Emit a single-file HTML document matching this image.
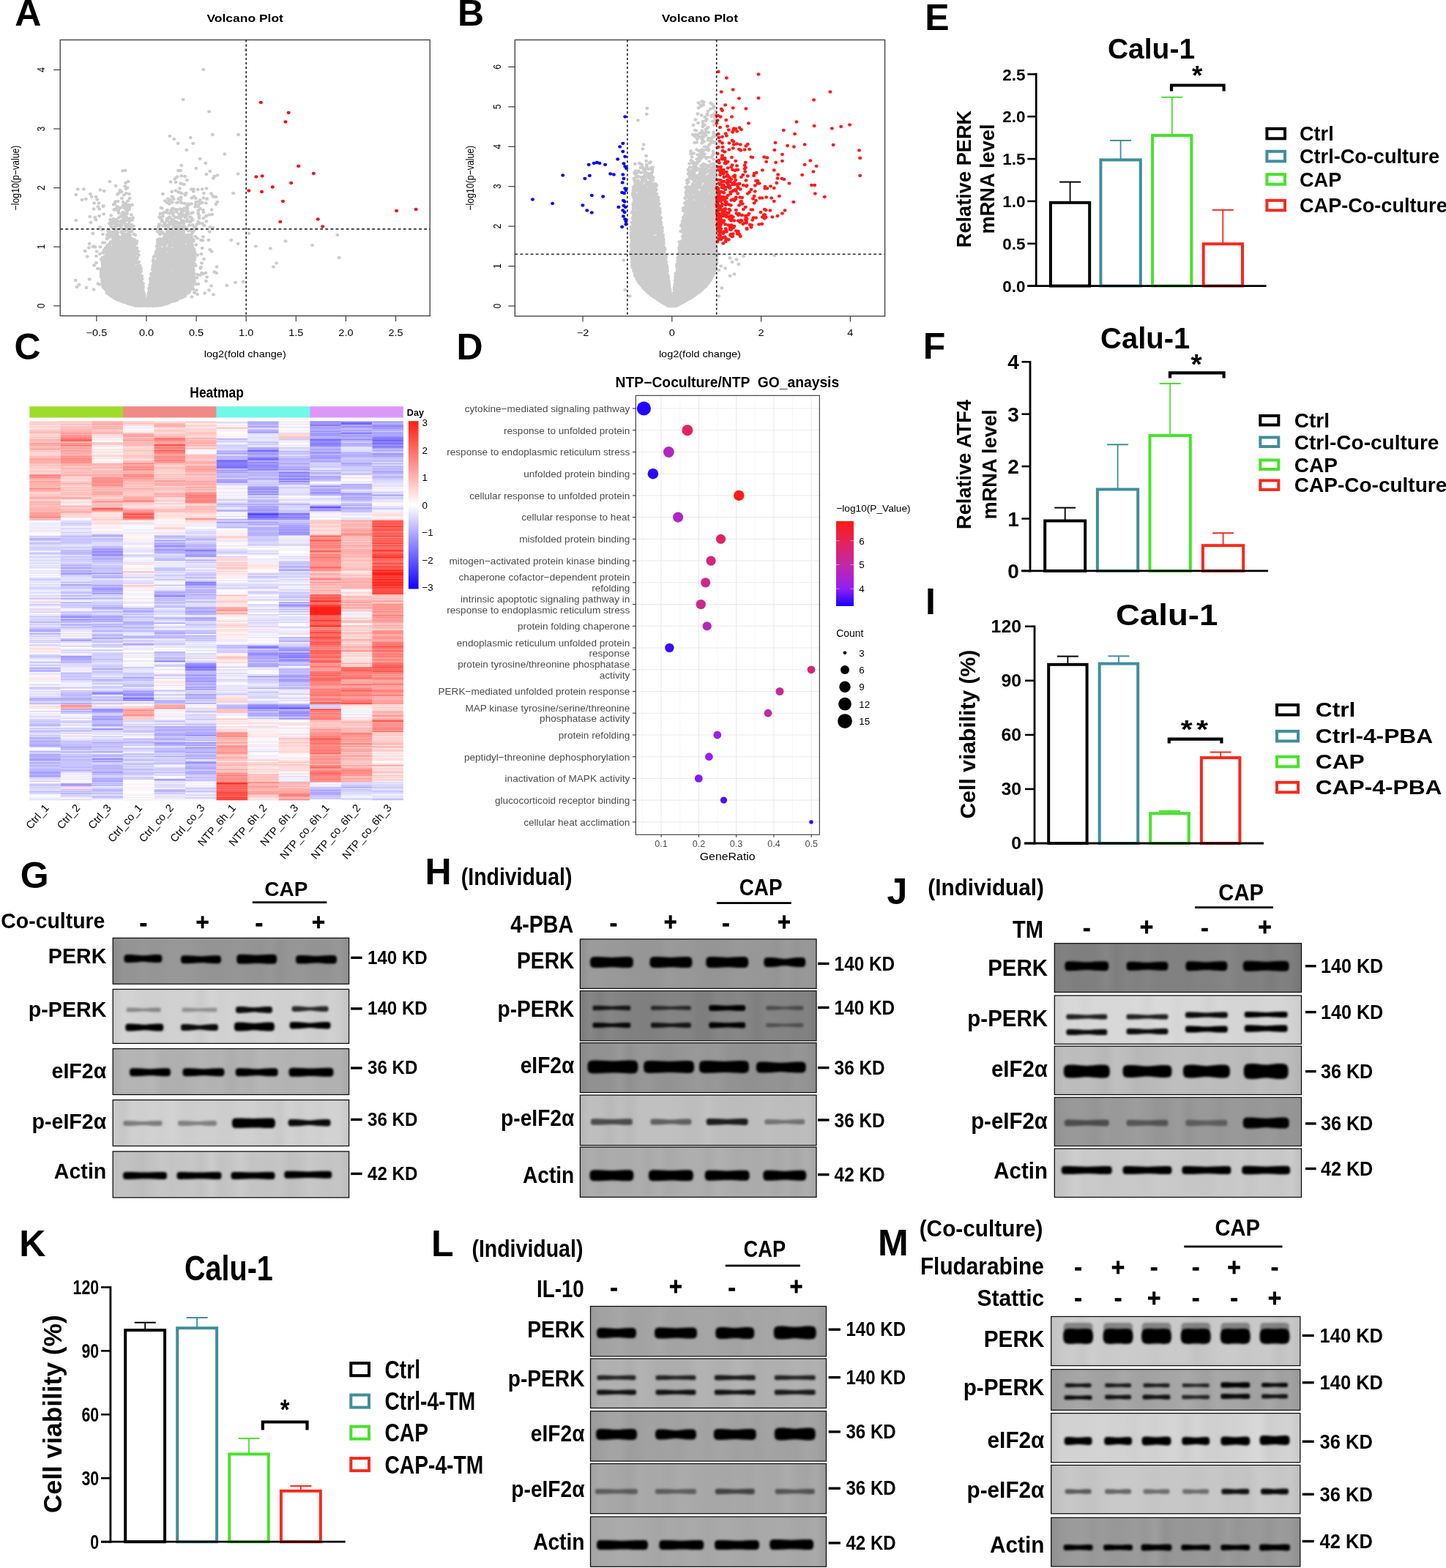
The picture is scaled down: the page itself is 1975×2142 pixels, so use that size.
<!DOCTYPE html>
<html><head><meta charset="utf-8"><title>Figure</title><style>html,body{margin:0;padding:0;background:#fff}svg{display:block}text{font-family:"Liberation Sans", sans-serif}</style></head><body>
<svg width="1975" height="2142" viewBox="0 0 1975 2142">

<rect width="1975" height="2142" fill="#fff"/>
<text transform="translate(334.7 30) scale(1.180 1.000)" font-size="14.8" font-weight="bold" text-anchor="middle">Volcano Plot</text>
<text transform="translate(334.7 488) scale(1.180 1.000)" font-size="12.3" text-anchor="middle">log2(fold change)</text>
<text transform="translate(25.7 243) rotate(-90) scale(1.000 1.180)" font-size="12.3" text-anchor="middle">−log10(p−value)</text>
<path d="M131.9 431.5L131.9 439" stroke="#3a3a3a" stroke-width="1.2"/>
<text transform="translate(131.9 458.6) scale(1.180 1.000)" font-size="12.3" text-anchor="middle">−0.5</text>
<path d="M200 431.5L200 439" stroke="#3a3a3a" stroke-width="1.2"/>
<text transform="translate(200 458.6) scale(1.180 1.000)" font-size="12.3" text-anchor="middle">0.0</text>
<path d="M268.1 431.5L268.1 439" stroke="#3a3a3a" stroke-width="1.2"/>
<text transform="translate(268.1 458.6) scale(1.180 1.000)" font-size="12.3" text-anchor="middle">0.5</text>
<path d="M336.2 431.5L336.2 439" stroke="#3a3a3a" stroke-width="1.2"/>
<text transform="translate(336.2 458.6) scale(1.180 1.000)" font-size="12.3" text-anchor="middle">1.0</text>
<path d="M404.3 431.5L404.3 439" stroke="#3a3a3a" stroke-width="1.2"/>
<text transform="translate(404.3 458.6) scale(1.180 1.000)" font-size="12.3" text-anchor="middle">1.5</text>
<path d="M472.4 431.5L472.4 439" stroke="#3a3a3a" stroke-width="1.2"/>
<text transform="translate(472.4 458.6) scale(1.180 1.000)" font-size="12.3" text-anchor="middle">2.0</text>
<path d="M540.5 431.5L540.5 439" stroke="#3a3a3a" stroke-width="1.2"/>
<text transform="translate(540.5 458.6) scale(1.180 1.000)" font-size="12.3" text-anchor="middle">2.5</text>
<path d="M82.2 417.8L73.2 417.8" stroke="#3a3a3a" stroke-width="1.2"/>
<text transform="translate(61.2 417.8) rotate(-90) scale(1.000 1.180)" font-size="12.3" text-anchor="middle">0</text>
<path d="M82.2 337.2L73.2 337.2" stroke="#3a3a3a" stroke-width="1.2"/>
<text transform="translate(61.2 337.2) rotate(-90) scale(1.000 1.180)" font-size="12.3" text-anchor="middle">1</text>
<path d="M82.2 256.6L73.2 256.6" stroke="#3a3a3a" stroke-width="1.2"/>
<text transform="translate(61.2 256.6) rotate(-90) scale(1.000 1.180)" font-size="12.3" text-anchor="middle">2</text>
<path d="M82.2 176L73.2 176" stroke="#3a3a3a" stroke-width="1.2"/>
<text transform="translate(61.2 176) rotate(-90) scale(1.000 1.180)" font-size="12.3" text-anchor="middle">3</text>
<path d="M82.2 95.4L73.2 95.4" stroke="#3a3a3a" stroke-width="1.2"/>
<text transform="translate(61.2 95.4) rotate(-90) scale(1.000 1.180)" font-size="12.3" text-anchor="middle">4</text>
<path transform="scale(1.180 1)" d="M87.5 383h0M88 266h0M88 301h0M89 392h0M90 258.5h0M91.5 389h0M95 273h0M97 258.5h0M98.5 343h0M99.5 272h0M100 393h0M101 350.5h0M103 338.5h0M103.5 333h0M103.5 381.5h0M104 296h0M104.5 265h0M105 304h0M106 268.5h0M107.5 319h0M107.5 337h0M108.5 285.5h0M108.5 395.5h0M109 277.5h0M109 336.5h0M109 362.5h0M110 297h0M110 337.5h0M111 269h0M111 300.5h0M111.5 350h0M111.5 359h0M112 343.5h0M112.5 272.5h0M113 367h0M113.5 282.5h0M113.5 387.5h0M114.5 277.5h0M114.5 388.5h0M115 285.5h0M115 295h0M115.5 310.5h0M115.5 347h0M116 259.5h0M116 337.5h0M116.5 367.5h0M117 354.5h0M117 369h0M117 372h0M117 374h0M117 377.5h0M117 388.5h0M118 314h0M118 354.5h0M118 378.5h0M118 380h0M118.5 352h0M118.5 358.5h0M118.5 371h0M118.5 371.5h0M118.5 374h0M118.5 377h0M118.5 377.5h0M118.5 382h0M118.5 383h0M118.5 384h0M119 320h0M119 331.5h0M119 345h0M119 361.5h0M119 362.5h0M119 365h0M119 373.5h0M119 378h0M119 379h0M119 385h0M119 386h0M119.5 281h0M119.5 282h0M119.5 345.5h0M119.5 359h0M119.5 359.5h0M119.5 367h0M119.5 370h0M119.5 374h0M119.5 387.5h0M119.5 392h0M119.5 392.5h0M120 292.5h0M120 344.5h0M120 355.5h0M120 366.5h0M120 368h0M120 369.5h0M120 374.5h0M120 380.5h0M120 387.5h0M120 388h0M120 391.5h0M120 392h0M120 393h0M120.5 261h0M120.5 341.5h0M120.5 354h0M120.5 367h0M120.5 373h0M120.5 375h0M120.5 377h0M120.5 379.5h0M120.5 380h0M120.5 381h0M120.5 383.5h0M120.5 393h0M121 331.5h0M121 343.5h0M121 350.5h0M121 353h0M121 356h0M121 367.5h0M121 382h0M121 386h0M121 387h0M121 388h0M121 388.5h0M121 389h0M121.5 362h0M121.5 362.5h0M121.5 370h0M121.5 378.5h0M121.5 380h0M121.5 383.5h0M121.5 388.5h0M121.5 392h0M121.5 394.5h0M122 339h0M122 357h0M122 365.5h0M122 368h0M122 374h0M122 379.5h0M122 381h0M122 382h0M122 393h0M122.5 343h0M122.5 344h0M122.5 349.5h0M122.5 350.5h0M122.5 360h0M122.5 377h0M122.5 378h0M122.5 378.5h0M122.5 386h0M122.5 386.5h0M122.5 387.5h0M122.5 393.5h0M122.5 396h0M123 355h0M123 356.5h0M123 360h0M123 366h0M123 375h0M123 376h0M123 378.5h0M123 389h0M123 391.5h0M123 395.5h0M123.5 346h0M123.5 347.5h0M123.5 349h0M123.5 354.5h0M123.5 357.5h0M123.5 360.5h0M123.5 363.5h0M123.5 374h0M123.5 375h0M123.5 383h0M123.5 384.5h0M123.5 387h0M123.5 391.5h0M123.5 397.5h0M123.5 400h0M124 321h0M124 325.5h0M124 326.5h0M124 336h0M124 340.5h0M124 343h0M124 355h0M124 356h0M124 366.5h0M124 376.5h0M124 380h0M124 387h0M124 389.5h0M124 392h0M124 395.5h0M124.5 324.5h0M124.5 343.5h0M124.5 344h0M124.5 345h0M124.5 353h0M124.5 354h0M124.5 358h0M124.5 365.5h0M124.5 370h0M124.5 373h0M124.5 376h0M124.5 379h0M124.5 391.5h0M124.5 394.5h0M124.5 400h0M125 314.5h0M125 342h0M125 349.5h0M125 353.5h0M125 358h0M125 360h0M125 360.5h0M125 363h0M125 376h0M125 378h0M125 387.5h0M125 395h0M125 396h0M125 401h0M125.5 316.5h0M125.5 334h0M125.5 341.5h0M125.5 355h0M125.5 360h0M125.5 361h0M125.5 362h0M125.5 377.5h0M125.5 380.5h0M125.5 385h0M125.5 386h0M125.5 387.5h0M125.5 389.5h0M125.5 391h0M125.5 392.5h0M125.5 397h0M125.5 399h0M125.5 401.5h0M126 318h0M126 321h0M126 339h0M126 348.5h0M126 355h0M126 356.5h0M126 362h0M126 364.5h0M126 369.5h0M126 372.5h0M126 384.5h0M126 386.5h0M126 387.5h0M126 389.5h0M126 390h0M126 396h0M126 398.5h0M126 399.5h0M126.5 305.5h0M126.5 315h0M126.5 315.5h0M126.5 318h0M126.5 322h0M126.5 340.5h0M126.5 341.5h0M126.5 344h0M126.5 349h0M126.5 353h0M126.5 356.5h0M126.5 357.5h0M126.5 360h0M126.5 365.5h0M126.5 370h0M126.5 370.5h0M126.5 371h0M126.5 373h0M126.5 376h0M126.5 377.5h0M126.5 378.5h0M126.5 384h0M126.5 393h0M126.5 397.5h0M126.5 398.5h0M127 248h0M127 322h0M127 324h0M127 333.5h0M127 337h0M127 339.5h0M127 359h0M127 365h0M127 365.5h0M127 366.5h0M127 367.5h0M127 369h0M127 373h0M127 382h0M127 382.5h0M127 385.5h0M127 387.5h0M127 389h0M127 391h0M127 396.5h0M127 402h0M127.5 300h0M127.5 321.5h0M127.5 345.5h0M127.5 350.5h0M127.5 358.5h0M127.5 364h0M127.5 369h0M127.5 373.5h0M127.5 380h0M127.5 381h0M127.5 388.5h0M127.5 397.5h0M127.5 399.5h0M127.5 403.5h0M128 319h0M128 323.5h0M128 330.5h0M128 338.5h0M128 342.5h0M128 346.5h0M128 350h0M128 355h0M128 358.5h0M128 366.5h0M128 368h0M128 373.5h0M128 375.5h0M128 377h0M128 379h0M128 380h0M128 380.5h0M128 383.5h0M128 386.5h0M128 388h0M128 388.5h0M128 390.5h0M128 391.5h0M128 398h0M128 401.5h0M128.5 294.5h0M128.5 303h0M128.5 308h0M128.5 309.5h0M128.5 340h0M128.5 344h0M128.5 347.5h0M128.5 350h0M128.5 350.5h0M128.5 354h0M128.5 359h0M128.5 361.5h0M128.5 367h0M128.5 371h0M128.5 371.5h0M128.5 372.5h0M128.5 380h0M128.5 381h0M128.5 382h0M128.5 387h0M128.5 389h0M128.5 389.5h0M128.5 391.5h0M128.5 393.5h0M128.5 394h0M128.5 396h0M128.5 400h0M128.5 400.5h0M129 303.5h0M129 323h0M129 339h0M129 344.5h0M129 350.5h0M129 354h0M129 359.5h0M129 366.5h0M129 367.5h0M129 373h0M129 374h0M129 389.5h0M129 392h0M129 393h0M129 397h0M129 401h0M129 402h0M129 403h0M129 405h0M129.5 311h0M129.5 345.5h0M129.5 355h0M129.5 356h0M129.5 358h0M129.5 366.5h0M129.5 370h0M129.5 371h0M129.5 372h0M129.5 373h0M129.5 378.5h0M129.5 381h0M129.5 383h0M129.5 390.5h0M129.5 392.5h0M129.5 395h0M129.5 397.5h0M130 302.5h0M130 331.5h0M130 338h0M130 349.5h0M130 350h0M130 356.5h0M130 378.5h0M130 380.5h0M130 383h0M130 385.5h0M130 390.5h0M130 391.5h0M130 396.5h0M130 397h0M130 400.5h0M130.5 303h0M130.5 305.5h0M130.5 317h0M130.5 322h0M130.5 340.5h0M130.5 350h0M130.5 351.5h0M130.5 356h0M130.5 356.5h0M130.5 362.5h0M130.5 364h0M130.5 368.5h0M130.5 369h0M130.5 374h0M130.5 376h0M130.5 377h0M130.5 382.5h0M130.5 385.5h0M130.5 386h0M130.5 387h0M130.5 389h0M130.5 390h0M130.5 392h0M130.5 397h0M130.5 399h0M130.5 401.5h0M130.5 405.5h0M131 326.5h0M131 329h0M131 333.5h0M131 342.5h0M131 351.5h0M131 357.5h0M131 359h0M131 364.5h0M131 368.5h0M131 383h0M131 384.5h0M131 385h0M131 386.5h0M131 389.5h0M131 393.5h0M131 395h0M131 400h0M131 402h0M131.5 279.5h0M131.5 299h0M131.5 317.5h0M131.5 326.5h0M131.5 336.5h0M131.5 339h0M131.5 340h0M131.5 347.5h0M131.5 350.5h0M131.5 352h0M131.5 361.5h0M131.5 364.5h0M131.5 368h0M131.5 380h0M131.5 383h0M131.5 385h0M131.5 386h0M131.5 394.5h0M131.5 398h0M131.5 399h0M131.5 401h0M131.5 403h0M131.5 403.5h0M131.5 404.5h0M132 279h0M132 286.5h0M132 319h0M132 329.5h0M132 347.5h0M132 361.5h0M132 366h0M132 368h0M132 378h0M132 378.5h0M132 380.5h0M132 381.5h0M132 387h0M132 389h0M132 393.5h0M132 395h0M132 396h0M132 398h0M132 402.5h0M132 403h0M132 404h0M132 406h0M132 407h0M132.5 302h0M132.5 322h0M132.5 331h0M132.5 345h0M132.5 350h0M132.5 351h0M132.5 353h0M132.5 361h0M132.5 365.5h0M132.5 368h0M132.5 376.5h0M132.5 381.5h0M132.5 386h0M132.5 388h0M132.5 391h0M132.5 392h0M132.5 397h0M132.5 397.5h0M132.5 398h0M132.5 407.5h0M133 278.5h0M133 304.5h0M133 309.5h0M133 315.5h0M133 328h0M133 336h0M133 354h0M133 358.5h0M133 368h0M133 371h0M133 375.5h0M133 379h0M133 380.5h0M133 382.5h0M133 383.5h0M133 388.5h0M133 390.5h0M133 393.5h0M133 396.5h0M133 400h0M133 402h0M133 406.5h0M133.5 275.5h0M133.5 306h0M133.5 310h0M133.5 316.5h0M133.5 318.5h0M133.5 329.5h0M133.5 337.5h0M133.5 353h0M133.5 357.5h0M133.5 367.5h0M133.5 368h0M133.5 370h0M133.5 373.5h0M133.5 376h0M133.5 377h0M133.5 381.5h0M133.5 383.5h0M133.5 384h0M133.5 385h0M133.5 387h0M133.5 389h0M133.5 391.5h0M133.5 397h0M133.5 397.5h0M133.5 399h0M133.5 400.5h0M133.5 404.5h0M133.5 408h0M134 254h0M134 285.5h0M134 286.5h0M134 318h0M134 324h0M134 332.5h0M134 335.5h0M134 338h0M134 339.5h0M134 344h0M134 344.5h0M134 355.5h0M134 360h0M134 369h0M134 374h0M134 382h0M134 383h0M134 383.5h0M134 384.5h0M134 385h0M134 390.5h0M134 391h0M134 399.5h0M134 403h0M134 406.5h0M134 407.5h0M134.5 285.5h0M134.5 300h0M134.5 304h0M134.5 309.5h0M134.5 315h0M134.5 322h0M134.5 348h0M134.5 352h0M134.5 358h0M134.5 360h0M134.5 368h0M134.5 373h0M134.5 374.5h0M134.5 377h0M134.5 380.5h0M134.5 386.5h0M134.5 389h0M134.5 390.5h0M134.5 391h0M134.5 393h0M134.5 393.5h0M134.5 395.5h0M134.5 398h0M134.5 400.5h0M134.5 402.5h0M134.5 403.5h0M134.5 406.5h0M134.5 408.5h0M135 314h0M135 318.5h0M135 329h0M135 329.5h0M135 341h0M135 356.5h0M135 357h0M135 368.5h0M135 372h0M135 373.5h0M135 375.5h0M135 376.5h0M135 377.5h0M135 386h0M135 388.5h0M135 391h0M135 392.5h0M135 394.5h0M135 398.5h0M135 399.5h0M135 401.5h0M135 405.5h0M135 406.5h0M135 407.5h0M135 408h0M135 409h0M135.5 282.5h0M135.5 303h0M135.5 325h0M135.5 327h0M135.5 330.5h0M135.5 331.5h0M135.5 334.5h0M135.5 336.5h0M135.5 339h0M135.5 349h0M135.5 350.5h0M135.5 352h0M135.5 360h0M135.5 363.5h0M135.5 364.5h0M135.5 365h0M135.5 365.5h0M135.5 367.5h0M135.5 376.5h0M135.5 378.5h0M135.5 380h0M135.5 381.5h0M135.5 383h0M135.5 384h0M135.5 390.5h0M135.5 391.5h0M135.5 395h0M135.5 398h0M135.5 400.5h0M135.5 401h0M135.5 402h0M135.5 403.5h0M135.5 404.5h0M135.5 405h0M135.5 408.5h0M136 265.5h0M136 282.5h0M136 302h0M136 314h0M136 317.5h0M136 318.5h0M136 322h0M136 332.5h0M136 333h0M136 335h0M136 347h0M136 356h0M136 357h0M136 359h0M136 360.5h0M136 364.5h0M136 365h0M136 368.5h0M136 372.5h0M136 379h0M136 380.5h0M136 386h0M136 388h0M136 390.5h0M136 396h0M136 397.5h0M136 398.5h0M136 400.5h0M136 401h0M136 402h0M136 405h0M136 407h0M136 408.5h0M136 409.5h0M136.5 275h0M136.5 307h0M136.5 308h0M136.5 323h0M136.5 334.5h0M136.5 362h0M136.5 367h0M136.5 369h0M136.5 374h0M136.5 375h0M136.5 377.5h0M136.5 378.5h0M136.5 380.5h0M136.5 382h0M136.5 385.5h0M136.5 392.5h0M136.5 393.5h0M136.5 397h0M136.5 399.5h0M136.5 402.5h0M136.5 405.5h0M136.5 407.5h0M137 264.5h0M137 287h0M137 288h0M137 325.5h0M137 336.5h0M137 340.5h0M137 342h0M137 342.5h0M137 343.5h0M137 346.5h0M137 351.5h0M137 352h0M137 355h0M137 359.5h0M137 371h0M137 373h0M137 376h0M137 377.5h0M137 380.5h0M137 383h0M137 385.5h0M137 386.5h0M137 387.5h0M137 388.5h0M137 390.5h0M137 397h0M137 399h0M137 403h0M137 405h0M137 406h0M137.5 291h0M137.5 297.5h0M137.5 313h0M137.5 323.5h0M137.5 329h0M137.5 330h0M137.5 338h0M137.5 340h0M137.5 356h0M137.5 366h0M137.5 366.5h0M137.5 370h0M137.5 375h0M137.5 376.5h0M137.5 381.5h0M137.5 389h0M137.5 389.5h0M137.5 391h0M137.5 392h0M137.5 393h0M137.5 399.5h0M137.5 401h0M137.5 402h0M137.5 408h0M138 325h0M138 334.5h0M138 347h0M138 348h0M138 376.5h0M138 379.5h0M138 380h0M138 381.5h0M138 383h0M138 385.5h0M138 392h0M138 393.5h0M138 398h0M138 399.5h0M138 400h0M138 402h0M138 403.5h0M138 406.5h0M138.5 331.5h0M138.5 334.5h0M138.5 346h0M138.5 357h0M138.5 358h0M138.5 361.5h0M138.5 364h0M138.5 379.5h0M138.5 380h0M138.5 388h0M138.5 391h0M138.5 393h0M138.5 393.5h0M138.5 397h0M138.5 397.5h0M138.5 398h0M138.5 400.5h0M138.5 406h0M138.5 406.5h0M138.5 410.5h0M139 260h0M139 262.5h0M139 303h0M139 332h0M139 339.5h0M139 342h0M139 353h0M139 360h0M139 361.5h0M139 363.5h0M139 365.5h0M139 369.5h0M139 373h0M139 374.5h0M139 387h0M139 388.5h0M139 393h0M139 394h0M139 395.5h0M139 401h0M139 405.5h0M139 408h0M139 409h0M139.5 284h0M139.5 296h0M139.5 340.5h0M139.5 345h0M139.5 345.5h0M139.5 354.5h0M139.5 359.5h0M139.5 361h0M139.5 362h0M139.5 364h0M139.5 367h0M139.5 368h0M139.5 377.5h0M139.5 378.5h0M139.5 383h0M139.5 388.5h0M139.5 389.5h0M139.5 390.5h0M139.5 393.5h0M139.5 398.5h0M139.5 400h0M139.5 402h0M139.5 403.5h0M139.5 406.5h0M139.5 407.5h0M139.5 408h0M139.5 409.5h0M139.5 410h0M139.5 410.5h0M140 307.5h0M140 310h0M140 339h0M140 344.5h0M140 353.5h0M140 354h0M140 361h0M140 366.5h0M140 379.5h0M140 382h0M140 383.5h0M140 386.5h0M140 387.5h0M140 389h0M140 396h0M140 397.5h0M140 398.5h0M140 399h0M140 399.5h0M140 400.5h0M140 405.5h0M140 407.5h0M140 408.5h0M140 409.5h0M140 411h0M140.5 262h0M140.5 303.5h0M140.5 306h0M140.5 307h0M140.5 307.5h0M140.5 317h0M140.5 342h0M140.5 348h0M140.5 349h0M140.5 352.5h0M140.5 360h0M140.5 364.5h0M140.5 367h0M140.5 375h0M140.5 375.5h0M140.5 377h0M140.5 383h0M140.5 383.5h0M140.5 385h0M140.5 389.5h0M140.5 390h0M140.5 398h0M140.5 399.5h0M140.5 402.5h0M140.5 403.5h0M140.5 408.5h0M140.5 409.5h0M141 271h0M141 294.5h0M141 301.5h0M141 317.5h0M141 323.5h0M141 324.5h0M141 325.5h0M141 336h0M141 338h0M141 341.5h0M141 344.5h0M141 346.5h0M141 356h0M141 357.5h0M141 358.5h0M141 360.5h0M141 366.5h0M141 367.5h0M141 377h0M141 379h0M141 381h0M141 382.5h0M141 386h0M141 386.5h0M141 389h0M141 391h0M141 393.5h0M141 394h0M141 395.5h0M141 396h0M141 396.5h0M141 398h0M141 402h0M141 404h0M141 405.5h0M141 408.5h0M141 410h0M141.5 292.5h0M141.5 312.5h0M141.5 319h0M141.5 323.5h0M141.5 329h0M141.5 331.5h0M141.5 332h0M141.5 333.5h0M141.5 337.5h0M141.5 354.5h0M141.5 361.5h0M141.5 372h0M141.5 372.5h0M141.5 373.5h0M141.5 378h0M141.5 384.5h0M141.5 385.5h0M141.5 387h0M141.5 389.5h0M141.5 394h0M141.5 396.5h0M141.5 398h0M141.5 398.5h0M141.5 400h0M141.5 401.5h0M141.5 403h0M141.5 406h0M141.5 407.5h0M141.5 409h0M141.5 410h0M141.5 411h0M141.5 412h0M142 233.5h0M142 294.5h0M142 316h0M142 326h0M142 339.5h0M142 352h0M142 352.5h0M142 353.5h0M142 361.5h0M142 365.5h0M142 367h0M142 374h0M142 379.5h0M142 380h0M142 386h0M142 387h0M142 387.5h0M142 389.5h0M142 390h0M142 393.5h0M142 397h0M142 397.5h0M142 399h0M142 399.5h0M142 401h0M142 404h0M142 405.5h0M142 410h0M142 410.5h0M142 412h0M142.5 276h0M142.5 281.5h0M142.5 290h0M142.5 304h0M142.5 327.5h0M142.5 330h0M142.5 331.5h0M142.5 332.5h0M142.5 338h0M142.5 342.5h0M142.5 343.5h0M142.5 352.5h0M142.5 358.5h0M142.5 369.5h0M142.5 376.5h0M142.5 377h0M142.5 377.5h0M142.5 380h0M142.5 381.5h0M142.5 382.5h0M142.5 384h0M142.5 386h0M142.5 386.5h0M142.5 390h0M142.5 391h0M142.5 393h0M142.5 394.5h0M142.5 398h0M142.5 400.5h0M142.5 402h0M142.5 403h0M142.5 406h0M142.5 409h0M142.5 412.5h0M143 280h0M143 298.5h0M143 301.5h0M143 320h0M143 326h0M143 334.5h0M143 337h0M143 343h0M143 343.5h0M143 348.5h0M143 355.5h0M143 369.5h0M143 371.5h0M143 376h0M143 376.5h0M143 377h0M143 377.5h0M143 378.5h0M143 379.5h0M143 383h0M143 384h0M143 386.5h0M143 391.5h0M143 395h0M143 397.5h0M143 402.5h0M143 403.5h0M143 407.5h0M143 408h0M143 410h0M143 412.5h0M143.5 266.5h0M143.5 299.5h0M143.5 303.5h0M143.5 313h0M143.5 319.5h0M143.5 326.5h0M143.5 330h0M143.5 344.5h0M143.5 354h0M143.5 354.5h0M143.5 370.5h0M143.5 374.5h0M143.5 386.5h0M143.5 390.5h0M143.5 391h0M143.5 392h0M143.5 393h0M143.5 394.5h0M143.5 395.5h0M143.5 399.5h0M143.5 400.5h0M143.5 403h0M143.5 404.5h0M143.5 408h0M143.5 408.5h0M143.5 410.5h0M143.5 411.5h0M143.5 412.5h0M144 281.5h0M144 284.5h0M144 321h0M144 331.5h0M144 332.5h0M144 333h0M144 336h0M144 350.5h0M144 361h0M144 365h0M144 369h0M144 374.5h0M144 376h0M144 380h0M144 385h0M144 386h0M144 388h0M144 391h0M144 401.5h0M144 403.5h0M144 404h0M144 406.5h0M144 407.5h0M144 410h0M144 412h0M144 412.5h0M144.5 254.5h0M144.5 314.5h0M144.5 321.5h0M144.5 336h0M144.5 338h0M144.5 342.5h0M144.5 346.5h0M144.5 351.5h0M144.5 353.5h0M144.5 357h0M144.5 358.5h0M144.5 362h0M144.5 362.5h0M144.5 364.5h0M144.5 370.5h0M144.5 376h0M144.5 377.5h0M144.5 378h0M144.5 380.5h0M144.5 381h0M144.5 383.5h0M144.5 389.5h0M144.5 390h0M144.5 392.5h0M144.5 393h0M144.5 393.5h0M144.5 394h0M144.5 394.5h0M144.5 395h0M144.5 397h0M144.5 398h0M144.5 399.5h0M144.5 400h0M144.5 402h0M144.5 402.5h0M144.5 408h0M144.5 409h0M144.5 411.5h0M144.5 412.5h0M145 233h0M145 297h0M145 299.5h0M145 308h0M145 312.5h0M145 314.5h0M145 325h0M145 325.5h0M145 334.5h0M145 337.5h0M145 338h0M145 350.5h0M145 353h0M145 353.5h0M145 369.5h0M145 371.5h0M145 372.5h0M145 376h0M145 382.5h0M145 383.5h0M145 385h0M145 390h0M145 392h0M145 394h0M145 395.5h0M145 398.5h0M145 399h0M145 401h0M145 405.5h0M145 406h0M145 410.5h0M145 413h0M145.5 250h0M145.5 278h0M145.5 292h0M145.5 293.5h0M145.5 294h0M145.5 298.5h0M145.5 306.5h0M145.5 315h0M145.5 332.5h0M145.5 336h0M145.5 347h0M145.5 355h0M145.5 364.5h0M145.5 365h0M145.5 370.5h0M145.5 373h0M145.5 375h0M145.5 379h0M145.5 385.5h0M145.5 386h0M145.5 387h0M145.5 393h0M145.5 394.5h0M145.5 398.5h0M145.5 400h0M145.5 402.5h0M145.5 403h0M145.5 403.5h0M145.5 406.5h0M145.5 409h0M145.5 411.5h0M145.5 412.5h0M146 258h0M146 264h0M146 301h0M146 312h0M146 313h0M146 328.5h0M146 335h0M146 340.5h0M146 352h0M146 361.5h0M146 364.5h0M146 375h0M146 379.5h0M146 384.5h0M146 389h0M146 393.5h0M146 395h0M146 397h0M146 399.5h0M146 400.5h0M146 403.5h0M146 405h0M146 406h0M146 407h0M146 409h0M146 411.5h0M146 412.5h0M146 413h0M146.5 281.5h0M146.5 286h0M146.5 287.5h0M146.5 297h0M146.5 301h0M146.5 320h0M146.5 332h0M146.5 337h0M146.5 344h0M146.5 350.5h0M146.5 363.5h0M146.5 365h0M146.5 372h0M146.5 373.5h0M146.5 375.5h0M146.5 383.5h0M146.5 385.5h0M146.5 388h0M146.5 396h0M146.5 400h0M146.5 402.5h0M146.5 408h0M146.5 408.5h0M146.5 409.5h0M146.5 411h0M147 288.5h0M147 292h0M147 308.5h0M147 319.5h0M147 337h0M147 340.5h0M147 345h0M147 353.5h0M147 357h0M147 363.5h0M147 364h0M147 365h0M147 379.5h0M147 381.5h0M147 382h0M147 383h0M147 387.5h0M147 388h0M147 391.5h0M147 392.5h0M147 397.5h0M147 398h0M147 399h0M147 399.5h0M147 400.5h0M147 401.5h0M147 402.5h0M147 403h0M147 404h0M147 408h0M147 412.5h0M147 413.5h0M147 414h0M147.5 256.5h0M147.5 282h0M147.5 312h0M147.5 326h0M147.5 332h0M147.5 345.5h0M147.5 352.5h0M147.5 359h0M147.5 367h0M147.5 371h0M147.5 378h0M147.5 378.5h0M147.5 382.5h0M147.5 385.5h0M147.5 398h0M147.5 398.5h0M147.5 399h0M147.5 407.5h0M147.5 409h0M147.5 411.5h0M147.5 412h0M147.5 414.5h0M148 274.5h0M148 311h0M148 323.5h0M148 325h0M148 326h0M148 326.5h0M148 329h0M148 340.5h0M148 343.5h0M148 344.5h0M148 348h0M148 352.5h0M148 357.5h0M148 362.5h0M148 364.5h0M148 370.5h0M148 372h0M148 383.5h0M148 384h0M148 387.5h0M148 390h0M148 391.5h0M148 392h0M148 393h0M148 394h0M148 395.5h0M148 396.5h0M148 397h0M148 397.5h0M148 399h0M148 402h0M148 403.5h0M148 407.5h0M148 408h0M148 409.5h0M148 410h0M148 412h0M148 413h0M148.5 248h0M148.5 299.5h0M148.5 314.5h0M148.5 328.5h0M148.5 335.5h0M148.5 337.5h0M148.5 338h0M148.5 340.5h0M148.5 344h0M148.5 345.5h0M148.5 348h0M148.5 350.5h0M148.5 352.5h0M148.5 359h0M148.5 362h0M148.5 367h0M148.5 367.5h0M148.5 368.5h0M148.5 375h0M148.5 375.5h0M148.5 379.5h0M148.5 380h0M148.5 380.5h0M148.5 382h0M148.5 386h0M148.5 391h0M148.5 392.5h0M148.5 397h0M148.5 403.5h0M148.5 404h0M148.5 404.5h0M148.5 405h0M148.5 412.5h0M149 280h0M149 306h0M149 321.5h0M149 325.5h0M149 329.5h0M149 333.5h0M149 335h0M149 346.5h0M149 351h0M149 357h0M149 360h0M149 371h0M149 372h0M149 372.5h0M149 377.5h0M149 393h0M149 394h0M149 395.5h0M149 397h0M149 398.5h0M149 402h0M149 407.5h0M149 408h0M149 409h0M149 411h0M149 413h0M149 415h0M149.5 265h0M149.5 284h0M149.5 286h0M149.5 300h0M149.5 318.5h0M149.5 321.5h0M149.5 323.5h0M149.5 339.5h0M149.5 360.5h0M149.5 361.5h0M149.5 369.5h0M149.5 371.5h0M149.5 376.5h0M149.5 378h0M149.5 382.5h0M149.5 388h0M149.5 389h0M149.5 389.5h0M149.5 390h0M149.5 390.5h0M149.5 392.5h0M149.5 396.5h0M149.5 397h0M149.5 401.5h0M149.5 402h0M149.5 403h0M149.5 404.5h0M149.5 405h0M149.5 407h0M149.5 408.5h0M149.5 410h0M149.5 411h0M149.5 412.5h0M149.5 414.5h0M150 271h0M150 282h0M150 298.5h0M150 302.5h0M150 309.5h0M150 325.5h0M150 328.5h0M150 329h0M150 335.5h0M150 336.5h0M150 347h0M150 354.5h0M150 357h0M150 357.5h0M150 363.5h0M150 364.5h0M150 372h0M150 372.5h0M150 373h0M150 373.5h0M150 376h0M150 376.5h0M150 377h0M150 378.5h0M150 385h0M150 392h0M150 395h0M150 399h0M150 400h0M150 400.5h0M150 405h0M150 409h0M150 409.5h0M150 410.5h0M150 412h0M150 412.5h0M150 414h0M150.5 314.5h0M150.5 321.5h0M150.5 325h0M150.5 337.5h0M150.5 356h0M150.5 363h0M150.5 370h0M150.5 374h0M150.5 380.5h0M150.5 386.5h0M150.5 387.5h0M150.5 397.5h0M150.5 398.5h0M150.5 406h0M150.5 407h0M150.5 408h0M150.5 409h0M150.5 410h0M150.5 410.5h0M150.5 411h0M150.5 411.5h0M150.5 412.5h0M151 317h0M151 334h0M151 348.5h0M151 359.5h0M151 363h0M151 365h0M151 378h0M151 380h0M151 381.5h0M151 383h0M151 386.5h0M151 389h0M151 389.5h0M151 390.5h0M151 396h0M151 398h0M151 405h0M151 406h0M151 407h0M151 407.5h0M151 408h0M151 409h0M151 410h0M151 410.5h0M151 411h0M151 411.5h0M151 414.5h0M151 415h0M151.5 332h0M151.5 335.5h0M151.5 352.5h0M151.5 359h0M151.5 360h0M151.5 361.5h0M151.5 369.5h0M151.5 372.5h0M151.5 382.5h0M151.5 386h0M151.5 386.5h0M151.5 388h0M151.5 394h0M151.5 395h0M151.5 395.5h0M151.5 397h0M151.5 398.5h0M151.5 402h0M151.5 405.5h0M151.5 406h0M151.5 407h0M151.5 409.5h0M151.5 410h0M151.5 410.5h0M151.5 413h0M151.5 413.5h0M151.5 414h0M151.5 414.5h0M151.5 416h0M152 293.5h0M152 307h0M152 310h0M152 310.5h0M152 337.5h0M152 339.5h0M152 341.5h0M152 346h0M152 348h0M152 361h0M152 367h0M152 369.5h0M152 370.5h0M152 384.5h0M152 388.5h0M152 392.5h0M152 394.5h0M152 395h0M152 396h0M152 398h0M152 399h0M152 401h0M152 401.5h0M152 402h0M152 402.5h0M152 408h0M152 408.5h0M152 410h0M152 410.5h0M152 412h0M152 413h0M152 414h0M152.5 309h0M152.5 316h0M152.5 326h0M152.5 341.5h0M152.5 344h0M152.5 344.5h0M152.5 352h0M152.5 357h0M152.5 368h0M152.5 369.5h0M152.5 370h0M152.5 370.5h0M152.5 374.5h0M152.5 380h0M152.5 380.5h0M152.5 384.5h0M152.5 385h0M152.5 386h0M152.5 389.5h0M152.5 392h0M152.5 393h0M152.5 397.5h0M152.5 398.5h0M152.5 400.5h0M152.5 402.5h0M152.5 404h0M152.5 408h0M152.5 412h0M152.5 413h0M152.5 414h0M152.5 414.5h0M152.5 415h0M153 280h0M153 300.5h0M153 313.5h0M153 329.5h0M153 331.5h0M153 338h0M153 338.5h0M153 339h0M153 366h0M153 368h0M153 377h0M153 377.5h0M153 384h0M153 387h0M153 394.5h0M153 398.5h0M153 400h0M153 401.5h0M153 402h0M153 406h0M153 406.5h0M153 407h0M153 408.5h0M153 411h0M153 412h0M153 413h0M153 413.5h0M153 415h0M153.5 342h0M153.5 342.5h0M153.5 360h0M153.5 364.5h0M153.5 370h0M153.5 382.5h0M153.5 384.5h0M153.5 388.5h0M153.5 395h0M153.5 398h0M153.5 399.5h0M153.5 401.5h0M153.5 404h0M153.5 405h0M153.5 406h0M153.5 407h0M153.5 408h0M153.5 408.5h0M153.5 410.5h0M153.5 411h0M153.5 415.5h0M154 297.5h0M154 329.5h0M154 331.5h0M154 335h0M154 354h0M154 356.5h0M154 362.5h0M154 363.5h0M154 364h0M154 369.5h0M154 371h0M154 373.5h0M154 378h0M154 379.5h0M154 384.5h0M154 389h0M154 392.5h0M154 399.5h0M154 403.5h0M154 405.5h0M154 409h0M154 409.5h0M154 410.5h0M154 411h0M154 411.5h0M154 413h0M154 413.5h0M154 415.5h0M154.5 309h0M154.5 361.5h0M154.5 363h0M154.5 365h0M154.5 367h0M154.5 373h0M154.5 377.5h0M154.5 378h0M154.5 384h0M154.5 388h0M154.5 398.5h0M154.5 400h0M154.5 402.5h0M154.5 404.5h0M154.5 405h0M154.5 407.5h0M154.5 408h0M154.5 408.5h0M154.5 411h0M154.5 413h0M154.5 414h0M154.5 414.5h0M154.5 415.5h0M155 320h0M155 329.5h0M155 344.5h0M155 362h0M155 367h0M155 374.5h0M155 379h0M155 384.5h0M155 391.5h0M155 392.5h0M155 393h0M155 395h0M155 397h0M155 398h0M155 400.5h0M155 405.5h0M155 409h0M155 409.5h0M155 410.5h0M155 411h0M155 411.5h0M155 413.5h0M155 416h0M155 417h0M155.5 327.5h0M155.5 329h0M155.5 336.5h0M155.5 347h0M155.5 348.5h0M155.5 354h0M155.5 369.5h0M155.5 372h0M155.5 377h0M155.5 381h0M155.5 387h0M155.5 390.5h0M155.5 391h0M155.5 396h0M155.5 400h0M155.5 402h0M155.5 405.5h0M155.5 406h0M155.5 406.5h0M155.5 407.5h0M155.5 409.5h0M155.5 411.5h0M155.5 415h0M155.5 415.5h0M155.5 416.5h0M155.5 417h0M156 333h0M156 338.5h0M156 343h0M156 352h0M156 355h0M156 356h0M156 357h0M156 359h0M156 369.5h0M156 372.5h0M156 375.5h0M156 383h0M156 387.5h0M156 389.5h0M156 396h0M156 396.5h0M156 403.5h0M156 405.5h0M156 408.5h0M156 409.5h0M156 410h0M156 410.5h0M156 411h0M156 413h0M156 414.5h0M156 416h0M156 416.5h0M156 417h0M156.5 321h0M156.5 339h0M156.5 344.5h0M156.5 351h0M156.5 351.5h0M156.5 357.5h0M156.5 368h0M156.5 369h0M156.5 373.5h0M156.5 380.5h0M156.5 385h0M156.5 386.5h0M156.5 387h0M156.5 389h0M156.5 390h0M156.5 397h0M156.5 398h0M156.5 401h0M156.5 401.5h0M156.5 403.5h0M156.5 404h0M156.5 404.5h0M156.5 405.5h0M156.5 406.5h0M156.5 407.5h0M156.5 408h0M156.5 410h0M156.5 410.5h0M156.5 411h0M156.5 413h0M156.5 413.5h0M156.5 414h0M156.5 414.5h0M156.5 416h0M156.5 416.5h0M156.5 417h0M156.5 417.5h0M157 357.5h0M157 372h0M157 378h0M157 380.5h0M157 383.5h0M157 394h0M157 395h0M157 398h0M157 400h0M157 402h0M157 406h0M157 409h0M157 409.5h0M157 410h0M157 410.5h0M157 411h0M157 411.5h0M157 412.5h0M157 413h0M157 413.5h0M157 417h0M157 417.5h0M157.5 332.5h0M157.5 333h0M157.5 342h0M157.5 355h0M157.5 365.5h0M157.5 366h0M157.5 368.5h0M157.5 371h0M157.5 372.5h0M157.5 377h0M157.5 378.5h0M157.5 380.5h0M157.5 386h0M157.5 387.5h0M157.5 393.5h0M157.5 394.5h0M157.5 395h0M157.5 397h0M157.5 399h0M157.5 399.5h0M157.5 401.5h0M157.5 405h0M157.5 406h0M157.5 410.5h0M157.5 413h0M157.5 413.5h0M157.5 414h0M157.5 415h0M157.5 415.5h0M157.5 416h0M157.5 416.5h0M157.5 417h0M157.5 417.5h0M158 332.5h0M158 333h0M158 341h0M158 358.5h0M158 366.5h0M158 368.5h0M158 385h0M158 389h0M158 391h0M158 394h0M158 395h0M158 396h0M158 400h0M158 401.5h0M158 402h0M158 402.5h0M158 405h0M158 407h0M158 407.5h0M158 408h0M158 408.5h0M158 409.5h0M158 410h0M158 410.5h0M158 411h0M158 412.5h0M158 413h0M158 413.5h0M158 414.5h0M158 415h0M158 416.5h0M158 417h0M158 417.5h0M158.5 329.5h0M158.5 338.5h0M158.5 364h0M158.5 368h0M158.5 371h0M158.5 377h0M158.5 379h0M158.5 383h0M158.5 391h0M158.5 402.5h0M158.5 404.5h0M158.5 405.5h0M158.5 410h0M158.5 411h0M158.5 413.5h0M158.5 414h0M158.5 414.5h0M158.5 415.5h0M158.5 416.5h0M159 347h0M159 352h0M159 352.5h0M159 371h0M159 373h0M159 378h0M159 379h0M159 380h0M159 381h0M159 382.5h0M159 390.5h0M159 391.5h0M159 394h0M159 396.5h0M159 397h0M159 399.5h0M159 405h0M159 406h0M159 410h0M159 413h0M159 414h0M159 415.5h0M159 416h0M159 417.5h0M159.5 359.5h0M159.5 360.5h0M159.5 375h0M159.5 383.5h0M159.5 385h0M159.5 386.5h0M159.5 394.5h0M159.5 397.5h0M159.5 398.5h0M159.5 399.5h0M159.5 403.5h0M159.5 404h0M159.5 404.5h0M159.5 405h0M159.5 405.5h0M159.5 406h0M159.5 407h0M159.5 410.5h0M159.5 411.5h0M159.5 413h0M159.5 415h0M159.5 416h0M160 343.5h0M160 363h0M160 366h0M160 374h0M160 376h0M160 379h0M160 386h0M160 386.5h0M160 389.5h0M160 390.5h0M160 391h0M160 393h0M160 394h0M160 400h0M160 404h0M160 405.5h0M160 407.5h0M160 408h0M160 408.5h0M160 409h0M160 409.5h0M160 411.5h0M160 412.5h0M160 413h0M160 414.5h0M160 415.5h0M160 416h0M160 416.5h0M160 417h0M160 417.5h0M160.5 348.5h0M160.5 357.5h0M160.5 358.5h0M160.5 363h0M160.5 368.5h0M160.5 372.5h0M160.5 379.5h0M160.5 380h0M160.5 388h0M160.5 391.5h0M160.5 394.5h0M160.5 399.5h0M160.5 400h0M160.5 401.5h0M160.5 404h0M160.5 406.5h0M160.5 410.5h0M160.5 411.5h0M160.5 412h0M160.5 412.5h0M160.5 413.5h0M160.5 414h0M160.5 414.5h0M160.5 415h0M160.5 415.5h0M160.5 416h0M160.5 416.5h0M160.5 417h0M160.5 417.5h0M161 374h0M161 378h0M161 382.5h0M161 384.5h0M161 385h0M161 392h0M161 393h0M161 395h0M161 402.5h0M161 404.5h0M161 406.5h0M161 408.5h0M161 410h0M161 414h0M161 414.5h0M161 415h0M161 415.5h0M161 417.5h0M161.5 369h0M161.5 377.5h0M161.5 379.5h0M161.5 386h0M161.5 394.5h0M161.5 396h0M161.5 400h0M161.5 402h0M161.5 404.5h0M161.5 405.5h0M161.5 412h0M161.5 413.5h0M161.5 414h0M161.5 416h0M161.5 417.5h0M161.5 418h0M162 363h0M162 366h0M162 366.5h0M162 369.5h0M162 373h0M162 379.5h0M162 394h0M162 395h0M162 401h0M162 402.5h0M162 405h0M162 405.5h0M162 407h0M162 408.5h0M162 409h0M162 410h0M162 411.5h0M162 413.5h0M162 414h0M162 415h0M162 415.5h0M162 416.5h0M162 417h0M162 417.5h0M162.5 384h0M162.5 387h0M162.5 388h0M162.5 392.5h0M162.5 393h0M162.5 394.5h0M162.5 397.5h0M162.5 398h0M162.5 399.5h0M162.5 406h0M162.5 407.5h0M162.5 409h0M162.5 410h0M162.5 412.5h0M162.5 413h0M162.5 414h0M162.5 414.5h0M162.5 416h0M162.5 416.5h0M162.5 417h0M162.5 417.5h0M163 366.5h0M163 368.5h0M163 371h0M163 378h0M163 378.5h0M163 382.5h0M163 394h0M163 396.5h0M163 397h0M163 399h0M163 404.5h0M163 408.5h0M163 409h0M163 409.5h0M163 410.5h0M163 411h0M163 413h0M163 416h0M163.5 380.5h0M163.5 385h0M163.5 386h0M163.5 392h0M163.5 398.5h0M163.5 401.5h0M163.5 403h0M163.5 406.5h0M163.5 407h0M163.5 408.5h0M163.5 409.5h0M163.5 416h0M163.5 416.5h0M163.5 417h0M163.5 417.5h0M164 377h0M164 378.5h0M164 385.5h0M164 390.5h0M164 394.5h0M164 395h0M164 398.5h0M164 404h0M164 406.5h0M164 409h0M164 411h0M164 411.5h0M164 412h0M164 413h0M164 414h0M164 415.5h0M164 416h0M164 416.5h0M164 417.5h0M164.5 381.5h0M164.5 391h0M164.5 392h0M164.5 398h0M164.5 406h0M164.5 409h0M164.5 410.5h0M164.5 413h0M164.5 415h0M164.5 415.5h0M164.5 416.5h0M164.5 417h0M164.5 417.5h0M165 392h0M165 401h0M165 402h0M165 402.5h0M165 407h0M165 408h0M165 408.5h0M165 409.5h0M165 410.5h0M165 411h0M165 412h0M165 416h0M165 417.5h0M165.5 387.5h0M165.5 391.5h0M165.5 392h0M165.5 393.5h0M165.5 397h0M165.5 398h0M165.5 408h0M165.5 411.5h0M165.5 412h0M165.5 414h0M165.5 415h0M165.5 416h0M165.5 416.5h0M165.5 417.5h0M166 399.5h0M166 403h0M166 404h0M166 404.5h0M166 406.5h0M166 409h0M166 413.5h0M166 414h0M166 417h0M166 417.5h0M166.5 401h0M166.5 402h0M166.5 403.5h0M166.5 407h0M166.5 407.5h0M166.5 409.5h0M166.5 410.5h0M166.5 411h0M166.5 411.5h0M166.5 412h0M166.5 412.5h0M166.5 414h0M166.5 414.5h0M166.5 415h0M166.5 415.5h0M166.5 416.5h0M166.5 417h0M167 402.5h0M167 403h0M167 404.5h0M167 406.5h0M167 409h0M167 410h0M167 413.5h0M167 414.5h0M167 416h0M167 417.5h0M167.5 410h0M167.5 410.5h0M167.5 411.5h0M167.5 412.5h0M167.5 413h0M167.5 414h0M167.5 415h0M167.5 416h0M167.5 416.5h0M167.5 417h0M167.5 417.5h0M168 408.5h0M168 409.5h0M168 410h0M168 411h0M168 413h0M168 415h0M168 417h0M168 417.5h0M168.5 410h0M168.5 411.5h0M168.5 417.5h0M169 416h0M169 417.5h0M169.5 416.5h0M170 416.5h0M170 417h0M170 417.5h0M170.5 412h0M170.5 415h0M170.5 415.5h0M170.5 416h0M170.5 416.5h0M171 408h0M171 414h0M171 415h0M171 415.5h0M171 416.5h0M171 417h0M171 417.5h0M171 418h0M171.5 405h0M171.5 411.5h0M171.5 412h0M171.5 413.5h0M171.5 415.5h0M171.5 416h0M171.5 417h0M171.5 417.5h0M172 400h0M172 402h0M172 403.5h0M172 404h0M172 410.5h0M172 411.5h0M172 412h0M172 412.5h0M172 414.5h0M172 415.5h0M172 416h0M172 417h0M172 417.5h0M172.5 394h0M172.5 394.5h0M172.5 399h0M172.5 400h0M172.5 404.5h0M172.5 411.5h0M172.5 412h0M172.5 414.5h0M172.5 415h0M172.5 415.5h0M172.5 416h0M172.5 417h0M172.5 417.5h0M173 393.5h0M173 394h0M173 397.5h0M173 404h0M173 405.5h0M173 407h0M173 410h0M173 410.5h0M173 411.5h0M173 412h0M173 413.5h0M173 416.5h0M173 417.5h0M173.5 389h0M173.5 392.5h0M173.5 398.5h0M173.5 399h0M173.5 409.5h0M173.5 412h0M173.5 413.5h0M173.5 415.5h0M173.5 416h0M173.5 417h0M173.5 417.5h0M174 381h0M174 391.5h0M174 395.5h0M174 396.5h0M174 398.5h0M174 399.5h0M174 402h0M174 405h0M174 406h0M174 408.5h0M174 410.5h0M174 412.5h0M174 414.5h0M174 416h0M174 416.5h0M174 417.5h0M174.5 380.5h0M174.5 384h0M174.5 386.5h0M174.5 390.5h0M174.5 394h0M174.5 395h0M174.5 395.5h0M174.5 400h0M174.5 402.5h0M174.5 403h0M174.5 404h0M174.5 404.5h0M174.5 405.5h0M174.5 409h0M174.5 409.5h0M174.5 410h0M174.5 412h0M174.5 412.5h0M174.5 413h0M174.5 414.5h0M174.5 415.5h0M174.5 416.5h0M174.5 417h0M175 374h0M175 379h0M175 390.5h0M175 397h0M175 397.5h0M175 400.5h0M175 401h0M175 402h0M175 406.5h0M175 407h0M175 409h0M175 411h0M175 412.5h0M175 414h0M175 414.5h0M175 415h0M175 416h0M175 417h0M175.5 375.5h0M175.5 382.5h0M175.5 383h0M175.5 385.5h0M175.5 388.5h0M175.5 389h0M175.5 390.5h0M175.5 393h0M175.5 394h0M175.5 394.5h0M175.5 395h0M175.5 397.5h0M175.5 408.5h0M175.5 409.5h0M175.5 410h0M175.5 411h0M175.5 412h0M175.5 413.5h0M175.5 414h0M175.5 415h0M175.5 415.5h0M175.5 416h0M175.5 417.5h0M176 374.5h0M176 382h0M176 391.5h0M176 393h0M176 393.5h0M176 394.5h0M176 395.5h0M176 398.5h0M176 404.5h0M176 405.5h0M176 408h0M176 410h0M176 410.5h0M176 412.5h0M176 414h0M176 415h0M176 416h0M176 416.5h0M176 417h0M176 417.5h0M176.5 368.5h0M176.5 378.5h0M176.5 379h0M176.5 380h0M176.5 383h0M176.5 385h0M176.5 391h0M176.5 398h0M176.5 402.5h0M176.5 404.5h0M176.5 405.5h0M176.5 407.5h0M176.5 409h0M176.5 410h0M176.5 411h0M176.5 412.5h0M176.5 414h0M176.5 416h0M176.5 416.5h0M176.5 417h0M176.5 417.5h0M177 363h0M177 365.5h0M177 373h0M177 376h0M177 378h0M177 379.5h0M177 382.5h0M177 389.5h0M177 391h0M177 393.5h0M177 395h0M177 398h0M177 400h0M177 404h0M177 407.5h0M177 410h0M177 410.5h0M177 415.5h0M177 416h0M177 416.5h0M177 417.5h0M177.5 355h0M177.5 357.5h0M177.5 380.5h0M177.5 384h0M177.5 385.5h0M177.5 387.5h0M177.5 389.5h0M177.5 392h0M177.5 396.5h0M177.5 400.5h0M177.5 401h0M177.5 403h0M177.5 404.5h0M177.5 407h0M177.5 411h0M177.5 412.5h0M177.5 413h0M177.5 413.5h0M177.5 414h0M177.5 414.5h0M177.5 415.5h0M177.5 416h0M177.5 416.5h0M177.5 417h0M177.5 418h0M178 351h0M178 358h0M178 359.5h0M178 362h0M178 369h0M178 373h0M178 375h0M178 379.5h0M178 383.5h0M178 387h0M178 387.5h0M178 390.5h0M178 393.5h0M178 403.5h0M178 404h0M178 411h0M178 411.5h0M178 412h0M178 412.5h0M178 414.5h0M178 417h0M178 417.5h0M178.5 366h0M178.5 369.5h0M178.5 370.5h0M178.5 377.5h0M178.5 385.5h0M178.5 390.5h0M178.5 393.5h0M178.5 395h0M178.5 395.5h0M178.5 398.5h0M178.5 399.5h0M178.5 400h0M178.5 404.5h0M178.5 405h0M178.5 405.5h0M178.5 406h0M178.5 408.5h0M178.5 409h0M178.5 409.5h0M178.5 410.5h0M178.5 411h0M178.5 412h0M178.5 412.5h0M178.5 413h0M178.5 414.5h0M178.5 415h0M178.5 415.5h0M178.5 417h0M178.5 417.5h0M179 361h0M179 361.5h0M179 368.5h0M179 374h0M179 379h0M179 383h0M179 384h0M179 384.5h0M179 386.5h0M179 387.5h0M179 390h0M179 391h0M179 394h0M179 394.5h0M179 402h0M179 402.5h0M179 404h0M179 411h0M179 413.5h0M179 414h0M179 416h0M179 417h0M179 417.5h0M179.5 360.5h0M179.5 361.5h0M179.5 362.5h0M179.5 364.5h0M179.5 372h0M179.5 378h0M179.5 380h0M179.5 380.5h0M179.5 384h0M179.5 386h0M179.5 387.5h0M179.5 391h0M179.5 391.5h0M179.5 395.5h0M179.5 396.5h0M179.5 397h0M179.5 398.5h0M179.5 400h0M179.5 403h0M179.5 407h0M179.5 409h0M179.5 411h0M179.5 411.5h0M179.5 413h0M179.5 414h0M179.5 414.5h0M179.5 415h0M179.5 415.5h0M179.5 416h0M179.5 416.5h0M179.5 417h0M179.5 417.5h0M180 348h0M180 360.5h0M180 362.5h0M180 369h0M180 374.5h0M180 380h0M180 380.5h0M180 381h0M180 383h0M180 385h0M180 386.5h0M180 387h0M180 387.5h0M180 389h0M180 394h0M180 397.5h0M180 399.5h0M180 402.5h0M180 405.5h0M180 406.5h0M180 407.5h0M180 408h0M180 408.5h0M180 409.5h0M180 410h0M180 411h0M180 412.5h0M180 414h0M180 414.5h0M180 416.5h0M180 417h0M180 417.5h0M180.5 344h0M180.5 378.5h0M180.5 380.5h0M180.5 382h0M180.5 383h0M180.5 386h0M180.5 386.5h0M180.5 394h0M180.5 398.5h0M180.5 399.5h0M180.5 400h0M180.5 403.5h0M180.5 404.5h0M180.5 405.5h0M180.5 407h0M180.5 410.5h0M180.5 413.5h0M180.5 414h0M180.5 414.5h0M180.5 415h0M180.5 417.5h0M181 345h0M181 357h0M181 366.5h0M181 375.5h0M181 377h0M181 377.5h0M181 378.5h0M181 385.5h0M181 388h0M181 389.5h0M181 391h0M181 392h0M181 393.5h0M181 394.5h0M181 399h0M181 400h0M181 401h0M181 401.5h0M181 402.5h0M181 406h0M181 407.5h0M181 408.5h0M181 410h0M181 410.5h0M181 412h0M181 413h0M181 414.5h0M181 415.5h0M181 416.5h0M181 417h0M181.5 336.5h0M181.5 347.5h0M181.5 348.5h0M181.5 361.5h0M181.5 364h0M181.5 370h0M181.5 379.5h0M181.5 387h0M181.5 387.5h0M181.5 391.5h0M181.5 397h0M181.5 397.5h0M181.5 399h0M181.5 400.5h0M181.5 404h0M181.5 408h0M181.5 408.5h0M181.5 409h0M181.5 413.5h0M181.5 414.5h0M181.5 415h0M181.5 416.5h0M181.5 417h0M181.5 417.5h0M182 340.5h0M182 346.5h0M182 347h0M182 351.5h0M182 355.5h0M182 362.5h0M182 363.5h0M182 365.5h0M182 370h0M182 371h0M182 380.5h0M182 386.5h0M182 389h0M182 390.5h0M182 392h0M182 395h0M182 398h0M182 399.5h0M182 400.5h0M182 404h0M182 406h0M182 410.5h0M182 412h0M182 414.5h0M182 415.5h0M182 416h0M182.5 316h0M182.5 328h0M182.5 332h0M182.5 334.5h0M182.5 337h0M182.5 339.5h0M182.5 344h0M182.5 352.5h0M182.5 357.5h0M182.5 361.5h0M182.5 365.5h0M182.5 367.5h0M182.5 370h0M182.5 371h0M182.5 382h0M182.5 382.5h0M182.5 384h0M182.5 386h0M182.5 387.5h0M182.5 390h0M182.5 392h0M182.5 394.5h0M182.5 395h0M182.5 398.5h0M182.5 400h0M182.5 401h0M182.5 401.5h0M182.5 405.5h0M182.5 408h0M182.5 409h0M182.5 411h0M182.5 412.5h0M182.5 415h0M182.5 415.5h0M182.5 416h0M182.5 417h0M182.5 417.5h0M183 329.5h0M183 334h0M183 337.5h0M183 339.5h0M183 344h0M183 344.5h0M183 348h0M183 350.5h0M183 356.5h0M183 368.5h0M183 370.5h0M183 375h0M183 376.5h0M183 377.5h0M183 386.5h0M183 387.5h0M183 392h0M183 393.5h0M183 397h0M183 398h0M183 399.5h0M183 403.5h0M183 406h0M183 407h0M183 409h0M183 409.5h0M183 411h0M183 412h0M183 412.5h0M183 413.5h0M183 414.5h0M183 417h0M183 417.5h0M183.5 311.5h0M183.5 332h0M183.5 347.5h0M183.5 355.5h0M183.5 361h0M183.5 365h0M183.5 370h0M183.5 375h0M183.5 378h0M183.5 383.5h0M183.5 388.5h0M183.5 396.5h0M183.5 397.5h0M183.5 398.5h0M183.5 400.5h0M183.5 401.5h0M183.5 404h0M183.5 405h0M183.5 406h0M183.5 408h0M183.5 410h0M183.5 411h0M183.5 411.5h0M183.5 412.5h0M183.5 417h0M184 307.5h0M184 309h0M184 313.5h0M184 326.5h0M184 333.5h0M184 334.5h0M184 341h0M184 346h0M184 348.5h0M184 351h0M184 353h0M184 359h0M184 365h0M184 365.5h0M184 366h0M184 367.5h0M184 372.5h0M184 375h0M184 380.5h0M184 388.5h0M184 391h0M184 391.5h0M184 394h0M184 398.5h0M184 399.5h0M184 400.5h0M184 401h0M184 402h0M184 405h0M184 409h0M184 409.5h0M184 410.5h0M184 413h0M184 414.5h0M184 415h0M184 415.5h0M184 416h0M184 416.5h0M184 417h0M184.5 296.5h0M184.5 306.5h0M184.5 318h0M184.5 334h0M184.5 337h0M184.5 357h0M184.5 364h0M184.5 365.5h0M184.5 367.5h0M184.5 369h0M184.5 375.5h0M184.5 378.5h0M184.5 380.5h0M184.5 382h0M184.5 389.5h0M184.5 390h0M184.5 393h0M184.5 403.5h0M184.5 409h0M184.5 412h0M184.5 412.5h0M184.5 415.5h0M184.5 417h0M185 316.5h0M185 320h0M185 333.5h0M185 340.5h0M185 342h0M185 343h0M185 366h0M185 369h0M185 370.5h0M185 371h0M185 374.5h0M185 375.5h0M185 376h0M185 379.5h0M185 381h0M185 382h0M185 385.5h0M185 386h0M185 387.5h0M185 390h0M185 393h0M185 394h0M185 396.5h0M185 399.5h0M185 400.5h0M185 401h0M185 402h0M185 403.5h0M185 404.5h0M185 406.5h0M185 408.5h0M185 410h0M185 411h0M185 412.5h0M185 413.5h0M185 414h0M185 414.5h0M185.5 292h0M185.5 298h0M185.5 320h0M185.5 332h0M185.5 334.5h0M185.5 339.5h0M185.5 341h0M185.5 346.5h0M185.5 347h0M185.5 349h0M185.5 354h0M185.5 357h0M185.5 359h0M185.5 368.5h0M185.5 371.5h0M185.5 377.5h0M185.5 379h0M185.5 386.5h0M185.5 399.5h0M185.5 403h0M185.5 404.5h0M185.5 405h0M185.5 408.5h0M185.5 409h0M185.5 412.5h0M185.5 414.5h0M185.5 415h0M185.5 416.5h0M185.5 417h0M186 313h0M186 313.5h0M186 326.5h0M186 344.5h0M186 352.5h0M186 355h0M186 356h0M186 357.5h0M186 358h0M186 358.5h0M186 359h0M186 360.5h0M186 366.5h0M186 369h0M186 369.5h0M186 372h0M186 375.5h0M186 385h0M186 386.5h0M186 394h0M186 395h0M186 396.5h0M186 399h0M186 400.5h0M186 402h0M186 402.5h0M186 403h0M186 404.5h0M186 406.5h0M186 407h0M186 407.5h0M186 408h0M186 408.5h0M186 409h0M186 410h0M186 413h0M186 413.5h0M186 414h0M186 415h0M186 415.5h0M186 416h0M186 417h0M186.5 284h0M186.5 316h0M186.5 328h0M186.5 340h0M186.5 342.5h0M186.5 344.5h0M186.5 347h0M186.5 352h0M186.5 360.5h0M186.5 368h0M186.5 371h0M186.5 374h0M186.5 375.5h0M186.5 376.5h0M186.5 377h0M186.5 380.5h0M186.5 382h0M186.5 384h0M186.5 385h0M186.5 387h0M186.5 388h0M186.5 389h0M186.5 389.5h0M186.5 399h0M186.5 400h0M186.5 401h0M186.5 403h0M186.5 403.5h0M186.5 404.5h0M186.5 405h0M186.5 405.5h0M186.5 406h0M186.5 408h0M186.5 411h0M186.5 411.5h0M186.5 412h0M186.5 413h0M186.5 416h0M187 319h0M187 350h0M187 352.5h0M187 358h0M187 362.5h0M187 363.5h0M187 367h0M187 368h0M187 374.5h0M187 380h0M187 381h0M187 382h0M187 382.5h0M187 383.5h0M187 384h0M187 386h0M187 388.5h0M187 391h0M187 394h0M187 395.5h0M187 400.5h0M187 401.5h0M187 402.5h0M187 409h0M187 409.5h0M187 410h0M187 411h0M187 411.5h0M187 412h0M187 412.5h0M187 413h0M187 414.5h0M187 416h0M187 416.5h0M187.5 284.5h0M187.5 300h0M187.5 302.5h0M187.5 343h0M187.5 361h0M187.5 371.5h0M187.5 379h0M187.5 380.5h0M187.5 383h0M187.5 385.5h0M187.5 386.5h0M187.5 392h0M187.5 393.5h0M187.5 394h0M187.5 398h0M187.5 400.5h0M187.5 402h0M187.5 402.5h0M187.5 403.5h0M187.5 406h0M187.5 410.5h0M187.5 412.5h0M187.5 413.5h0M187.5 414h0M187.5 415.5h0M187.5 416h0M188 334.5h0M188 343.5h0M188 344.5h0M188 347.5h0M188 349h0M188 358.5h0M188 359h0M188 365.5h0M188 374h0M188 379.5h0M188 381.5h0M188 384.5h0M188 385.5h0M188 386.5h0M188 390.5h0M188 391.5h0M188 392h0M188 393h0M188 399h0M188 400h0M188 401h0M188 401.5h0M188 403h0M188 405h0M188 405.5h0M188 406h0M188 411h0M188 411.5h0M188 412h0M188 412.5h0M188 414h0M188 414.5h0M188 415.5h0M188 416.5h0M188.5 265h0M188.5 291.5h0M188.5 295.5h0M188.5 308.5h0M188.5 318h0M188.5 334.5h0M188.5 339.5h0M188.5 345.5h0M188.5 355.5h0M188.5 360h0M188.5 365h0M188.5 371.5h0M188.5 378h0M188.5 381h0M188.5 382.5h0M188.5 391.5h0M188.5 392.5h0M188.5 395.5h0M188.5 396h0M188.5 402.5h0M188.5 403h0M188.5 403.5h0M188.5 405.5h0M188.5 408h0M188.5 409.5h0M188.5 410h0M188.5 411.5h0M188.5 412h0M188.5 413h0M188.5 415.5h0M188.5 416h0M189 291h0M189 331.5h0M189 340h0M189 345h0M189 351h0M189 355h0M189 357h0M189 360h0M189 363h0M189 364h0M189 371.5h0M189 373.5h0M189 375.5h0M189 378h0M189 380.5h0M189 381h0M189 384h0M189 385h0M189 386h0M189 393.5h0M189 395h0M189 395.5h0M189 397.5h0M189 398h0M189 401h0M189 402.5h0M189 403.5h0M189 404h0M189 404.5h0M189 405h0M189 405.5h0M189 407.5h0M189 408h0M189 409.5h0M189 410h0M189 410.5h0M189 412h0M189 412.5h0M189 413h0M189.5 326h0M189.5 328h0M189.5 340.5h0M189.5 343h0M189.5 352.5h0M189.5 360h0M189.5 363.5h0M189.5 364.5h0M189.5 366.5h0M189.5 374h0M189.5 378h0M189.5 379h0M189.5 380h0M189.5 380.5h0M189.5 381h0M189.5 383.5h0M189.5 384h0M189.5 386.5h0M189.5 396.5h0M189.5 397h0M189.5 398h0M189.5 401h0M189.5 403h0M189.5 403.5h0M189.5 406h0M189.5 407.5h0M189.5 408h0M189.5 408.5h0M189.5 413h0M189.5 414h0M189.5 414.5h0M189.5 415h0M190 324.5h0M190 328h0M190 335h0M190 355.5h0M190 357.5h0M190 361h0M190 365h0M190 371.5h0M190 378.5h0M190 379h0M190 387h0M190 391h0M190 395h0M190 397.5h0M190 400.5h0M190 401h0M190 405h0M190 406.5h0M190 407.5h0M190 408.5h0M190 409.5h0M190 410h0M190 411h0M190 415h0M190 415.5h0M190.5 290h0M190.5 306h0M190.5 307h0M190.5 323.5h0M190.5 327h0M190.5 335.5h0M190.5 344h0M190.5 352.5h0M190.5 357h0M190.5 358h0M190.5 360h0M190.5 365.5h0M190.5 367h0M190.5 367.5h0M190.5 370h0M190.5 371h0M190.5 373.5h0M190.5 374h0M190.5 380h0M190.5 381.5h0M190.5 384.5h0M190.5 386h0M190.5 387.5h0M190.5 389h0M190.5 391.5h0M190.5 393h0M190.5 394h0M190.5 395h0M190.5 395.5h0M190.5 400h0M190.5 400.5h0M190.5 401h0M190.5 402h0M190.5 403h0M190.5 403.5h0M190.5 405h0M190.5 406h0M190.5 407.5h0M190.5 408h0M190.5 410.5h0M190.5 412h0M190.5 415h0M191 274.5h0M191 304.5h0M191 320.5h0M191 326.5h0M191 330.5h0M191 338.5h0M191 340.5h0M191 342.5h0M191 346.5h0M191 347.5h0M191 359h0M191 359.5h0M191 363.5h0M191 365.5h0M191 366.5h0M191 373h0M191 376.5h0M191 384.5h0M191 387h0M191 392h0M191 395.5h0M191 396h0M191 400h0M191 402h0M191 404.5h0M191 405.5h0M191 406h0M191 411.5h0M191 413h0M191 413.5h0M191 414.5h0M191.5 309.5h0M191.5 332h0M191.5 333.5h0M191.5 334h0M191.5 348h0M191.5 351.5h0M191.5 353.5h0M191.5 361h0M191.5 364.5h0M191.5 365.5h0M191.5 369.5h0M191.5 371.5h0M191.5 373h0M191.5 375h0M191.5 378h0M191.5 381h0M191.5 382h0M191.5 385.5h0M191.5 389h0M191.5 391.5h0M191.5 394h0M191.5 397h0M191.5 401.5h0M191.5 403h0M191.5 404.5h0M191.5 405.5h0M191.5 407h0M191.5 408h0M191.5 410h0M191.5 413.5h0M191.5 414.5h0M192 332.5h0M192 341h0M192 352h0M192 356.5h0M192 359h0M192 360.5h0M192 370.5h0M192 380.5h0M192 389.5h0M192 393.5h0M192 394h0M192 399h0M192 400h0M192 402h0M192 402.5h0M192 410h0M192 411.5h0M192 412h0M192 414h0M192 415h0M192.5 308h0M192.5 309h0M192.5 324h0M192.5 325.5h0M192.5 328h0M192.5 330h0M192.5 331.5h0M192.5 348.5h0M192.5 354h0M192.5 356h0M192.5 359h0M192.5 367h0M192.5 367.5h0M192.5 369h0M192.5 369.5h0M192.5 372h0M192.5 384.5h0M192.5 385.5h0M192.5 391.5h0M192.5 392h0M192.5 393h0M192.5 397.5h0M192.5 398h0M192.5 398.5h0M192.5 400h0M192.5 400.5h0M192.5 401h0M192.5 403h0M192.5 404.5h0M192.5 405h0M192.5 410h0M192.5 412h0M192.5 412.5h0M192.5 413h0M192.5 415h0M193 301h0M193 328h0M193 329.5h0M193 331h0M193 331.5h0M193 346.5h0M193 348h0M193 359.5h0M193 360h0M193 363h0M193 368.5h0M193 370.5h0M193 372h0M193 383h0M193 384h0M193 389h0M193 392h0M193 396.5h0M193 397h0M193 401.5h0M193 402.5h0M193 403.5h0M193 406.5h0M193 409h0M193 410h0M193 411h0M193 411.5h0M193 412h0M193 414h0M193.5 277h0M193.5 287h0M193.5 290.5h0M193.5 298.5h0M193.5 314.5h0M193.5 317h0M193.5 323.5h0M193.5 326h0M193.5 328h0M193.5 329h0M193.5 330.5h0M193.5 340h0M193.5 341.5h0M193.5 347.5h0M193.5 351h0M193.5 353h0M193.5 354.5h0M193.5 359.5h0M193.5 362h0M193.5 364h0M193.5 367h0M193.5 371.5h0M193.5 377.5h0M193.5 379.5h0M193.5 387h0M193.5 387.5h0M193.5 390h0M193.5 391h0M193.5 395.5h0M193.5 397.5h0M193.5 398.5h0M193.5 402h0M193.5 404.5h0M193.5 405.5h0M193.5 408.5h0M193.5 409.5h0M193.5 410.5h0M193.5 411h0M193.5 411.5h0M193.5 412h0M194 301.5h0M194 348.5h0M194 358.5h0M194 361.5h0M194 364h0M194 367h0M194 371.5h0M194 378h0M194 381h0M194 383.5h0M194 389.5h0M194 390.5h0M194 391h0M194 394.5h0M194 396.5h0M194 397.5h0M194 401h0M194 402h0M194 404h0M194 405h0M194 406h0M194 408.5h0M194 411h0M194 413.5h0M194.5 271.5h0M194.5 307.5h0M194.5 319.5h0M194.5 324.5h0M194.5 340h0M194.5 341h0M194.5 351.5h0M194.5 352h0M194.5 361.5h0M194.5 369h0M194.5 377.5h0M194.5 380.5h0M194.5 381.5h0M194.5 384.5h0M194.5 391h0M194.5 395.5h0M194.5 398.5h0M194.5 399h0M194.5 401.5h0M194.5 402h0M194.5 404.5h0M194.5 409.5h0M194.5 410h0M194.5 412.5h0M194.5 413.5h0M194.5 414h0M195 310h0M195 313.5h0M195 320.5h0M195 324.5h0M195 330h0M195 332h0M195 339h0M195 346h0M195 348h0M195 351.5h0M195 356.5h0M195 358h0M195 359h0M195 359.5h0M195 360h0M195 368h0M195 370.5h0M195 371h0M195 372.5h0M195 373.5h0M195 379.5h0M195 380.5h0M195 381h0M195 382.5h0M195 383h0M195 385h0M195 387.5h0M195 388h0M195 390h0M195 393h0M195 399h0M195 400h0M195 401h0M195 406h0M195 407.5h0M195 408h0M195 408.5h0M195 409.5h0M195 410.5h0M195 411h0M195 411.5h0M195 412h0M195.5 274.5h0M195.5 323.5h0M195.5 336.5h0M195.5 338h0M195.5 342h0M195.5 353h0M195.5 363h0M195.5 364.5h0M195.5 369h0M195.5 369.5h0M195.5 370h0M195.5 376.5h0M195.5 380h0M195.5 380.5h0M195.5 387h0M195.5 394h0M195.5 397h0M195.5 399h0M195.5 401.5h0M195.5 403h0M195.5 404h0M195.5 406h0M195.5 409.5h0M195.5 410h0M195.5 410.5h0M196 278.5h0M196 291.5h0M196 296.5h0M196 306.5h0M196 307.5h0M196 314.5h0M196 323.5h0M196 324h0M196 339.5h0M196 342h0M196 355h0M196 365h0M196 366h0M196 368h0M196 372h0M196 374.5h0M196 377h0M196 379.5h0M196 384h0M196 384.5h0M196 385.5h0M196 388.5h0M196 390h0M196 390.5h0M196 396h0M196 397h0M196 401h0M196 402.5h0M196 403h0M196 406h0M196 407h0M196 409.5h0M196 411.5h0M196 413h0M196 413.5h0M196.5 186h0M196.5 305h0M196.5 305.5h0M196.5 325.5h0M196.5 335.5h0M196.5 338.5h0M196.5 344h0M196.5 350h0M196.5 352h0M196.5 352.5h0M196.5 355h0M196.5 356.5h0M196.5 359.5h0M196.5 360.5h0M196.5 361.5h0M196.5 385.5h0M196.5 393.5h0M196.5 398h0M196.5 401.5h0M196.5 402.5h0M196.5 403h0M196.5 407.5h0M196.5 408h0M196.5 409h0M196.5 410h0M196.5 411h0M197 273.5h0M197 291.5h0M197 298h0M197 304h0M197 319h0M197 330h0M197 344.5h0M197 349h0M197 350h0M197 351h0M197 356.5h0M197 369h0M197 372.5h0M197 374h0M197 378.5h0M197 379h0M197 379.5h0M197 381h0M197 382h0M197 383.5h0M197 385.5h0M197 386.5h0M197 388h0M197 395h0M197 395.5h0M197 400.5h0M197 401h0M197 403h0M197 403.5h0M197 404.5h0M197 407h0M197 410h0M197.5 248.5h0M197.5 318.5h0M197.5 321.5h0M197.5 336.5h0M197.5 341h0M197.5 344.5h0M197.5 353h0M197.5 358h0M197.5 360h0M197.5 361.5h0M197.5 367h0M197.5 369h0M197.5 373.5h0M197.5 377h0M197.5 381h0M197.5 385.5h0M197.5 393h0M197.5 395h0M197.5 395.5h0M197.5 397.5h0M197.5 398h0M197.5 402.5h0M197.5 403h0M197.5 405.5h0M197.5 406h0M197.5 406.5h0M197.5 407.5h0M197.5 409.5h0M197.5 410h0M198 287.5h0M198 316.5h0M198 326h0M198 333h0M198 349.5h0M198 356h0M198 376h0M198 377h0M198 380.5h0M198 383h0M198 387h0M198 387.5h0M198 388.5h0M198 392.5h0M198 396.5h0M198 398h0M198 399.5h0M198 402h0M198 404h0M198 404.5h0M198 406h0M198 409h0M198 409.5h0M198 410h0M198 411.5h0M198 412h0M198.5 289h0M198.5 313.5h0M198.5 320h0M198.5 335h0M198.5 344h0M198.5 346h0M198.5 351.5h0M198.5 352h0M198.5 357.5h0M198.5 360h0M198.5 363.5h0M198.5 364h0M198.5 365h0M198.5 373.5h0M198.5 375.5h0M198.5 377h0M198.5 383.5h0M198.5 387h0M198.5 388.5h0M198.5 389.5h0M198.5 390.5h0M198.5 392h0M198.5 392.5h0M198.5 393h0M198.5 394.5h0M198.5 398.5h0M198.5 399h0M198.5 400.5h0M198.5 401h0M198.5 401.5h0M198.5 402.5h0M198.5 406h0M198.5 410.5h0M199 262h0M199 268.5h0M199 301h0M199 305.5h0M199 319.5h0M199 342h0M199 360.5h0M199 363h0M199 367h0M199 373.5h0M199 376h0M199 378.5h0M199 379h0M199 383h0M199 392.5h0M199 395h0M199 399.5h0M199 403h0M199 403.5h0M199 404h0M199 404.5h0M199 405.5h0M199 408h0M199.5 276.5h0M199.5 285h0M199.5 305h0M199.5 315.5h0M199.5 319h0M199.5 323.5h0M199.5 326h0M199.5 333.5h0M199.5 345h0M199.5 357.5h0M199.5 358.5h0M199.5 361h0M199.5 376h0M199.5 380h0M199.5 380.5h0M199.5 383h0M199.5 383.5h0M199.5 384h0M199.5 385.5h0M199.5 388h0M199.5 389h0M199.5 391h0M199.5 393h0M199.5 395h0M199.5 397.5h0M199.5 399.5h0M199.5 400.5h0M199.5 401h0M199.5 402.5h0M199.5 403h0M199.5 403.5h0M199.5 408.5h0M200 269.5h0M200 285h0M200 300h0M200 301h0M200 303h0M200 305.5h0M200 320.5h0M200 333.5h0M200 335.5h0M200 341.5h0M200 344h0M200 345h0M200 347h0M200 351h0M200 357h0M200 366h0M200 372h0M200 372.5h0M200 373h0M200 376h0M200 385h0M200 387h0M200 388h0M200 392.5h0M200 393.5h0M200 396h0M200 396.5h0M200 400h0M200 401.5h0M200 404h0M200 406.5h0M200 408h0M200 411h0M200 411.5h0M200.5 290.5h0M200.5 294.5h0M200.5 302h0M200.5 308h0M200.5 311h0M200.5 319.5h0M200.5 320.5h0M200.5 327h0M200.5 329h0M200.5 345h0M200.5 354h0M200.5 359h0M200.5 360.5h0M200.5 372h0M200.5 372.5h0M200.5 375h0M200.5 377.5h0M200.5 378h0M200.5 378.5h0M200.5 383h0M200.5 384.5h0M200.5 386.5h0M200.5 387h0M200.5 388.5h0M200.5 390h0M200.5 390.5h0M200.5 391.5h0M200.5 392.5h0M200.5 395h0M200.5 396h0M200.5 396.5h0M200.5 400h0M200.5 401h0M200.5 401.5h0M200.5 402.5h0M200.5 404.5h0M200.5 405.5h0M200.5 409h0M200.5 410h0M201 272h0M201 304.5h0M201 321h0M201 322.5h0M201 326.5h0M201 340h0M201 361h0M201 376h0M201 376.5h0M201 379h0M201 382.5h0M201 385h0M201 388h0M201 390.5h0M201 391h0M201 392h0M201 392.5h0M201 394.5h0M201 399h0M201 402h0M201 403h0M201 403.5h0M201 404h0M201 407.5h0M201 409h0M201.5 190h0M201.5 309h0M201.5 316h0M201.5 341h0M201.5 342h0M201.5 345h0M201.5 346h0M201.5 355.5h0M201.5 359h0M201.5 361.5h0M201.5 363h0M201.5 375h0M201.5 377h0M201.5 380.5h0M201.5 388.5h0M201.5 390h0M201.5 396.5h0M201.5 397.5h0M201.5 398h0M201.5 400.5h0M201.5 401h0M201.5 403.5h0M201.5 404h0M201.5 405.5h0M201.5 406.5h0M201.5 407h0M201.5 407.5h0M201.5 408h0M201.5 408.5h0M201.5 411h0M202 286h0M202 302h0M202 317h0M202 317.5h0M202 340.5h0M202 351.5h0M202 355.5h0M202 356.5h0M202 358h0M202 360h0M202 360.5h0M202 364.5h0M202 366h0M202 370h0M202 379.5h0M202 385h0M202 388.5h0M202 389.5h0M202 391h0M202 402h0M202 402.5h0M202 403.5h0M202 405.5h0M202 406h0M202 406.5h0M202 407h0M202 408h0M202 408.5h0M202 409h0M202.5 244.5h0M202.5 317.5h0M202.5 318.5h0M202.5 332.5h0M202.5 333h0M202.5 336.5h0M202.5 342h0M202.5 346h0M202.5 356.5h0M202.5 361h0M202.5 362h0M202.5 367h0M202.5 369.5h0M202.5 371.5h0M202.5 377.5h0M202.5 380.5h0M202.5 381h0M202.5 384.5h0M202.5 387.5h0M202.5 393.5h0M202.5 394.5h0M202.5 395.5h0M202.5 397h0M202.5 397.5h0M202.5 399h0M202.5 399.5h0M202.5 401h0M202.5 402h0M202.5 407h0M202.5 409h0M202.5 409.5h0M202.5 410.5h0M202.5 411h0M203 286h0M203 297h0M203 318.5h0M203 329h0M203 335h0M203 338h0M203 339h0M203 343h0M203 345h0M203 346h0M203 348.5h0M203 349.5h0M203 351.5h0M203 353h0M203 358h0M203 362.5h0M203 368h0M203 371.5h0M203 373.5h0M203 376h0M203 376.5h0M203 379h0M203 379.5h0M203 382h0M203 389.5h0M203 390.5h0M203 391h0M203 392.5h0M203 396h0M203 400.5h0M203 401.5h0M203 402h0M203 406h0M203.5 249h0M203.5 260.5h0M203.5 303h0M203.5 305.5h0M203.5 315h0M203.5 330.5h0M203.5 340.5h0M203.5 355h0M203.5 356h0M203.5 363h0M203.5 365.5h0M203.5 368h0M203.5 370h0M203.5 384h0M203.5 388h0M203.5 389.5h0M203.5 390.5h0M203.5 392h0M203.5 394h0M203.5 395.5h0M203.5 402.5h0M203.5 404h0M203.5 405h0M203.5 406.5h0M203.5 407h0M203.5 409.5h0M203.5 410h0M204 310.5h0M204 311h0M204 320.5h0M204 326.5h0M204 339.5h0M204 342h0M204 360.5h0M204 362.5h0M204 365h0M204 367h0M204 369h0M204 373h0M204 376.5h0M204 380.5h0M204 384h0M204 386.5h0M204 391h0M204 391.5h0M204 392.5h0M204 395.5h0M204 397h0M204 398.5h0M204 399h0M204 399.5h0M204 401h0M204 404h0M204 408.5h0M204 409h0M204.5 277h0M204.5 289.5h0M204.5 312.5h0M204.5 319h0M204.5 324.5h0M204.5 327h0M204.5 331h0M204.5 337.5h0M204.5 348.5h0M204.5 363.5h0M204.5 370h0M204.5 370.5h0M204.5 371h0M204.5 373.5h0M204.5 383.5h0M204.5 389.5h0M204.5 390h0M204.5 394h0M204.5 397.5h0M204.5 399h0M204.5 403.5h0M204.5 406h0M204.5 406.5h0M204.5 408.5h0M205 241.5h0M205 286.5h0M205 303.5h0M205 331h0M205 332h0M205 343.5h0M205 349.5h0M205 357h0M205 358h0M205 358.5h0M205 362.5h0M205 364h0M205 366h0M205 374.5h0M205 376.5h0M205 381.5h0M205 383.5h0M205 386h0M205 387h0M205 391.5h0M205 393.5h0M205 394.5h0M205 398h0M205 398.5h0M205 403h0M205 410h0M205.5 297.5h0M205.5 322h0M205.5 323h0M205.5 344.5h0M205.5 345.5h0M205.5 356.5h0M205.5 357h0M205.5 359.5h0M205.5 362h0M205.5 364.5h0M205.5 366h0M205.5 367.5h0M205.5 370h0M205.5 373h0M205.5 383.5h0M205.5 388.5h0M205.5 390h0M205.5 390.5h0M205.5 391.5h0M205.5 392h0M205.5 393h0M205.5 393.5h0M205.5 397.5h0M205.5 398h0M205.5 400h0M205.5 404h0M205.5 405.5h0M206 196h0M206 276.5h0M206 310h0M206 341h0M206 347.5h0M206 353.5h0M206 357.5h0M206 358h0M206 359.5h0M206 361.5h0M206 363h0M206 369.5h0M206 371h0M206 380.5h0M206 383.5h0M206 384h0M206 386.5h0M206 388h0M206 391.5h0M206 397.5h0M206 399.5h0M206 400h0M206 402h0M206 406h0M206.5 233h0M206.5 262.5h0M206.5 271.5h0M206.5 296.5h0M206.5 307h0M206.5 313h0M206.5 314.5h0M206.5 338h0M206.5 347.5h0M206.5 355.5h0M206.5 365.5h0M206.5 367h0M206.5 371h0M206.5 374h0M206.5 377.5h0M206.5 381.5h0M206.5 382.5h0M206.5 386.5h0M206.5 389h0M206.5 391.5h0M206.5 395h0M206.5 395.5h0M206.5 397h0M206.5 397.5h0M206.5 398h0M206.5 400.5h0M206.5 404h0M206.5 406h0M207 315.5h0M207 318h0M207 334h0M207 348.5h0M207 359h0M207 359.5h0M207 365.5h0M207 372.5h0M207 378h0M207 380.5h0M207 382.5h0M207 384.5h0M207 389.5h0M207 393.5h0M207 396.5h0M207 398h0M207 401.5h0M207 402.5h0M207 403h0M207 407h0M207.5 292.5h0M207.5 317.5h0M207.5 325h0M207.5 328h0M207.5 330.5h0M207.5 341.5h0M207.5 350h0M207.5 354h0M207.5 355.5h0M207.5 359h0M207.5 370h0M207.5 371.5h0M207.5 373.5h0M207.5 375.5h0M207.5 378h0M207.5 381.5h0M207.5 385h0M207.5 387h0M207.5 390h0M207.5 390.5h0M207.5 397h0M207.5 399h0M207.5 400h0M207.5 401h0M207.5 404.5h0M207.5 405.5h0M207.5 406h0M208 257.5h0M208 263h0M208 297h0M208 305h0M208 321.5h0M208 325.5h0M208 327h0M208 334.5h0M208 346h0M208 351.5h0M208 354h0M208 354.5h0M208 364h0M208 374.5h0M208 376h0M208 380.5h0M208 382h0M208 386h0M208 386.5h0M208 389h0M208 395.5h0M208 399.5h0M208 401h0M208 402.5h0M208 403h0M208 407h0M208 407.5h0M208.5 285.5h0M208.5 298h0M208.5 329h0M208.5 333h0M208.5 340h0M208.5 346.5h0M208.5 348h0M208.5 348.5h0M208.5 350.5h0M208.5 358.5h0M208.5 360h0M208.5 362.5h0M208.5 367h0M208.5 369.5h0M208.5 370h0M208.5 374h0M208.5 379h0M208.5 382.5h0M208.5 386.5h0M208.5 387h0M208.5 388h0M208.5 389h0M208.5 389.5h0M208.5 392h0M208.5 394.5h0M208.5 398h0M208.5 398.5h0M208.5 401.5h0M208.5 403h0M208.5 404h0M208.5 406h0M208.5 407.5h0M209 233h0M209 250.5h0M209 273h0M209 309.5h0M209 313h0M209 323h0M209 331.5h0M209 336h0M209 339.5h0M209 341.5h0M209 351.5h0M209 361.5h0M209 362h0M209 371h0M209 375.5h0M209 380.5h0M209 381.5h0M209 387h0M209 389.5h0M209 395.5h0M209 396h0M209 398.5h0M209 399h0M209 400.5h0M209 401h0M209 403.5h0M209.5 269.5h0M209.5 295.5h0M209.5 297h0M209.5 314h0M209.5 326h0M209.5 335.5h0M209.5 345h0M209.5 351h0M209.5 351.5h0M209.5 358h0M209.5 365h0M209.5 367h0M209.5 369.5h0M209.5 371.5h0M209.5 374.5h0M209.5 378.5h0M209.5 380h0M209.5 383h0M209.5 383.5h0M209.5 385h0M209.5 386h0M209.5 387h0M209.5 390.5h0M209.5 391h0M209.5 394.5h0M209.5 396h0M209.5 396.5h0M209.5 397h0M209.5 399h0M209.5 401h0M209.5 402h0M209.5 404h0M209.5 405h0M209.5 407h0M210 226h0M210 240.5h0M210 264h0M210 277h0M210 289h0M210 301.5h0M210 320.5h0M210 326.5h0M210 327h0M210 327.5h0M210 329h0M210 333h0M210 340.5h0M210 352h0M210 355h0M210 359.5h0M210 362h0M210 367.5h0M210 369.5h0M210 372h0M210 374.5h0M210 376h0M210 379.5h0M210 381.5h0M210 388h0M210 393.5h0M210 395h0M210 396h0M210 398.5h0M210 403.5h0M210 404.5h0M210 405h0M210.5 251h0M210.5 292.5h0M210.5 315.5h0M210.5 316.5h0M210.5 324.5h0M210.5 330h0M210.5 333h0M210.5 341.5h0M210.5 345h0M210.5 345.5h0M210.5 346.5h0M210.5 349h0M210.5 349.5h0M210.5 362h0M210.5 368.5h0M210.5 372.5h0M210.5 373h0M210.5 380.5h0M210.5 385.5h0M210.5 386h0M210.5 387h0M210.5 387.5h0M210.5 393.5h0M210.5 394h0M210.5 398.5h0M210.5 400h0M210.5 401h0M210.5 406.5h0M211 294.5h0M211 305h0M211 328h0M211 343.5h0M211 346.5h0M211 355h0M211 355.5h0M211 358.5h0M211 362h0M211 372.5h0M211 373.5h0M211 382.5h0M211 383h0M211 386.5h0M211 387h0M211 387.5h0M211 394.5h0M211 395.5h0M211 397h0M211 397.5h0M211 400h0M211 403.5h0M211 404.5h0M211.5 286h0M211.5 309.5h0M211.5 310.5h0M211.5 317.5h0M211.5 319h0M211.5 329h0M211.5 335h0M211.5 338h0M211.5 338.5h0M211.5 354.5h0M211.5 365.5h0M211.5 371h0M211.5 372h0M211.5 372.5h0M211.5 374h0M211.5 377h0M211.5 380h0M211.5 382h0M211.5 384.5h0M211.5 389h0M211.5 391h0M211.5 393.5h0M211.5 397h0M211.5 397.5h0M211.5 399.5h0M211.5 402h0M211.5 404.5h0M212 136h0M212 301.5h0M212 314h0M212 317.5h0M212 322h0M212 327h0M212 329h0M212 335h0M212 341.5h0M212 346h0M212 348h0M212 349.5h0M212 350h0M212 364.5h0M212 376.5h0M212 378h0M212 379h0M212 380.5h0M212 381h0M212 382h0M212 386h0M212 395h0M212 401h0M212 404h0M212.5 288.5h0M212.5 305.5h0M212.5 311h0M212.5 316.5h0M212.5 319.5h0M212.5 322h0M212.5 323.5h0M212.5 334h0M212.5 348.5h0M212.5 356h0M212.5 358.5h0M212.5 362h0M212.5 367.5h0M212.5 368h0M212.5 373h0M212.5 375h0M212.5 376.5h0M212.5 378h0M212.5 379h0M212.5 385.5h0M212.5 388h0M212.5 395h0M212.5 397h0M212.5 398h0M212.5 400.5h0M212.5 404.5h0M212.5 405.5h0M213 252h0M213 302h0M213 309.5h0M213 311h0M213 327.5h0M213 348.5h0M213 352.5h0M213 353h0M213 355h0M213 355.5h0M213 359h0M213 362h0M213 363.5h0M213 366.5h0M213 368h0M213 368.5h0M213 369h0M213 369.5h0M213 374h0M213 375.5h0M213 377h0M213 378.5h0M213 384h0M213 384.5h0M213 385.5h0M213 388h0M213 395h0M213 398.5h0M213 404h0M213 405h0M213.5 278h0M213.5 284.5h0M213.5 324.5h0M213.5 339.5h0M213.5 342.5h0M213.5 350h0M213.5 356.5h0M213.5 357h0M213.5 361.5h0M213.5 364h0M213.5 364.5h0M213.5 367.5h0M213.5 370h0M213.5 373.5h0M213.5 377h0M213.5 379h0M213.5 379.5h0M213.5 384.5h0M213.5 385h0M213.5 390h0M213.5 392h0M213.5 394.5h0M213.5 397.5h0M213.5 399h0M213.5 402h0M213.5 404h0M214 241h0M214 265.5h0M214 310h0M214 328.5h0M214 336.5h0M214 337h0M214 344h0M214 366.5h0M214 370.5h0M214 373h0M214 373.5h0M214 376h0M214 377.5h0M214 380h0M214 380.5h0M214 382.5h0M214 383.5h0M214 385h0M214 396h0M214 396.5h0M214 397.5h0M214 400.5h0M214 402h0M214 403.5h0M214 404.5h0M214.5 266.5h0M214.5 293.5h0M214.5 297h0M214.5 330.5h0M214.5 336h0M214.5 344h0M214.5 347h0M214.5 350h0M214.5 364.5h0M214.5 371.5h0M214.5 378.5h0M214.5 387.5h0M214.5 389h0M214.5 394.5h0M214.5 399h0M214.5 403h0M215 324.5h0M215 343.5h0M215 347.5h0M215 366.5h0M215 367.5h0M215 372.5h0M215 375.5h0M215 376.5h0M215 377h0M215 379.5h0M215 380h0M215 388.5h0M215 390.5h0M215 391h0M215 392.5h0M215 395h0M215 396.5h0M215.5 264h0M215.5 294h0M215.5 296h0M215.5 325h0M215.5 326.5h0M215.5 345h0M215.5 356h0M215.5 360.5h0M215.5 366h0M215.5 370.5h0M215.5 373h0M215.5 379h0M215.5 381h0M215.5 392h0M215.5 394h0M215.5 395.5h0M216 205h0M216 312h0M216 340h0M216 349.5h0M216 362.5h0M216 363.5h0M216 366h0M216 372h0M216 378h0M216 379.5h0M216 380.5h0M216 381h0M216 387h0M216 388h0M216 391h0M216 393.5h0M216 395.5h0M216 396.5h0M216 398h0M216 400h0M216.5 246h0M216.5 281.5h0M216.5 283h0M216.5 287.5h0M216.5 291h0M216.5 302.5h0M216.5 313.5h0M216.5 321h0M216.5 331h0M216.5 337h0M216.5 341h0M216.5 347h0M216.5 354h0M216.5 355.5h0M216.5 357h0M216.5 366.5h0M216.5 367h0M216.5 371h0M216.5 372h0M216.5 375h0M216.5 377.5h0M216.5 379.5h0M216.5 380h0M216.5 383.5h0M216.5 389.5h0M216.5 391h0M216.5 393.5h0M216.5 396h0M216.5 397.5h0M216.5 398h0M217 284.5h0M217 300h0M217 323h0M217 347h0M217 349h0M217 353.5h0M217 354.5h0M217 359h0M217 360h0M217 368.5h0M217 375h0M217 379h0M217 381.5h0M217 385h0M217 387.5h0M217 389.5h0M217 395h0M217 397h0M217 398h0M217.5 278.5h0M217.5 289.5h0M217.5 292.5h0M217.5 314.5h0M217.5 326h0M217.5 331.5h0M217.5 333h0M217.5 334.5h0M217.5 354.5h0M217.5 357.5h0M217.5 358.5h0M217.5 363.5h0M217.5 373h0M217.5 381.5h0M217.5 382.5h0M217.5 385.5h0M217.5 386h0M217.5 386.5h0M217.5 387h0M217.5 389h0M217.5 393h0M217.5 397.5h0M218 322h0M218 340h0M218 342.5h0M218 347.5h0M218 348h0M218 360.5h0M218 366h0M218 377h0M218 377.5h0M218 379h0M218 379.5h0M218 386h0M218 395.5h0M218 400.5h0M218.5 280h0M218.5 315.5h0M218.5 329h0M218.5 336.5h0M218.5 340.5h0M218.5 341h0M218.5 342.5h0M218.5 347h0M218.5 355.5h0M218.5 356.5h0M218.5 361.5h0M218.5 375h0M218.5 383.5h0M218.5 384h0M218.5 388.5h0M218.5 390.5h0M218.5 397h0M218.5 398h0M219 308h0M219 324.5h0M219 329h0M219 341h0M219 348h0M219 356.5h0M219 359h0M219 365.5h0M219 373.5h0M219 377.5h0M219 386.5h0M219 388h0M219 389.5h0M219 392h0M219 393h0M219 395.5h0M219.5 337.5h0M219.5 339h0M219.5 350h0M219.5 354h0M219.5 367h0M219.5 373.5h0M219.5 378.5h0M219.5 389h0M219.5 394.5h0M219.5 397h0M219.5 398h0M220 296.5h0M220 303.5h0M220 321h0M220 335.5h0M220 345.5h0M220 349.5h0M220 352.5h0M220 353h0M220 356h0M220 364h0M220 367h0M220 371.5h0M220 374.5h0M220 375h0M220 377.5h0M220 382.5h0M220 390.5h0M220 392.5h0M220.5 188h0M220.5 302.5h0M220.5 339.5h0M220.5 345.5h0M220.5 347h0M220.5 351.5h0M220.5 355.5h0M220.5 358h0M220.5 371h0M220.5 385.5h0M220.5 395h0M221 302h0M221 327.5h0M221 331.5h0M221 337.5h0M221 340.5h0M221 349h0M221 354h0M221 372h0M221 376h0M221 383h0M221 390.5h0M221 391h0M221 394h0M221.5 258.5h0M221.5 278.5h0M221.5 291.5h0M221.5 297.5h0M221.5 315h0M221.5 322.5h0M221.5 332h0M221.5 344.5h0M221.5 350.5h0M221.5 355h0M221.5 358.5h0M221.5 359h0M221.5 361.5h0M221.5 366h0M221.5 375h0M221.5 383.5h0M221.5 388h0M221.5 390h0M221.5 392h0M222 270.5h0M222 326h0M222 338h0M222 348h0M222 358.5h0M222 363.5h0M222 365h0M222 367.5h0M222 368.5h0M222 372h0M222 374.5h0M222 379.5h0M222 382h0M222 386.5h0M222 389h0M222 391h0M222 393.5h0M222 395h0M222 405.5h0M222.5 318.5h0M222.5 328h0M222.5 335h0M222.5 341.5h0M222.5 346h0M222.5 357h0M222.5 369h0M222.5 372.5h0M222.5 377h0M222.5 377.5h0M222.5 380.5h0M222.5 383h0M222.5 386.5h0M222.5 389.5h0M222.5 391h0M222.5 392h0M223 290.5h0M223 300.5h0M223 307.5h0M223 313.5h0M223 317h0M223 338h0M223 340.5h0M223 342h0M223 351h0M223 361.5h0M223 364h0M223 366.5h0M223 372.5h0M223 378.5h0M223 379.5h0M223 387h0M223.5 196h0M223.5 260h0M223.5 344h0M223.5 345.5h0M223.5 366.5h0M223.5 367.5h0M223.5 375.5h0M223.5 378h0M223.5 383.5h0M223.5 395h0M224 258.5h0M224 261.5h0M224 327.5h0M224 329.5h0M224 350.5h0M224 359.5h0M224 369.5h0M224 376h0M224 380.5h0M224 386.5h0M224 388.5h0M224.5 268.5h0M224.5 340.5h0M224.5 342.5h0M224.5 344h0M224.5 347h0M224.5 349h0M224.5 373.5h0M224.5 378h0M224.5 384h0M225 314.5h0M225 346h0M225 354.5h0M225 355.5h0M225 380h0M225 380.5h0M225 384h0M225 399.5h0M225 400h0M225.5 310h0M225.5 345h0M225.5 352h0M225.5 361h0M226 282.5h0M226 323h0M226.5 271h0M226.5 279h0M226.5 363h0M227 230h0M227 276h0M227 311.5h0M227 334.5h0M227 388h0M227.5 396.5h0M228 306.5h0M228 379.5h0M228 388h0M228.5 325.5h0M228.5 348.5h0M228.5 375h0M228.5 402h0M229 259h0M229 282h0M229.5 275.5h0M229.5 281h0M229.5 287.5h0M229.5 291.5h0M229.5 303h0M229.5 388h0M230.5 294.5h0M230.5 298h0M231 305h0M231.5 217h0M231.5 273.5h0M231.5 277h0M231.5 278h0M231.5 285h0M231.5 376h0M232 366.5h0M232.5 328h0M232.5 365h0M233 347h0M233.5 359.5h0M233.5 373h0M234 258.5h0M234 277h0M234 339h0M234.5 305.5h0M234.5 328.5h0M235 287h0M235 323.5h0M235 374h0M235.5 95h0M235.5 270.5h0M235.5 290h0M235.5 298h0M236 264h0M236 354h0M236.5 308h0M237 400.5h0M238 223h0M238 373h0M238.5 277.5h0M238.5 295.5h0M238.5 384h0M239 238h0M239 257.5h0M239 294.5h0M239 302.5h0M239.5 271.5h0M239.5 272h0M239.5 378.5h0M241.5 328h0M242 152.5h0M242 396.5h0M242.5 293.5h0M242.5 316.5h0M243 234h0M243 310.5h0M243 341h0M244.5 264.5h0M244.5 390.5h0M245 286.5h0M245 343.5h0M245.5 293h0M246 184h0M246.5 268h0M246.5 311.5h0M247 243.5h0M247 402.5h0M248 241h0M248 269h0M248 371.5h0M250 269h0M250 279h0M250.5 373h0M251 364.5h0M251.5 239.5h0M251.5 276h0M260 210.5h0M262.5 390h0M267.5 328h0M270 264h0M272.5 386h0M275.5 237.5h0M275.5 333h0M276 184h0M281.5 385h0M284.5 68.5h0M288 319h0M296 336.5h0M313 339.5h0M316.5 364.5h0M320 359.5h0M330.5 329.5h0M361.5 335h0M390.5 321h0M392.5 352h0" stroke="#cccccc" stroke-width="4.3" stroke-linecap="round" fill="none"/>
<path transform="scale(1.180 1)" d="M288 260.5h0M296.5 241.5h0M302 140h0M303 262h0M303.5 240.5h0M315.5 255.5h0M324.5 303h0M327.5 275h0M330.5 166.5h0M334 154h0M337 250h0M345.5 227h0M363 237h0M368 299.5h0M373.5 309.5h0M459 288h0M481.5 286h0" stroke="#ff0000" stroke-width="4.3" stroke-linecap="round" fill="none"/>
<rect x="82.2" y="54.5" width="505" height="377" fill="none" stroke="#3a3a3a" stroke-width="1.3"/>
<path d="M336.2 54.5L336.2 431.5" stroke="#222" stroke-width="1.6" stroke-dasharray="3.1 3.0"/>
<path d="M82.2 312.9L587.2 312.9" stroke="#333" stroke-width="1.6" stroke-dasharray="3.9 3.2"/>
<text transform="translate(955.9 30) scale(1.180 1.000)" font-size="14.8" font-weight="bold" text-anchor="middle">Volcano Plot</text>
<text transform="translate(955.9 487.5) scale(1.180 1.000)" font-size="12.3" text-anchor="middle">log2(fold change)</text>
<text transform="translate(647 243.2) rotate(-90) scale(1.000 1.180)" font-size="12.3" text-anchor="middle">−log10(p−value)</text>
<path d="M796 431.9L796 439.4" stroke="#3a3a3a" stroke-width="1.2"/>
<text transform="translate(796 458.6) scale(1.180 1.000)" font-size="12.3" text-anchor="middle">−2</text>
<path d="M917.8 431.9L917.8 439.4" stroke="#3a3a3a" stroke-width="1.2"/>
<text transform="translate(917.8 458.6) scale(1.180 1.000)" font-size="12.3" text-anchor="middle">0</text>
<path d="M1039.6 431.9L1039.6 439.4" stroke="#3a3a3a" stroke-width="1.2"/>
<text transform="translate(1039.6 458.6) scale(1.180 1.000)" font-size="12.3" text-anchor="middle">2</text>
<path d="M1161.4 431.9L1161.4 439.4" stroke="#3a3a3a" stroke-width="1.2"/>
<text transform="translate(1161.4 458.6) scale(1.180 1.000)" font-size="12.3" text-anchor="middle">4</text>
<path d="M703.3 418L694.3 418" stroke="#3a3a3a" stroke-width="1.2"/>
<text transform="translate(683.5 418) rotate(-90) scale(1.000 1.180)" font-size="12.3" text-anchor="middle">0</text>
<path d="M703.3 363.6L694.3 363.6" stroke="#3a3a3a" stroke-width="1.2"/>
<text transform="translate(683.5 363.6) rotate(-90) scale(1.000 1.180)" font-size="12.3" text-anchor="middle">1</text>
<path d="M703.3 309.1L694.3 309.1" stroke="#3a3a3a" stroke-width="1.2"/>
<text transform="translate(683.5 309.1) rotate(-90) scale(1.000 1.180)" font-size="12.3" text-anchor="middle">2</text>
<path d="M703.3 254.7L694.3 254.7" stroke="#3a3a3a" stroke-width="1.2"/>
<text transform="translate(683.5 254.7) rotate(-90) scale(1.000 1.180)" font-size="12.3" text-anchor="middle">3</text>
<path d="M703.3 200.3L694.3 200.3" stroke="#3a3a3a" stroke-width="1.2"/>
<text transform="translate(683.5 200.3) rotate(-90) scale(1.000 1.180)" font-size="12.3" text-anchor="middle">4</text>
<path d="M703.3 145.9L694.3 145.9" stroke="#3a3a3a" stroke-width="1.2"/>
<text transform="translate(683.5 145.9) rotate(-90) scale(1.000 1.180)" font-size="12.3" text-anchor="middle">5</text>
<path d="M703.3 91.4L694.3 91.4" stroke="#3a3a3a" stroke-width="1.2"/>
<text transform="translate(683.5 91.4) rotate(-90) scale(1.000 1.180)" font-size="12.3" text-anchor="middle">6</text>
<path transform="scale(1.180 1)" d="M722 355.5h0M723.5 396h0M729 404.5h0M730 345h0M730.5 310h0M730.5 313.5h0M730.5 318.5h0M730.5 321h0M730.5 325h0M730.5 336h0M730.5 336.5h0M730.5 344.5h0M730.5 348h0M731 314h0M731 319.5h0M731 322.5h0M731 323h0M731 332.5h0M731 337h0M731 338.5h0M731 339h0M731 339.5h0M731 349.5h0M731 350h0M731.5 291h0M731.5 304h0M731.5 304.5h0M731.5 317.5h0M731.5 318h0M731.5 320.5h0M731.5 328.5h0M731.5 330h0M731.5 342h0M731.5 343h0M731.5 344.5h0M731.5 345h0M731.5 348h0M731.5 350.5h0M731.5 353.5h0M731.5 358h0M731.5 362.5h0M732 304h0M732 308.5h0M732 310h0M732 312h0M732 315h0M732 318h0M732 325.5h0M732 337h0M732 341.5h0M732 347h0M732 354.5h0M732 358h0M732 359.5h0M732 365.5h0M732.5 264h0M732.5 266.5h0M732.5 288h0M732.5 291h0M732.5 297h0M732.5 299h0M732.5 304.5h0M732.5 313.5h0M732.5 330.5h0M732.5 337.5h0M732.5 347.5h0M732.5 351h0M732.5 357.5h0M732.5 360.5h0M732.5 365h0M733 259.5h0M733 263h0M733 278.5h0M733 281h0M733 282.5h0M733 286h0M733 292h0M733 296.5h0M733 297h0M733 304h0M733 312.5h0M733 315.5h0M733 319.5h0M733 320h0M733 322h0M733 325.5h0M733 327h0M733 331h0M733 332.5h0M733 340h0M733 348h0M733 351.5h0M733 352h0M733 355h0M733 359.5h0M733 364h0M733 366h0M733.5 255.5h0M733.5 256h0M733.5 260h0M733.5 265h0M733.5 268.5h0M733.5 270.5h0M733.5 278.5h0M733.5 283h0M733.5 292.5h0M733.5 295h0M733.5 301h0M733.5 311h0M733.5 320.5h0M733.5 321.5h0M733.5 322h0M733.5 329h0M733.5 334h0M733.5 336h0M733.5 340h0M733.5 344h0M733.5 346.5h0M733.5 348h0M733.5 352.5h0M733.5 353.5h0M733.5 360h0M733.5 360.5h0M733.5 367h0M733.5 370.5h0M734 244h0M734 258.5h0M734 263.5h0M734 268h0M734 268.5h0M734 275h0M734 289h0M734 292h0M734 295.5h0M734 304h0M734 316.5h0M734 319h0M734 322h0M734 328h0M734 332.5h0M734 334h0M734 337h0M734 340h0M734 340.5h0M734 344h0M734 351.5h0M734 352.5h0M734 355.5h0M734 358h0M734 363.5h0M734 366h0M734 370h0M734.5 235.5h0M734.5 237h0M734.5 246.5h0M734.5 253.5h0M734.5 263h0M734.5 272h0M734.5 303.5h0M734.5 309.5h0M734.5 313h0M734.5 318.5h0M734.5 319h0M734.5 339.5h0M734.5 343h0M734.5 347h0M734.5 349.5h0M734.5 356h0M734.5 359.5h0M734.5 360h0M734.5 360.5h0M734.5 361h0M734.5 366.5h0M735 224h0M735 254.5h0M735 265h0M735 269h0M735 279h0M735 293h0M735 296.5h0M735 300h0M735 303h0M735 304.5h0M735 305.5h0M735 310h0M735 312.5h0M735 314h0M735 316h0M735 334h0M735 342.5h0M735 348.5h0M735 349h0M735 350h0M735 351h0M735 353h0M735 356h0M735 358.5h0M735 361.5h0M735 362.5h0M735 365h0M735 371h0M735 373h0M735 374h0M735 375.5h0M735.5 236h0M735.5 249.5h0M735.5 250h0M735.5 258.5h0M735.5 259h0M735.5 266h0M735.5 266.5h0M735.5 267.5h0M735.5 275.5h0M735.5 276.5h0M735.5 292.5h0M735.5 293h0M735.5 296h0M735.5 297h0M735.5 302h0M735.5 305.5h0M735.5 322.5h0M735.5 323.5h0M735.5 326h0M735.5 331h0M735.5 331.5h0M735.5 337h0M735.5 339h0M735.5 339.5h0M735.5 340.5h0M735.5 346h0M735.5 347h0M735.5 348h0M735.5 350.5h0M735.5 351h0M735.5 354h0M735.5 357h0M735.5 362.5h0M735.5 373h0M735.5 374.5h0M735.5 375.5h0M735.5 377h0M736 233.5h0M736 250h0M736 272h0M736 291.5h0M736 293.5h0M736 298h0M736 298.5h0M736 314.5h0M736 318.5h0M736 320.5h0M736 326h0M736 331h0M736 332h0M736 333h0M736 335.5h0M736 340h0M736 341h0M736 343.5h0M736 344.5h0M736 347h0M736 351.5h0M736 353.5h0M736 355h0M736 360.5h0M736 363h0M736 363.5h0M736 365.5h0M736 369h0M736 371.5h0M736 373.5h0M736 375.5h0M736 376h0M736.5 238.5h0M736.5 240.5h0M736.5 242h0M736.5 257h0M736.5 258.5h0M736.5 260.5h0M736.5 284.5h0M736.5 292.5h0M736.5 300.5h0M736.5 307.5h0M736.5 310h0M736.5 311h0M736.5 312h0M736.5 315.5h0M736.5 324h0M736.5 324.5h0M736.5 325.5h0M736.5 335h0M736.5 340.5h0M736.5 343.5h0M736.5 344h0M736.5 347.5h0M736.5 361.5h0M736.5 364.5h0M736.5 376.5h0M736.5 378h0M737 236.5h0M737 258h0M737 267.5h0M737 269h0M737 273h0M737 275.5h0M737 276.5h0M737 280.5h0M737 290h0M737 290.5h0M737 298h0M737 303.5h0M737 304h0M737 307.5h0M737 311.5h0M737 313h0M737 316.5h0M737 318h0M737 329.5h0M737 335.5h0M737 338.5h0M737 339.5h0M737 344h0M737 345.5h0M737 346.5h0M737 348h0M737 352.5h0M737 354h0M737 356h0M737 357h0M737 358.5h0M737 363.5h0M737 366.5h0M737 367h0M737 368h0M737 370h0M737 374h0M737 376h0M737 377.5h0M737 380h0M737.5 253.5h0M737.5 254h0M737.5 266.5h0M737.5 271h0M737.5 275h0M737.5 277h0M737.5 278h0M737.5 283.5h0M737.5 288.5h0M737.5 291h0M737.5 293h0M737.5 297h0M737.5 302.5h0M737.5 304.5h0M737.5 307h0M737.5 317h0M737.5 321h0M737.5 325h0M737.5 331h0M737.5 337.5h0M737.5 338h0M737.5 341h0M737.5 343h0M737.5 347.5h0M737.5 351.5h0M737.5 352.5h0M737.5 358h0M737.5 359.5h0M737.5 361h0M737.5 364h0M737.5 366h0M737.5 368.5h0M737.5 371.5h0M737.5 372.5h0M737.5 378h0M737.5 379.5h0M737.5 381h0M737.5 381.5h0M738 251h0M738 271.5h0M738 273h0M738 288.5h0M738 290.5h0M738 297.5h0M738 306h0M738 317h0M738 318.5h0M738 320.5h0M738 321h0M738 322h0M738 324h0M738 324.5h0M738 328h0M738 333h0M738 334.5h0M738 341.5h0M738 342.5h0M738 350h0M738 353h0M738 359.5h0M738 362.5h0M738 364h0M738 364.5h0M738 365.5h0M738 366h0M738 367h0M738 370.5h0M738 374h0M738 377.5h0M738.5 164.5h0M738.5 246.5h0M738.5 248.5h0M738.5 252h0M738.5 257.5h0M738.5 275h0M738.5 286h0M738.5 291.5h0M738.5 302.5h0M738.5 303.5h0M738.5 310.5h0M738.5 314.5h0M738.5 315h0M738.5 320.5h0M738.5 325h0M738.5 328.5h0M738.5 342.5h0M738.5 346.5h0M738.5 347.5h0M738.5 352.5h0M738.5 353.5h0M738.5 356h0M738.5 359.5h0M738.5 361h0M738.5 362h0M738.5 362.5h0M738.5 366h0M738.5 373.5h0M738.5 374h0M738.5 377h0M738.5 378h0M738.5 378.5h0M738.5 382h0M738.5 383h0M738.5 384h0M739 233.5h0M739 254h0M739 267.5h0M739 270h0M739 273h0M739 275.5h0M739 281h0M739 285.5h0M739 290h0M739 292h0M739 297.5h0M739 303.5h0M739 304h0M739 311.5h0M739 327.5h0M739 335h0M739 335.5h0M739 340h0M739 343.5h0M739 347h0M739 350.5h0M739 351h0M739 354.5h0M739 358h0M739 361.5h0M739 363h0M739 363.5h0M739 364h0M739 369h0M739 370h0M739 372.5h0M739 374.5h0M739 376.5h0M739 378h0M739 379h0M739 385h0M739.5 241.5h0M739.5 251.5h0M739.5 256.5h0M739.5 257h0M739.5 259.5h0M739.5 260h0M739.5 263.5h0M739.5 267.5h0M739.5 270.5h0M739.5 283h0M739.5 290h0M739.5 296.5h0M739.5 301h0M739.5 315.5h0M739.5 316h0M739.5 319.5h0M739.5 331.5h0M739.5 336h0M739.5 339h0M739.5 340.5h0M739.5 345h0M739.5 346.5h0M739.5 348.5h0M739.5 349.5h0M739.5 352h0M739.5 353h0M739.5 354h0M739.5 358.5h0M739.5 360h0M739.5 362h0M739.5 362.5h0M739.5 363.5h0M739.5 365h0M739.5 368.5h0M739.5 370h0M739.5 380h0M739.5 380.5h0M739.5 381h0M739.5 382h0M739.5 382.5h0M739.5 385.5h0M740 223h0M740 235h0M740 249h0M740 250h0M740 252.5h0M740 266.5h0M740 272h0M740 273h0M740 274h0M740 279.5h0M740 281h0M740 283h0M740 294h0M740 306h0M740 314h0M740 315.5h0M740 322.5h0M740 324.5h0M740 330h0M740 330.5h0M740 337.5h0M740 340h0M740 345h0M740 346.5h0M740 348.5h0M740 349.5h0M740 355.5h0M740 356.5h0M740 357.5h0M740 360.5h0M740 365.5h0M740 367.5h0M740 372h0M740 372.5h0M740 374h0M740 374.5h0M740 378.5h0M740 379h0M740 379.5h0M740 380.5h0M740 382h0M740 384h0M740 384.5h0M740 385h0M740.5 259.5h0M740.5 263.5h0M740.5 271h0M740.5 278.5h0M740.5 280.5h0M740.5 293h0M740.5 295.5h0M740.5 298h0M740.5 300h0M740.5 303.5h0M740.5 304.5h0M740.5 305h0M740.5 307h0M740.5 310h0M740.5 313.5h0M740.5 319h0M740.5 328.5h0M740.5 331h0M740.5 331.5h0M740.5 335h0M740.5 336h0M740.5 337.5h0M740.5 345h0M740.5 345.5h0M740.5 346.5h0M740.5 349h0M740.5 349.5h0M740.5 351.5h0M740.5 353.5h0M740.5 359h0M740.5 361.5h0M740.5 364.5h0M740.5 365h0M740.5 367h0M740.5 374h0M740.5 376.5h0M740.5 377.5h0M740.5 378.5h0M740.5 380h0M740.5 382.5h0M740.5 383h0M740.5 386h0M740.5 387h0M741 254h0M741 257.5h0M741 259.5h0M741 262h0M741 273h0M741 274h0M741 279.5h0M741 280h0M741 287h0M741 289h0M741 290h0M741 295h0M741 295.5h0M741 297h0M741 299h0M741 300.5h0M741 306h0M741 307h0M741 315h0M741 318h0M741 324h0M741 331h0M741 335h0M741 335.5h0M741 338h0M741 338.5h0M741 339.5h0M741 340.5h0M741 345.5h0M741 359h0M741 360.5h0M741 362.5h0M741 363.5h0M741 365h0M741 365.5h0M741 369h0M741 369.5h0M741 372h0M741 374h0M741 377.5h0M741 378h0M741 379.5h0M741 381h0M741 382h0M741 383h0M741 383.5h0M741 385.5h0M741 387h0M741 387.5h0M741 388h0M741.5 224h0M741.5 229h0M741.5 255h0M741.5 262.5h0M741.5 268h0M741.5 274h0M741.5 283h0M741.5 284h0M741.5 289h0M741.5 295h0M741.5 303h0M741.5 308h0M741.5 310h0M741.5 312h0M741.5 312.5h0M741.5 324h0M741.5 326h0M741.5 333h0M741.5 334.5h0M741.5 335h0M741.5 336h0M741.5 353.5h0M741.5 360.5h0M741.5 361h0M741.5 363h0M741.5 365h0M741.5 367h0M741.5 368.5h0M741.5 371.5h0M741.5 373.5h0M741.5 375h0M741.5 377h0M741.5 377.5h0M741.5 379h0M741.5 379.5h0M741.5 380h0M741.5 380.5h0M741.5 382.5h0M741.5 383h0M741.5 384.5h0M742 261h0M742 261.5h0M742 272.5h0M742 282.5h0M742 283h0M742 285.5h0M742 292.5h0M742 296h0M742 296.5h0M742 303.5h0M742 304.5h0M742 313h0M742 314.5h0M742 316h0M742 319.5h0M742 321h0M742 324h0M742 324.5h0M742 325.5h0M742 326.5h0M742 328h0M742 343.5h0M742 344h0M742 350h0M742 350.5h0M742 351.5h0M742 354.5h0M742 358h0M742 358.5h0M742 360h0M742 367h0M742 368h0M742 374h0M742 378h0M742 379h0M742 380.5h0M742 382.5h0M742 388h0M742 388.5h0M742.5 236h0M742.5 242h0M742.5 261h0M742.5 271h0M742.5 276h0M742.5 282h0M742.5 288h0M742.5 290h0M742.5 292h0M742.5 292.5h0M742.5 293h0M742.5 300h0M742.5 301h0M742.5 302.5h0M742.5 319.5h0M742.5 332.5h0M742.5 333.5h0M742.5 335.5h0M742.5 338h0M742.5 343h0M742.5 348h0M742.5 349h0M742.5 353h0M742.5 355h0M742.5 355.5h0M742.5 356.5h0M742.5 359.5h0M742.5 365h0M742.5 365.5h0M742.5 366.5h0M742.5 375h0M742.5 376.5h0M742.5 379h0M742.5 379.5h0M742.5 380h0M742.5 380.5h0M742.5 382h0M742.5 385h0M742.5 388h0M742.5 388.5h0M743 225h0M743 244h0M743 250h0M743 250.5h0M743 258.5h0M743 262.5h0M743 267.5h0M743 282.5h0M743 286h0M743 295h0M743 307.5h0M743 315h0M743 315.5h0M743 326.5h0M743 328h0M743 336h0M743 336.5h0M743 338.5h0M743 339.5h0M743 345.5h0M743 346h0M743 354.5h0M743 355.5h0M743 357.5h0M743 361h0M743 363h0M743 370.5h0M743 373h0M743 373.5h0M743 374h0M743 378h0M743 378.5h0M743 381h0M743 381.5h0M743 382h0M743 383.5h0M743 384.5h0M743 390.5h0M743.5 246h0M743.5 247.5h0M743.5 255h0M743.5 265h0M743.5 266.5h0M743.5 268.5h0M743.5 280h0M743.5 286h0M743.5 287.5h0M743.5 299h0M743.5 306.5h0M743.5 314.5h0M743.5 318h0M743.5 319h0M743.5 324h0M743.5 330h0M743.5 332.5h0M743.5 334.5h0M743.5 336h0M743.5 339.5h0M743.5 348h0M743.5 348.5h0M743.5 351h0M743.5 354.5h0M743.5 360h0M743.5 362.5h0M743.5 365h0M743.5 366h0M743.5 368.5h0M743.5 369.5h0M743.5 372.5h0M743.5 373h0M743.5 375.5h0M743.5 376.5h0M743.5 381h0M743.5 382h0M743.5 382.5h0M743.5 383h0M743.5 383.5h0M743.5 384h0M743.5 384.5h0M743.5 386.5h0M743.5 387.5h0M743.5 388h0M743.5 388.5h0M743.5 391h0M744 203.5h0M744 229h0M744 254.5h0M744 257h0M744 268h0M744 270h0M744 271h0M744 273h0M744 276.5h0M744 279h0M744 288h0M744 290h0M744 306h0M744 307h0M744 309h0M744 310.5h0M744 311.5h0M744 313.5h0M744 314h0M744 315h0M744 322.5h0M744 324h0M744 325h0M744 325.5h0M744 327h0M744 331h0M744 332h0M744 336h0M744 337h0M744 339.5h0M744 341.5h0M744 343h0M744 343.5h0M744 353.5h0M744 354h0M744 355h0M744 356h0M744 356.5h0M744 360h0M744 373h0M744 374h0M744 377h0M744 377.5h0M744 379.5h0M744 381h0M744 382h0M744 382.5h0M744 383.5h0M744 386h0M744 386.5h0M744 387.5h0M744 389h0M744 392h0M744.5 245.5h0M744.5 254h0M744.5 263h0M744.5 268.5h0M744.5 273.5h0M744.5 281h0M744.5 287.5h0M744.5 294.5h0M744.5 298h0M744.5 305h0M744.5 310.5h0M744.5 317h0M744.5 321h0M744.5 332h0M744.5 337h0M744.5 344h0M744.5 344.5h0M744.5 346h0M744.5 348h0M744.5 349.5h0M744.5 350h0M744.5 354.5h0M744.5 358h0M744.5 359h0M744.5 360h0M744.5 363.5h0M744.5 368.5h0M744.5 376.5h0M744.5 377.5h0M744.5 378h0M744.5 380h0M744.5 380.5h0M744.5 384h0M744.5 386h0M744.5 387h0M744.5 388.5h0M744.5 389h0M744.5 390.5h0M744.5 393h0M745 197.5h0M745 232h0M745 246.5h0M745 260h0M745 268h0M745 278.5h0M745 286h0M745 286.5h0M745 292.5h0M745 295.5h0M745 303h0M745 306h0M745 312.5h0M745 315.5h0M745 328.5h0M745 329h0M745 338h0M745 341.5h0M745 343.5h0M745 352h0M745 353h0M745 353.5h0M745 355.5h0M745 357h0M745 359.5h0M745 361h0M745 361.5h0M745 363h0M745 364h0M745 364.5h0M745 366h0M745 367h0M745 368.5h0M745 369.5h0M745 370.5h0M745 371h0M745 379.5h0M745 380.5h0M745 382h0M745 383.5h0M745 386.5h0M745 387.5h0M745 388h0M745 388.5h0M745 390h0M745.5 243h0M745.5 262h0M745.5 271h0M745.5 272.5h0M745.5 274.5h0M745.5 278h0M745.5 293.5h0M745.5 305h0M745.5 307h0M745.5 310.5h0M745.5 315.5h0M745.5 316h0M745.5 316.5h0M745.5 317.5h0M745.5 320.5h0M745.5 323h0M745.5 327.5h0M745.5 329h0M745.5 332h0M745.5 332.5h0M745.5 334h0M745.5 334.5h0M745.5 336.5h0M745.5 337.5h0M745.5 340h0M745.5 345h0M745.5 347.5h0M745.5 348h0M745.5 355h0M745.5 355.5h0M745.5 357.5h0M745.5 360h0M745.5 360.5h0M745.5 361h0M745.5 366h0M745.5 366.5h0M745.5 368h0M745.5 369.5h0M745.5 372h0M745.5 372.5h0M745.5 376.5h0M745.5 377h0M745.5 377.5h0M745.5 378h0M745.5 379.5h0M745.5 383h0M745.5 387h0M745.5 387.5h0M745.5 388.5h0M745.5 389.5h0M745.5 390.5h0M745.5 391.5h0M745.5 392.5h0M745.5 394.5h0M746 240h0M746 247.5h0M746 261h0M746 274h0M746 276h0M746 291h0M746 293.5h0M746 295.5h0M746 303h0M746 317h0M746 320h0M746 323.5h0M746 324h0M746 327.5h0M746 328.5h0M746 330h0M746 331.5h0M746 337h0M746 340h0M746 344h0M746 346.5h0M746 350h0M746 352h0M746 353.5h0M746 355h0M746 356.5h0M746 358h0M746 361.5h0M746 362.5h0M746 370h0M746 370.5h0M746 372.5h0M746 375.5h0M746 377h0M746 379.5h0M746 380h0M746 381h0M746 382.5h0M746 385h0M746 385.5h0M746 386h0M746 388h0M746 389h0M746 389.5h0M746 392h0M746 393h0M746 394h0M746 395h0M746.5 233.5h0M746.5 236h0M746.5 257.5h0M746.5 264h0M746.5 270h0M746.5 280.5h0M746.5 287h0M746.5 292.5h0M746.5 305.5h0M746.5 311.5h0M746.5 313.5h0M746.5 323.5h0M746.5 325.5h0M746.5 328.5h0M746.5 331.5h0M746.5 335.5h0M746.5 337.5h0M746.5 349h0M746.5 355h0M746.5 355.5h0M746.5 356h0M746.5 359h0M746.5 365h0M746.5 369h0M746.5 369.5h0M746.5 371.5h0M746.5 374.5h0M746.5 382.5h0M746.5 385h0M746.5 386.5h0M746.5 388.5h0M746.5 389h0M746.5 390h0M746.5 390.5h0M746.5 391.5h0M746.5 392h0M746.5 394.5h0M747 253h0M747 254.5h0M747 261h0M747 268.5h0M747 272.5h0M747 274h0M747 278h0M747 280h0M747 282h0M747 285h0M747 295.5h0M747 299h0M747 299.5h0M747 300h0M747 304.5h0M747 305h0M747 308.5h0M747 309.5h0M747 314.5h0M747 315.5h0M747 318h0M747 319.5h0M747 321h0M747 323.5h0M747 324.5h0M747 326h0M747 327h0M747 334h0M747 339h0M747 339.5h0M747 343h0M747 345.5h0M747 348h0M747 350h0M747 351h0M747 353h0M747 353.5h0M747 354h0M747 356.5h0M747 358.5h0M747 361h0M747 363.5h0M747 364.5h0M747 365h0M747 369h0M747 372h0M747 374h0M747 374.5h0M747 377h0M747 377.5h0M747 378.5h0M747 380.5h0M747 381h0M747 381.5h0M747 383h0M747 383.5h0M747 384h0M747 384.5h0M747 385h0M747 387h0M747 388.5h0M747 390h0M747 390.5h0M747 391h0M747 392h0M747 395h0M747.5 230.5h0M747.5 246h0M747.5 252h0M747.5 260h0M747.5 265h0M747.5 266h0M747.5 267.5h0M747.5 281h0M747.5 287h0M747.5 287.5h0M747.5 289h0M747.5 290.5h0M747.5 292h0M747.5 292.5h0M747.5 294h0M747.5 296.5h0M747.5 297.5h0M747.5 305.5h0M747.5 320.5h0M747.5 321.5h0M747.5 322.5h0M747.5 323.5h0M747.5 324h0M747.5 325h0M747.5 327h0M747.5 328h0M747.5 329h0M747.5 329.5h0M747.5 334.5h0M747.5 337h0M747.5 343h0M747.5 345h0M747.5 348.5h0M747.5 354.5h0M747.5 359.5h0M747.5 362.5h0M747.5 365h0M747.5 366.5h0M747.5 367h0M747.5 373h0M747.5 373.5h0M747.5 376.5h0M747.5 380h0M747.5 383.5h0M747.5 384.5h0M747.5 385h0M747.5 388.5h0M747.5 389h0M747.5 389.5h0M747.5 390h0M747.5 390.5h0M747.5 391h0M747.5 392h0M747.5 392.5h0M747.5 396h0M747.5 396.5h0M748 213h0M748 220h0M748 257h0M748 265.5h0M748 266h0M748 268h0M748 274h0M748 279h0M748 288.5h0M748 297h0M748 298h0M748 300.5h0M748 301h0M748 306h0M748 307h0M748 307.5h0M748 315.5h0M748 316h0M748 317.5h0M748 319.5h0M748 323.5h0M748 324h0M748 337h0M748 341h0M748 341.5h0M748 343.5h0M748 344.5h0M748 346.5h0M748 351.5h0M748 352.5h0M748 353h0M748 355.5h0M748 356.5h0M748 357.5h0M748 358h0M748 358.5h0M748 360h0M748 366.5h0M748 369h0M748 369.5h0M748 376h0M748 380.5h0M748 387h0M748 388h0M748 388.5h0M748 390h0M748 390.5h0M748 392.5h0M748 393.5h0M748 396.5h0M748.5 156h0M748.5 225h0M748.5 227h0M748.5 230h0M748.5 248.5h0M748.5 260h0M748.5 260.5h0M748.5 268.5h0M748.5 275.5h0M748.5 292.5h0M748.5 305h0M748.5 307.5h0M748.5 328.5h0M748.5 329.5h0M748.5 330.5h0M748.5 332.5h0M748.5 336.5h0M748.5 338.5h0M748.5 345.5h0M748.5 346h0M748.5 348.5h0M748.5 353h0M748.5 354h0M748.5 359.5h0M748.5 361h0M748.5 363.5h0M748.5 366.5h0M748.5 369h0M748.5 371.5h0M748.5 372.5h0M748.5 373h0M748.5 374h0M748.5 378h0M748.5 380h0M748.5 382.5h0M748.5 383.5h0M748.5 384h0M748.5 387h0M748.5 388h0M748.5 388.5h0M748.5 389h0M748.5 390h0M748.5 390.5h0M748.5 392.5h0M748.5 393h0M748.5 394.5h0M748.5 397.5h0M749 148h0M749 236.5h0M749 257.5h0M749 258h0M749 270.5h0M749 271h0M749 273h0M749 273.5h0M749 284.5h0M749 290.5h0M749 294.5h0M749 295h0M749 300.5h0M749 303.5h0M749 304h0M749 308h0M749 320h0M749 320.5h0M749 322h0M749 325h0M749 326h0M749 330.5h0M749 335h0M749 335.5h0M749 342.5h0M749 343h0M749 344h0M749 344.5h0M749 345.5h0M749 353.5h0M749 354.5h0M749 355h0M749 356.5h0M749 360h0M749 361h0M749 364h0M749 365.5h0M749 366.5h0M749 367.5h0M749 369.5h0M749 372.5h0M749 374.5h0M749 378h0M749 382h0M749 385.5h0M749 386.5h0M749 387h0M749 388.5h0M749 390h0M749 391.5h0M749 393h0M749 393.5h0M749 396h0M749 396.5h0M749 397h0M749 398h0M749.5 240h0M749.5 242h0M749.5 257.5h0M749.5 263h0M749.5 264h0M749.5 266.5h0M749.5 285h0M749.5 291h0M749.5 306h0M749.5 307.5h0M749.5 309h0M749.5 329h0M749.5 329.5h0M749.5 331h0M749.5 334.5h0M749.5 345.5h0M749.5 351h0M749.5 351.5h0M749.5 352.5h0M749.5 358h0M749.5 359.5h0M749.5 365.5h0M749.5 366h0M749.5 366.5h0M749.5 368h0M749.5 370h0M749.5 371.5h0M749.5 375h0M749.5 375.5h0M749.5 376.5h0M749.5 377.5h0M749.5 378.5h0M749.5 379h0M749.5 381h0M749.5 382h0M749.5 384.5h0M749.5 385h0M749.5 385.5h0M749.5 386h0M749.5 388h0M749.5 389h0M749.5 389.5h0M749.5 391h0M749.5 391.5h0M749.5 392.5h0M749.5 393.5h0M749.5 394h0M749.5 395.5h0M749.5 396h0M749.5 397h0M749.5 397.5h0M749.5 398.5h0M750 238h0M750 239.5h0M750 240.5h0M750 241h0M750 250.5h0M750 252.5h0M750 263h0M750 267.5h0M750 269.5h0M750 272.5h0M750 278h0M750 281h0M750 287h0M750 289h0M750 298h0M750 304.5h0M750 310h0M750 312.5h0M750 314.5h0M750 316.5h0M750 318h0M750 321h0M750 324.5h0M750 325.5h0M750 328h0M750 340h0M750 340.5h0M750 349h0M750 352.5h0M750 353h0M750 357h0M750 361.5h0M750 363h0M750 365h0M750 367.5h0M750 370.5h0M750 371.5h0M750 372h0M750 375.5h0M750 376.5h0M750 378.5h0M750 380h0M750 381.5h0M750 382h0M750 384.5h0M750 386h0M750 387.5h0M750 389h0M750 390h0M750 390.5h0M750 391h0M750 391.5h0M750 394h0M750 396h0M750 398h0M750 399.5h0M750.5 231h0M750.5 240h0M750.5 249.5h0M750.5 251.5h0M750.5 259h0M750.5 273.5h0M750.5 282h0M750.5 284.5h0M750.5 289h0M750.5 302h0M750.5 306.5h0M750.5 308h0M750.5 318h0M750.5 321h0M750.5 322h0M750.5 333.5h0M750.5 336h0M750.5 337.5h0M750.5 344h0M750.5 352.5h0M750.5 354.5h0M750.5 355.5h0M750.5 358h0M750.5 359h0M750.5 362h0M750.5 362.5h0M750.5 367.5h0M750.5 368.5h0M750.5 369h0M750.5 371h0M750.5 372h0M750.5 372.5h0M750.5 376.5h0M750.5 378.5h0M750.5 380.5h0M750.5 381h0M750.5 381.5h0M750.5 383h0M750.5 384h0M750.5 385.5h0M750.5 386.5h0M750.5 388h0M750.5 388.5h0M750.5 389h0M750.5 393h0M750.5 393.5h0M750.5 395h0M750.5 396h0M750.5 397h0M750.5 397.5h0M750.5 398.5h0M750.5 400h0M751 239h0M751 240h0M751 242.5h0M751 265h0M751 265.5h0M751 272.5h0M751 273h0M751 277h0M751 285.5h0M751 286h0M751 290.5h0M751 292h0M751 295h0M751 299.5h0M751 300.5h0M751 302h0M751 303.5h0M751 309.5h0M751 310.5h0M751 314h0M751 315h0M751 320h0M751 320.5h0M751 321h0M751 322h0M751 330h0M751 335h0M751 336h0M751 338.5h0M751 340h0M751 344.5h0M751 346h0M751 347h0M751 348h0M751 348.5h0M751 351h0M751 353h0M751 354.5h0M751 358.5h0M751 362.5h0M751 364h0M751 364.5h0M751 367.5h0M751 371h0M751 372.5h0M751 375.5h0M751 377h0M751 377.5h0M751 378h0M751 380h0M751 384.5h0M751 386.5h0M751 388h0M751 388.5h0M751 391h0M751 391.5h0M751 392h0M751 392.5h0M751 393h0M751 394.5h0M751 395h0M751 395.5h0M751 396h0M751 397h0M751 399.5h0M751.5 250h0M751.5 252.5h0M751.5 253.5h0M751.5 260h0M751.5 266h0M751.5 279.5h0M751.5 285h0M751.5 287h0M751.5 292.5h0M751.5 294h0M751.5 302h0M751.5 304.5h0M751.5 305h0M751.5 308.5h0M751.5 311h0M751.5 315h0M751.5 315.5h0M751.5 321h0M751.5 321.5h0M751.5 330h0M751.5 330.5h0M751.5 331h0M751.5 331.5h0M751.5 332h0M751.5 333.5h0M751.5 343h0M751.5 346.5h0M751.5 347h0M751.5 349.5h0M751.5 356h0M751.5 357h0M751.5 361h0M751.5 361.5h0M751.5 363.5h0M751.5 367h0M751.5 368h0M751.5 369.5h0M751.5 370h0M751.5 372h0M751.5 374h0M751.5 375.5h0M751.5 376h0M751.5 377h0M751.5 378h0M751.5 378.5h0M751.5 379h0M751.5 379.5h0M751.5 380h0M751.5 381.5h0M751.5 383.5h0M751.5 388h0M751.5 389h0M751.5 389.5h0M751.5 390h0M751.5 390.5h0M751.5 391.5h0M751.5 393h0M751.5 395h0M751.5 396h0M751.5 397h0M751.5 397.5h0M751.5 399.5h0M751.5 400h0M752 222.5h0M752 230.5h0M752 243h0M752 244h0M752 249.5h0M752 256.5h0M752 285h0M752 287.5h0M752 288h0M752 303.5h0M752 304.5h0M752 306.5h0M752 307h0M752 308h0M752 308.5h0M752 310h0M752 314h0M752 319h0M752 324.5h0M752 327.5h0M752 330h0M752 333h0M752 334h0M752 339.5h0M752 342.5h0M752 344.5h0M752 346h0M752 348h0M752 350.5h0M752 356h0M752 357.5h0M752 358h0M752 359h0M752 362.5h0M752 363.5h0M752 364h0M752 365h0M752 367h0M752 368h0M752 370h0M752 371.5h0M752 373.5h0M752 374h0M752 376h0M752 377h0M752 378.5h0M752 381.5h0M752 384.5h0M752 385h0M752 386.5h0M752 388h0M752 389h0M752 391h0M752 391.5h0M752 392h0M752 392.5h0M752 395h0M752 395.5h0M752 396.5h0M752 397h0M752 397.5h0M752 398.5h0M752 401h0M752.5 237h0M752.5 244.5h0M752.5 258h0M752.5 261.5h0M752.5 267h0M752.5 267.5h0M752.5 279h0M752.5 284.5h0M752.5 285.5h0M752.5 291.5h0M752.5 295.5h0M752.5 296h0M752.5 298.5h0M752.5 307.5h0M752.5 316h0M752.5 319.5h0M752.5 321.5h0M752.5 322h0M752.5 324h0M752.5 326h0M752.5 331.5h0M752.5 334h0M752.5 338.5h0M752.5 339h0M752.5 340h0M752.5 340.5h0M752.5 342h0M752.5 344.5h0M752.5 347.5h0M752.5 351.5h0M752.5 355.5h0M752.5 356h0M752.5 357.5h0M752.5 358.5h0M752.5 361.5h0M752.5 365h0M752.5 367.5h0M752.5 373h0M752.5 373.5h0M752.5 374.5h0M752.5 377.5h0M752.5 379h0M752.5 379.5h0M752.5 381h0M752.5 381.5h0M752.5 382h0M752.5 382.5h0M752.5 383h0M752.5 383.5h0M752.5 387h0M752.5 387.5h0M752.5 389h0M752.5 390h0M752.5 390.5h0M752.5 391h0M752.5 391.5h0M752.5 394.5h0M752.5 396h0M752.5 396.5h0M752.5 397.5h0M752.5 398h0M752.5 399.5h0M752.5 400h0M752.5 400.5h0M752.5 401h0M752.5 401.5h0M753 221.5h0M753 239.5h0M753 247.5h0M753 258h0M753 280h0M753 280.5h0M753 290h0M753 291.5h0M753 297.5h0M753 299.5h0M753 302h0M753 308h0M753 316h0M753 321h0M753 324.5h0M753 326.5h0M753 333h0M753 337h0M753 338.5h0M753 339.5h0M753 346h0M753 346.5h0M753 348.5h0M753 350.5h0M753 354.5h0M753 364.5h0M753 366h0M753 367h0M753 368h0M753 369h0M753 371.5h0M753 373h0M753 377h0M753 378h0M753 381.5h0M753 383h0M753 383.5h0M753 386h0M753 387.5h0M753 388.5h0M753 389.5h0M753 391h0M753 391.5h0M753 392h0M753 393h0M753 393.5h0M753 394h0M753 395.5h0M753 396.5h0M753 397h0M753 397.5h0M753 399h0M753 400.5h0M753 401h0M753 401.5h0M753 402h0M753 402.5h0M753.5 263h0M753.5 264.5h0M753.5 277h0M753.5 278.5h0M753.5 286h0M753.5 293.5h0M753.5 296h0M753.5 297.5h0M753.5 302.5h0M753.5 303.5h0M753.5 311h0M753.5 317h0M753.5 317.5h0M753.5 319h0M753.5 321h0M753.5 325h0M753.5 326h0M753.5 329h0M753.5 330.5h0M753.5 334.5h0M753.5 335.5h0M753.5 336.5h0M753.5 338.5h0M753.5 339h0M753.5 340h0M753.5 341h0M753.5 346h0M753.5 346.5h0M753.5 356h0M753.5 356.5h0M753.5 357h0M753.5 358h0M753.5 361h0M753.5 362.5h0M753.5 364h0M753.5 365h0M753.5 367.5h0M753.5 371h0M753.5 373h0M753.5 376.5h0M753.5 379.5h0M753.5 381h0M753.5 384h0M753.5 384.5h0M753.5 385h0M753.5 386h0M753.5 387h0M753.5 387.5h0M753.5 388.5h0M753.5 390.5h0M753.5 391h0M753.5 391.5h0M753.5 392h0M753.5 394h0M753.5 394.5h0M753.5 396.5h0M753.5 397h0M753.5 397.5h0M753.5 398.5h0M753.5 399h0M753.5 400h0M753.5 401h0M753.5 401.5h0M754 237h0M754 240h0M754 246h0M754 264h0M754 269h0M754 275h0M754 278h0M754 283h0M754 289.5h0M754 295h0M754 298h0M754 304.5h0M754 310h0M754 314h0M754 322h0M754 324.5h0M754 332h0M754 332.5h0M754 334.5h0M754 336.5h0M754 342h0M754 344.5h0M754 345.5h0M754 346.5h0M754 349h0M754 350h0M754 350.5h0M754 352.5h0M754 355.5h0M754 356h0M754 358h0M754 360.5h0M754 361h0M754 365h0M754 365.5h0M754 371.5h0M754 372h0M754 372.5h0M754 376h0M754 377h0M754 379.5h0M754 381h0M754 381.5h0M754 382.5h0M754 384.5h0M754 386h0M754 386.5h0M754 388h0M754 388.5h0M754 391.5h0M754 392h0M754 392.5h0M754 394h0M754 395.5h0M754 396h0M754 396.5h0M754 397h0M754 398h0M754 398.5h0M754 399h0M754 399.5h0M754 400.5h0M754 401.5h0M754 403h0M754.5 229h0M754.5 241.5h0M754.5 243.5h0M754.5 252h0M754.5 261h0M754.5 265.5h0M754.5 268.5h0M754.5 273h0M754.5 280.5h0M754.5 284.5h0M754.5 288.5h0M754.5 293.5h0M754.5 299h0M754.5 304h0M754.5 305h0M754.5 311h0M754.5 316.5h0M754.5 317h0M754.5 318.5h0M754.5 319h0M754.5 321.5h0M754.5 322h0M754.5 327h0M754.5 330.5h0M754.5 332h0M754.5 332.5h0M754.5 337h0M754.5 339h0M754.5 341.5h0M754.5 342h0M754.5 349.5h0M754.5 355.5h0M754.5 356h0M754.5 356.5h0M754.5 357h0M754.5 358h0M754.5 360h0M754.5 363.5h0M754.5 364.5h0M754.5 367h0M754.5 367.5h0M754.5 371.5h0M754.5 372.5h0M754.5 374.5h0M754.5 375h0M754.5 376.5h0M754.5 383h0M754.5 385h0M754.5 386.5h0M754.5 387h0M754.5 387.5h0M754.5 388h0M754.5 388.5h0M754.5 390.5h0M754.5 391.5h0M754.5 392h0M754.5 394h0M754.5 395h0M754.5 396h0M754.5 396.5h0M754.5 397h0M754.5 397.5h0M754.5 399.5h0M754.5 401h0M754.5 401.5h0M755 232h0M755 235h0M755 246.5h0M755 260.5h0M755 268h0M755 275.5h0M755 276.5h0M755 284.5h0M755 285.5h0M755 289.5h0M755 296h0M755 311.5h0M755 313.5h0M755 315h0M755 316.5h0M755 317.5h0M755 318h0M755 320.5h0M755 325h0M755 329h0M755 330h0M755 331h0M755 331.5h0M755 332h0M755 335h0M755 340h0M755 340.5h0M755 346.5h0M755 347h0M755 348h0M755 349.5h0M755 350h0M755 352h0M755 354h0M755 355h0M755 363.5h0M755 366.5h0M755 374h0M755 377.5h0M755 378.5h0M755 379.5h0M755 380h0M755 382h0M755 383.5h0M755 385.5h0M755 386.5h0M755 388h0M755 388.5h0M755 389.5h0M755 390h0M755 390.5h0M755 391.5h0M755 392.5h0M755 393h0M755 394.5h0M755 396h0M755 396.5h0M755 397h0M755 398.5h0M755 399.5h0M755 400h0M755 400.5h0M755 401.5h0M755 402h0M755 402.5h0M755 403.5h0M755 404h0M755.5 228.5h0M755.5 242h0M755.5 246.5h0M755.5 251h0M755.5 253.5h0M755.5 254h0M755.5 254.5h0M755.5 281.5h0M755.5 284h0M755.5 287.5h0M755.5 290h0M755.5 291.5h0M755.5 295.5h0M755.5 300h0M755.5 304.5h0M755.5 305.5h0M755.5 306h0M755.5 310h0M755.5 310.5h0M755.5 313.5h0M755.5 314h0M755.5 323h0M755.5 329h0M755.5 329.5h0M755.5 333h0M755.5 335.5h0M755.5 337h0M755.5 337.5h0M755.5 346h0M755.5 348h0M755.5 349.5h0M755.5 353h0M755.5 359.5h0M755.5 360h0M755.5 363.5h0M755.5 364.5h0M755.5 367.5h0M755.5 369h0M755.5 371h0M755.5 376h0M755.5 377h0M755.5 378h0M755.5 379h0M755.5 382h0M755.5 384.5h0M755.5 385h0M755.5 386h0M755.5 388h0M755.5 388.5h0M755.5 389.5h0M755.5 390h0M755.5 391.5h0M755.5 392.5h0M755.5 393h0M755.5 394h0M755.5 396h0M755.5 398.5h0M755.5 399h0M755.5 400h0M755.5 401h0M755.5 401.5h0M755.5 402.5h0M755.5 403h0M755.5 404h0M755.5 404.5h0M756 242.5h0M756 270.5h0M756 271h0M756 274.5h0M756 276.5h0M756 279h0M756 301h0M756 303.5h0M756 308h0M756 318.5h0M756 328.5h0M756 336.5h0M756 339.5h0M756 341h0M756 343.5h0M756 349h0M756 349.5h0M756 352.5h0M756 358h0M756 360h0M756 362.5h0M756 364h0M756 366h0M756 366.5h0M756 371h0M756 371.5h0M756 373h0M756 374h0M756 376h0M756 377h0M756 378.5h0M756 379h0M756 379.5h0M756 380.5h0M756 381h0M756 382.5h0M756 383h0M756 384h0M756 384.5h0M756 385.5h0M756 386h0M756 386.5h0M756 387h0M756 387.5h0M756 389h0M756 389.5h0M756 390h0M756 392h0M756 393h0M756 394.5h0M756 395h0M756 395.5h0M756 396.5h0M756 397h0M756 397.5h0M756 398h0M756 398.5h0M756 400.5h0M756 401.5h0M756 402.5h0M756 403.5h0M756 404.5h0M756.5 254.5h0M756.5 264.5h0M756.5 282h0M756.5 288.5h0M756.5 289h0M756.5 291.5h0M756.5 292h0M756.5 299h0M756.5 306.5h0M756.5 307h0M756.5 310.5h0M756.5 317h0M756.5 318h0M756.5 327.5h0M756.5 328.5h0M756.5 331h0M756.5 331.5h0M756.5 333h0M756.5 336h0M756.5 338h0M756.5 342.5h0M756.5 343.5h0M756.5 346.5h0M756.5 356.5h0M756.5 357h0M756.5 358h0M756.5 359h0M756.5 359.5h0M756.5 360.5h0M756.5 361h0M756.5 368.5h0M756.5 371h0M756.5 373h0M756.5 375.5h0M756.5 376h0M756.5 377h0M756.5 377.5h0M756.5 382h0M756.5 382.5h0M756.5 383.5h0M756.5 386.5h0M756.5 389h0M756.5 389.5h0M756.5 390h0M756.5 391h0M756.5 392.5h0M756.5 394h0M756.5 394.5h0M756.5 395h0M756.5 397h0M756.5 398.5h0M756.5 399h0M756.5 399.5h0M756.5 402h0M756.5 403h0M756.5 403.5h0M756.5 404h0M756.5 404.5h0M756.5 405.5h0M757 252h0M757 258.5h0M757 260h0M757 269.5h0M757 278.5h0M757 283.5h0M757 290.5h0M757 293.5h0M757 298h0M757 311.5h0M757 312h0M757 329.5h0M757 330h0M757 333h0M757 333.5h0M757 334h0M757 335.5h0M757 339.5h0M757 340.5h0M757 341h0M757 344.5h0M757 347h0M757 347.5h0M757 348.5h0M757 349.5h0M757 350h0M757 350.5h0M757 352.5h0M757 353.5h0M757 354.5h0M757 355h0M757 357.5h0M757 361h0M757 362.5h0M757 364h0M757 365.5h0M757 366h0M757 369h0M757 370.5h0M757 373h0M757 374.5h0M757 375h0M757 375.5h0M757 381.5h0M757 382h0M757 383.5h0M757 385h0M757 386h0M757 387h0M757 388h0M757 388.5h0M757 389h0M757 389.5h0M757 390.5h0M757 392.5h0M757 393h0M757 394h0M757 394.5h0M757 395.5h0M757 396.5h0M757 397h0M757 397.5h0M757 399h0M757 399.5h0M757 400h0M757 400.5h0M757 401.5h0M757 402h0M757 402.5h0M757 403h0M757 403.5h0M757 404.5h0M757 405h0M757 405.5h0M757.5 252h0M757.5 261h0M757.5 262.5h0M757.5 271.5h0M757.5 283.5h0M757.5 290h0M757.5 302h0M757.5 326.5h0M757.5 327.5h0M757.5 330h0M757.5 332.5h0M757.5 333h0M757.5 340h0M757.5 342h0M757.5 343.5h0M757.5 345h0M757.5 346.5h0M757.5 350.5h0M757.5 351.5h0M757.5 352h0M757.5 355h0M757.5 355.5h0M757.5 357h0M757.5 358.5h0M757.5 359.5h0M757.5 360h0M757.5 362h0M757.5 363.5h0M757.5 366.5h0M757.5 367h0M757.5 370h0M757.5 375h0M757.5 376.5h0M757.5 378h0M757.5 381h0M757.5 381.5h0M757.5 383h0M757.5 384h0M757.5 385h0M757.5 385.5h0M757.5 387h0M757.5 388h0M757.5 388.5h0M757.5 389h0M757.5 389.5h0M757.5 390h0M757.5 390.5h0M757.5 392.5h0M757.5 394h0M757.5 395h0M757.5 396h0M757.5 396.5h0M757.5 398.5h0M757.5 399.5h0M757.5 400h0M757.5 400.5h0M757.5 401h0M757.5 401.5h0M757.5 402.5h0M757.5 403.5h0M757.5 404h0M757.5 404.5h0M757.5 406h0M758 256.5h0M758 258.5h0M758 259.5h0M758 260h0M758 270.5h0M758 272.5h0M758 274h0M758 278h0M758 290.5h0M758 296.5h0M758 299h0M758 309h0M758 309.5h0M758 310h0M758 314.5h0M758 327h0M758 329.5h0M758 331h0M758 331.5h0M758 334h0M758 334.5h0M758 336h0M758 339h0M758 341.5h0M758 343h0M758 344.5h0M758 348.5h0M758 351.5h0M758 355h0M758 359h0M758 362.5h0M758 363.5h0M758 364h0M758 368h0M758 370h0M758 372.5h0M758 373h0M758 374h0M758 375.5h0M758 377h0M758 378h0M758 379.5h0M758 383h0M758 385.5h0M758 386h0M758 386.5h0M758 387.5h0M758 389h0M758 391h0M758 391.5h0M758 392h0M758 392.5h0M758 393h0M758 393.5h0M758 394h0M758 394.5h0M758 395h0M758 396h0M758 396.5h0M758 398h0M758 398.5h0M758 399h0M758 399.5h0M758 400h0M758 401.5h0M758 402h0M758 402.5h0M758 403.5h0M758 404h0M758 404.5h0M758 405h0M758 405.5h0M758 406.5h0M758.5 251h0M758.5 261.5h0M758.5 265.5h0M758.5 266h0M758.5 274h0M758.5 278.5h0M758.5 287.5h0M758.5 291.5h0M758.5 292h0M758.5 300h0M758.5 301.5h0M758.5 304h0M758.5 305h0M758.5 306.5h0M758.5 307h0M758.5 310h0M758.5 315.5h0M758.5 324h0M758.5 329h0M758.5 333h0M758.5 335.5h0M758.5 338.5h0M758.5 341.5h0M758.5 345.5h0M758.5 347h0M758.5 349h0M758.5 350h0M758.5 352.5h0M758.5 359.5h0M758.5 361h0M758.5 362h0M758.5 363h0M758.5 365.5h0M758.5 366.5h0M758.5 367h0M758.5 370.5h0M758.5 373.5h0M758.5 379.5h0M758.5 382.5h0M758.5 383.5h0M758.5 384h0M758.5 386h0M758.5 386.5h0M758.5 387h0M758.5 387.5h0M758.5 388.5h0M758.5 391.5h0M758.5 392h0M758.5 392.5h0M758.5 393h0M758.5 395h0M758.5 395.5h0M758.5 396h0M758.5 396.5h0M758.5 398.5h0M758.5 399.5h0M758.5 400h0M758.5 400.5h0M758.5 401.5h0M758.5 402.5h0M758.5 403.5h0M758.5 404h0M758.5 406h0M758.5 406.5h0M758.5 407h0M759 254.5h0M759 258.5h0M759 266.5h0M759 269.5h0M759 280h0M759 281h0M759 284h0M759 286.5h0M759 293h0M759 294h0M759 295h0M759 296h0M759 299h0M759 302.5h0M759 305.5h0M759 309h0M759 319h0M759 326h0M759 328.5h0M759 332h0M759 335.5h0M759 336h0M759 338h0M759 340h0M759 342.5h0M759 346h0M759 348h0M759 348.5h0M759 349h0M759 349.5h0M759 350h0M759 352h0M759 353h0M759 355h0M759 358h0M759 359.5h0M759 360.5h0M759 361.5h0M759 362h0M759 364.5h0M759 367h0M759 367.5h0M759 369h0M759 370h0M759 370.5h0M759 374h0M759 374.5h0M759 375.5h0M759 376.5h0M759 379h0M759 380.5h0M759 384h0M759 386h0M759 386.5h0M759 387h0M759 389h0M759 389.5h0M759 391.5h0M759 392h0M759 393.5h0M759 394h0M759 394.5h0M759 395h0M759 395.5h0M759 396h0M759 396.5h0M759 397h0M759 397.5h0M759 398.5h0M759 399.5h0M759 400h0M759 401h0M759 401.5h0M759 402h0M759 402.5h0M759 404h0M759 404.5h0M759 405h0M759 405.5h0M759 406h0M759 407h0M759.5 259h0M759.5 265h0M759.5 266h0M759.5 271h0M759.5 271.5h0M759.5 276.5h0M759.5 292.5h0M759.5 293h0M759.5 295.5h0M759.5 298h0M759.5 306.5h0M759.5 310.5h0M759.5 311.5h0M759.5 315h0M759.5 319h0M759.5 336h0M759.5 348.5h0M759.5 349.5h0M759.5 352h0M759.5 358.5h0M759.5 361.5h0M759.5 363.5h0M759.5 366.5h0M759.5 368h0M759.5 369h0M759.5 369.5h0M759.5 370.5h0M759.5 371h0M759.5 372.5h0M759.5 373.5h0M759.5 374.5h0M759.5 376.5h0M759.5 377h0M759.5 377.5h0M759.5 378h0M759.5 379.5h0M759.5 380h0M759.5 381.5h0M759.5 383.5h0M759.5 384h0M759.5 386h0M759.5 388h0M759.5 388.5h0M759.5 389h0M759.5 391.5h0M759.5 392h0M759.5 392.5h0M759.5 393h0M759.5 393.5h0M759.5 394h0M759.5 395h0M759.5 396h0M759.5 397.5h0M759.5 398h0M759.5 400h0M759.5 400.5h0M759.5 403h0M759.5 403.5h0M759.5 404.5h0M759.5 405h0M759.5 405.5h0M759.5 406.5h0M760 253h0M760 265h0M760 273h0M760 281h0M760 285h0M760 301.5h0M760 303h0M760 306h0M760 313h0M760 314.5h0M760 317.5h0M760 319h0M760 326h0M760 329h0M760 335h0M760 338.5h0M760 343.5h0M760 344h0M760 350h0M760 351.5h0M760 353h0M760 354.5h0M760 355.5h0M760 366.5h0M760 367h0M760 369.5h0M760 370.5h0M760 373h0M760 374.5h0M760 375.5h0M760 376h0M760 377.5h0M760 378.5h0M760 380.5h0M760 381.5h0M760 382h0M760 382.5h0M760 385.5h0M760 386.5h0M760 388.5h0M760 389.5h0M760 390.5h0M760 391.5h0M760 392.5h0M760 393h0M760 393.5h0M760 398h0M760 399h0M760 400.5h0M760 401h0M760 401.5h0M760 402h0M760 403h0M760 403.5h0M760 404h0M760 404.5h0M760 405h0M760 405.5h0M760 407h0M760.5 277.5h0M760.5 281h0M760.5 288h0M760.5 295h0M760.5 297.5h0M760.5 302.5h0M760.5 303h0M760.5 319h0M760.5 319.5h0M760.5 335h0M760.5 336h0M760.5 340h0M760.5 351h0M760.5 352.5h0M760.5 354h0M760.5 355h0M760.5 361.5h0M760.5 362h0M760.5 371h0M760.5 373h0M760.5 374h0M760.5 377h0M760.5 380.5h0M760.5 381h0M760.5 384h0M760.5 386h0M760.5 386.5h0M760.5 387h0M760.5 393h0M760.5 393.5h0M760.5 394.5h0M760.5 395h0M760.5 395.5h0M760.5 396h0M760.5 396.5h0M760.5 397h0M760.5 397.5h0M760.5 398.5h0M760.5 399h0M760.5 399.5h0M760.5 400h0M760.5 400.5h0M760.5 401.5h0M760.5 402.5h0M760.5 404h0M760.5 404.5h0M760.5 405h0M760.5 406.5h0M760.5 407.5h0M760.5 408.5h0M761 277.5h0M761 282h0M761 283.5h0M761 295.5h0M761 296.5h0M761 316.5h0M761 318h0M761 325.5h0M761 328h0M761 331.5h0M761 332h0M761 336h0M761 339.5h0M761 341.5h0M761 342.5h0M761 344.5h0M761 347h0M761 350h0M761 354.5h0M761 355.5h0M761 356.5h0M761 358h0M761 361h0M761 363.5h0M761 365h0M761 365.5h0M761 367.5h0M761 368.5h0M761 371h0M761 371.5h0M761 373h0M761 374h0M761 376.5h0M761 380.5h0M761 382h0M761 384.5h0M761 386h0M761 386.5h0M761 388h0M761 388.5h0M761 389h0M761 389.5h0M761 392.5h0M761 393h0M761 393.5h0M761 396h0M761 396.5h0M761 398.5h0M761 399.5h0M761 400h0M761 401h0M761 401.5h0M761 402h0M761 402.5h0M761 404.5h0M761 405h0M761 405.5h0M761 406h0M761 406.5h0M761 407h0M761 408h0M761 409h0M761.5 277.5h0M761.5 282.5h0M761.5 285.5h0M761.5 286h0M761.5 288h0M761.5 292h0M761.5 294.5h0M761.5 296h0M761.5 305.5h0M761.5 313.5h0M761.5 324h0M761.5 330h0M761.5 333h0M761.5 338h0M761.5 338.5h0M761.5 345h0M761.5 350h0M761.5 350.5h0M761.5 351.5h0M761.5 352.5h0M761.5 354.5h0M761.5 357h0M761.5 358.5h0M761.5 360.5h0M761.5 363h0M761.5 363.5h0M761.5 366.5h0M761.5 367h0M761.5 371.5h0M761.5 373h0M761.5 375h0M761.5 376h0M761.5 376.5h0M761.5 382.5h0M761.5 383h0M761.5 383.5h0M761.5 385h0M761.5 385.5h0M761.5 386.5h0M761.5 388h0M761.5 388.5h0M761.5 391h0M761.5 391.5h0M761.5 393h0M761.5 394h0M761.5 395h0M761.5 396h0M761.5 397.5h0M761.5 398.5h0M761.5 400.5h0M761.5 401.5h0M761.5 402h0M761.5 403h0M761.5 403.5h0M761.5 404h0M761.5 404.5h0M761.5 405h0M761.5 405.5h0M761.5 406h0M761.5 406.5h0M761.5 407h0M761.5 407.5h0M761.5 408h0M761.5 408.5h0M761.5 409h0M762 269.5h0M762 273.5h0M762 274.5h0M762 280.5h0M762 288h0M762 294h0M762 296h0M762 297h0M762 297.5h0M762 302.5h0M762 305.5h0M762 307h0M762 318.5h0M762 322.5h0M762 326h0M762 337h0M762 338h0M762 339h0M762 346h0M762 351.5h0M762 353.5h0M762 355.5h0M762 359.5h0M762 362.5h0M762 363.5h0M762 365.5h0M762 368h0M762 368.5h0M762 370.5h0M762 374.5h0M762 376h0M762 377.5h0M762 378h0M762 381.5h0M762 385.5h0M762 387h0M762 387.5h0M762 391h0M762 392.5h0M762 393h0M762 393.5h0M762 394.5h0M762 395h0M762 395.5h0M762 396h0M762 396.5h0M762 397h0M762 398.5h0M762 399.5h0M762 401h0M762 401.5h0M762 402h0M762 402.5h0M762 403h0M762 403.5h0M762 404h0M762 404.5h0M762 405h0M762 405.5h0M762 406.5h0M762 407.5h0M762 408.5h0M762 409h0M762 409.5h0M762.5 303h0M762.5 309.5h0M762.5 310.5h0M762.5 312h0M762.5 313.5h0M762.5 317h0M762.5 319.5h0M762.5 322h0M762.5 327h0M762.5 328h0M762.5 328.5h0M762.5 330.5h0M762.5 340h0M762.5 345.5h0M762.5 348.5h0M762.5 352h0M762.5 352.5h0M762.5 353h0M762.5 355.5h0M762.5 358.5h0M762.5 367.5h0M762.5 368.5h0M762.5 370.5h0M762.5 371h0M762.5 371.5h0M762.5 372.5h0M762.5 373.5h0M762.5 374h0M762.5 376h0M762.5 380h0M762.5 382.5h0M762.5 383.5h0M762.5 385h0M762.5 385.5h0M762.5 388h0M762.5 388.5h0M762.5 389h0M762.5 389.5h0M762.5 390h0M762.5 391.5h0M762.5 392h0M762.5 392.5h0M762.5 393h0M762.5 393.5h0M762.5 394h0M762.5 394.5h0M762.5 395h0M762.5 396h0M762.5 397h0M762.5 398h0M762.5 398.5h0M762.5 399h0M762.5 399.5h0M762.5 400.5h0M762.5 401h0M762.5 402h0M762.5 402.5h0M762.5 403h0M762.5 403.5h0M762.5 404h0M762.5 404.5h0M762.5 405.5h0M762.5 406h0M762.5 407.5h0M762.5 408h0M762.5 408.5h0M762.5 409.5h0M763 278.5h0M763 292.5h0M763 293h0M763 294.5h0M763 301.5h0M763 306h0M763 308.5h0M763 320.5h0M763 323h0M763 331h0M763 331.5h0M763 335.5h0M763 342.5h0M763 344.5h0M763 349h0M763 356h0M763 356.5h0M763 357h0M763 360h0M763 361h0M763 365.5h0M763 367.5h0M763 368h0M763 370.5h0M763 372h0M763 376.5h0M763 377.5h0M763 378h0M763 378.5h0M763 379h0M763 380h0M763 380.5h0M763 383h0M763 386h0M763 387.5h0M763 389h0M763 389.5h0M763 391h0M763 392.5h0M763 393.5h0M763 395h0M763 396.5h0M763 397h0M763 397.5h0M763 398h0M763 398.5h0M763 399h0M763 399.5h0M763 400h0M763 400.5h0M763 401.5h0M763 402.5h0M763 403h0M763 403.5h0M763 404h0M763 404.5h0M763 405h0M763 405.5h0M763 406h0M763 406.5h0M763 407h0M763 407.5h0M763 408h0M763 408.5h0M763 409h0M763 409.5h0M763 410h0M763 410.5h0M763.5 285h0M763.5 287.5h0M763.5 288h0M763.5 289.5h0M763.5 299.5h0M763.5 303.5h0M763.5 308.5h0M763.5 314.5h0M763.5 316.5h0M763.5 319.5h0M763.5 325h0M763.5 329.5h0M763.5 332h0M763.5 334h0M763.5 335h0M763.5 337h0M763.5 342h0M763.5 345.5h0M763.5 346h0M763.5 347h0M763.5 347.5h0M763.5 348.5h0M763.5 349h0M763.5 350h0M763.5 354.5h0M763.5 356h0M763.5 357.5h0M763.5 359h0M763.5 359.5h0M763.5 361h0M763.5 361.5h0M763.5 362h0M763.5 363.5h0M763.5 364.5h0M763.5 365h0M763.5 366.5h0M763.5 373.5h0M763.5 375h0M763.5 376h0M763.5 380.5h0M763.5 383h0M763.5 385.5h0M763.5 386.5h0M763.5 387.5h0M763.5 388.5h0M763.5 389h0M763.5 389.5h0M763.5 392h0M763.5 392.5h0M763.5 393.5h0M763.5 394.5h0M763.5 395h0M763.5 395.5h0M763.5 397h0M763.5 398h0M763.5 398.5h0M763.5 399h0M763.5 399.5h0M763.5 401.5h0M763.5 402.5h0M763.5 403h0M763.5 403.5h0M763.5 404h0M763.5 404.5h0M763.5 405h0M763.5 405.5h0M763.5 406.5h0M763.5 407h0M763.5 407.5h0M763.5 408h0M763.5 408.5h0M763.5 409.5h0M763.5 410h0M763.5 410.5h0M763.5 411h0M764 290.5h0M764 297h0M764 297.5h0M764 300.5h0M764 301h0M764 308.5h0M764 312h0M764 319.5h0M764 320.5h0M764 321h0M764 323h0M764 325.5h0M764 332h0M764 335h0M764 341h0M764 346h0M764 355.5h0M764 359h0M764 360h0M764 362h0M764 362.5h0M764 363.5h0M764 365h0M764 365.5h0M764 366.5h0M764 368.5h0M764 369.5h0M764 371h0M764 371.5h0M764 375h0M764 376.5h0M764 379h0M764 380.5h0M764 382.5h0M764 383.5h0M764 385.5h0M764 387h0M764 387.5h0M764 388.5h0M764 391.5h0M764 392h0M764 392.5h0M764 394.5h0M764 395h0M764 396h0M764 396.5h0M764 398h0M764 399h0M764 401h0M764 401.5h0M764 402h0M764 402.5h0M764 403.5h0M764 404h0M764 404.5h0M764 405.5h0M764 406h0M764 406.5h0M764 407h0M764 407.5h0M764 408h0M764 408.5h0M764 409h0M764 409.5h0M764 410h0M764 410.5h0M764 411h0M764.5 297.5h0M764.5 309h0M764.5 310h0M764.5 315.5h0M764.5 323.5h0M764.5 324.5h0M764.5 327.5h0M764.5 328.5h0M764.5 329h0M764.5 330h0M764.5 331h0M764.5 332h0M764.5 334.5h0M764.5 336.5h0M764.5 338.5h0M764.5 339h0M764.5 340.5h0M764.5 341.5h0M764.5 344h0M764.5 352.5h0M764.5 353.5h0M764.5 354.5h0M764.5 358.5h0M764.5 359h0M764.5 361.5h0M764.5 362h0M764.5 364.5h0M764.5 366.5h0M764.5 369h0M764.5 369.5h0M764.5 370.5h0M764.5 377h0M764.5 377.5h0M764.5 380.5h0M764.5 381.5h0M764.5 382.5h0M764.5 384h0M764.5 384.5h0M764.5 387h0M764.5 390.5h0M764.5 391.5h0M764.5 392h0M764.5 392.5h0M764.5 393h0M764.5 394h0M764.5 397h0M764.5 397.5h0M764.5 398h0M764.5 398.5h0M764.5 399h0M764.5 399.5h0M764.5 400h0M764.5 400.5h0M764.5 401h0M764.5 401.5h0M764.5 403h0M764.5 403.5h0M764.5 405h0M764.5 405.5h0M764.5 406h0M764.5 406.5h0M764.5 407h0M764.5 407.5h0M764.5 408h0M764.5 408.5h0M764.5 409h0M764.5 409.5h0M764.5 410h0M764.5 411h0M765 297.5h0M765 304h0M765 307.5h0M765 311h0M765 311.5h0M765 331h0M765 333h0M765 339.5h0M765 343h0M765 343.5h0M765 347h0M765 349.5h0M765 350h0M765 356.5h0M765 357h0M765 360h0M765 361h0M765 362h0M765 364h0M765 366.5h0M765 371h0M765 372.5h0M765 374h0M765 378h0M765 378.5h0M765 379h0M765 380.5h0M765 381h0M765 381.5h0M765 382.5h0M765 383h0M765 384h0M765 385h0M765 385.5h0M765 387h0M765 388.5h0M765 390h0M765 391.5h0M765 392h0M765 392.5h0M765 393h0M765 394h0M765 395.5h0M765 396.5h0M765 397h0M765 397.5h0M765 398h0M765 398.5h0M765 399h0M765 400h0M765 401.5h0M765 402h0M765 402.5h0M765 403h0M765 403.5h0M765 404h0M765 404.5h0M765 405h0M765 405.5h0M765 406h0M765 406.5h0M765 407.5h0M765 408h0M765 409h0M765 409.5h0M765 410h0M765 410.5h0M765 411h0M765 411.5h0M765 412h0M765.5 311h0M765.5 316.5h0M765.5 317h0M765.5 318h0M765.5 326h0M765.5 326.5h0M765.5 330h0M765.5 330.5h0M765.5 332h0M765.5 333.5h0M765.5 339h0M765.5 339.5h0M765.5 346h0M765.5 351.5h0M765.5 354h0M765.5 358h0M765.5 358.5h0M765.5 359h0M765.5 360h0M765.5 363.5h0M765.5 367h0M765.5 371h0M765.5 372h0M765.5 373h0M765.5 375h0M765.5 375.5h0M765.5 377.5h0M765.5 378.5h0M765.5 380.5h0M765.5 381h0M765.5 381.5h0M765.5 386.5h0M765.5 388h0M765.5 388.5h0M765.5 390.5h0M765.5 391h0M765.5 392.5h0M765.5 393h0M765.5 393.5h0M765.5 395h0M765.5 395.5h0M765.5 396h0M765.5 397.5h0M765.5 399h0M765.5 400.5h0M765.5 401h0M765.5 401.5h0M765.5 402h0M765.5 402.5h0M765.5 403h0M765.5 404.5h0M765.5 405h0M765.5 405.5h0M765.5 406h0M765.5 406.5h0M765.5 407.5h0M765.5 408.5h0M765.5 409h0M765.5 409.5h0M765.5 410h0M765.5 410.5h0M765.5 411h0M765.5 411.5h0M766 313h0M766 315.5h0M766 321.5h0M766 325h0M766 325.5h0M766 328h0M766 335h0M766 336h0M766 339h0M766 340.5h0M766 343h0M766 344.5h0M766 348.5h0M766 354.5h0M766 357h0M766 361h0M766 364h0M766 365.5h0M766 366h0M766 368h0M766 370h0M766 371h0M766 371.5h0M766 372h0M766 373h0M766 374h0M766 376h0M766 379h0M766 379.5h0M766 380h0M766 380.5h0M766 381h0M766 384.5h0M766 385h0M766 386.5h0M766 388h0M766 389.5h0M766 390h0M766 392h0M766 392.5h0M766 393h0M766 393.5h0M766 394.5h0M766 395.5h0M766 396.5h0M766 397h0M766 397.5h0M766 398h0M766 398.5h0M766 400h0M766 400.5h0M766 401.5h0M766 403.5h0M766 404h0M766 404.5h0M766 405h0M766 405.5h0M766 406h0M766 407h0M766 407.5h0M766 408.5h0M766 409h0M766 409.5h0M766 410h0M766 410.5h0M766 411h0M766 411.5h0M766 412h0M766 412.5h0M766 413h0M766.5 311h0M766.5 316h0M766.5 323.5h0M766.5 332h0M766.5 333h0M766.5 333.5h0M766.5 335.5h0M766.5 336h0M766.5 342h0M766.5 342.5h0M766.5 347h0M766.5 347.5h0M766.5 350h0M766.5 352h0M766.5 356h0M766.5 356.5h0M766.5 357h0M766.5 358.5h0M766.5 361h0M766.5 364h0M766.5 365.5h0M766.5 369h0M766.5 370h0M766.5 371.5h0M766.5 373.5h0M766.5 374h0M766.5 376h0M766.5 377.5h0M766.5 378h0M766.5 381h0M766.5 382h0M766.5 383h0M766.5 384.5h0M766.5 385.5h0M766.5 386h0M766.5 386.5h0M766.5 389h0M766.5 389.5h0M766.5 390h0M766.5 392.5h0M766.5 394h0M766.5 395.5h0M766.5 396h0M766.5 396.5h0M766.5 397h0M766.5 397.5h0M766.5 398.5h0M766.5 399h0M766.5 400h0M766.5 400.5h0M766.5 401h0M766.5 401.5h0M766.5 402.5h0M766.5 403h0M766.5 404h0M766.5 404.5h0M766.5 405h0M766.5 406h0M766.5 406.5h0M766.5 407.5h0M766.5 408h0M766.5 408.5h0M766.5 409.5h0M766.5 410h0M766.5 410.5h0M766.5 411h0M766.5 411.5h0M766.5 412h0M766.5 413h0M767 320.5h0M767 321h0M767 322.5h0M767 324h0M767 329h0M767 336.5h0M767 339.5h0M767 342h0M767 343h0M767 345h0M767 346.5h0M767 349h0M767 349.5h0M767 354.5h0M767 360.5h0M767 361.5h0M767 369h0M767 370.5h0M767 372h0M767 373.5h0M767 376h0M767 379.5h0M767 380h0M767 380.5h0M767 381.5h0M767 383.5h0M767 385h0M767 387h0M767 387.5h0M767 388h0M767 389h0M767 389.5h0M767 391h0M767 391.5h0M767 392h0M767 393h0M767 394.5h0M767 395.5h0M767 397h0M767 397.5h0M767 400h0M767 400.5h0M767 401h0M767 401.5h0M767 402h0M767 402.5h0M767 403h0M767 404.5h0M767 405h0M767 405.5h0M767 406h0M767 407h0M767 407.5h0M767 408h0M767 408.5h0M767 409h0M767 409.5h0M767 410h0M767 410.5h0M767 411h0M767 411.5h0M767 412h0M767 412.5h0M767 413h0M767.5 321.5h0M767.5 327h0M767.5 329.5h0M767.5 330h0M767.5 333.5h0M767.5 335h0M767.5 343.5h0M767.5 344.5h0M767.5 345h0M767.5 349h0M767.5 349.5h0M767.5 356.5h0M767.5 358h0M767.5 360.5h0M767.5 365h0M767.5 365.5h0M767.5 366h0M767.5 366.5h0M767.5 369.5h0M767.5 372h0M767.5 375.5h0M767.5 377h0M767.5 379.5h0M767.5 381h0M767.5 384.5h0M767.5 386h0M767.5 387.5h0M767.5 388h0M767.5 388.5h0M767.5 391h0M767.5 394h0M767.5 394.5h0M767.5 395h0M767.5 395.5h0M767.5 398h0M767.5 398.5h0M767.5 399.5h0M767.5 400h0M767.5 401h0M767.5 401.5h0M767.5 402h0M767.5 404h0M767.5 404.5h0M767.5 405.5h0M767.5 406h0M767.5 406.5h0M767.5 407.5h0M767.5 409h0M767.5 409.5h0M767.5 410h0M767.5 410.5h0M767.5 411h0M767.5 411.5h0M767.5 412h0M767.5 413h0M767.5 413.5h0M768 327h0M768 330h0M768 333h0M768 347.5h0M768 350.5h0M768 356h0M768 358h0M768 359h0M768 361h0M768 363h0M768 367h0M768 368.5h0M768 370h0M768 371h0M768 372h0M768 375.5h0M768 376h0M768 377.5h0M768 380h0M768 380.5h0M768 381h0M768 381.5h0M768 382.5h0M768 384.5h0M768 391h0M768 392h0M768 392.5h0M768 394h0M768 394.5h0M768 396h0M768 397h0M768 398h0M768 400.5h0M768 401.5h0M768 402.5h0M768 403h0M768 403.5h0M768 404h0M768 404.5h0M768 405h0M768 406h0M768 406.5h0M768 407.5h0M768 408h0M768 408.5h0M768 409.5h0M768 410h0M768 410.5h0M768 411h0M768 411.5h0M768 412h0M768 412.5h0M768 413h0M768 413.5h0M768 414h0M768.5 338h0M768.5 341.5h0M768.5 342.5h0M768.5 345h0M768.5 349.5h0M768.5 350h0M768.5 352.5h0M768.5 357.5h0M768.5 361h0M768.5 362h0M768.5 365h0M768.5 366.5h0M768.5 370h0M768.5 373.5h0M768.5 382h0M768.5 382.5h0M768.5 383.5h0M768.5 384.5h0M768.5 385.5h0M768.5 389.5h0M768.5 390.5h0M768.5 392h0M768.5 394.5h0M768.5 395h0M768.5 397h0M768.5 398h0M768.5 400h0M768.5 400.5h0M768.5 401h0M768.5 401.5h0M768.5 402h0M768.5 402.5h0M768.5 403.5h0M768.5 404h0M768.5 404.5h0M768.5 405h0M768.5 405.5h0M768.5 407h0M768.5 407.5h0M768.5 408.5h0M768.5 409h0M768.5 409.5h0M768.5 410h0M768.5 410.5h0M768.5 411h0M768.5 411.5h0M768.5 412h0M768.5 412.5h0M768.5 413h0M768.5 413.5h0M768.5 414h0M768.5 414.5h0M769 340.5h0M769 347.5h0M769 348.5h0M769 349.5h0M769 350.5h0M769 351.5h0M769 352h0M769 357.5h0M769 359.5h0M769 364.5h0M769 365.5h0M769 366h0M769 370.5h0M769 371h0M769 374.5h0M769 377.5h0M769 381h0M769 383.5h0M769 385h0M769 386h0M769 388h0M769 388.5h0M769 390.5h0M769 391h0M769 391.5h0M769 393.5h0M769 394h0M769 394.5h0M769 395h0M769 396h0M769 398h0M769 398.5h0M769 399.5h0M769 400h0M769 400.5h0M769 401h0M769 401.5h0M769 402h0M769 402.5h0M769 403h0M769 403.5h0M769 404h0M769 404.5h0M769 405h0M769 405.5h0M769 406h0M769 407h0M769 407.5h0M769 408h0M769 409h0M769 409.5h0M769 410h0M769 410.5h0M769 411h0M769 411.5h0M769 412h0M769 412.5h0M769 413h0M769 413.5h0M769 414h0M769 414.5h0M769.5 340h0M769.5 341.5h0M769.5 357.5h0M769.5 366h0M769.5 367.5h0M769.5 368h0M769.5 369.5h0M769.5 371h0M769.5 372h0M769.5 375.5h0M769.5 377.5h0M769.5 379h0M769.5 380.5h0M769.5 382h0M769.5 386h0M769.5 388h0M769.5 390.5h0M769.5 391h0M769.5 391.5h0M769.5 392.5h0M769.5 393h0M769.5 394.5h0M769.5 395h0M769.5 395.5h0M769.5 396h0M769.5 396.5h0M769.5 397h0M769.5 398.5h0M769.5 399.5h0M769.5 401h0M769.5 401.5h0M769.5 402h0M769.5 402.5h0M769.5 403h0M769.5 403.5h0M769.5 404h0M769.5 404.5h0M769.5 405h0M769.5 405.5h0M769.5 406h0M769.5 407h0M769.5 407.5h0M769.5 408h0M769.5 408.5h0M769.5 409h0M769.5 409.5h0M769.5 410h0M769.5 410.5h0M769.5 411h0M769.5 411.5h0M769.5 412h0M769.5 412.5h0M769.5 413h0M769.5 414h0M769.5 414.5h0M770 348.5h0M770 353h0M770 354h0M770 357.5h0M770 362h0M770 363h0M770 364h0M770 364.5h0M770 368h0M770 373.5h0M770 374h0M770 375h0M770 376h0M770 379h0M770 380h0M770 380.5h0M770 381h0M770 382.5h0M770 383.5h0M770 384.5h0M770 387h0M770 388h0M770 391h0M770 391.5h0M770 392.5h0M770 394h0M770 394.5h0M770 395.5h0M770 396h0M770 397h0M770 397.5h0M770 398h0M770 398.5h0M770 399h0M770 401.5h0M770 402h0M770 402.5h0M770 403h0M770 403.5h0M770 404.5h0M770 405h0M770 405.5h0M770 406.5h0M770 407h0M770 407.5h0M770 409h0M770 409.5h0M770 410h0M770 410.5h0M770 411h0M770 411.5h0M770 412h0M770 412.5h0M770 413h0M770 413.5h0M770 414h0M770 414.5h0M770 415h0M770 415.5h0M770.5 349h0M770.5 351h0M770.5 353h0M770.5 359.5h0M770.5 365.5h0M770.5 368h0M770.5 368.5h0M770.5 370.5h0M770.5 373h0M770.5 374.5h0M770.5 375.5h0M770.5 378h0M770.5 380h0M770.5 380.5h0M770.5 382h0M770.5 383h0M770.5 383.5h0M770.5 384h0M770.5 388h0M770.5 389h0M770.5 390h0M770.5 390.5h0M770.5 393h0M770.5 394h0M770.5 395.5h0M770.5 396.5h0M770.5 398h0M770.5 400h0M770.5 401h0M770.5 401.5h0M770.5 402h0M770.5 403.5h0M770.5 404h0M770.5 404.5h0M770.5 405h0M770.5 405.5h0M770.5 406h0M770.5 406.5h0M770.5 407h0M770.5 407.5h0M770.5 408h0M770.5 408.5h0M770.5 409.5h0M770.5 410h0M770.5 410.5h0M770.5 411h0M770.5 411.5h0M770.5 412h0M770.5 412.5h0M770.5 413h0M770.5 413.5h0M770.5 414h0M770.5 414.5h0M770.5 415h0M770.5 415.5h0M771 357.5h0M771 363h0M771 363.5h0M771 365.5h0M771 366h0M771 370.5h0M771 371.5h0M771 373.5h0M771 374.5h0M771 375h0M771 376.5h0M771 377.5h0M771 380.5h0M771 381h0M771 384h0M771 387.5h0M771 388.5h0M771 390h0M771 390.5h0M771 391h0M771 391.5h0M771 393h0M771 393.5h0M771 394h0M771 394.5h0M771 396h0M771 396.5h0M771 397h0M771 397.5h0M771 398.5h0M771 399h0M771 399.5h0M771 400h0M771 400.5h0M771 401h0M771 401.5h0M771 402h0M771 403h0M771 403.5h0M771 404.5h0M771 405h0M771 405.5h0M771 407h0M771 408h0M771 408.5h0M771 409.5h0M771 410h0M771 410.5h0M771 411h0M771 411.5h0M771 412h0M771 412.5h0M771 413h0M771 413.5h0M771 414h0M771 414.5h0M771 415h0M771 415.5h0M771 416h0M771.5 362h0M771.5 363.5h0M771.5 372h0M771.5 372.5h0M771.5 375h0M771.5 375.5h0M771.5 381.5h0M771.5 382h0M771.5 383h0M771.5 384.5h0M771.5 385.5h0M771.5 389h0M771.5 391h0M771.5 391.5h0M771.5 392h0M771.5 392.5h0M771.5 394.5h0M771.5 395.5h0M771.5 396h0M771.5 396.5h0M771.5 397.5h0M771.5 398.5h0M771.5 399.5h0M771.5 400.5h0M771.5 401h0M771.5 402h0M771.5 402.5h0M771.5 403.5h0M771.5 404h0M771.5 405h0M771.5 405.5h0M771.5 406h0M771.5 406.5h0M771.5 407.5h0M771.5 409h0M771.5 409.5h0M771.5 410h0M771.5 410.5h0M771.5 411h0M771.5 411.5h0M771.5 412h0M771.5 412.5h0M771.5 413h0M771.5 413.5h0M771.5 414h0M771.5 414.5h0M771.5 415h0M771.5 415.5h0M771.5 416h0M772 364.5h0M772 365.5h0M772 366.5h0M772 367.5h0M772 368h0M772 374.5h0M772 380h0M772 380.5h0M772 381h0M772 385h0M772 385.5h0M772 387.5h0M772 392.5h0M772 393h0M772 393.5h0M772 398h0M772 399h0M772 400h0M772 400.5h0M772 401.5h0M772 402.5h0M772 403.5h0M772 404h0M772 405h0M772 405.5h0M772 406h0M772 406.5h0M772 407.5h0M772 408h0M772 408.5h0M772 409.5h0M772 410h0M772 410.5h0M772 411h0M772 411.5h0M772 412.5h0M772 413h0M772 413.5h0M772 414h0M772 414.5h0M772 415h0M772 415.5h0M772 416h0M772 416.5h0M772 417h0M772.5 370h0M772.5 377h0M772.5 383.5h0M772.5 384.5h0M772.5 387.5h0M772.5 388h0M772.5 389h0M772.5 390h0M772.5 390.5h0M772.5 391.5h0M772.5 392.5h0M772.5 393h0M772.5 394h0M772.5 394.5h0M772.5 395h0M772.5 396.5h0M772.5 397h0M772.5 397.5h0M772.5 398h0M772.5 398.5h0M772.5 399h0M772.5 400h0M772.5 401h0M772.5 401.5h0M772.5 402.5h0M772.5 404h0M772.5 404.5h0M772.5 405h0M772.5 405.5h0M772.5 406h0M772.5 406.5h0M772.5 407h0M772.5 407.5h0M772.5 408h0M772.5 409h0M772.5 409.5h0M772.5 410h0M772.5 410.5h0M772.5 411h0M772.5 411.5h0M772.5 412.5h0M772.5 413h0M772.5 413.5h0M772.5 414h0M772.5 414.5h0M772.5 415h0M772.5 415.5h0M772.5 416h0M772.5 416.5h0M772.5 417h0M773 376.5h0M773 377h0M773 377.5h0M773 379.5h0M773 380h0M773 380.5h0M773 381h0M773 384h0M773 385.5h0M773 386h0M773 394h0M773 396.5h0M773 398h0M773 398.5h0M773 399.5h0M773 400.5h0M773 401h0M773 401.5h0M773 402h0M773 404h0M773 405h0M773 406h0M773 406.5h0M773 407h0M773 407.5h0M773 408h0M773 408.5h0M773 409h0M773 409.5h0M773 410h0M773 410.5h0M773 411h0M773 411.5h0M773 412h0M773 412.5h0M773 413h0M773 413.5h0M773 414h0M773 414.5h0M773 415h0M773 415.5h0M773 416h0M773 416.5h0M773 417h0M773 417.5h0M773.5 380h0M773.5 383h0M773.5 385h0M773.5 386h0M773.5 386.5h0M773.5 387h0M773.5 388h0M773.5 388.5h0M773.5 389h0M773.5 389.5h0M773.5 390h0M773.5 391h0M773.5 391.5h0M773.5 393h0M773.5 394.5h0M773.5 395h0M773.5 396h0M773.5 396.5h0M773.5 397.5h0M773.5 398.5h0M773.5 399h0M773.5 400h0M773.5 400.5h0M773.5 404h0M773.5 404.5h0M773.5 405h0M773.5 405.5h0M773.5 406h0M773.5 406.5h0M773.5 407h0M773.5 407.5h0M773.5 408h0M773.5 408.5h0M773.5 409h0M773.5 409.5h0M773.5 410h0M773.5 410.5h0M773.5 411h0M773.5 411.5h0M773.5 412h0M773.5 412.5h0M773.5 413h0M773.5 413.5h0M773.5 414h0M773.5 414.5h0M773.5 415h0M773.5 415.5h0M773.5 416h0M773.5 416.5h0M773.5 417h0M773.5 417.5h0M773.5 418h0M774 384h0M774 386.5h0M774 387.5h0M774 388.5h0M774 390.5h0M774 395.5h0M774 397.5h0M774 399.5h0M774 401h0M774 403h0M774 404h0M774 404.5h0M774 405.5h0M774 406h0M774 406.5h0M774 407h0M774 407.5h0M774 408h0M774 408.5h0M774 409h0M774 410h0M774 410.5h0M774 411h0M774 411.5h0M774 412h0M774 412.5h0M774 413h0M774 413.5h0M774 414h0M774 414.5h0M774 415h0M774 415.5h0M774 416h0M774 416.5h0M774 417h0M774 417.5h0M774 418h0M774.5 389h0M774.5 390h0M774.5 391h0M774.5 392.5h0M774.5 395.5h0M774.5 397h0M774.5 397.5h0M774.5 398h0M774.5 401h0M774.5 401.5h0M774.5 403h0M774.5 403.5h0M774.5 404.5h0M774.5 405h0M774.5 405.5h0M774.5 407h0M774.5 407.5h0M774.5 408h0M774.5 408.5h0M774.5 409.5h0M774.5 410h0M774.5 410.5h0M774.5 411h0M774.5 411.5h0M774.5 412h0M774.5 412.5h0M774.5 413h0M774.5 413.5h0M774.5 414h0M774.5 414.5h0M774.5 415h0M774.5 415.5h0M774.5 416h0M774.5 416.5h0M774.5 417h0M774.5 417.5h0M774.5 418h0M775 394h0M775 395.5h0M775 397h0M775 397.5h0M775 398h0M775 400.5h0M775 402h0M775 402.5h0M775 404.5h0M775 405h0M775 406.5h0M775 407.5h0M775 408.5h0M775 409h0M775 410h0M775 410.5h0M775 411h0M775 411.5h0M775 412h0M775 412.5h0M775 413h0M775 413.5h0M775 414h0M775 414.5h0M775 415h0M775 415.5h0M775 416h0M775 416.5h0M775 417h0M775 417.5h0M775 418h0M775.5 396.5h0M775.5 397h0M775.5 397.5h0M775.5 398.5h0M775.5 399h0M775.5 400h0M775.5 403h0M775.5 404.5h0M775.5 405.5h0M775.5 406h0M775.5 406.5h0M775.5 407.5h0M775.5 408h0M775.5 408.5h0M775.5 410h0M775.5 410.5h0M775.5 411.5h0M775.5 412h0M775.5 412.5h0M775.5 413h0M775.5 413.5h0M775.5 414h0M775.5 414.5h0M775.5 415h0M775.5 415.5h0M775.5 416h0M775.5 416.5h0M775.5 417h0M775.5 417.5h0M775.5 418h0M776 401.5h0M776 402h0M776 402.5h0M776 403h0M776 404h0M776 404.5h0M776 406.5h0M776 407h0M776 407.5h0M776 409.5h0M776 410h0M776 410.5h0M776 411h0M776 411.5h0M776 412h0M776 412.5h0M776 413h0M776 413.5h0M776 414h0M776 414.5h0M776 415h0M776 415.5h0M776 416h0M776 416.5h0M776 417h0M776 417.5h0M776 418h0M776.5 408h0M776.5 408.5h0M776.5 409.5h0M776.5 410h0M776.5 410.5h0M776.5 411h0M776.5 411.5h0M776.5 412h0M776.5 413h0M776.5 413.5h0M776.5 414h0M776.5 414.5h0M776.5 415h0M776.5 415.5h0M776.5 416h0M776.5 416.5h0M776.5 417h0M776.5 417.5h0M776.5 418h0M777 409h0M777 410.5h0M777 411h0M777 411.5h0M777 412h0M777 412.5h0M777 413h0M777 413.5h0M777 414h0M777 414.5h0M777 415h0M777 416h0M777 416.5h0M777 417h0M777 417.5h0M777 418h0M777.5 413.5h0M777.5 415h0M777.5 415.5h0M777.5 416h0M777.5 416.5h0M777.5 417h0M777.5 417.5h0M777.5 418h0M778 415h0M778 416h0M778 416.5h0M778 417h0M778 417.5h0M778 418h0M778.5 410.5h0M778.5 413.5h0M778.5 414.5h0M778.5 415h0M778.5 415.5h0M778.5 416h0M778.5 416.5h0M778.5 417h0M778.5 417.5h0M778.5 418h0M779 405.5h0M779 408h0M779 410.5h0M779 411.5h0M779 412.5h0M779 413h0M779 413.5h0M779 414h0M779 414.5h0M779 415.5h0M779 416h0M779 416.5h0M779 417h0M779 417.5h0M779 418h0M779.5 404.5h0M779.5 406h0M779.5 406.5h0M779.5 407.5h0M779.5 408h0M779.5 408.5h0M779.5 409.5h0M779.5 410.5h0M779.5 411h0M779.5 411.5h0M779.5 412h0M779.5 413h0M779.5 413.5h0M779.5 414h0M779.5 414.5h0M779.5 415h0M779.5 415.5h0M779.5 416h0M779.5 416.5h0M779.5 417h0M779.5 417.5h0M779.5 418h0M780 400.5h0M780 406h0M780 406.5h0M780 407.5h0M780 409h0M780 409.5h0M780 410h0M780 410.5h0M780 411h0M780 411.5h0M780 412h0M780 412.5h0M780 413h0M780 413.5h0M780 414h0M780 414.5h0M780 415h0M780 415.5h0M780 416h0M780 416.5h0M780 417h0M780 417.5h0M780 418h0M780.5 393h0M780.5 395.5h0M780.5 399.5h0M780.5 401h0M780.5 403h0M780.5 403.5h0M780.5 404.5h0M780.5 405.5h0M780.5 406h0M780.5 407h0M780.5 407.5h0M780.5 408h0M780.5 408.5h0M780.5 409.5h0M780.5 410h0M780.5 410.5h0M780.5 411h0M780.5 411.5h0M780.5 412h0M780.5 412.5h0M780.5 413h0M780.5 413.5h0M780.5 414.5h0M780.5 415h0M780.5 415.5h0M780.5 416h0M780.5 416.5h0M780.5 417h0M780.5 417.5h0M780.5 418h0M781 389.5h0M781 393.5h0M781 396h0M781 397h0M781 397.5h0M781 399.5h0M781 400h0M781 401.5h0M781 402.5h0M781 403h0M781 403.5h0M781 405h0M781 405.5h0M781 406.5h0M781 407h0M781 407.5h0M781 408h0M781 408.5h0M781 409h0M781 409.5h0M781 410h0M781 410.5h0M781 411h0M781 411.5h0M781 412h0M781 412.5h0M781 413h0M781 413.5h0M781 414h0M781 414.5h0M781 415h0M781 415.5h0M781 416h0M781 416.5h0M781 417h0M781 417.5h0M781 418h0M781.5 383.5h0M781.5 388h0M781.5 388.5h0M781.5 396h0M781.5 397.5h0M781.5 398h0M781.5 399h0M781.5 400.5h0M781.5 401.5h0M781.5 403h0M781.5 404h0M781.5 405.5h0M781.5 406h0M781.5 407h0M781.5 408h0M781.5 408.5h0M781.5 409.5h0M781.5 410h0M781.5 410.5h0M781.5 411h0M781.5 411.5h0M781.5 413h0M781.5 413.5h0M781.5 414h0M781.5 414.5h0M781.5 415h0M781.5 415.5h0M781.5 416h0M781.5 416.5h0M781.5 417h0M781.5 417.5h0M781.5 418h0M782 373.5h0M782 377.5h0M782 380h0M782 383h0M782 386h0M782 389.5h0M782 391.5h0M782 392h0M782 395.5h0M782 396.5h0M782 398.5h0M782 400h0M782 400.5h0M782 402h0M782 403.5h0M782 404h0M782 404.5h0M782 405.5h0M782 406h0M782 407h0M782 407.5h0M782 408h0M782 408.5h0M782 409h0M782 409.5h0M782 410h0M782 410.5h0M782 411h0M782 411.5h0M782 412h0M782 412.5h0M782 413h0M782 413.5h0M782 414h0M782 414.5h0M782 415h0M782 415.5h0M782 416h0M782 416.5h0M782 417h0M782 417.5h0M782 418h0M782.5 380.5h0M782.5 383h0M782.5 388h0M782.5 389h0M782.5 389.5h0M782.5 391.5h0M782.5 396h0M782.5 397.5h0M782.5 401h0M782.5 402h0M782.5 402.5h0M782.5 403h0M782.5 404h0M782.5 404.5h0M782.5 405h0M782.5 405.5h0M782.5 406h0M782.5 406.5h0M782.5 407h0M782.5 408h0M782.5 408.5h0M782.5 409h0M782.5 409.5h0M782.5 410h0M782.5 410.5h0M782.5 411h0M782.5 411.5h0M782.5 412h0M782.5 412.5h0M782.5 413h0M782.5 413.5h0M782.5 414h0M782.5 414.5h0M782.5 415h0M782.5 415.5h0M782.5 416h0M782.5 416.5h0M782.5 417h0M782.5 417.5h0M782.5 418h0M783 380h0M783 384h0M783 386h0M783 390h0M783 390.5h0M783 392h0M783 392.5h0M783 393h0M783 393.5h0M783 397.5h0M783 399h0M783 400h0M783 400.5h0M783 401h0M783 402h0M783 403.5h0M783 404h0M783 404.5h0M783 405h0M783 406h0M783 408h0M783 408.5h0M783 409h0M783 409.5h0M783 410h0M783 411.5h0M783 412h0M783 412.5h0M783 413h0M783 413.5h0M783 414h0M783 414.5h0M783 415h0M783 415.5h0M783 416h0M783 416.5h0M783 417h0M783 417.5h0M783.5 361.5h0M783.5 364.5h0M783.5 373.5h0M783.5 374h0M783.5 376.5h0M783.5 384h0M783.5 385.5h0M783.5 388.5h0M783.5 389h0M783.5 390h0M783.5 390.5h0M783.5 393.5h0M783.5 394.5h0M783.5 395.5h0M783.5 396h0M783.5 396.5h0M783.5 398.5h0M783.5 399.5h0M783.5 400h0M783.5 400.5h0M783.5 401.5h0M783.5 402.5h0M783.5 403h0M783.5 403.5h0M783.5 404h0M783.5 404.5h0M783.5 405.5h0M783.5 406h0M783.5 406.5h0M783.5 407h0M783.5 407.5h0M783.5 408h0M783.5 408.5h0M783.5 409h0M783.5 409.5h0M783.5 410h0M783.5 410.5h0M783.5 411h0M783.5 411.5h0M783.5 412h0M783.5 412.5h0M783.5 413h0M783.5 413.5h0M783.5 414h0M783.5 414.5h0M783.5 415h0M783.5 415.5h0M783.5 416h0M783.5 416.5h0M783.5 417h0M784 361h0M784 368.5h0M784 369h0M784 372h0M784 377h0M784 380h0M784 381.5h0M784 383.5h0M784 384.5h0M784 389h0M784 391h0M784 393h0M784 394h0M784 395h0M784 395.5h0M784 397h0M784 398h0M784 399h0M784 399.5h0M784 400h0M784 400.5h0M784 401h0M784 402.5h0M784 403h0M784 404h0M784 404.5h0M784 405h0M784 405.5h0M784 406h0M784 407h0M784 408.5h0M784 409h0M784 409.5h0M784 410h0M784 410.5h0M784 411h0M784 411.5h0M784 412h0M784 412.5h0M784 413h0M784 413.5h0M784 414h0M784 414.5h0M784 415h0M784 415.5h0M784 416h0M784 416.5h0M784 417h0M784.5 352.5h0M784.5 356.5h0M784.5 362.5h0M784.5 371.5h0M784.5 376h0M784.5 382h0M784.5 383h0M784.5 386h0M784.5 387h0M784.5 388h0M784.5 391h0M784.5 391.5h0M784.5 392.5h0M784.5 396h0M784.5 396.5h0M784.5 397h0M784.5 398h0M784.5 399h0M784.5 400.5h0M784.5 401h0M784.5 402h0M784.5 402.5h0M784.5 403h0M784.5 403.5h0M784.5 404h0M784.5 405h0M784.5 406h0M784.5 406.5h0M784.5 407h0M784.5 407.5h0M784.5 408h0M784.5 409h0M784.5 409.5h0M784.5 410h0M784.5 410.5h0M784.5 411h0M784.5 411.5h0M784.5 412h0M784.5 412.5h0M784.5 413h0M784.5 413.5h0M784.5 414h0M784.5 414.5h0M784.5 415h0M784.5 415.5h0M784.5 416h0M784.5 416.5h0M785 357.5h0M785 361h0M785 361.5h0M785 363h0M785 364.5h0M785 369h0M785 372h0M785 374.5h0M785 375h0M785 377.5h0M785 382.5h0M785 384.5h0M785 385h0M785 386.5h0M785 388h0M785 389.5h0M785 394.5h0M785 395.5h0M785 398h0M785 398.5h0M785 400h0M785 400.5h0M785 401h0M785 401.5h0M785 403h0M785 403.5h0M785 404.5h0M785 405.5h0M785 406h0M785 406.5h0M785 407h0M785 407.5h0M785 408.5h0M785 409h0M785 409.5h0M785 410h0M785 410.5h0M785 411h0M785 411.5h0M785 412h0M785 412.5h0M785 413h0M785 413.5h0M785 414h0M785 414.5h0M785 415h0M785 415.5h0M785 416h0M785 416.5h0M785.5 350.5h0M785.5 351h0M785.5 364h0M785.5 364.5h0M785.5 369h0M785.5 371.5h0M785.5 373.5h0M785.5 376h0M785.5 384.5h0M785.5 386h0M785.5 386.5h0M785.5 387h0M785.5 387.5h0M785.5 388h0M785.5 393h0M785.5 393.5h0M785.5 396h0M785.5 396.5h0M785.5 398h0M785.5 398.5h0M785.5 399h0M785.5 399.5h0M785.5 400h0M785.5 401h0M785.5 401.5h0M785.5 402h0M785.5 403.5h0M785.5 405h0M785.5 405.5h0M785.5 406.5h0M785.5 407.5h0M785.5 408h0M785.5 408.5h0M785.5 409h0M785.5 409.5h0M785.5 410.5h0M785.5 411h0M785.5 411.5h0M785.5 412h0M785.5 412.5h0M785.5 413h0M785.5 413.5h0M785.5 414h0M785.5 414.5h0M785.5 415h0M785.5 415.5h0M785.5 416h0M786 339h0M786 345.5h0M786 347.5h0M786 353h0M786 354.5h0M786 371h0M786 371.5h0M786 372h0M786 372.5h0M786 377.5h0M786 379h0M786 381.5h0M786 382.5h0M786 383h0M786 384.5h0M786 386.5h0M786 387h0M786 388.5h0M786 390.5h0M786 392h0M786 393h0M786 393.5h0M786 394.5h0M786 396h0M786 397h0M786 398h0M786 398.5h0M786 399h0M786 399.5h0M786 400h0M786 403h0M786 405.5h0M786 406h0M786 406.5h0M786 407h0M786 408h0M786 408.5h0M786 409h0M786 410h0M786 410.5h0M786 411h0M786 411.5h0M786 412h0M786 412.5h0M786 413h0M786 413.5h0M786 414h0M786 414.5h0M786 415h0M786 415.5h0M786.5 330.5h0M786.5 342h0M786.5 350h0M786.5 352h0M786.5 352.5h0M786.5 354h0M786.5 356h0M786.5 360.5h0M786.5 364h0M786.5 366.5h0M786.5 368h0M786.5 374.5h0M786.5 376h0M786.5 378.5h0M786.5 382h0M786.5 382.5h0M786.5 383h0M786.5 383.5h0M786.5 388h0M786.5 389h0M786.5 392.5h0M786.5 393.5h0M786.5 394h0M786.5 394.5h0M786.5 397h0M786.5 397.5h0M786.5 401.5h0M786.5 402.5h0M786.5 404h0M786.5 404.5h0M786.5 405h0M786.5 405.5h0M786.5 406h0M786.5 407h0M786.5 407.5h0M786.5 408h0M786.5 408.5h0M786.5 409h0M786.5 409.5h0M786.5 410h0M786.5 410.5h0M786.5 411h0M786.5 411.5h0M786.5 412h0M786.5 412.5h0M786.5 413h0M786.5 413.5h0M786.5 414h0M786.5 414.5h0M786.5 415h0M787 330.5h0M787 334.5h0M787 336.5h0M787 343.5h0M787 348h0M787 355h0M787 360h0M787 365.5h0M787 367h0M787 374h0M787 374.5h0M787 382.5h0M787 384h0M787 386h0M787 388.5h0M787 389h0M787 391h0M787 391.5h0M787 392h0M787 392.5h0M787 393h0M787 394h0M787 394.5h0M787 395h0M787 396h0M787 396.5h0M787 397h0M787 398h0M787 398.5h0M787 399h0M787 400h0M787 400.5h0M787 401h0M787 401.5h0M787 402h0M787 402.5h0M787 403h0M787 403.5h0M787 404.5h0M787 405h0M787 405.5h0M787 406h0M787 406.5h0M787 407h0M787 407.5h0M787 408h0M787 408.5h0M787 409h0M787 409.5h0M787 410.5h0M787 411h0M787 411.5h0M787 412h0M787 412.5h0M787 413h0M787 413.5h0M787 414h0M787 414.5h0M787 415h0M787.5 339h0M787.5 340h0M787.5 352h0M787.5 352.5h0M787.5 353h0M787.5 353.5h0M787.5 360h0M787.5 362.5h0M787.5 364.5h0M787.5 365h0M787.5 371h0M787.5 377.5h0M787.5 378.5h0M787.5 379.5h0M787.5 380h0M787.5 383.5h0M787.5 384h0M787.5 385.5h0M787.5 386.5h0M787.5 387.5h0M787.5 388h0M787.5 392h0M787.5 392.5h0M787.5 394.5h0M787.5 395h0M787.5 396h0M787.5 397.5h0M787.5 398.5h0M787.5 399h0M787.5 399.5h0M787.5 400.5h0M787.5 401h0M787.5 401.5h0M787.5 402h0M787.5 402.5h0M787.5 403h0M787.5 403.5h0M787.5 404h0M787.5 404.5h0M787.5 405h0M787.5 405.5h0M787.5 406h0M787.5 406.5h0M787.5 407h0M787.5 407.5h0M787.5 408h0M787.5 408.5h0M787.5 409h0M787.5 409.5h0M787.5 410h0M787.5 410.5h0M787.5 411h0M787.5 411.5h0M787.5 412h0M787.5 412.5h0M787.5 413h0M787.5 413.5h0M787.5 414h0M787.5 414.5h0M787.5 415h0M788 316h0M788 338h0M788 342h0M788 349.5h0M788 350h0M788 350.5h0M788 352h0M788 360.5h0M788 362h0M788 365h0M788 365.5h0M788 366h0M788 370h0M788 371.5h0M788 374h0M788 374.5h0M788 375.5h0M788 376h0M788 377.5h0M788 380h0M788 382h0M788 383h0M788 384h0M788 385h0M788 387h0M788 388.5h0M788 392.5h0M788 397h0M788 397.5h0M788 400h0M788 400.5h0M788 401.5h0M788 402.5h0M788 403h0M788 403.5h0M788 404h0M788 404.5h0M788 405.5h0M788 406.5h0M788 407.5h0M788 408h0M788 408.5h0M788 409h0M788 409.5h0M788 410.5h0M788 411h0M788 411.5h0M788 412h0M788 412.5h0M788 413h0M788 413.5h0M788 414h0M788 414.5h0M788.5 308.5h0M788.5 350h0M788.5 352h0M788.5 354.5h0M788.5 357h0M788.5 358.5h0M788.5 361.5h0M788.5 365h0M788.5 367h0M788.5 368.5h0M788.5 371h0M788.5 375.5h0M788.5 376h0M788.5 383h0M788.5 383.5h0M788.5 384h0M788.5 387.5h0M788.5 388.5h0M788.5 389.5h0M788.5 391.5h0M788.5 392h0M788.5 393h0M788.5 393.5h0M788.5 394h0M788.5 395h0M788.5 395.5h0M788.5 396h0M788.5 398h0M788.5 399.5h0M788.5 400.5h0M788.5 401.5h0M788.5 402.5h0M788.5 403h0M788.5 404h0M788.5 404.5h0M788.5 405.5h0M788.5 406h0M788.5 406.5h0M788.5 407h0M788.5 407.5h0M788.5 408.5h0M788.5 409h0M788.5 409.5h0M788.5 410h0M788.5 410.5h0M788.5 411h0M788.5 412h0M788.5 412.5h0M788.5 413h0M788.5 413.5h0M788.5 414h0M789 307h0M789 308h0M789 332h0M789 335h0M789 337h0M789 340.5h0M789 341h0M789 343.5h0M789 346.5h0M789 347h0M789 349.5h0M789 352.5h0M789 353.5h0M789 355h0M789 357.5h0M789 366h0M789 370h0M789 375h0M789 378.5h0M789 382h0M789 383.5h0M789 384h0M789 384.5h0M789 385h0M789 385.5h0M789 386.5h0M789 390h0M789 390.5h0M789 391.5h0M789 393h0M789 393.5h0M789 394h0M789 395h0M789 396.5h0M789 397.5h0M789 398h0M789 398.5h0M789 399.5h0M789 400h0M789 401.5h0M789 403h0M789 403.5h0M789 404h0M789 404.5h0M789 405h0M789 405.5h0M789 406h0M789 407.5h0M789 408h0M789 408.5h0M789 409h0M789 409.5h0M789 410h0M789 410.5h0M789 411h0M789 411.5h0M789 412h0M789 412.5h0M789 413h0M789 413.5h0M789.5 338h0M789.5 339h0M789.5 346h0M789.5 351.5h0M789.5 353.5h0M789.5 354.5h0M789.5 355h0M789.5 361.5h0M789.5 363h0M789.5 364h0M789.5 365h0M789.5 371.5h0M789.5 374h0M789.5 375h0M789.5 377h0M789.5 380h0M789.5 381h0M789.5 384h0M789.5 385h0M789.5 386h0M789.5 387.5h0M789.5 388.5h0M789.5 389.5h0M789.5 390h0M789.5 391.5h0M789.5 392.5h0M789.5 394h0M789.5 396.5h0M789.5 397.5h0M789.5 398.5h0M789.5 399.5h0M789.5 400h0M789.5 400.5h0M789.5 402h0M789.5 402.5h0M789.5 403.5h0M789.5 404h0M789.5 405.5h0M789.5 406h0M789.5 406.5h0M789.5 407.5h0M789.5 408h0M789.5 408.5h0M789.5 409h0M789.5 409.5h0M789.5 410.5h0M789.5 411h0M789.5 411.5h0M789.5 412h0M789.5 412.5h0M789.5 413h0M789.5 413.5h0M790 303h0M790 312h0M790 323.5h0M790 328.5h0M790 337h0M790 341h0M790 353.5h0M790 357h0M790 360h0M790 362.5h0M790 366h0M790 370h0M790 375h0M790 377h0M790 379h0M790 381.5h0M790 383h0M790 388h0M790 388.5h0M790 391h0M790 394h0M790 394.5h0M790 395.5h0M790 396h0M790 396.5h0M790 397h0M790 397.5h0M790 398h0M790 399.5h0M790 400h0M790 400.5h0M790 401h0M790 401.5h0M790 402h0M790 402.5h0M790 403h0M790 403.5h0M790 404h0M790 404.5h0M790 406.5h0M790 407.5h0M790 408h0M790 408.5h0M790 409h0M790 409.5h0M790 410h0M790 410.5h0M790 411h0M790 411.5h0M790 412h0M790 412.5h0M790 413h0M790.5 301h0M790.5 311h0M790.5 312.5h0M790.5 328.5h0M790.5 332h0M790.5 336h0M790.5 337h0M790.5 340.5h0M790.5 346.5h0M790.5 352.5h0M790.5 361.5h0M790.5 363h0M790.5 366.5h0M790.5 368.5h0M790.5 371h0M790.5 376h0M790.5 377h0M790.5 378.5h0M790.5 380h0M790.5 381h0M790.5 382.5h0M790.5 384.5h0M790.5 386h0M790.5 387.5h0M790.5 388h0M790.5 389h0M790.5 389.5h0M790.5 393h0M790.5 394.5h0M790.5 395h0M790.5 396h0M790.5 396.5h0M790.5 397h0M790.5 398h0M790.5 398.5h0M790.5 399.5h0M790.5 400h0M790.5 400.5h0M790.5 401h0M790.5 401.5h0M790.5 402h0M790.5 402.5h0M790.5 403h0M790.5 403.5h0M790.5 404h0M790.5 404.5h0M790.5 405h0M790.5 406h0M790.5 406.5h0M790.5 407.5h0M790.5 408h0M790.5 408.5h0M790.5 409h0M790.5 409.5h0M790.5 410h0M790.5 410.5h0M790.5 411h0M790.5 411.5h0M790.5 412h0M790.5 412.5h0M790.5 413h0M791 284.5h0M791 288h0M791 297h0M791 311h0M791 315h0M791 316h0M791 316.5h0M791 318h0M791 322h0M791 335.5h0M791 339h0M791 340.5h0M791 348.5h0M791 352h0M791 352.5h0M791 359.5h0M791 363.5h0M791 366.5h0M791 367.5h0M791 369.5h0M791 370h0M791 372h0M791 374h0M791 377h0M791 377.5h0M791 378.5h0M791 382h0M791 384h0M791 384.5h0M791 385h0M791 385.5h0M791 386.5h0M791 388.5h0M791 391.5h0M791 393h0M791 393.5h0M791 394h0M791 394.5h0M791 396h0M791 396.5h0M791 400h0M791 400.5h0M791 401h0M791 401.5h0M791 402h0M791 402.5h0M791 403h0M791 403.5h0M791 404h0M791 405h0M791 405.5h0M791 406h0M791 406.5h0M791 407h0M791 407.5h0M791 408h0M791 408.5h0M791 409h0M791 409.5h0M791 410h0M791 410.5h0M791 411h0M791 411.5h0M791 412h0M791.5 284h0M791.5 306h0M791.5 312h0M791.5 324.5h0M791.5 328.5h0M791.5 333h0M791.5 337.5h0M791.5 340.5h0M791.5 343h0M791.5 354.5h0M791.5 357h0M791.5 358.5h0M791.5 359h0M791.5 360.5h0M791.5 364h0M791.5 364.5h0M791.5 365.5h0M791.5 366.5h0M791.5 372.5h0M791.5 373h0M791.5 375.5h0M791.5 376.5h0M791.5 377.5h0M791.5 378.5h0M791.5 381h0M791.5 382.5h0M791.5 383.5h0M791.5 384h0M791.5 386.5h0M791.5 387h0M791.5 388h0M791.5 390h0M791.5 391.5h0M791.5 392h0M791.5 392.5h0M791.5 394h0M791.5 394.5h0M791.5 395h0M791.5 397h0M791.5 397.5h0M791.5 398h0M791.5 399h0M791.5 399.5h0M791.5 400h0M791.5 400.5h0M791.5 402h0M791.5 402.5h0M791.5 403h0M791.5 403.5h0M791.5 404h0M791.5 404.5h0M791.5 405h0M791.5 405.5h0M791.5 406h0M791.5 407h0M791.5 407.5h0M791.5 408h0M791.5 408.5h0M791.5 409h0M791.5 409.5h0M791.5 410h0M791.5 410.5h0M791.5 411h0M791.5 411.5h0M791.5 412.5h0M792 299h0M792 303h0M792 304.5h0M792 306.5h0M792 309h0M792 325.5h0M792 332.5h0M792 342h0M792 346.5h0M792 350.5h0M792 356.5h0M792 358.5h0M792 369h0M792 371.5h0M792 374h0M792 375h0M792 375.5h0M792 376.5h0M792 378h0M792 379h0M792 380.5h0M792 381h0M792 384h0M792 385h0M792 385.5h0M792 386h0M792 387h0M792 388h0M792 391.5h0M792 392.5h0M792 393h0M792 393.5h0M792 394h0M792 394.5h0M792 395h0M792 395.5h0M792 397h0M792 398.5h0M792 399h0M792 400h0M792 402.5h0M792 403.5h0M792 404h0M792 405h0M792 405.5h0M792 406h0M792 406.5h0M792 407h0M792 407.5h0M792 408h0M792 408.5h0M792 409h0M792 409.5h0M792 410h0M792 410.5h0M792 411h0M792 411.5h0M792 412h0M792.5 277.5h0M792.5 294h0M792.5 305.5h0M792.5 307.5h0M792.5 314h0M792.5 314.5h0M792.5 319h0M792.5 322.5h0M792.5 330.5h0M792.5 331.5h0M792.5 332h0M792.5 343h0M792.5 352h0M792.5 356.5h0M792.5 362h0M792.5 364h0M792.5 364.5h0M792.5 365h0M792.5 367.5h0M792.5 372h0M792.5 372.5h0M792.5 377h0M792.5 379.5h0M792.5 381h0M792.5 382h0M792.5 383h0M792.5 384h0M792.5 386h0M792.5 386.5h0M792.5 387.5h0M792.5 389.5h0M792.5 390h0M792.5 390.5h0M792.5 391.5h0M792.5 392h0M792.5 392.5h0M792.5 394.5h0M792.5 395.5h0M792.5 396.5h0M792.5 398h0M792.5 398.5h0M792.5 399h0M792.5 400h0M792.5 401h0M792.5 401.5h0M792.5 402.5h0M792.5 403h0M792.5 403.5h0M792.5 404h0M792.5 404.5h0M792.5 405.5h0M792.5 406.5h0M792.5 407h0M792.5 407.5h0M792.5 408h0M792.5 408.5h0M792.5 409.5h0M792.5 410h0M792.5 410.5h0M792.5 411h0M792.5 411.5h0M793 271h0M793 288h0M793 308.5h0M793 318h0M793 319.5h0M793 321h0M793 328h0M793 330h0M793 342.5h0M793 349.5h0M793 356h0M793 364h0M793 364.5h0M793 366.5h0M793 368.5h0M793 370h0M793 372h0M793 374.5h0M793 375h0M793 376h0M793 377h0M793 378.5h0M793 380.5h0M793 381h0M793 382.5h0M793 383.5h0M793 384h0M793 385.5h0M793 386h0M793 387h0M793 388.5h0M793 389h0M793 389.5h0M793 390.5h0M793 391.5h0M793 392.5h0M793 394h0M793 394.5h0M793 395h0M793 395.5h0M793 396h0M793 396.5h0M793 397h0M793 397.5h0M793 398h0M793 400h0M793 400.5h0M793 401.5h0M793 402h0M793 402.5h0M793 403h0M793 403.5h0M793 404h0M793 404.5h0M793 405.5h0M793 406h0M793 406.5h0M793 407h0M793 407.5h0M793 408h0M793 408.5h0M793 409h0M793 409.5h0M793 410h0M793 410.5h0M793 411h0M793.5 270h0M793.5 282.5h0M793.5 292h0M793.5 298.5h0M793.5 305h0M793.5 309.5h0M793.5 310h0M793.5 311.5h0M793.5 312h0M793.5 319.5h0M793.5 322h0M793.5 334h0M793.5 336h0M793.5 336.5h0M793.5 346.5h0M793.5 354.5h0M793.5 360h0M793.5 364.5h0M793.5 365.5h0M793.5 368h0M793.5 369h0M793.5 370.5h0M793.5 371h0M793.5 375h0M793.5 377h0M793.5 379h0M793.5 379.5h0M793.5 380.5h0M793.5 381.5h0M793.5 382h0M793.5 382.5h0M793.5 383h0M793.5 384h0M793.5 384.5h0M793.5 386.5h0M793.5 388h0M793.5 388.5h0M793.5 390h0M793.5 390.5h0M793.5 391.5h0M793.5 392h0M793.5 393h0M793.5 393.5h0M793.5 394.5h0M793.5 395.5h0M793.5 397h0M793.5 399.5h0M793.5 400h0M793.5 400.5h0M793.5 401h0M793.5 401.5h0M793.5 402.5h0M793.5 403h0M793.5 403.5h0M793.5 404h0M793.5 406h0M793.5 406.5h0M793.5 407h0M793.5 407.5h0M793.5 408h0M793.5 408.5h0M793.5 409h0M793.5 409.5h0M793.5 410h0M793.5 410.5h0M793.5 411h0M794 256h0M794 263h0M794 276.5h0M794 290.5h0M794 294h0M794 326h0M794 331.5h0M794 336.5h0M794 341h0M794 345.5h0M794 346h0M794 348.5h0M794 352h0M794 353h0M794 354h0M794 356.5h0M794 358h0M794 359.5h0M794 362h0M794 362.5h0M794 364h0M794 364.5h0M794 367h0M794 367.5h0M794 368.5h0M794 371h0M794 374h0M794 376.5h0M794 381.5h0M794 382h0M794 383.5h0M794 385h0M794 385.5h0M794 390h0M794 391h0M794 392h0M794 392.5h0M794 393h0M794 394h0M794 394.5h0M794 395h0M794 395.5h0M794 396h0M794 396.5h0M794 397h0M794 398h0M794 399h0M794 399.5h0M794 401h0M794 401.5h0M794 402h0M794 402.5h0M794 403h0M794 403.5h0M794 404h0M794 404.5h0M794 405h0M794 405.5h0M794 406h0M794 406.5h0M794 407h0M794 407.5h0M794 408h0M794 408.5h0M794 409h0M794 409.5h0M794 410.5h0M794.5 266.5h0M794.5 278h0M794.5 281.5h0M794.5 282.5h0M794.5 299.5h0M794.5 300.5h0M794.5 304h0M794.5 308h0M794.5 309h0M794.5 318h0M794.5 325.5h0M794.5 326.5h0M794.5 331.5h0M794.5 338h0M794.5 342.5h0M794.5 348h0M794.5 354.5h0M794.5 363.5h0M794.5 366.5h0M794.5 368h0M794.5 369.5h0M794.5 375.5h0M794.5 377.5h0M794.5 380h0M794.5 382h0M794.5 383h0M794.5 383.5h0M794.5 384h0M794.5 384.5h0M794.5 385h0M794.5 387h0M794.5 388.5h0M794.5 389.5h0M794.5 390.5h0M794.5 392h0M794.5 392.5h0M794.5 393h0M794.5 395h0M794.5 395.5h0M794.5 396h0M794.5 396.5h0M794.5 397h0M794.5 397.5h0M794.5 398h0M794.5 398.5h0M794.5 399h0M794.5 399.5h0M794.5 400h0M794.5 400.5h0M794.5 401h0M794.5 401.5h0M794.5 402h0M794.5 402.5h0M794.5 403h0M794.5 403.5h0M794.5 404h0M794.5 404.5h0M794.5 405h0M794.5 405.5h0M794.5 406h0M794.5 407h0M794.5 407.5h0M794.5 408.5h0M794.5 409.5h0M794.5 410h0M794.5 410.5h0M795 246.5h0M795 260h0M795 275h0M795 277h0M795 279.5h0M795 281.5h0M795 286.5h0M795 289h0M795 294.5h0M795 301h0M795 305h0M795 307.5h0M795 312.5h0M795 314h0M795 314.5h0M795 325h0M795 325.5h0M795 330.5h0M795 332.5h0M795 336h0M795 340.5h0M795 342h0M795 344h0M795 345h0M795 351h0M795 353.5h0M795 355h0M795 357h0M795 358h0M795 363h0M795 363.5h0M795 365h0M795 368.5h0M795 369h0M795 370h0M795 375h0M795 376.5h0M795 379h0M795 383h0M795 386h0M795 392h0M795 393h0M795 394h0M795 395h0M795 395.5h0M795 396h0M795 397.5h0M795 398h0M795 398.5h0M795 399.5h0M795 400h0M795 400.5h0M795 402.5h0M795 403h0M795 404h0M795 404.5h0M795 405h0M795 405.5h0M795 406h0M795 406.5h0M795 407.5h0M795 408h0M795 408.5h0M795 409h0M795 409.5h0M795.5 250.5h0M795.5 255h0M795.5 286h0M795.5 289.5h0M795.5 300h0M795.5 302h0M795.5 303.5h0M795.5 312.5h0M795.5 319.5h0M795.5 321.5h0M795.5 324.5h0M795.5 336.5h0M795.5 337.5h0M795.5 340h0M795.5 345h0M795.5 345.5h0M795.5 347.5h0M795.5 348h0M795.5 350.5h0M795.5 357h0M795.5 358h0M795.5 359.5h0M795.5 360h0M795.5 369h0M795.5 370h0M795.5 371.5h0M795.5 374.5h0M795.5 375.5h0M795.5 377h0M795.5 379h0M795.5 380h0M795.5 383.5h0M795.5 386h0M795.5 386.5h0M795.5 388.5h0M795.5 390h0M795.5 390.5h0M795.5 391h0M795.5 392.5h0M795.5 393.5h0M795.5 395.5h0M795.5 396.5h0M795.5 397h0M795.5 398h0M795.5 399h0M795.5 399.5h0M795.5 400.5h0M795.5 401.5h0M795.5 402h0M795.5 402.5h0M795.5 403h0M795.5 403.5h0M795.5 404h0M795.5 404.5h0M795.5 405h0M795.5 406.5h0M795.5 407h0M795.5 407.5h0M795.5 408h0M795.5 408.5h0M795.5 409h0M795.5 409.5h0M796 245.5h0M796 262.5h0M796 263.5h0M796 274.5h0M796 277h0M796 283.5h0M796 302h0M796 304.5h0M796 308h0M796 313.5h0M796 315.5h0M796 322h0M796 326h0M796 335h0M796 336.5h0M796 338.5h0M796 346h0M796 351.5h0M796 355h0M796 358h0M796 360h0M796 361h0M796 362.5h0M796 368.5h0M796 369.5h0M796 370h0M796 373.5h0M796 375h0M796 375.5h0M796 376h0M796 377.5h0M796 378h0M796 379.5h0M796 380h0M796 381.5h0M796 382h0M796 383.5h0M796 385.5h0M796 387.5h0M796 389h0M796 389.5h0M796 390h0M796 392h0M796 393h0M796 396h0M796 397h0M796 397.5h0M796 398.5h0M796 399h0M796 399.5h0M796 400h0M796 400.5h0M796 401h0M796 401.5h0M796 402h0M796 402.5h0M796 403h0M796 403.5h0M796 404h0M796 404.5h0M796 405.5h0M796 406h0M796 406.5h0M796 407h0M796 407.5h0M796 408h0M796 408.5h0M796 409h0M796.5 232h0M796.5 237.5h0M796.5 258.5h0M796.5 297.5h0M796.5 300h0M796.5 306.5h0M796.5 316h0M796.5 324.5h0M796.5 329.5h0M796.5 338.5h0M796.5 342.5h0M796.5 344.5h0M796.5 346h0M796.5 347.5h0M796.5 354.5h0M796.5 355.5h0M796.5 361.5h0M796.5 362.5h0M796.5 363h0M796.5 364h0M796.5 364.5h0M796.5 365.5h0M796.5 366h0M796.5 368.5h0M796.5 370.5h0M796.5 375.5h0M796.5 377h0M796.5 379h0M796.5 380.5h0M796.5 381h0M796.5 381.5h0M796.5 384h0M796.5 384.5h0M796.5 385h0M796.5 387h0M796.5 387.5h0M796.5 388h0M796.5 389.5h0M796.5 390h0M796.5 390.5h0M796.5 393h0M796.5 396h0M796.5 397.5h0M796.5 398h0M796.5 399.5h0M796.5 400.5h0M796.5 401h0M796.5 402h0M796.5 403h0M796.5 403.5h0M796.5 404h0M796.5 404.5h0M796.5 405h0M796.5 405.5h0M796.5 406h0M796.5 406.5h0M796.5 407h0M796.5 407.5h0M796.5 408h0M796.5 408.5h0M797 248.5h0M797 260h0M797 261h0M797 267.5h0M797 268.5h0M797 277h0M797 280h0M797 280.5h0M797 288.5h0M797 297h0M797 302h0M797 306h0M797 306.5h0M797 309.5h0M797 322.5h0M797 324.5h0M797 328.5h0M797 331h0M797 338h0M797 346.5h0M797 347.5h0M797 350.5h0M797 352.5h0M797 353.5h0M797 355h0M797 358h0M797 358.5h0M797 361.5h0M797 363h0M797 363.5h0M797 368h0M797 369.5h0M797 374h0M797 374.5h0M797 375h0M797 375.5h0M797 376.5h0M797 378h0M797 381h0M797 381.5h0M797 386h0M797 386.5h0M797 387.5h0M797 388h0M797 389h0M797 389.5h0M797 390.5h0M797 391h0M797 391.5h0M797 394h0M797 394.5h0M797 395h0M797 396.5h0M797 397h0M797 398h0M797 398.5h0M797 399h0M797 399.5h0M797 400h0M797 401h0M797 401.5h0M797 402.5h0M797 403.5h0M797 404h0M797 404.5h0M797 405h0M797 406.5h0M797 407h0M797 407.5h0M797 408h0M797.5 236.5h0M797.5 271h0M797.5 274.5h0M797.5 282h0M797.5 286.5h0M797.5 287.5h0M797.5 299.5h0M797.5 304.5h0M797.5 314h0M797.5 315.5h0M797.5 318h0M797.5 319h0M797.5 322h0M797.5 327h0M797.5 333h0M797.5 335.5h0M797.5 339h0M797.5 346h0M797.5 350.5h0M797.5 357h0M797.5 359.5h0M797.5 363h0M797.5 366.5h0M797.5 369h0M797.5 369.5h0M797.5 371h0M797.5 371.5h0M797.5 372.5h0M797.5 373.5h0M797.5 375h0M797.5 379h0M797.5 379.5h0M797.5 380h0M797.5 382.5h0M797.5 383.5h0M797.5 385h0M797.5 385.5h0M797.5 386.5h0M797.5 387.5h0M797.5 388h0M797.5 388.5h0M797.5 389h0M797.5 390.5h0M797.5 391.5h0M797.5 393h0M797.5 393.5h0M797.5 394.5h0M797.5 396h0M797.5 396.5h0M797.5 397h0M797.5 397.5h0M797.5 398.5h0M797.5 399h0M797.5 399.5h0M797.5 400.5h0M797.5 401h0M797.5 401.5h0M797.5 402h0M797.5 402.5h0M797.5 403h0M797.5 403.5h0M797.5 404h0M797.5 405h0M797.5 405.5h0M797.5 406h0M797.5 406.5h0M797.5 407h0M797.5 407.5h0M798 223.5h0M798 234.5h0M798 259h0M798 277.5h0M798 278h0M798 287.5h0M798 293h0M798 305.5h0M798 307h0M798 308.5h0M798 309.5h0M798 316h0M798 317h0M798 318.5h0M798 322h0M798 326.5h0M798 328h0M798 333.5h0M798 334.5h0M798 336h0M798 338.5h0M798 341h0M798 342h0M798 343h0M798 348.5h0M798 351.5h0M798 352.5h0M798 354h0M798 357.5h0M798 361h0M798 366h0M798 366.5h0M798 370.5h0M798 377.5h0M798 378.5h0M798 379h0M798 381h0M798 382h0M798 384.5h0M798 385h0M798 386h0M798 387h0M798 388h0M798 388.5h0M798 389h0M798 390h0M798 392h0M798 392.5h0M798 393h0M798 393.5h0M798 394.5h0M798 395h0M798 395.5h0M798 396.5h0M798 398h0M798 398.5h0M798 401h0M798 402h0M798 404h0M798 404.5h0M798 405h0M798 405.5h0M798 406.5h0M798 407h0M798 408h0M798.5 228.5h0M798.5 239h0M798.5 241.5h0M798.5 243.5h0M798.5 263.5h0M798.5 275h0M798.5 277h0M798.5 281.5h0M798.5 313.5h0M798.5 318.5h0M798.5 319.5h0M798.5 324.5h0M798.5 325h0M798.5 333h0M798.5 335.5h0M798.5 337.5h0M798.5 338.5h0M798.5 346.5h0M798.5 350h0M798.5 355h0M798.5 356h0M798.5 363.5h0M798.5 364h0M798.5 367h0M798.5 370.5h0M798.5 371h0M798.5 375h0M798.5 376h0M798.5 376.5h0M798.5 379h0M798.5 380.5h0M798.5 383h0M798.5 385h0M798.5 385.5h0M798.5 386h0M798.5 386.5h0M798.5 387h0M798.5 388h0M798.5 390h0M798.5 390.5h0M798.5 391.5h0M798.5 392h0M798.5 392.5h0M798.5 393h0M798.5 395h0M798.5 397h0M798.5 397.5h0M798.5 398.5h0M798.5 400.5h0M798.5 401h0M798.5 401.5h0M798.5 402h0M798.5 402.5h0M798.5 403h0M798.5 404h0M798.5 405h0M798.5 405.5h0M798.5 406h0M798.5 406.5h0M798.5 407h0M798.5 407.5h0M799 235.5h0M799 239h0M799 255.5h0M799 273h0M799 278h0M799 286.5h0M799 295h0M799 298.5h0M799 302h0M799 328h0M799 330.5h0M799 332.5h0M799 335.5h0M799 340.5h0M799 344h0M799 357.5h0M799 358.5h0M799 359h0M799 362h0M799 370.5h0M799 374.5h0M799 376.5h0M799 377h0M799 377.5h0M799 378h0M799 378.5h0M799 380h0M799 381h0M799 383h0M799 383.5h0M799 387.5h0M799 388h0M799 388.5h0M799 389h0M799 389.5h0M799 390.5h0M799 391.5h0M799 392.5h0M799 393h0M799 393.5h0M799 394.5h0M799 395h0M799 395.5h0M799 396.5h0M799 398h0M799 398.5h0M799 399h0M799 399.5h0M799 400.5h0M799 401h0M799 401.5h0M799 402h0M799 402.5h0M799 403h0M799 404h0M799 404.5h0M799 405h0M799 405.5h0M799 406h0M799 406.5h0M799 407h0M799.5 206.5h0M799.5 210h0M799.5 267.5h0M799.5 269.5h0M799.5 275h0M799.5 277h0M799.5 278.5h0M799.5 289.5h0M799.5 290h0M799.5 292h0M799.5 299h0M799.5 302h0M799.5 303h0M799.5 304.5h0M799.5 305.5h0M799.5 307.5h0M799.5 308.5h0M799.5 314h0M799.5 330.5h0M799.5 332h0M799.5 341h0M799.5 345.5h0M799.5 349h0M799.5 353.5h0M799.5 354.5h0M799.5 356h0M799.5 356.5h0M799.5 357.5h0M799.5 359.5h0M799.5 364h0M799.5 364.5h0M799.5 365h0M799.5 366h0M799.5 372.5h0M799.5 374h0M799.5 376.5h0M799.5 377.5h0M799.5 378.5h0M799.5 379h0M799.5 379.5h0M799.5 380h0M799.5 383.5h0M799.5 386.5h0M799.5 388h0M799.5 388.5h0M799.5 389h0M799.5 391h0M799.5 392h0M799.5 395.5h0M799.5 396h0M799.5 397h0M799.5 397.5h0M799.5 400.5h0M799.5 402h0M799.5 402.5h0M799.5 403h0M799.5 403.5h0M799.5 404h0M799.5 404.5h0M799.5 405h0M799.5 405.5h0M799.5 406.5h0M800 210.5h0M800 219h0M800 266.5h0M800 269.5h0M800 271.5h0M800 276h0M800 285.5h0M800 298.5h0M800 309h0M800 309.5h0M800 313.5h0M800 314h0M800 314.5h0M800 321h0M800 323h0M800 327.5h0M800 331h0M800 333.5h0M800 334h0M800 336.5h0M800 337.5h0M800 338.5h0M800 344.5h0M800 346.5h0M800 349h0M800 349.5h0M800 350h0M800 352h0M800 357h0M800 363.5h0M800 366h0M800 367.5h0M800 368.5h0M800 369.5h0M800 370h0M800 370.5h0M800 376h0M800 377h0M800 377.5h0M800 378h0M800 378.5h0M800 379.5h0M800 380h0M800 384h0M800 384.5h0M800 386.5h0M800 387h0M800 388h0M800 388.5h0M800 390h0M800 392.5h0M800 394.5h0M800 395h0M800 397.5h0M800 398h0M800 398.5h0M800 400h0M800 400.5h0M800 401h0M800 401.5h0M800 402h0M800 402.5h0M800 403h0M800 403.5h0M800 404.5h0M800 405h0M800 406h0M800 406.5h0M800.5 233h0M800.5 244h0M800.5 259.5h0M800.5 267.5h0M800.5 283.5h0M800.5 288h0M800.5 296h0M800.5 310h0M800.5 311.5h0M800.5 312h0M800.5 312.5h0M800.5 324h0M800.5 328h0M800.5 339h0M800.5 344h0M800.5 348.5h0M800.5 354.5h0M800.5 355.5h0M800.5 360.5h0M800.5 361h0M800.5 363h0M800.5 367h0M800.5 368.5h0M800.5 370.5h0M800.5 371h0M800.5 372h0M800.5 373h0M800.5 373.5h0M800.5 374.5h0M800.5 376h0M800.5 377.5h0M800.5 379h0M800.5 379.5h0M800.5 380h0M800.5 381h0M800.5 382.5h0M800.5 384h0M800.5 386.5h0M800.5 388h0M800.5 388.5h0M800.5 390.5h0M800.5 391h0M800.5 392h0M800.5 393h0M800.5 393.5h0M800.5 396h0M800.5 396.5h0M800.5 397h0M800.5 397.5h0M800.5 399h0M800.5 400.5h0M800.5 401h0M800.5 402.5h0M800.5 403h0M800.5 404h0M800.5 404.5h0M800.5 405h0M800.5 405.5h0M800.5 406h0M801 214.5h0M801 235.5h0M801 238h0M801 258h0M801 274h0M801 277h0M801 280h0M801 282.5h0M801 293.5h0M801 301h0M801 304.5h0M801 309.5h0M801 310h0M801 310.5h0M801 313h0M801 318h0M801 327.5h0M801 330h0M801 330.5h0M801 331.5h0M801 340h0M801 346h0M801 346.5h0M801 351h0M801 354.5h0M801 357h0M801 358.5h0M801 360.5h0M801 367.5h0M801 370.5h0M801 375.5h0M801 376h0M801 384.5h0M801 387h0M801 388h0M801 388.5h0M801 389h0M801 390h0M801 390.5h0M801 392.5h0M801 393.5h0M801 394.5h0M801 395h0M801 396.5h0M801 397h0M801 398h0M801 399.5h0M801 401h0M801 401.5h0M801 402h0M801 403h0M801 404h0M801 404.5h0M801 405.5h0M801.5 222.5h0M801.5 253h0M801.5 261h0M801.5 269h0M801.5 276.5h0M801.5 277h0M801.5 280.5h0M801.5 281h0M801.5 288.5h0M801.5 290h0M801.5 294.5h0M801.5 295.5h0M801.5 301.5h0M801.5 306.5h0M801.5 308h0M801.5 312h0M801.5 319h0M801.5 328.5h0M801.5 329h0M801.5 331h0M801.5 333h0M801.5 341h0M801.5 342h0M801.5 343h0M801.5 346h0M801.5 346.5h0M801.5 354h0M801.5 356.5h0M801.5 362h0M801.5 363h0M801.5 363.5h0M801.5 364h0M801.5 365.5h0M801.5 367h0M801.5 367.5h0M801.5 368h0M801.5 369h0M801.5 369.5h0M801.5 371h0M801.5 374.5h0M801.5 375.5h0M801.5 380.5h0M801.5 382h0M801.5 383h0M801.5 384h0M801.5 384.5h0M801.5 387.5h0M801.5 388h0M801.5 389h0M801.5 389.5h0M801.5 390h0M801.5 390.5h0M801.5 391h0M801.5 391.5h0M801.5 392.5h0M801.5 393.5h0M801.5 394h0M801.5 394.5h0M801.5 395h0M801.5 396h0M801.5 397h0M801.5 397.5h0M801.5 398h0M801.5 398.5h0M801.5 399h0M801.5 401.5h0M801.5 402h0M801.5 402.5h0M801.5 403h0M801.5 403.5h0M801.5 404h0M801.5 404.5h0M802 184h0M802 221h0M802 229h0M802 245h0M802 251h0M802 253.5h0M802 262h0M802 263h0M802 271h0M802 283h0M802 284h0M802 288h0M802 288.5h0M802 291.5h0M802 294h0M802 301h0M802 310h0M802 328.5h0M802 336h0M802 338.5h0M802 339h0M802 345.5h0M802 347.5h0M802 348.5h0M802 357.5h0M802 360h0M802 361h0M802 364.5h0M802 365h0M802 367.5h0M802 368h0M802 375.5h0M802 376h0M802 377h0M802 379h0M802 379.5h0M802 384.5h0M802 386.5h0M802 387h0M802 387.5h0M802 388h0M802 388.5h0M802 390h0M802 390.5h0M802 392h0M802 392.5h0M802 393h0M802 394.5h0M802 395h0M802 395.5h0M802 396h0M802 396.5h0M802 398.5h0M802 400h0M802 400.5h0M802 401.5h0M802 402h0M802 402.5h0M802 403h0M802 403.5h0M802 404h0M802 404.5h0M802 405h0M802.5 171h0M802.5 237.5h0M802.5 240h0M802.5 241h0M802.5 257h0M802.5 280h0M802.5 283h0M802.5 292h0M802.5 320.5h0M802.5 323h0M802.5 325.5h0M802.5 326h0M802.5 333.5h0M802.5 336.5h0M802.5 344.5h0M802.5 345.5h0M802.5 346h0M802.5 348h0M802.5 351.5h0M802.5 352h0M802.5 352.5h0M802.5 356.5h0M802.5 358.5h0M802.5 360.5h0M802.5 362h0M802.5 366.5h0M802.5 369h0M802.5 369.5h0M802.5 370.5h0M802.5 376.5h0M802.5 377h0M802.5 378.5h0M802.5 380h0M802.5 380.5h0M802.5 381.5h0M802.5 385h0M802.5 386h0M802.5 388h0M802.5 389.5h0M802.5 391h0M802.5 391.5h0M802.5 392h0M802.5 392.5h0M802.5 393h0M802.5 395h0M802.5 395.5h0M802.5 396h0M802.5 397.5h0M802.5 398h0M802.5 398.5h0M802.5 399h0M802.5 400.5h0M802.5 401h0M802.5 403h0M802.5 404h0M803 209.5h0M803 225.5h0M803 232h0M803 259.5h0M803 270h0M803 279.5h0M803 290h0M803 297h0M803 301h0M803 310h0M803 310.5h0M803 315h0M803 317.5h0M803 330h0M803 330.5h0M803 338.5h0M803 339h0M803 341.5h0M803 350h0M803 359h0M803 362.5h0M803 367.5h0M803 370h0M803 374h0M803 375h0M803 376h0M803 381h0M803 381.5h0M803 383.5h0M803 384.5h0M803 385.5h0M803 387.5h0M803 388.5h0M803 389h0M803 389.5h0M803 390h0M803 390.5h0M803 392.5h0M803 393h0M803 394h0M803 394.5h0M803 395.5h0M803 397.5h0M803 398h0M803 399h0M803 399.5h0M803 400h0M803 400.5h0M803 401.5h0M803 402h0M803 403.5h0M803 404h0M803.5 222.5h0M803.5 225h0M803.5 235.5h0M803.5 247.5h0M803.5 256h0M803.5 256.5h0M803.5 259h0M803.5 260.5h0M803.5 261.5h0M803.5 293.5h0M803.5 302h0M803.5 304.5h0M803.5 305.5h0M803.5 316.5h0M803.5 319h0M803.5 322.5h0M803.5 324.5h0M803.5 334.5h0M803.5 338h0M803.5 342.5h0M803.5 343.5h0M803.5 344h0M803.5 344.5h0M803.5 345h0M803.5 345.5h0M803.5 348h0M803.5 352h0M803.5 353h0M803.5 355.5h0M803.5 357h0M803.5 358.5h0M803.5 359h0M803.5 361.5h0M803.5 362h0M803.5 367h0M803.5 368.5h0M803.5 370h0M803.5 370.5h0M803.5 373h0M803.5 374h0M803.5 374.5h0M803.5 377.5h0M803.5 382h0M803.5 383h0M803.5 384h0M803.5 385h0M803.5 386h0M803.5 386.5h0M803.5 387.5h0M803.5 390.5h0M803.5 391.5h0M803.5 392.5h0M803.5 394h0M803.5 394.5h0M803.5 395h0M803.5 395.5h0M803.5 396.5h0M803.5 397h0M803.5 397.5h0M803.5 398h0M803.5 399h0M803.5 399.5h0M803.5 400h0M803.5 400.5h0M803.5 401.5h0M803.5 402.5h0M804 195h0M804 225h0M804 255h0M804 256.5h0M804 268.5h0M804 276h0M804 277.5h0M804 279h0M804 300.5h0M804 304.5h0M804 310h0M804 312h0M804 320h0M804 321h0M804 321.5h0M804 326.5h0M804 338h0M804 341.5h0M804 346.5h0M804 348.5h0M804 349.5h0M804 350h0M804 352h0M804 356h0M804 358.5h0M804 359.5h0M804 362h0M804 363h0M804 366h0M804 367h0M804 370h0M804 371h0M804 371.5h0M804 372h0M804 376.5h0M804 378h0M804 379h0M804 380h0M804 382.5h0M804 383h0M804 383.5h0M804 384.5h0M804 387h0M804 387.5h0M804 388h0M804 388.5h0M804 389.5h0M804 390.5h0M804 393h0M804 393.5h0M804 395h0M804 396.5h0M804 397h0M804 397.5h0M804 398h0M804 398.5h0M804 399.5h0M804 400.5h0M804 401h0M804 401.5h0M804 402h0M804 402.5h0M804 403.5h0M804.5 178h0M804.5 186.5h0M804.5 230h0M804.5 248h0M804.5 259.5h0M804.5 266.5h0M804.5 267h0M804.5 281.5h0M804.5 283.5h0M804.5 292h0M804.5 295.5h0M804.5 301.5h0M804.5 307.5h0M804.5 311.5h0M804.5 313h0M804.5 317.5h0M804.5 322h0M804.5 325h0M804.5 327h0M804.5 328.5h0M804.5 330h0M804.5 333.5h0M804.5 335h0M804.5 338h0M804.5 348.5h0M804.5 349.5h0M804.5 350.5h0M804.5 354.5h0M804.5 357h0M804.5 358h0M804.5 360h0M804.5 361.5h0M804.5 365h0M804.5 368.5h0M804.5 374h0M804.5 374.5h0M804.5 378.5h0M804.5 380h0M804.5 380.5h0M804.5 383.5h0M804.5 386.5h0M804.5 387.5h0M804.5 388.5h0M804.5 389.5h0M804.5 391h0M804.5 394h0M804.5 394.5h0M804.5 395h0M804.5 396h0M804.5 396.5h0M804.5 397h0M804.5 398h0M804.5 398.5h0M804.5 400h0M804.5 400.5h0M804.5 403h0M805 163.5h0M805 225h0M805 225.5h0M805 231.5h0M805 239.5h0M805 254h0M805 256.5h0M805 288.5h0M805 294.5h0M805 297h0M805 297.5h0M805 306h0M805 310.5h0M805 316.5h0M805 320.5h0M805 324.5h0M805 327.5h0M805 328h0M805 329h0M805 330.5h0M805 332.5h0M805 339h0M805 339.5h0M805 343h0M805 348.5h0M805 350.5h0M805 351.5h0M805 363h0M805 368h0M805 371h0M805 376h0M805 376.5h0M805 379.5h0M805 380h0M805 380.5h0M805 381h0M805 381.5h0M805 382h0M805 383.5h0M805 384.5h0M805 385.5h0M805 386.5h0M805 388h0M805 388.5h0M805 391h0M805 391.5h0M805 393h0M805 394h0M805 394.5h0M805 395.5h0M805 396.5h0M805 397h0M805 397.5h0M805 398h0M805 399h0M805 400h0M805 400.5h0M805 401h0M805 401.5h0M805 402h0M805 402.5h0M805.5 184h0M805.5 228.5h0M805.5 233h0M805.5 244h0M805.5 252.5h0M805.5 254h0M805.5 255h0M805.5 265h0M805.5 269h0M805.5 270.5h0M805.5 275h0M805.5 275.5h0M805.5 278h0M805.5 282h0M805.5 284.5h0M805.5 285.5h0M805.5 297h0M805.5 300h0M805.5 301h0M805.5 306h0M805.5 310h0M805.5 316h0M805.5 317.5h0M805.5 319h0M805.5 322h0M805.5 328.5h0M805.5 332h0M805.5 336h0M805.5 337.5h0M805.5 338.5h0M805.5 340.5h0M805.5 341h0M805.5 347h0M805.5 348h0M805.5 349.5h0M805.5 350h0M805.5 350.5h0M805.5 352.5h0M805.5 355h0M805.5 360h0M805.5 360.5h0M805.5 362.5h0M805.5 369.5h0M805.5 370h0M805.5 370.5h0M805.5 374.5h0M805.5 375.5h0M805.5 376.5h0M805.5 378h0M805.5 379h0M805.5 380.5h0M805.5 381.5h0M805.5 382.5h0M805.5 383.5h0M805.5 384.5h0M805.5 386h0M805.5 388h0M805.5 389.5h0M805.5 390h0M805.5 390.5h0M805.5 391h0M805.5 392h0M805.5 392.5h0M805.5 393h0M805.5 393.5h0M805.5 394.5h0M805.5 395.5h0M805.5 396h0M805.5 396.5h0M805.5 397h0M805.5 397.5h0M805.5 398h0M805.5 399.5h0M805.5 401h0M805.5 401.5h0M806 178.5h0M806 242h0M806 253h0M806 254.5h0M806 255.5h0M806 257h0M806 272.5h0M806 278.5h0M806 279h0M806 280h0M806 282.5h0M806 287.5h0M806 294.5h0M806 297.5h0M806 299h0M806 302.5h0M806 303h0M806 305.5h0M806 309h0M806 311.5h0M806 314.5h0M806 317h0M806 320h0M806 327.5h0M806 328h0M806 333h0M806 334.5h0M806 340.5h0M806 342h0M806 344.5h0M806 345.5h0M806 349h0M806 351h0M806 353.5h0M806 354h0M806 355h0M806 357.5h0M806 358.5h0M806 360h0M806 362h0M806 362.5h0M806 363.5h0M806 365.5h0M806 367h0M806 369.5h0M806 375h0M806 375.5h0M806 379.5h0M806 380.5h0M806 383.5h0M806 385h0M806 385.5h0M806 387h0M806 387.5h0M806 388.5h0M806 389h0M806 389.5h0M806 390h0M806 392.5h0M806 393h0M806 393.5h0M806 394h0M806 394.5h0M806 396h0M806 396.5h0M806 399h0M806 400h0M806 400.5h0M806.5 184.5h0M806.5 194.5h0M806.5 204.5h0M806.5 217.5h0M806.5 240.5h0M806.5 260h0M806.5 271h0M806.5 279.5h0M806.5 290h0M806.5 292.5h0M806.5 293.5h0M806.5 294h0M806.5 295h0M806.5 302h0M806.5 306.5h0M806.5 311h0M806.5 313h0M806.5 316.5h0M806.5 330h0M806.5 330.5h0M806.5 331.5h0M806.5 336.5h0M806.5 349.5h0M806.5 351h0M806.5 362.5h0M806.5 364.5h0M806.5 369.5h0M806.5 370.5h0M806.5 372h0M806.5 373.5h0M806.5 375h0M806.5 375.5h0M806.5 376h0M806.5 377.5h0M806.5 378.5h0M806.5 380h0M806.5 384h0M806.5 384.5h0M806.5 385.5h0M806.5 387h0M806.5 387.5h0M806.5 388h0M806.5 388.5h0M806.5 390.5h0M806.5 391h0M806.5 391.5h0M806.5 392h0M806.5 393h0M806.5 394.5h0M806.5 395h0M806.5 396h0M806.5 396.5h0M806.5 397.5h0M806.5 398.5h0M806.5 399.5h0M806.5 400h0M806.5 400.5h0M807 190h0M807 223.5h0M807 242h0M807 250h0M807 264h0M807 264.5h0M807 303.5h0M807 310.5h0M807 311.5h0M807 315.5h0M807 318.5h0M807 328.5h0M807 337h0M807 340.5h0M807 341.5h0M807 342.5h0M807 348.5h0M807 349h0M807 349.5h0M807 351.5h0M807 355.5h0M807 358.5h0M807 360.5h0M807 361h0M807 361.5h0M807 362.5h0M807 364h0M807 365.5h0M807 366.5h0M807 367.5h0M807 368.5h0M807 369h0M807 370.5h0M807 371.5h0M807 372.5h0M807 373.5h0M807 374.5h0M807 376.5h0M807 382h0M807 383.5h0M807 384h0M807 385h0M807 385.5h0M807 386h0M807 387h0M807 389.5h0M807 391h0M807 391.5h0M807 392h0M807 393h0M807 394h0M807 396h0M807 396.5h0M807 397h0M807 397.5h0M807 398h0M807 398.5h0M807 399h0M807 399.5h0M807 400h0M807 400.5h0M807 401h0M807.5 155.5h0M807.5 184h0M807.5 185.5h0M807.5 211.5h0M807.5 221.5h0M807.5 241.5h0M807.5 257h0M807.5 263.5h0M807.5 264h0M807.5 264.5h0M807.5 267.5h0M807.5 290.5h0M807.5 292h0M807.5 301.5h0M807.5 306.5h0M807.5 307.5h0M807.5 312.5h0M807.5 325h0M807.5 327.5h0M807.5 331h0M807.5 334h0M807.5 335h0M807.5 338h0M807.5 339h0M807.5 340h0M807.5 341h0M807.5 345.5h0M807.5 347.5h0M807.5 356.5h0M807.5 358h0M807.5 359.5h0M807.5 361h0M807.5 363h0M807.5 365h0M807.5 367.5h0M807.5 369h0M807.5 369.5h0M807.5 370h0M807.5 375.5h0M807.5 378h0M807.5 378.5h0M807.5 380h0M807.5 382h0M807.5 384h0M807.5 386h0M807.5 386.5h0M807.5 388h0M807.5 391h0M807.5 391.5h0M807.5 392.5h0M807.5 393.5h0M807.5 394h0M807.5 394.5h0M807.5 395h0M807.5 395.5h0M807.5 396.5h0M807.5 397h0M807.5 398.5h0M807.5 399h0M808 168h0M808 240.5h0M808 248h0M808 268.5h0M808 270.5h0M808 271.5h0M808 273h0M808 273.5h0M808 277.5h0M808 278h0M808 282h0M808 283h0M808 288.5h0M808 296h0M808 298.5h0M808 300.5h0M808 302.5h0M808 303h0M808 306.5h0M808 318h0M808 320.5h0M808 322h0M808 324h0M808 326h0M808 329h0M808 330h0M808 330.5h0M808 332.5h0M808 338h0M808 339.5h0M808 348h0M808 349.5h0M808 352h0M808 353h0M808 353.5h0M808 354.5h0M808 357h0M808 359h0M808 360.5h0M808 362h0M808 363.5h0M808 364.5h0M808 365.5h0M808 366h0M808 369h0M808 372h0M808 372.5h0M808 373.5h0M808 376h0M808 378h0M808 378.5h0M808 379h0M808 379.5h0M808 381.5h0M808 382.5h0M808 383h0M808 383.5h0M808 384h0M808 384.5h0M808 385h0M808 385.5h0M808 386.5h0M808 387h0M808 387.5h0M808 389h0M808 389.5h0M808 392h0M808 392.5h0M808 393.5h0M808 394h0M808 395h0M808 395.5h0M808 397.5h0M808 398h0M808 398.5h0M808 399h0M808 399.5h0M808.5 140.5h0M808.5 147.5h0M808.5 230.5h0M808.5 249h0M808.5 251h0M808.5 267h0M808.5 275h0M808.5 286.5h0M808.5 288.5h0M808.5 299h0M808.5 301.5h0M808.5 308h0M808.5 311h0M808.5 314.5h0M808.5 317h0M808.5 319.5h0M808.5 323h0M808.5 323.5h0M808.5 338.5h0M808.5 342.5h0M808.5 345h0M808.5 357h0M808.5 357.5h0M808.5 359.5h0M808.5 360h0M808.5 360.5h0M808.5 361.5h0M808.5 365.5h0M808.5 366h0M808.5 368h0M808.5 368.5h0M808.5 369h0M808.5 371h0M808.5 372h0M808.5 374h0M808.5 374.5h0M808.5 378h0M808.5 379h0M808.5 380h0M808.5 381.5h0M808.5 382.5h0M808.5 383.5h0M808.5 384h0M808.5 384.5h0M808.5 385h0M808.5 385.5h0M808.5 386.5h0M808.5 387h0M808.5 387.5h0M808.5 389.5h0M808.5 391h0M808.5 391.5h0M808.5 392h0M808.5 394.5h0M808.5 395h0M808.5 395.5h0M808.5 397h0M808.5 397.5h0M808.5 398h0M808.5 398.5h0M808.5 399h0M808.5 399.5h0M809 206h0M809 240h0M809 245.5h0M809 280.5h0M809 281.5h0M809 283.5h0M809 290h0M809 294h0M809 296.5h0M809 300.5h0M809 302h0M809 313.5h0M809 314h0M809 315.5h0M809 321.5h0M809 328h0M809 331.5h0M809 337.5h0M809 338.5h0M809 339h0M809 343h0M809 344h0M809 345h0M809 348.5h0M809 349.5h0M809 358.5h0M809 359.5h0M809 360h0M809 361h0M809 362.5h0M809 363h0M809 364.5h0M809 366.5h0M809 367.5h0M809 368h0M809 368.5h0M809 370.5h0M809 371h0M809 376h0M809 378h0M809 379h0M809 381h0M809 382h0M809 383.5h0M809 385.5h0M809 388.5h0M809 389h0M809 389.5h0M809 390.5h0M809 391h0M809 391.5h0M809 392h0M809 393h0M809 395h0M809 396.5h0M809 397h0M809 397.5h0M809 398.5h0M809.5 215h0M809.5 219.5h0M809.5 220h0M809.5 232.5h0M809.5 243.5h0M809.5 255.5h0M809.5 263.5h0M809.5 269h0M809.5 272.5h0M809.5 281.5h0M809.5 286h0M809.5 291.5h0M809.5 296.5h0M809.5 303h0M809.5 304h0M809.5 307h0M809.5 308.5h0M809.5 310h0M809.5 311h0M809.5 312.5h0M809.5 316.5h0M809.5 321.5h0M809.5 328h0M809.5 332.5h0M809.5 333h0M809.5 339.5h0M809.5 340h0M809.5 344h0M809.5 346h0M809.5 347.5h0M809.5 350h0M809.5 353.5h0M809.5 356h0M809.5 356.5h0M809.5 359h0M809.5 361.5h0M809.5 362.5h0M809.5 367h0M809.5 370.5h0M809.5 371h0M809.5 372.5h0M809.5 375.5h0M809.5 376h0M809.5 377.5h0M809.5 378.5h0M809.5 379.5h0M809.5 381.5h0M809.5 382.5h0M809.5 383.5h0M809.5 384.5h0M809.5 387.5h0M809.5 389.5h0M809.5 391h0M809.5 391.5h0M809.5 392h0M809.5 392.5h0M809.5 395.5h0M809.5 396h0M809.5 396.5h0M809.5 397.5h0M809.5 399h0M810 187h0M810 212h0M810 237h0M810 239h0M810 240.5h0M810 246h0M810 250.5h0M810 255h0M810 262.5h0M810 265h0M810 276h0M810 282h0M810 288h0M810 289.5h0M810 291.5h0M810 293h0M810 296.5h0M810 297h0M810 297.5h0M810 300.5h0M810 319h0M810 326.5h0M810 329h0M810 330h0M810 335h0M810 341.5h0M810 342.5h0M810 346h0M810 349h0M810 351h0M810 352h0M810 354h0M810 354.5h0M810 355h0M810 357h0M810 358.5h0M810 360.5h0M810 361.5h0M810 364.5h0M810 365h0M810 366.5h0M810 369h0M810 370h0M810 370.5h0M810 373.5h0M810 374.5h0M810 376.5h0M810 377.5h0M810 378h0M810 378.5h0M810 379h0M810 380h0M810 380.5h0M810 381h0M810 383h0M810 386h0M810 386.5h0M810 387h0M810 389h0M810 389.5h0M810 390h0M810 390.5h0M810 391h0M810 394h0M810 394.5h0M810 395h0M810 395.5h0M810 396.5h0M810 397h0M810 397.5h0M810 398h0M810.5 182h0M810.5 210.5h0M810.5 212h0M810.5 216.5h0M810.5 239h0M810.5 240h0M810.5 241h0M810.5 263.5h0M810.5 268h0M810.5 274.5h0M810.5 284.5h0M810.5 285h0M810.5 288.5h0M810.5 293h0M810.5 296.5h0M810.5 300.5h0M810.5 302h0M810.5 306.5h0M810.5 309h0M810.5 315.5h0M810.5 317h0M810.5 325.5h0M810.5 327.5h0M810.5 329.5h0M810.5 335.5h0M810.5 343h0M810.5 346.5h0M810.5 355h0M810.5 356.5h0M810.5 357h0M810.5 360h0M810.5 362.5h0M810.5 364h0M810.5 364.5h0M810.5 367.5h0M810.5 368h0M810.5 368.5h0M810.5 370.5h0M810.5 371.5h0M810.5 372h0M810.5 373.5h0M810.5 374h0M810.5 377h0M810.5 377.5h0M810.5 378.5h0M810.5 379h0M810.5 379.5h0M810.5 382h0M810.5 383h0M810.5 386h0M810.5 387h0M810.5 388h0M810.5 388.5h0M810.5 389.5h0M810.5 390h0M810.5 391h0M810.5 391.5h0M810.5 392h0M810.5 394h0M810.5 394.5h0M810.5 395h0M810.5 395.5h0M810.5 397h0M810.5 397.5h0M810.5 398h0M811 143.5h0M811 145.5h0M811 210h0M811 231.5h0M811 237.5h0M811 251.5h0M811 271h0M811 274h0M811 278.5h0M811 281.5h0M811 287.5h0M811 288h0M811 293.5h0M811 301.5h0M811 305.5h0M811 308.5h0M811 310.5h0M811 314h0M811 315.5h0M811 316h0M811 319h0M811 320h0M811 322.5h0M811 326h0M811 329h0M811 331h0M811 334.5h0M811 336h0M811 341.5h0M811 343h0M811 349.5h0M811 351h0M811 355h0M811 355.5h0M811 356h0M811 356.5h0M811 358h0M811 359h0M811 360h0M811 363.5h0M811 364h0M811 364.5h0M811 367.5h0M811 368.5h0M811 370h0M811 372h0M811 374.5h0M811 376h0M811 377.5h0M811 378.5h0M811 381.5h0M811 382.5h0M811 383h0M811 383.5h0M811 384h0M811 384.5h0M811 388h0M811 390h0M811 390.5h0M811 393.5h0M811 394h0M811 394.5h0M811 396.5h0M811.5 209.5h0M811.5 215.5h0M811.5 226.5h0M811.5 233.5h0M811.5 235h0M811.5 242.5h0M811.5 247h0M811.5 275.5h0M811.5 283h0M811.5 288h0M811.5 293.5h0M811.5 302h0M811.5 306h0M811.5 308h0M811.5 313.5h0M811.5 318.5h0M811.5 319.5h0M811.5 320.5h0M811.5 327.5h0M811.5 336.5h0M811.5 341h0M811.5 344h0M811.5 345h0M811.5 346.5h0M811.5 347h0M811.5 353.5h0M811.5 357.5h0M811.5 361h0M811.5 361.5h0M811.5 364.5h0M811.5 367.5h0M811.5 368h0M811.5 371.5h0M811.5 375h0M811.5 376h0M811.5 378.5h0M811.5 379h0M811.5 380h0M811.5 383.5h0M811.5 385h0M811.5 387h0M811.5 388.5h0M811.5 389h0M811.5 389.5h0M811.5 390.5h0M811.5 391h0M811.5 391.5h0M811.5 392.5h0M811.5 394h0M811.5 394.5h0M811.5 395h0M811.5 396h0M811.5 396.5h0M812 157.5h0M812 216h0M812 246.5h0M812 248h0M812 258.5h0M812 262.5h0M812 263.5h0M812 273.5h0M812 284.5h0M812 289.5h0M812 298h0M812 303.5h0M812 311h0M812 317.5h0M812 318.5h0M812 321h0M812 323h0M812 334.5h0M812 336h0M812 337h0M812 338.5h0M812 339h0M812 340h0M812 341.5h0M812 343h0M812 347h0M812 350.5h0M812 351.5h0M812 355h0M812 359.5h0M812 360.5h0M812 361.5h0M812 364.5h0M812 367h0M812 367.5h0M812 368.5h0M812 369.5h0M812 370.5h0M812 372h0M812 373.5h0M812 374.5h0M812 377h0M812 377.5h0M812 378.5h0M812 379h0M812 380h0M812 384h0M812 385h0M812 385.5h0M812 387.5h0M812 388h0M812 388.5h0M812 389h0M812 390h0M812 390.5h0M812 391h0M812 391.5h0M812 392h0M812 393h0M812 394h0M812 394.5h0M812 395h0M812 396.5h0M812.5 138.5h0M812.5 178.5h0M812.5 189.5h0M812.5 195.5h0M812.5 204.5h0M812.5 230.5h0M812.5 236h0M812.5 236.5h0M812.5 239.5h0M812.5 269h0M812.5 284h0M812.5 286h0M812.5 286.5h0M812.5 287.5h0M812.5 289h0M812.5 293h0M812.5 297.5h0M812.5 303.5h0M812.5 312h0M812.5 314h0M812.5 319.5h0M812.5 320.5h0M812.5 321.5h0M812.5 323h0M812.5 324.5h0M812.5 326.5h0M812.5 330h0M812.5 331.5h0M812.5 341h0M812.5 352h0M812.5 356h0M812.5 357.5h0M812.5 359.5h0M812.5 360.5h0M812.5 361h0M812.5 361.5h0M812.5 362h0M812.5 362.5h0M812.5 367h0M812.5 371h0M812.5 372h0M812.5 372.5h0M812.5 373h0M812.5 374h0M812.5 374.5h0M812.5 377.5h0M812.5 381h0M812.5 384h0M812.5 384.5h0M812.5 385h0M812.5 387h0M812.5 388h0M812.5 390.5h0M812.5 391h0M812.5 391.5h0M812.5 392h0M812.5 393h0M812.5 394.5h0M812.5 395h0M812.5 395.5h0M812.5 396h0M813 191.5h0M813 207.5h0M813 208.5h0M813 212h0M813 234.5h0M813 241.5h0M813 245.5h0M813 257h0M813 267.5h0M813 272h0M813 272.5h0M813 279h0M813 281.5h0M813 284h0M813 300h0M813 305.5h0M813 309h0M813 311h0M813 328h0M813 330h0M813 330.5h0M813 334.5h0M813 335h0M813 335.5h0M813 336.5h0M813 350.5h0M813 352.5h0M813 355h0M813 358h0M813 360.5h0M813 363h0M813 364h0M813 364.5h0M813 365h0M813 369h0M813 369.5h0M813 370h0M813 371h0M813 372.5h0M813 376h0M813 377.5h0M813 378h0M813 378.5h0M813 379.5h0M813 380.5h0M813 381.5h0M813 383h0M813 384h0M813 384.5h0M813 389h0M813 390h0M813 391h0M813 391.5h0M813 393h0M813 393.5h0M813 394h0M813 394.5h0M813.5 166h0M813.5 173h0M813.5 182h0M813.5 186h0M813.5 205.5h0M813.5 228.5h0M813.5 229.5h0M813.5 236h0M813.5 238.5h0M813.5 243.5h0M813.5 245.5h0M813.5 260.5h0M813.5 264h0M813.5 266.5h0M813.5 268h0M813.5 272h0M813.5 277.5h0M813.5 278.5h0M813.5 284.5h0M813.5 292h0M813.5 297h0M813.5 297.5h0M813.5 299.5h0M813.5 306h0M813.5 307.5h0M813.5 310.5h0M813.5 317.5h0M813.5 318.5h0M813.5 325.5h0M813.5 328h0M813.5 330h0M813.5 331h0M813.5 334.5h0M813.5 335.5h0M813.5 336h0M813.5 336.5h0M813.5 337h0M813.5 338.5h0M813.5 340.5h0M813.5 342.5h0M813.5 343.5h0M813.5 348.5h0M813.5 353h0M813.5 353.5h0M813.5 355h0M813.5 356h0M813.5 358.5h0M813.5 361.5h0M813.5 364.5h0M813.5 365h0M813.5 368h0M813.5 368.5h0M813.5 371h0M813.5 375h0M813.5 376.5h0M813.5 380h0M813.5 380.5h0M813.5 381h0M813.5 381.5h0M813.5 382h0M813.5 383h0M813.5 385h0M813.5 386h0M813.5 387h0M813.5 387.5h0M813.5 388h0M813.5 388.5h0M813.5 392h0M813.5 393h0M813.5 393.5h0M813.5 394h0M814 143.5h0M814 169.5h0M814 188h0M814 206h0M814 212h0M814 224h0M814 234h0M814 235.5h0M814 246h0M814 258.5h0M814 263h0M814 271h0M814 285h0M814 286.5h0M814 309h0M814 313h0M814 315h0M814 325.5h0M814 336.5h0M814 339.5h0M814 341h0M814 341.5h0M814 345h0M814 351h0M814 355h0M814 358.5h0M814 362h0M814 362.5h0M814 364h0M814 366h0M814 366.5h0M814 368.5h0M814 369.5h0M814 372.5h0M814 373h0M814 373.5h0M814 377h0M814 378.5h0M814 380h0M814 383h0M814 384.5h0M814 385.5h0M814 386h0M814 387.5h0M814 389h0M814 389.5h0M814 390h0M814 392h0M814 392.5h0M814 393.5h0M814.5 139.5h0M814.5 213.5h0M814.5 236.5h0M814.5 237h0M814.5 238h0M814.5 254.5h0M814.5 256h0M814.5 259h0M814.5 259.5h0M814.5 260h0M814.5 275h0M814.5 278h0M814.5 287h0M814.5 292h0M814.5 296h0M814.5 298.5h0M814.5 299h0M814.5 299.5h0M814.5 300.5h0M814.5 301.5h0M814.5 304h0M814.5 314.5h0M814.5 320h0M814.5 321h0M814.5 327h0M814.5 332h0M814.5 340h0M814.5 343.5h0M814.5 345h0M814.5 349.5h0M814.5 350.5h0M814.5 352.5h0M814.5 356h0M814.5 356.5h0M814.5 358h0M814.5 359.5h0M814.5 360h0M814.5 361h0M814.5 362h0M814.5 364h0M814.5 365.5h0M814.5 367.5h0M814.5 370h0M814.5 370.5h0M814.5 371h0M814.5 371.5h0M814.5 372.5h0M814.5 374h0M814.5 375h0M814.5 376h0M814.5 377.5h0M814.5 378h0M814.5 380.5h0M814.5 381.5h0M814.5 383.5h0M814.5 384h0M814.5 384.5h0M814.5 385.5h0M814.5 386h0M814.5 388h0M814.5 389h0M814.5 389.5h0M814.5 390h0M814.5 393h0M815 193.5h0M815 211h0M815 224.5h0M815 227h0M815 237h0M815 259h0M815 264.5h0M815 268h0M815 275.5h0M815 277h0M815 287h0M815 294h0M815 296.5h0M815 299.5h0M815 305.5h0M815 310.5h0M815 314h0M815 315.5h0M815 317h0M815 317.5h0M815 326.5h0M815 329h0M815 332.5h0M815 338.5h0M815 342h0M815 346h0M815 349h0M815 351.5h0M815 352h0M815 354h0M815 356h0M815 360h0M815 360.5h0M815 363.5h0M815 365.5h0M815 371.5h0M815 373h0M815 374h0M815 374.5h0M815 375h0M815 376h0M815 377.5h0M815 378h0M815 378.5h0M815 380h0M815 381h0M815 381.5h0M815 383.5h0M815 384.5h0M815 385h0M815 387h0M815 387.5h0M815 388h0M815 388.5h0M815 389.5h0M815 390.5h0M815 391.5h0M815 392h0M815 392.5h0M815.5 171h0M815.5 200.5h0M815.5 210.5h0M815.5 226.5h0M815.5 232h0M815.5 235.5h0M815.5 236h0M815.5 236.5h0M815.5 240.5h0M815.5 248.5h0M815.5 253h0M815.5 260.5h0M815.5 264.5h0M815.5 274h0M815.5 285.5h0M815.5 290.5h0M815.5 293h0M815.5 293.5h0M815.5 298.5h0M815.5 310h0M815.5 313h0M815.5 314h0M815.5 320h0M815.5 324h0M815.5 330.5h0M815.5 334h0M815.5 335.5h0M815.5 338h0M815.5 339h0M815.5 340.5h0M815.5 343.5h0M815.5 350h0M815.5 356h0M815.5 356.5h0M815.5 358.5h0M815.5 361h0M815.5 363h0M815.5 363.5h0M815.5 364h0M815.5 364.5h0M815.5 368h0M815.5 368.5h0M815.5 370h0M815.5 371h0M815.5 375h0M815.5 376.5h0M815.5 378.5h0M815.5 379h0M815.5 382h0M815.5 383h0M815.5 384h0M815.5 384.5h0M815.5 387h0M815.5 388h0M815.5 388.5h0M815.5 389h0M815.5 390.5h0M815.5 391h0M815.5 391.5h0M816 160h0M816 181.5h0M816 225h0M816 241h0M816 245.5h0M816 249.5h0M816 252h0M816 260.5h0M816 274h0M816 279.5h0M816 290.5h0M816 295h0M816 295.5h0M816 297h0M816 304.5h0M816 308h0M816 309.5h0M816 312h0M816 325h0M816 326h0M816 328.5h0M816 331h0M816 333.5h0M816 339.5h0M816 345h0M816 346h0M816 350h0M816 350.5h0M816 352h0M816 359.5h0M816 360.5h0M816 362h0M816 362.5h0M816 364h0M816 365.5h0M816 366h0M816 367.5h0M816 368h0M816 368.5h0M816 370h0M816 372.5h0M816 374h0M816 374.5h0M816 385.5h0M816 386h0M816 386.5h0M816 387h0M816 387.5h0M816 389h0M816.5 165h0M816.5 236.5h0M816.5 251.5h0M816.5 255.5h0M816.5 256h0M816.5 257.5h0M816.5 263.5h0M816.5 269h0M816.5 280h0M816.5 284.5h0M816.5 302.5h0M816.5 309h0M816.5 318h0M816.5 318.5h0M816.5 327h0M816.5 327.5h0M816.5 331h0M816.5 335.5h0M816.5 337.5h0M816.5 340h0M816.5 345.5h0M816.5 346h0M816.5 347h0M816.5 352.5h0M816.5 353h0M816.5 356h0M816.5 359h0M816.5 364h0M816.5 366.5h0M816.5 370.5h0M816.5 372.5h0M816.5 376h0M816.5 378h0M816.5 379.5h0M816.5 380h0M816.5 381h0M816.5 382h0M816.5 382.5h0M816.5 385h0M816.5 386.5h0M816.5 387h0M816.5 388.5h0M816.5 389h0M816.5 389.5h0M816.5 391.5h0M817 177h0M817 185h0M817 231h0M817 235.5h0M817 254.5h0M817 258h0M817 265.5h0M817 267h0M817 274.5h0M817 277.5h0M817 278h0M817 279h0M817 280h0M817 289h0M817 295.5h0M817 296h0M817 298.5h0M817 302h0M817 311.5h0M817 316.5h0M817 318h0M817 324h0M817 325.5h0M817 332h0M817 333.5h0M817 336.5h0M817 342h0M817 344h0M817 346h0M817 353h0M817 354.5h0M817 357.5h0M817 359h0M817 359.5h0M817 361h0M817 363.5h0M817 369h0M817 369.5h0M817 371h0M817 374h0M817 375h0M817 377.5h0M817 378.5h0M817 380h0M817 380.5h0M817 382.5h0M817 383h0M817 384h0M817 385.5h0M817 386.5h0M817 388h0M817 388.5h0M817 389h0M817 390h0M817 391h0M817.5 180.5h0M817.5 204.5h0M817.5 215.5h0M817.5 216.5h0M817.5 252.5h0M817.5 258h0M817.5 263h0M817.5 278h0M817.5 281h0M817.5 283h0M817.5 284h0M817.5 284.5h0M817.5 300.5h0M817.5 313.5h0M817.5 314.5h0M817.5 322.5h0M817.5 324.5h0M817.5 326h0M817.5 330h0M817.5 333h0M817.5 334.5h0M817.5 337.5h0M817.5 345.5h0M817.5 350h0M817.5 357.5h0M817.5 360h0M817.5 363.5h0M817.5 366h0M817.5 366.5h0M817.5 368h0M817.5 368.5h0M817.5 371h0M817.5 371.5h0M817.5 373.5h0M817.5 380h0M817.5 381.5h0M817.5 382h0M817.5 383.5h0M817.5 384h0M817.5 385h0M817.5 386h0M817.5 387.5h0M817.5 388h0M817.5 388.5h0M817.5 389.5h0M818 163h0M818 227h0M818 230h0M818 243h0M818 244h0M818 249.5h0M818 257.5h0M818 269.5h0M818 272h0M818 273h0M818 277.5h0M818 280.5h0M818 284.5h0M818 291.5h0M818 296.5h0M818 298h0M818 301h0M818 304.5h0M818 305.5h0M818 306.5h0M818 312h0M818 313.5h0M818 314.5h0M818 316h0M818 321.5h0M818 326.5h0M818 327.5h0M818 332.5h0M818 347.5h0M818 348.5h0M818 349.5h0M818 353h0M818 361.5h0M818 362h0M818 366.5h0M818 368h0M818 371.5h0M818 372h0M818 374h0M818 374.5h0M818 375h0M818 375.5h0M818 378h0M818 378.5h0M818 379.5h0M818 382h0M818 383h0M818 383.5h0M818 385.5h0M818 387h0M818 387.5h0M818 388h0M818 388.5h0M818.5 156h0M818.5 175.5h0M818.5 253h0M818.5 261.5h0M818.5 262.5h0M818.5 283h0M818.5 289.5h0M818.5 291.5h0M818.5 300.5h0M818.5 303.5h0M818.5 304.5h0M818.5 307h0M818.5 311h0M818.5 313h0M818.5 316h0M818.5 316.5h0M818.5 318h0M818.5 319.5h0M818.5 322h0M818.5 327h0M818.5 332h0M818.5 332.5h0M818.5 333.5h0M818.5 336.5h0M818.5 342.5h0M818.5 344.5h0M818.5 347.5h0M818.5 352h0M818.5 358h0M818.5 359.5h0M818.5 360h0M818.5 361h0M818.5 361.5h0M818.5 364.5h0M818.5 365h0M818.5 368h0M818.5 370.5h0M818.5 374h0M818.5 374.5h0M818.5 378h0M818.5 380.5h0M818.5 384h0M819 157h0M819 200.5h0M819 215h0M819 226.5h0M819 246h0M819 248h0M819 258.5h0M819 261.5h0M819 266.5h0M819 269h0M819 271.5h0M819 272h0M819 273h0M819 275.5h0M819 276h0M819 280h0M819 281h0M819 286.5h0M819 292.5h0M819 295h0M819 306h0M819 315.5h0M819 319.5h0M819 320h0M819 321h0M819 327h0M819 327.5h0M819 330.5h0M819 336.5h0M819 337.5h0M819 338.5h0M819 340h0M819 342h0M819 345.5h0M819 346h0M819 348h0M819 352h0M819 352.5h0M819 354h0M819 362h0M819 366h0M819 367h0M819 369h0M819 369.5h0M819 370h0M819 370.5h0M819 371.5h0M819 372h0M819 373.5h0M819 375.5h0M819 376.5h0M819 377h0M819 378h0M819 378.5h0M819 384.5h0M819 385h0M819 386.5h0M819 387h0M819.5 152h0M819.5 174h0M819.5 191.5h0M819.5 244.5h0M819.5 258.5h0M819.5 259h0M819.5 260.5h0M819.5 266h0M819.5 267h0M819.5 270h0M819.5 279.5h0M819.5 288h0M819.5 289.5h0M819.5 291h0M819.5 292.5h0M819.5 300h0M819.5 300.5h0M819.5 307.5h0M819.5 310.5h0M819.5 314h0M819.5 321.5h0M819.5 322h0M819.5 326.5h0M819.5 329.5h0M819.5 330h0M819.5 334.5h0M819.5 337h0M819.5 342h0M819.5 345h0M819.5 346.5h0M819.5 347h0M819.5 349h0M819.5 350.5h0M819.5 351h0M819.5 355h0M819.5 356.5h0M819.5 358h0M819.5 368h0M819.5 368.5h0M819.5 370.5h0M819.5 373h0M819.5 373.5h0M819.5 374h0M819.5 375h0M819.5 376h0M819.5 376.5h0M819.5 378.5h0M819.5 380.5h0M819.5 381.5h0M819.5 382h0M819.5 383.5h0M819.5 385h0M819.5 386.5h0M819.5 387.5h0M820 181h0M820 189h0M820 205.5h0M820 226h0M820 227.5h0M820 234.5h0M820 240h0M820 241.5h0M820 248h0M820 254.5h0M820 258h0M820 268h0M820 272h0M820 279.5h0M820 291.5h0M820 308.5h0M820 312.5h0M820 314.5h0M820 315.5h0M820 318.5h0M820 320h0M820 323.5h0M820 326h0M820 327h0M820 329h0M820 330.5h0M820 331h0M820 345.5h0M820 347.5h0M820 355.5h0M820 356h0M820 357.5h0M820 359h0M820 360h0M820 362h0M820 363h0M820 369.5h0M820 370.5h0M820 371.5h0M820 372.5h0M820 373h0M820 373.5h0M820 376h0M820 377h0M820 377.5h0M820 380h0M820 382h0M820 382.5h0M820 383.5h0M820 384h0M820 384.5h0M820 385.5h0M820 386h0M820.5 204h0M820.5 233h0M820.5 234.5h0M820.5 249h0M820.5 256h0M820.5 271h0M820.5 274.5h0M820.5 280h0M820.5 288h0M820.5 296.5h0M820.5 301.5h0M820.5 302.5h0M820.5 304.5h0M820.5 305.5h0M820.5 306.5h0M820.5 310h0M820.5 322h0M820.5 323h0M820.5 327h0M820.5 338h0M820.5 338.5h0M820.5 341.5h0M820.5 342.5h0M820.5 343h0M820.5 346.5h0M820.5 349h0M820.5 351.5h0M820.5 354h0M820.5 355h0M820.5 357h0M820.5 357.5h0M820.5 359h0M820.5 359.5h0M820.5 360.5h0M820.5 362.5h0M820.5 363h0M820.5 364.5h0M820.5 365.5h0M820.5 370h0M820.5 372h0M820.5 374h0M820.5 374.5h0M820.5 377h0M820.5 378h0M820.5 378.5h0M820.5 379h0M820.5 381h0M820.5 383h0M821 198h0M821 220.5h0M821 249h0M821 252.5h0M821 260.5h0M821 261h0M821 271h0M821 282h0M821 291.5h0M821 295h0M821 295.5h0M821 297.5h0M821 299h0M821 300.5h0M821 302h0M821 312h0M821 318h0M821 320.5h0M821 325h0M821 326h0M821 326.5h0M821 330h0M821 331h0M821 333h0M821 336.5h0M821 337.5h0M821 339h0M821 339.5h0M821 343.5h0M821 348.5h0M821 349h0M821 350h0M821 351.5h0M821 352.5h0M821 353h0M821 353.5h0M821 355.5h0M821 359.5h0M821 360.5h0M821 367.5h0M821 368h0M821 370h0M821 372h0M821 374.5h0M821 375h0M821 378.5h0M821 379.5h0M821 382.5h0M821.5 239.5h0M821.5 240h0M821.5 242.5h0M821.5 243.5h0M821.5 245.5h0M821.5 271h0M821.5 277.5h0M821.5 278.5h0M821.5 280.5h0M821.5 288h0M821.5 294h0M821.5 294.5h0M821.5 295.5h0M821.5 296h0M821.5 307h0M821.5 309.5h0M821.5 312.5h0M821.5 314.5h0M821.5 319.5h0M821.5 320.5h0M821.5 321h0M821.5 338h0M821.5 340h0M821.5 343.5h0M821.5 344h0M821.5 348.5h0M821.5 350h0M821.5 357.5h0M821.5 359h0M821.5 360.5h0M821.5 361h0M821.5 362h0M821.5 363h0M821.5 364.5h0M821.5 365.5h0M821.5 366h0M821.5 367.5h0M821.5 368h0M821.5 370h0M821.5 372.5h0M821.5 378h0M821.5 378.5h0M821.5 379h0M821.5 379.5h0M821.5 382.5h0M821.5 383.5h0M822 238.5h0M822 274h0M822 279.5h0M822 283h0M822 284h0M822 289h0M822 297.5h0M822 300.5h0M822 303.5h0M822 304.5h0M822 312h0M822 316h0M822 318h0M822 320h0M822 321.5h0M822 322.5h0M822 323h0M822 324h0M822 325.5h0M822 326h0M822 329.5h0M822 330.5h0M822 331.5h0M822 332h0M822 332.5h0M822 343.5h0M822 347.5h0M822 351.5h0M822 355.5h0M822 358h0M822 360.5h0M822 361h0M822 364.5h0M822 366h0M822 371.5h0M822 374h0M822 376h0M822 379h0M822 382h0M822 382.5h0M822 383h0M822 383.5h0M822.5 141h0M822.5 149h0M822.5 196h0M822.5 233h0M822.5 247h0M822.5 250h0M822.5 257h0M822.5 268.5h0M822.5 269.5h0M822.5 271h0M822.5 277.5h0M822.5 295.5h0M822.5 303h0M822.5 308.5h0M822.5 313h0M822.5 316h0M822.5 321h0M822.5 322h0M822.5 329.5h0M822.5 332.5h0M822.5 334h0M822.5 338h0M822.5 342.5h0M822.5 344h0M822.5 345h0M822.5 346h0M822.5 348.5h0M822.5 349h0M822.5 353h0M822.5 355.5h0M822.5 356h0M822.5 356.5h0M822.5 357h0M822.5 358.5h0M822.5 359h0M822.5 363.5h0M822.5 364.5h0M822.5 368.5h0M822.5 370.5h0M822.5 373h0M822.5 377h0M822.5 377.5h0M822.5 378.5h0M822.5 380h0M822.5 381h0M822.5 381.5h0M823 193h0M823 215h0M823 230h0M823 237h0M823 248.5h0M823 251.5h0M823 256.5h0M823 259.5h0M823 262h0M823 262.5h0M823 265h0M823 266.5h0M823 267.5h0M823 272h0M823 279h0M823 280.5h0M823 282.5h0M823 285.5h0M823 289.5h0M823 300h0M823 305h0M823 308.5h0M823 310.5h0M823 314h0M823 317h0M823 321h0M823 321.5h0M823 327h0M823 333.5h0M823 336h0M823 337.5h0M823 341h0M823 346.5h0M823 349.5h0M823 352h0M823 357h0M823 358.5h0M823 359.5h0M823 361h0M823 362h0M823 370h0M823 373.5h0M823 374h0M823 375h0M823 376h0M823 377.5h0M823 379h0M823 380h0M823.5 159h0M823.5 189h0M823.5 224.5h0M823.5 229h0M823.5 248.5h0M823.5 260h0M823.5 263h0M823.5 265h0M823.5 281.5h0M823.5 288h0M823.5 293.5h0M823.5 299h0M823.5 302h0M823.5 306.5h0M823.5 308h0M823.5 314h0M823.5 324h0M823.5 326.5h0M823.5 327.5h0M823.5 328h0M823.5 330.5h0M823.5 331.5h0M823.5 333h0M823.5 336.5h0M823.5 337.5h0M823.5 342h0M823.5 345h0M823.5 346.5h0M823.5 347h0M823.5 348h0M823.5 351h0M823.5 353.5h0M823.5 355.5h0M823.5 359.5h0M823.5 362h0M823.5 363h0M823.5 364.5h0M823.5 365.5h0M823.5 367h0M823.5 370h0M823.5 371.5h0M823.5 372h0M823.5 372.5h0M823.5 373.5h0M823.5 375.5h0M823.5 378h0M823.5 379h0M823.5 380h0M824 192.5h0M824 224.5h0M824 235.5h0M824 239.5h0M824 251.5h0M824 261.5h0M824 269h0M824 272h0M824 275h0M824 277.5h0M824 278.5h0M824 279h0M824 282h0M824 293h0M824 295.5h0M824 301h0M824 306h0M824 319h0M824 320h0M824 321.5h0M824 329h0M824 333.5h0M824 334.5h0M824 339.5h0M824 340h0M824 342h0M824 343.5h0M824 347h0M824 348.5h0M824 350h0M824 352h0M824 356h0M824 359.5h0M824 360h0M824 362.5h0M824 363h0M824 363.5h0M824 368h0M824 368.5h0M824 369h0M824 369.5h0M824 370.5h0M824 371h0M824 372h0M824 372.5h0M824 373.5h0M824 374h0M824 377.5h0M824 378h0M824.5 157.5h0M824.5 232.5h0M824.5 240h0M824.5 244h0M824.5 245h0M824.5 249.5h0M824.5 255.5h0M824.5 256.5h0M824.5 257h0M824.5 267.5h0M824.5 268.5h0M824.5 272h0M824.5 277h0M824.5 282h0M824.5 290.5h0M824.5 293h0M824.5 297h0M824.5 300h0M824.5 301.5h0M824.5 307.5h0M824.5 314.5h0M824.5 316.5h0M824.5 317h0M824.5 318h0M824.5 321.5h0M824.5 322.5h0M824.5 324.5h0M824.5 325.5h0M824.5 327.5h0M824.5 329h0M824.5 330h0M824.5 332h0M824.5 333h0M824.5 337h0M824.5 339h0M824.5 343.5h0M824.5 345h0M824.5 347.5h0M824.5 349.5h0M824.5 352h0M824.5 355h0M824.5 355.5h0M824.5 357h0M824.5 361.5h0M824.5 363h0M824.5 364h0M824.5 365h0M824.5 368h0M824.5 369.5h0M824.5 370h0M824.5 372.5h0M824.5 376h0M824.5 376.5h0M825 143h0M825 166h0M825 187.5h0M825 212.5h0M825 233h0M825 243.5h0M825 250h0M825 255h0M825 258h0M825 262h0M825 263.5h0M825 274h0M825 281h0M825 281.5h0M825 283h0M825 287h0M825 299.5h0M825 300.5h0M825 301h0M825 302h0M825 309.5h0M825 312.5h0M825 318.5h0M825 321.5h0M825 323h0M825 323.5h0M825 324.5h0M825 328h0M825 329h0M825 329.5h0M825 332.5h0M825 333h0M825 336h0M825 337h0M825 343h0M825 347.5h0M825 349h0M825 351h0M825 352.5h0M825 354h0M825 357h0M825 357.5h0M825 359.5h0M825 360h0M825 363h0M825 365.5h0M825 368.5h0M825 369.5h0M825 370h0M825 371h0M825 371.5h0M825 372h0M825 372.5h0M825 373.5h0M825 375.5h0M825 376h0M825 377h0M825.5 147.5h0M825.5 207h0M825.5 230h0M825.5 230.5h0M825.5 248h0M825.5 250h0M825.5 261h0M825.5 267h0M825.5 272.5h0M825.5 293h0M825.5 295.5h0M825.5 300h0M825.5 318.5h0M825.5 322.5h0M825.5 333h0M825.5 336.5h0M825.5 337h0M825.5 338.5h0M825.5 342.5h0M825.5 344.5h0M825.5 346h0M825.5 347h0M825.5 347.5h0M825.5 351h0M825.5 352h0M825.5 354h0M825.5 356.5h0M825.5 357h0M825.5 361h0M825.5 362.5h0M825.5 364h0M825.5 366.5h0M825.5 367.5h0M825.5 368.5h0M825.5 370.5h0M825.5 371.5h0M825.5 374.5h0M826 156.5h0M826 180.5h0M826 182.5h0M826 209.5h0M826 217.5h0M826 223.5h0M826 241h0M826 245.5h0M826 252.5h0M826 264h0M826 264.5h0M826 270h0M826 270.5h0M826 278.5h0M826 284h0M826 286h0M826 290h0M826 297h0M826 299h0M826 299.5h0M826 308h0M826 309h0M826 314.5h0M826 329h0M826 330h0M826 332.5h0M826 333h0M826 340h0M826 340.5h0M826 341h0M826 341.5h0M826 342.5h0M826 343h0M826 344h0M826 345h0M826 349.5h0M826 352.5h0M826 354h0M826 358h0M826 359.5h0M826 360h0M826 362.5h0M826 363h0M826 370.5h0M826 372.5h0M826.5 145.5h0M826.5 171h0M826.5 184h0M826.5 195h0M826.5 226h0M826.5 226.5h0M826.5 229h0M826.5 235h0M826.5 242.5h0M826.5 248h0M826.5 255h0M826.5 265.5h0M826.5 296h0M826.5 304h0M826.5 305h0M826.5 312h0M826.5 316.5h0M826.5 327.5h0M826.5 329.5h0M826.5 330h0M826.5 332h0M826.5 334h0M826.5 335.5h0M826.5 338h0M826.5 344.5h0M826.5 347.5h0M826.5 350h0M826.5 356.5h0M826.5 357.5h0M826.5 358h0M826.5 359h0M826.5 367.5h0M826.5 368.5h0M826.5 370.5h0M826.5 372h0M826.5 372.5h0M826.5 373.5h0M827 186h0M827 194h0M827 235.5h0M827 237h0M827 238h0M827 239h0M827 246.5h0M827 250.5h0M827 267.5h0M827 271h0M827 282h0M827 290h0M827 295.5h0M827 313h0M827 318h0M827 318.5h0M827 320h0M827 323.5h0M827 325h0M827 325.5h0M827 328h0M827 333h0M827 335h0M827 339.5h0M827 340.5h0M827 342h0M827 343h0M827 345h0M827 345.5h0M827 346h0M827 349h0M827 351.5h0M827 352h0M827 353h0M827 354.5h0M827 358h0M827 358.5h0M827 360h0M827 360.5h0M827 363h0M827 364.5h0M827 368.5h0M827 369h0M827.5 155.5h0M827.5 160.5h0M827.5 164h0M827.5 235h0M827.5 260.5h0M827.5 296h0M827.5 296.5h0M827.5 304.5h0M827.5 306.5h0M827.5 308h0M827.5 310h0M827.5 311h0M827.5 315.5h0M827.5 316.5h0M827.5 319h0M827.5 320h0M827.5 324.5h0M827.5 326h0M827.5 329.5h0M827.5 330h0M827.5 333.5h0M827.5 336.5h0M827.5 338h0M827.5 343.5h0M827.5 347.5h0M827.5 348h0M827.5 350h0M827.5 351h0M827.5 355h0M827.5 356.5h0M827.5 363h0M827.5 366.5h0M827.5 368h0M827.5 369.5h0M828 184.5h0M828 228h0M828 237h0M828 240.5h0M828 245.5h0M828 251.5h0M828 255.5h0M828 266.5h0M828 296h0M828 299h0M828 300.5h0M828 304.5h0M828 305.5h0M828 310.5h0M828 312h0M828 324.5h0M828 325.5h0M828 328h0M828 328.5h0M828 330h0M828 342h0M828 344.5h0M828 345h0M828 346h0M828 346.5h0M828 350h0M828 352.5h0M828 353h0M828 354.5h0M828 355.5h0M828 358.5h0M828 359.5h0M828 362h0M828 364h0M828 365.5h0M828.5 151.5h0M828.5 165h0M828.5 196h0M828.5 232.5h0M828.5 240h0M828.5 241.5h0M828.5 254.5h0M828.5 255h0M828.5 259.5h0M828.5 263h0M828.5 267.5h0M828.5 268h0M828.5 268.5h0M828.5 273h0M828.5 273.5h0M828.5 274.5h0M828.5 276.5h0M828.5 295h0M828.5 300.5h0M828.5 305.5h0M828.5 311h0M828.5 315h0M828.5 316h0M828.5 319h0M828.5 323h0M828.5 328h0M828.5 328.5h0M828.5 329h0M828.5 337h0M828.5 338h0M828.5 339.5h0M828.5 340h0M828.5 351.5h0M828.5 355h0M828.5 357h0M828.5 359.5h0M828.5 360h0M828.5 361h0M828.5 361.5h0M828.5 362h0M828.5 364.5h0M829 231h0M829 240.5h0M829 257h0M829 257.5h0M829 258h0M829 264.5h0M829 280.5h0M829 283.5h0M829 285.5h0M829 286.5h0M829 287h0M829 287.5h0M829 288.5h0M829 291.5h0M829 294.5h0M829 295.5h0M829 299h0M829 301h0M829 309h0M829 313h0M829 317.5h0M829 319h0M829 324h0M829 325h0M829 328h0M829 330h0M829 330.5h0M829 332h0M829 338h0M829 340h0M829 347h0M829 349h0M829 355h0M829 356.5h0M829 358h0M829 358.5h0M829 359.5h0M829 360.5h0M829.5 185h0M829.5 285h0M829.5 314h0M829.5 332.5h0M829.5 340h0M829.5 344h0M829.5 347.5h0M829.5 349h0M829.5 350h0M829.5 354h0M829.5 354.5h0M829.5 355h0M829.5 357.5h0M829.5 358.5h0M829.5 359.5h0M830 354.5h0M831 347.5h0M832 369h0M832 404.5h0M834.5 363.5h0M835.5 393.5h0M839.5 366.5h0M845 352.5h0M845 377h0M847.5 358h0M850 374.5h0M852.5 354.5h0M855 361h0M860.5 350h0M896.5 349h0" stroke="#cccccc" stroke-width="4.3" stroke-linecap="round" fill="none"/>
<path transform="scale(1.180 1)" d="M829.5 158h0M829.5 168.5h0M829.5 257.5h0M829.5 270h0M829.5 279.5h0M830 220.5h0M830 245.5h0M830 256h0M830 272h0M830 275h0M830 282.5h0M830 287.5h0M830 290.5h0M830 292h0M830 299.5h0M830 307.5h0M830.5 164.5h0M830.5 201.5h0M830.5 210h0M830.5 262.5h0M830.5 268.5h0M830.5 271h0M830.5 278h0M830.5 280h0M830.5 296.5h0M830.5 330h0M831 158h0M831 228h0M831 260h0M831 279.5h0M831 281h0M831 282.5h0M831 298h0M831 304.5h0M831 311h0M831 315h0M831.5 98h0M831.5 183h0M831.5 201h0M831.5 258h0M831.5 274.5h0M831.5 286.5h0M831.5 291.5h0M831.5 304.5h0M831.5 307h0M832 188h0M832 219h0M832 232.5h0M832 250.5h0M832 262.5h0M832 264h0M832 266h0M832 287h0M832 292h0M832 294h0M832 303.5h0M832 309h0M832 314h0M832 321.5h0M832 326h0M832 327h0M832.5 222.5h0M832.5 264.5h0M832.5 269.5h0M832.5 270h0M832.5 281.5h0M832.5 294h0M832.5 301.5h0M832.5 302.5h0M832.5 316.5h0M833 193h0M833 251.5h0M833 319h0M833.5 174h0M833.5 239h0M833.5 246h0M833.5 251.5h0M833.5 252h0M833.5 262h0M833.5 274.5h0M833.5 284h0M833.5 307.5h0M833.5 310h0M833.5 312h0M833.5 322h0M834 159.5h0M834 231.5h0M834 235.5h0M834 268.5h0M834 271.5h0M834 308h0M834 315.5h0M834 317.5h0M834 326h0M834.5 228h0M834.5 246.5h0M834.5 273.5h0M834.5 275h0M834.5 286.5h0M834.5 296h0M834.5 300h0M834.5 303h0M834.5 303.5h0M834.5 305h0M834.5 306.5h0M834.5 312.5h0M834.5 327h0M835 125.5h0M835 149h0M835 262h0M835 316.5h0M835.5 216h0M835.5 233h0M835.5 237h0M835.5 256h0M835.5 281.5h0M836 151h0M836 187h0M836 195.5h0M836 212.5h0M836 215h0M836 217h0M836 217.5h0M836 248.5h0M836 271.5h0M836 279h0M836 291h0M836 304h0M836.5 201h0M836.5 206h0M836.5 256.5h0M836.5 270h0M836.5 272h0M836.5 289.5h0M836.5 293.5h0M837 253h0M837 269h0M837 286.5h0M837 293.5h0M837 303.5h0M837 319h0M837 324.5h0M837 332.5h0M837.5 232h0M837.5 235.5h0M837.5 237.5h0M837.5 253h0M837.5 256h0M837.5 263h0M837.5 294h0M837.5 295h0M838 242h0M838 248h0M838 263.5h0M838 272h0M838 301.5h0M838.5 272.5h0M838.5 290.5h0M838.5 316.5h0M839 207.5h0M839 216h0M839 218h0M839 223h0M839 275h0M839 323.5h0M839.5 143.5h0M839.5 256h0M839.5 259h0M839.5 269.5h0M839.5 285h0M839.5 286h0M839.5 290h0M839.5 294.5h0M839.5 306.5h0M839.5 316.5h0M840 182.5h0M840 220.5h0M840 223.5h0M840 280h0M840 312.5h0M840 330h0M840.5 164h0M840.5 275.5h0M840.5 278h0M840.5 294h0M840.5 314.5h0M840.5 326h0M840.5 328h0M841 106.5h0M841 185.5h0M841 222.5h0M841 235h0M841 241h0M841 270.5h0M841 277h0M841 292h0M841 296.5h0M841 316.5h0M841.5 250h0M842 172.5h0M842 239h0M842 239.5h0M842 241h0M842 246h0M842 249.5h0M842.5 221h0M842.5 229.5h0M842.5 255h0M842.5 267h0M842.5 291h0M843 241h0M843 252h0M843 255h0M843 307.5h0M843.5 177.5h0M843.5 291h0M843.5 327.5h0M844 195.5h0M844 204.5h0M844 279.5h0M844 286h0M844 296h0M844.5 242.5h0M844.5 254h0M844.5 255h0M844.5 257h0M844.5 295.5h0M844.5 299.5h0M845 248h0M845 257h0M845 287.5h0M845 310.5h0M845 313.5h0M845.5 262.5h0M845.5 265h0M845.5 296h0M845.5 309.5h0M845.5 320.5h0M845.5 321.5h0M846 280.5h0M846 301h0M846 314h0M846.5 228h0M846.5 245h0M846.5 273.5h0M846.5 295h0M846.5 301.5h0M846.5 307.5h0M846.5 320h0M847 159.5h0M847 215h0M847 296h0M847 299.5h0M847 300h0M847 323h0M847.5 192h0M847.5 225.5h0M847.5 261.5h0M848 180h0M848 180.5h0M848 232h0M848 250.5h0M848 252h0M848 272.5h0M848 311.5h0M848 323h0M848.5 122.5h0M848.5 147.5h0M848.5 202.5h0M848.5 296.5h0M848.5 309h0M848.5 319.5h0M849 178h0M849 193.5h0M849 241h0M849 311h0M849.5 175.5h0M849.5 197.5h0M849.5 260h0M850 249h0M850 272.5h0M850 274h0M850 301.5h0M850 309h0M850.5 239.5h0M850.5 242h0M850.5 252h0M851 233h0M851.5 176h0M851.5 220h0M851.5 246h0M851.5 259h0M851.5 272h0M852 261h0M852 269.5h0M852 287h0M852 315.5h0M852.5 232h0M852.5 291.5h0M853 179.5h0M853 196.5h0M853 226.5h0M853.5 251.5h0M853.5 319.5h0M854 232h0M854 255h0M854 264.5h0M854.5 256.5h0M854.5 294h0M854.5 301.5h0M854.5 316h0M854.5 318h0M855.5 134.5h0M855.5 204h0M855.5 280.5h0M855.5 292h0M856 174.5h0M856 251h0M856 320.5h0M856.5 269.5h0M856.5 303.5h0M857 197.5h0M857 258.5h0M857 323h0M857.5 205.5h0M857.5 276h0M857.5 278.5h0M858 177h0M858 242h0M858 275h0M858 301h0M858.5 294h0M858.5 301.5h0M859 270h0M859 294h0M859.5 278.5h0M860 239h0M860 306h0M860.5 253h0M860.5 286h0M862 204.5h0M862 226h0M862 230.5h0M862 304.5h0M862.5 234.5h0M863 222h0M863 229h0M863 283h0M863 295h0M863 300h0M863.5 148.5h0M863.5 199.5h0M863.5 246.5h0M863.5 297h0M864 254.5h0M864 302.5h0M864 304.5h0M864.5 253.5h0M864.5 299h0M864.5 312h0M864.5 313h0M865.5 197h0M865.5 240.5h0M865.5 264.5h0M866 293.5h0M866.5 168.5h0M867 292h0M867.5 204h0M867.5 262.5h0M868 307h0M869.5 214.5h0M869.5 259h0M869.5 286.5h0M869.5 310.5h0M870 307.5h0M871 215h0M871 286.5h0M871 300.5h0M871.5 271.5h0M872 297.5h0M872.5 240h0M873 237h0M873 268h0M873 277.5h0M874 253.5h0M874 261.5h0M875 247h0M875 274h0M875 297.5h0M875.5 236h0M877 247h0M877 250.5h0M878 101.5h0M878 134h0M878.5 306.5h0M879 250.5h0M879.5 270.5h0M880.5 290h0M882 270.5h0M882 306h0M882.5 232.5h0M882.5 296.5h0M884 293.5h0M884.5 214.5h0M885 286h0M885 298.5h0M885.5 255h0M885.5 257.5h0M885.5 293.5h0M886.5 287h0M886.5 297h0M887 221h0M887 269.5h0M888 215.5h0M888 257.5h0M891.5 287.5h0M892 254.5h0M893 270.5h0M894 296.5h0M896 232.5h0M896 257h0M896 275h0M896.5 205h0M897.5 195h0M898 222h0M899 250h0M900 243.5h0M900 295h0M900.5 238.5h0M902 268h0M905 244h0M905.5 211h0M905.5 220h0M905.5 291.5h0M907 178h0M907.5 245h0M908.5 287.5h0M911.5 199h0M913.5 250.5h0M918.5 276h0M919 200.5h0M920 183h0M922 166.5h0M928.5 239h0M931.5 197.5h0M931.5 225h0M938 219.5h0M939.5 253h0M941.5 234.5h0M942 136.5h0M942.5 172h0M943 253h0M943.5 264.5h0M945 227h0M954.5 269h0M961 125.5h0M963 175.5h0M964.5 198h0M973.5 173h0M983.5 170.5h0M994.5 205.5h0M995.5 216h0M995.5 240h0" stroke="#ff1a1a" stroke-width="4.3" stroke-linecap="round" fill="none"/>
<path transform="scale(1.180 1)" d="M616.5 272.5h0M639.5 278h0M651.5 239.5h0M674.5 280.5h0M677 244h0M679.5 287.5h0M681.5 225h0M682.5 240h0M685 267h0M685 290.5h0M687.5 223h0M691 222h0M694 223h0M698 268.5h0M700.5 225h0M706.5 237.5h0M710.5 238.5h0M715 217.5h0M716 283h0M717.5 200.5h0M720 263h0M720 310h0M720.5 249.5h0M721 196h0M721 207h0M721 238.5h0M721 287.5h0M721.5 274h0M721.5 295.5h0M722 223.5h0M722 244h0M722 281h0M722.5 264h0M723 275.5h0M723 290h0M723.5 159.5h0M723.5 214h0M723.5 227.5h0M723.5 257.5h0M723.5 299.5h0M724 283h0M724.5 260h0M724.5 302.5h0M724.5 306.5h0M725 230h0" stroke="#0000ff" stroke-width="4.3" stroke-linecap="round" fill="none"/>
<rect x="703.3" y="54.5" width="505.3" height="377.4" fill="none" stroke="#3a3a3a" stroke-width="1.3"/>
<path d="M856.9 54.5L856.9 431.9" stroke="#222" stroke-width="1.6" stroke-dasharray="3.1 3.0"/>
<path d="M978.7 54.5L978.7 431.9" stroke="#222" stroke-width="1.6" stroke-dasharray="3.1 3.0"/>
<path d="M703.3 347.2L1208.6 347.2" stroke="#333" stroke-width="1.6" stroke-dasharray="3.9 3.2"/>
<g transform="translate(40.3 575.5) scale(42.5500 0.99942)" fill="none" stroke-width="1.02">
<path stroke="#2c1aff" d="M7 125.5h1M7 128.5h1"/>
<path stroke="#4333ff" d="M11 22.5h1M9 24.5h1M11 27.5h1M11 30.5h1M6 55.5h1M6 62.5h1M7 126.5h1M7 127.5h1M7 129.5h1"/>
<path stroke="#4f40ff" d="M11 24.5h1M9 25.5h1M9 30.5h1M6 59.5h1M6 61.5h1M6 63.5h1M9 122.5h1M2 175.5h1M5 223.5h1M7 391.5h1"/>
<path stroke="#5a4cff" d="M9 0.5h1M9 4.5h1M11 20.5h1M9 26.5h1M11 29.5h1M9 32.5h1M9 34.5h1M6 57.5h1M7 61.5h1M7 63.5h1M7 65.5h1M8 125.5h1M7 132.5h1M2 182.5h1M8 317.5h1M8 320.5h1M3 381.5h1M8 391.5h1M8 392.5h1"/>
<path stroke="#6659ff" d="M9 16.5h1M11 23.5h1M11 25.5h1M11 26.5h1M9 28.5h1M9 31.5h1M11 31.5h1M7 45.5h1M6 53.5h1M6 54.5h1M6 56.5h2M6 58.5h1M7 59.5h1M6 60.5h1M7 66.5h1M8 75.5h1M8 78.5h1M8 79.5h1M7 92.5h1M9 96.5h1M7 97.5h1M9 116.5h1M9 117.5h1M9 118.5h1M7 130.5h2M7 131.5h1M7 134.5h1M8 148.5h1M8 152.5h1M2 179.5h1M5 182.5h1M7 307.5h1M7 310.5h1M8 325.5h1M5 333.5h1M5 335.5h1M5 336.5h1M5 338.5h1M5 340.5h1M2 371.5h1M7 387.5h1M7 392.5h1M2 396.5h1M8 398.5h1"/>
<path stroke="#7266ff" d="M10 1.5h1M10 2.5h1M9 3.5h2M10 4.5h1M10 6.5h1M11 10.5h1M10 15.5h1M10 16.5h1M11 28.5h1M9 29.5h1M11 32.5h1M11 34.5h1M11 35.5h1M7 37.5h1M7 39.5h1M7 40.5h1M7 41.5h1M9 54.5h1M7 55.5h1M7 60.5h1M6 64.5h1M6 69.5h1M8 71.5h1M8 74.5h1M7 93.5h1M9 98.5h1M10 104.5h1M7 116.5h1M9 120.5h1M7 122.5h1M8 126.5h1M8 127.5h1M7 133.5h1M8 142.5h1M8 145.5h1M8 151.5h1M7 155.5h2M5 220.5h1M5 260.5h1M1 271.5h1M1 322.5h1M8 323.5h1M5 331.5h1M5 339.5h1M5 351.5h1M3 378.5h1M3 379.5h1M2 393.5h1M8 393.5h1M7 398.5h1M8 402.5h1M5 421.5h1M5 446.5h1M0 458.5h1M2 461.5h1M0 479.5h1"/>
<path stroke="#7e73ff" d="M10 0.5h1M9 1.5h1M7 2.5h1M9 5.5h1M9 6.5h1M9 8.5h1M11 12.5h1M10 13.5h1M9 17.5h2M9 27.5h1M9 33.5h1M11 33.5h1M7 35.5h1M11 37.5h1M11 39.5h1M6 40.5h1M7 43.5h1M9 47.5h1M11 48.5h1M7 49.5h1M7 50.5h1M7 51.5h1M9 51.5h1M7 52.5h1M7 53.5h1M7 57.5h1M7 62.5h1M11 62.5h1M8 63.5h1M8 69.5h1M8 70.5h1M8 73.5h1M8 76.5h2M6 79.5h2M6 81.5h1M8 81.5h1M8 82.5h1M7 91.5h1M9 91.5h2M7 110.5h1M7 113.5h1M6 121.5h1M8 131.5h1M8 132.5h1M6 134.5h1M7 140.5h1M8 154.5h1M4 175.5h1M5 178.5h1M2 181.5h1M2 183.5h1M5 184.5h1M1 204.5h1M5 221.5h1M2 224.5h1M2 235.5h1M4 237.5h1M8 252.5h1M2 266.5h1M1 299.5h1M7 308.5h1M7 309.5h1M8 313.5h1M8 318.5h1M8 321.5h1M8 322.5h1M5 334.5h1M0 337.5h1M5 337.5h1M5 347.5h1M8 348.5h1M8 352.5h1M5 353.5h1M3 369.5h1M2 372.5h2M3 377.5h1M4 382.5h1M7 390.5h2M7 393.5h1M2 394.5h1M7 396.5h1M8 400.5h1M4 422.5h1M5 426.5h1M0 456.5h1M2 462.5h1M4 489.5h1"/>
<path stroke="#8a80ff" d="M9 2.5h1M7 4.5h1M11 5.5h1M11 6.5h1M11 7.5h1M9 9.5h1M9 12.5h2M9 20.5h1M11 21.5h1M9 22.5h2M10 24.5h1M10 25.5h1M10 27.5h1M10 30.5h1M10 32.5h1M11 36.5h1M9 42.5h1M9 43.5h1M7 44.5h1M9 46.5h1M7 47.5h1M10 47.5h1M6 48.5h1M9 48.5h1M6 52.5h1M10 56.5h1M7 58.5h1M10 58.5h1M7 64.5h1M8 72.5h1M6 73.5h1M6 76.5h1M11 76.5h1M9 78.5h1M7 86.5h1M10 89.5h1M9 97.5h1M7 99.5h1M9 99.5h1M7 100.5h1M10 100.5h1M7 117.5h1M9 119.5h1M9 121.5h1M7 124.5h1M8 128.5h1M8 129.5h1M8 144.5h1M6 145.5h1M8 147.5h1M8 149.5h1M7 153.5h2M2 157.5h1M5 162.5h1M4 166.5h1M2 173.5h1M4 174.5h1M5 175.5h1M4 176.5h2M2 177.5h1M5 177.5h1M2 178.5h1M5 180.5h1M1 181.5h1M5 183.5h1M2 186.5h1M1 197.5h1M8 199.5h1M1 209.5h1M5 219.5h1M2 228.5h1M2 230.5h1M4 238.5h1M4 239.5h1M5 247.5h1M5 262.5h1M5 269.5h1M0 274.5h1M4 276.5h1M0 286.5h1M0 290.5h1M3 304.5h1M8 319.5h1M7 320.5h1M1 321.5h1M8 326.5h1M4 327.5h1M8 327.5h1M4 328.5h1M7 328.5h1M5 332.5h1M7 333.5h1M7 335.5h1M8 356.5h1M5 359.5h1M2 370.5h1M2 373.5h2M3 374.5h1M5 374.5h1M1 375.5h1M0 379.5h1M5 385.5h1M8 387.5h1M7 388.5h1M7 389.5h1M2 395.5h1M8 399.5h1M7 400.5h1M2 403.5h1M8 403.5h1M8 406.5h1M5 428.5h1M5 429.5h1M4 434.5h1M5 439.5h1M0 451.5h1M5 452.5h1M5 467.5h1M5 479.5h1M2 480.5h1M4 490.5h1M2 492.5h1"/>
<path stroke="#958cff" d="M11 0.5h1M11 1.5h1M10 7.5h1M10 8.5h2M11 9.5h1M9 10.5h1M9 13.5h1M7 14.5h1M9 14.5h1M7 15.5h1M11 15.5h1M11 16.5h1M9 18.5h1M9 19.5h2M10 20.5h1M6 24.5h1M10 34.5h1M7 38.5h1M9 40.5h1M11 40.5h1M7 42.5h1M9 44.5h1M11 47.5h1M7 48.5h1M9 49.5h1M9 50.5h1M11 51.5h1M8 52.5h1M9 53.5h1M11 54.5h1M9 56.5h1M10 57.5h1M8 61.5h1M8 65.5h1M6 66.5h1M8 66.5h2M6 67.5h2M6 70.5h2M9 70.5h1M7 73.5h1M6 75.5h1M7 78.5h1M6 80.5h1M6 82.5h1M6 83.5h1M8 84.5h1M10 86.5h1M9 88.5h1M7 89.5h1M9 89.5h1M7 90.5h1M9 93.5h1M9 94.5h1M7 95.5h1M7 96.5h1M10 98.5h1M10 99.5h1M10 101.5h1M7 107.5h1M10 114.5h1M9 115.5h1M7 120.5h1M7 121.5h1M6 122.5h1M8 133.5h1M8 134.5h1M8 143.5h1M7 144.5h1M7 146.5h2M7 148.5h1M8 150.5h1M7 152.5h1M2 156.5h1M0 157.5h1M4 158.5h1M0 162.5h1M2 162.5h1M7 162.5h1M4 167.5h1M4 169.5h1M2 170.5h1M4 170.5h2M4 171.5h1M2 174.5h1M5 174.5h1M4 177.5h1M1 179.5h1M2 180.5h1M2 184.5h1M5 185.5h1M2 189.5h1M2 197.5h1M1 201.5h1M8 203.5h1M2 204.5h1M5 222.5h1M1 224.5h1M1 226.5h1M2 229.5h1M4 232.5h1M4 234.5h1M2 236.5h1M1 247.5h1M8 250.5h1M8 251.5h1M2 252.5h1M3 260.5h1M5 264.5h1M1 266.5h1M1 267.5h1M1 268.5h2M5 268.5h1M2 273.5h1M3 276.5h1M2 281.5h1M0 284.5h1M2 286.5h1M0 287.5h1M2 308.5h1M8 311.5h1M8 312.5h1M7 313.5h1M4 315.5h1M7 316.5h2M7 317.5h1M7 318.5h1M7 319.5h1M7 322.5h1M8 328.5h1M0 341.5h1M5 346.5h1M8 347.5h1M8 353.5h1M8 354.5h1M3 371.5h1M5 373.5h1M3 375.5h1M3 380.5h1M5 382.5h1M8 388.5h1M8 389.5h1M1 396.5h1M2 404.5h1M8 405.5h1M2 406.5h1M2 407.5h1M4 418.5h1M5 419.5h1M2 420.5h1M2 421.5h1M5 423.5h1M5 436.5h1M0 437.5h1M4 440.5h2M2 441.5h1M4 441.5h1M0 443.5h1M4 443.5h1M4 452.5h1M5 456.5h1M4 458.5h1M0 460.5h1M0 463.5h1M5 465.5h1M0 466.5h1M5 466.5h1M5 468.5h1M0 470.5h1M2 479.5h1M5 482.5h1M0 483.5h1M5 487.5h1M2 488.5h1M1 495.5h1M1 496.5h1M9 501.5h1M4 503.5h1M4 505.5h1M9 507.5h1M1 509.5h1M9 509.5h1"/>
<path stroke="#a199ff" d="M7 3.5h1M11 3.5h1M11 4.5h1M10 5.5h1M9 7.5h1M10 9.5h1M9 11.5h2M7 13.5h1M9 15.5h1M10 18.5h1M10 21.5h1M9 23.5h2M7 31.5h1M10 31.5h1M8 35.5h1M9 36.5h1M6 41.5h1M8 41.5h2M6 43.5h1M11 43.5h1M6 44.5h1M10 44.5h2M11 45.5h1M11 46.5h1M6 47.5h1M8 47.5h1M10 48.5h1M6 51.5h1M8 53.5h1M10 53.5h2M8 57.5h1M8 58.5h1M10 59.5h1M9 61.5h1M8 62.5h1M8 64.5h1M10 67.5h1M6 68.5h1M7 69.5h1M9 69.5h1M7 71.5h1M11 71.5h1M11 74.5h1M7 75.5h1M7 77.5h3M9 79.5h1M7 83.5h2M10 85.5h1M10 87.5h1M7 94.5h1M7 98.5h1M11 100.5h1M9 101.5h1M11 101.5h1M10 103.5h1M7 104.5h1M10 105.5h1M10 113.5h1M6 114.5h2M9 114.5h1M10 115.5h1M7 118.5h1M7 119.5h1M10 120.5h1M8 122.5h1M7 123.5h1M10 123.5h1M6 137.5h2M6 138.5h2M7 141.5h2M6 142.5h1M7 145.5h1M7 147.5h1M7 150.5h1M2 155.5h1M4 156.5h2M1 157.5h1M5 160.5h1M4 162.5h1M4 163.5h1M5 165.5h1M0 166.5h2M5 167.5h1M4 168.5h1M8 168.5h1M5 169.5h1M7 169.5h1M5 171.5h1M4 172.5h1M5 173.5h1M1 176.5h2M1 178.5h1M5 179.5h1M4 180.5h1M5 181.5h1M4 188.5h1M2 191.5h1M2 194.5h1M1 196.5h1M8 198.5h1M8 202.5h1M8 204.5h1M1 207.5h2M1 208.5h2M2 214.5h1M4 216.5h1M7 218.5h1M1 220.5h1M1 223.5h1M5 224.5h1M2 227.5h1M5 229.5h1M2 231.5h1M5 232.5h1M4 235.5h1M1 239.5h1M5 239.5h1M4 240.5h1M4 245.5h1M8 247.5h1M4 248.5h1M8 248.5h1M0 250.5h1M8 253.5h1M2 254.5h1M4 254.5h1M2 255.5h2M5 258.5h1M2 260.5h1M8 260.5h1M3 264.5h1M1 265.5h1M2 267.5h1M4 268.5h1M2 270.5h1M5 270.5h1M2 271.5h1M1 272.5h1M1 274.5h1M3 275.5h1M2 277.5h1M3 278.5h1M3 282.5h1M5 286.5h1M2 287.5h1M2 293.5h1M5 293.5h1M4 295.5h1M1 297.5h1M1 300.5h1M3 305.5h1M2 306.5h1M6 307.5h1M6 309.5h1M8 309.5h1M8 310.5h1M8 314.5h1M7 315.5h1M7 321.5h1M7 323.5h1M4 324.5h1M7 324.5h1M1 326.5h1M7 327.5h1M1 329.5h1M7 332.5h2M7 334.5h1M3 336.5h1M2 337.5h1M8 339.5h1M5 343.5h1M1 345.5h1M5 348.5h1M7 348.5h1M7 349.5h2M5 350.5h1M8 350.5h1M3 351.5h1M2 353.5h1M5 354.5h1M5 355.5h1M8 355.5h1M5 356.5h1M8 360.5h1M3 362.5h1M5 363.5h1M5 364.5h1M5 366.5h1M5 367.5h1M3 370.5h1M1 373.5h1M1 377.5h1M5 379.5h1M0 382.5h2M6 389.5h1M6 392.5h1M8 395.5h1M8 396.5h1M1 397.5h1M8 397.5h1M5 401.5h1M8 401.5h1M7 403.5h1M8 407.5h1M0 408.5h1M5 408.5h1M2 409.5h1M0 410.5h1M4 417.5h1M0 419.5h1M1 422.5h1M5 425.5h1M4 428.5h1M4 429.5h1M5 432.5h1M0 438.5h1M4 438.5h1M3 439.5h2M0 440.5h1M5 442.5h1M5 443.5h1M0 444.5h1M1 446.5h2M4 447.5h2M4 449.5h2M1 451.5h2M4 451.5h1M2 452.5h1M0 455.5h2M5 457.5h1M2 460.5h1M0 461.5h1M0 462.5h1M3 462.5h1M2 464.5h1M2 465.5h1M0 467.5h1M5 471.5h1M1 473.5h1M5 473.5h1M5 474.5h1M0 477.5h1M0 480.5h1M0 481.5h1M5 481.5h1M3 482.5h1M2 483.5h1M0 484.5h1M0 485.5h1M2 489.5h1M1 497.5h2M1 498.5h1M9 503.5h2M9 504.5h1M0 506.5h2M9 506.5h1M9 508.5h1M2 509.5h1M9 510.5h1M2 513.5h1M11 516.5h1"/>
<path stroke="#ada6ff" d="M7 0.5h1M7 1.5h1M11 2.5h1M7 6.5h1M7 7.5h1M7 8.5h1M10 10.5h1M7 11.5h1M11 11.5h1M7 12.5h1M11 13.5h1M11 17.5h1M11 18.5h1M11 19.5h1M9 21.5h1M8 24.5h1M10 26.5h1M7 29.5h1M10 29.5h1M10 33.5h1M6 35.5h1M7 36.5h1M6 37.5h1M9 37.5h1M9 38.5h1M9 39.5h1M8 40.5h1M6 42.5h1M10 42.5h1M10 43.5h1M9 45.5h2M7 46.5h1M10 46.5h1M10 49.5h2M8 50.5h1M8 51.5h1M10 51.5h1M9 52.5h1M7 54.5h2M10 54.5h1M9 55.5h1M8 59.5h1M11 61.5h1M11 64.5h1M11 65.5h1M11 67.5h1M8 68.5h1M11 68.5h1M11 69.5h1M11 70.5h1M6 71.5h1M7 72.5h1M11 72.5h1M7 74.5h1M9 74.5h1M9 75.5h1M11 75.5h1M11 78.5h1M8 80.5h1M11 80.5h1M7 81.5h1M9 81.5h1M6 84.5h1M6 86.5h1M9 87.5h1M7 88.5h1M10 88.5h1M9 92.5h1M8 98.5h1M9 100.5h1M10 102.5h1M11 104.5h1M10 106.5h1M10 107.5h1M10 109.5h1M8 111.5h1M7 112.5h1M8 113.5h1M8 114.5h1M6 116.5h1M10 117.5h1M10 118.5h1M10 119.5h1M10 121.5h1M6 133.5h1M7 136.5h1M8 137.5h1M6 139.5h3M8 140.5h1M6 144.5h1M7 149.5h1M7 151.5h1M2 154.5h1M7 156.5h1M4 157.5h1M5 159.5h1M1 160.5h1M5 161.5h1M1 162.5h1M7 166.5h1M5 168.5h1M1 170.5h1M0 172.5h1M2 172.5h1M4 173.5h1M0 175.5h2M4 178.5h1M4 179.5h1M0 180.5h1M4 183.5h1M1 184.5h1M4 186.5h1M2 187.5h1M1 188.5h2M5 189.5h1M5 190.5h1M2 192.5h1M5 192.5h1M8 193.5h1M1 194.5h1M8 195.5h1M1 199.5h2M1 200.5h1M2 201.5h1M4 204.5h1M1 205.5h1M7 208.5h1M1 211.5h2M8 211.5h1M3 213.5h1M5 213.5h1M8 213.5h1M0 216.5h1M1 222.5h1M2 226.5h1M2 232.5h1M7 232.5h1M2 233.5h1M4 233.5h2M1 234.5h1M5 234.5h1M5 236.5h1M5 237.5h1M1 238.5h2M1 241.5h1M1 242.5h2M5 242.5h1M8 244.5h1M1 248.5h1M1 250.5h1M4 251.5h2M1 252.5h1M5 254.5h1M8 254.5h1M5 255.5h1M2 256.5h2M5 256.5h1M3 258.5h1M3 259.5h1M5 259.5h1M1 260.5h1M3 261.5h1M5 261.5h1M2 269.5h1M1 270.5h1M5 271.5h1M2 272.5h1M5 272.5h1M1 273.5h1M2 274.5h1M0 277.5h2M1 278.5h2M5 278.5h1M2 280.5h1M0 281.5h1M1 282.5h1M5 282.5h1M0 285.5h1M3 286.5h1M4 288.5h1M4 289.5h1M4 290.5h1M4 293.5h1M2 295.5h1M8 295.5h1M2 296.5h3M8 296.5h1M2 297.5h1M8 298.5h1M2 299.5h1M5 299.5h1M8 300.5h1M2 301.5h1M8 301.5h1M0 302.5h1M1 307.5h1M8 308.5h1M2 313.5h1M7 314.5h1M4 316.5h1M4 318.5h1M4 320.5h1M4 322.5h1M1 323.5h1M1 324.5h1M8 324.5h1M1 325.5h1M1 327.5h1M8 329.5h1M5 330.5h1M7 330.5h1M7 331.5h1M4 333.5h1M8 333.5h1M2 335.5h1M2 338.5h1M2 339.5h1M0 340.5h1M5 341.5h1M8 341.5h1M5 345.5h1M8 346.5h1M3 349.5h1M5 349.5h1M2 350.5h2M1 352.5h1M5 352.5h1M7 353.5h1M2 355.5h1M3 356.5h1M5 358.5h1M8 358.5h1M3 359.5h1M5 360.5h1M8 361.5h1M5 362.5h1M5 365.5h1M3 368.5h1M1 370.5h1M1 372.5h1M2 377.5h1M5 377.5h1M0 378.5h2M5 378.5h1M1 379.5h1M0 380.5h2M3 382.5h1M1 385.5h1M0 386.5h2M6 387.5h1M9 391.5h1M1 393.5h1M1 394.5h1M7 394.5h1M7 395.5h1M2 397.5h1M2 398.5h1M1 399.5h1M7 399.5h1M7 401.5h1M7 402.5h1M2 405.5h1M2 408.5h1M4 410.5h1M2 411.5h1M2 413.5h1M2 414.5h1M2 415.5h1M0 416.5h1M2 416.5h1M3 417.5h1M5 418.5h1M2 419.5h1M4 421.5h1M3 424.5h2M4 426.5h1M4 427.5h1M5 430.5h1M0 432.5h1M0 433.5h1M4 433.5h1M0 435.5h1M4 435.5h1M2 436.5h1M1 437.5h1M2 438.5h2M5 438.5h1M2 439.5h1M0 441.5h1M5 441.5h1M0 442.5h2M1 444.5h1M1 445.5h1M5 445.5h1M5 451.5h1M1 452.5h1M5 453.5h1M3 455.5h2M4 457.5h1M3 458.5h1M5 458.5h1M1 459.5h1M5 460.5h1M1 461.5h1M4 461.5h2M0 464.5h1M3 467.5h2M2 470.5h1M5 470.5h1M2 471.5h1M0 472.5h1M3 472.5h1M5 472.5h1M0 474.5h1M1 475.5h1M2 476.5h2M5 476.5h1M2 478.5h1M5 478.5h1M3 480.5h3M2 481.5h1M0 482.5h1M5 484.5h1M2 487.5h2M3 489.5h1M2 490.5h1M2 491.5h1M2 495.5h1M0 496.5h1M0 498.5h1M10 501.5h1M1 503.5h2M2 504.5h1M2 506.5h1M1 508.5h1M1 511.5h1M9 513.5h1M10 516.5h1"/>
<path stroke="#b8b2ff" d="M7 5.5h1M10 14.5h2M6 23.5h1M6 25.5h1M6 27.5h1M7 28.5h1M6 33.5h1M9 35.5h1M8 37.5h1M11 41.5h1M8 42.5h1M6 45.5h1M6 49.5h1M6 50.5h1M8 55.5h1M8 56.5h1M11 57.5h1M9 58.5h1M11 58.5h1M8 60.5h1M10 60.5h1M10 61.5h1M10 63.5h1M10 65.5h1M11 66.5h1M8 67.5h2M7 68.5h1M10 70.5h1M9 71.5h1M6 72.5h1M9 72.5h1M10 73.5h1M6 74.5h1M11 77.5h1M6 78.5h1M9 80.5h1M8 85.5h1M8 86.5h1M10 90.5h1M8 91.5h1M10 93.5h1M9 95.5h1M10 97.5h2M11 102.5h1M7 103.5h1M11 105.5h1M6 106.5h1M8 107.5h2M7 108.5h1M10 108.5h1M7 109.5h1M6 112.5h1M6 113.5h1M7 115.5h1M8 116.5h1M10 122.5h1M6 123.5h1M8 123.5h1M8 136.5h1M8 138.5h1M6 140.5h1M7 142.5h1M1 152.5h1M3 152.5h1M5 152.5h1M7 154.5h1M1 156.5h1M1 158.5h1M7 158.5h1M0 159.5h1M0 160.5h1M4 160.5h1M7 160.5h1M0 161.5h2M1 163.5h1M7 164.5h1M0 165.5h1M4 165.5h1M8 166.5h1M0 167.5h1M7 168.5h1M2 171.5h1M5 172.5h1M1 177.5h1M6 177.5h1M0 179.5h1M1 180.5h1M1 185.5h2M4 187.5h1M1 189.5h1M4 189.5h1M2 190.5h1M4 190.5h1M8 192.5h1M8 194.5h1M1 195.5h1M5 197.5h1M8 197.5h1M2 202.5h1M4 202.5h1M1 206.5h2M5 209.5h1M2 210.5h1M5 210.5h1M4 211.5h1M7 211.5h1M2 212.5h1M2 213.5h1M4 213.5h1M7 213.5h1M5 214.5h1M2 223.5h1M2 225.5h1M5 225.5h1M5 226.5h1M5 227.5h1M0 228.5h1M5 230.5h1M5 231.5h1M1 232.5h1M2 234.5h1M1 235.5h1M4 236.5h1M8 238.5h1M0 241.5h1M2 241.5h1M5 241.5h1M4 242.5h1M4 243.5h1M7 244.5h1M2 247.5h1M4 247.5h1M4 249.5h2M4 253.5h2M2 257.5h1M5 257.5h1M0 258.5h1M4 260.5h1M1 261.5h2M5 263.5h1M1 264.5h1M0 266.5h1M3 268.5h1M4 269.5h1M4 270.5h1M3 271.5h1M3 273.5h1M3 274.5h1M0 275.5h2M4 275.5h1M7 275.5h1M3 277.5h1M1 279.5h2M1 281.5h1M3 281.5h1M0 283.5h1M3 283.5h1M2 284.5h1M4 286.5h1M3 287.5h2M5 289.5h1M5 290.5h1M0 291.5h1M2 291.5h1M2 292.5h1M4 292.5h1M3 293.5h1M3 294.5h3M3 295.5h1M5 297.5h1M1 298.5h1M0 299.5h1M3 299.5h1M8 299.5h1M2 302.5h1M4 304.5h1M3 306.5h1M6 306.5h2M6 310.5h1M7 312.5h1M8 315.5h1M2 318.5h1M2 320.5h1M0 323.5h1M4 323.5h1M7 325.5h1M4 326.5h1M7 326.5h1M1 328.5h2M0 330.5h2M8 330.5h1M8 334.5h1M4 335.5h1M6 336.5h1M8 338.5h1M0 339.5h1M8 340.5h1M2 341.5h1M0 342.5h1M5 342.5h1M8 342.5h1M1 343.5h1M8 343.5h1M5 344.5h1M3 345.5h1M8 345.5h1M4 346.5h1M1 347.5h1M3 347.5h1M1 349.5h1M2 352.5h1M1 353.5h1M3 353.5h1M2 354.5h2M5 357.5h1M2 358.5h1M5 361.5h1M8 363.5h1M0 364.5h2M7 364.5h2M7 365.5h2M3 367.5h1M1 368.5h1M4 368.5h1M2 369.5h1M7 371.5h1M5 372.5h1M4 373.5h1M6 373.5h1M5 375.5h1M0 376.5h1M2 376.5h2M5 376.5h1M0 381.5h3M4 381.5h1M2 382.5h1M4 383.5h1M1 384.5h1M4 384.5h1M2 385.5h3M7 385.5h1M5 386.5h1M9 387.5h1M6 388.5h1M6 390.5h1M6 391.5h1M8 394.5h1M2 402.5h1M7 406.5h1M1 409.5h1M2 410.5h1M2 412.5h1M5 413.5h1M0 414.5h1M3 414.5h3M0 415.5h1M5 416.5h1M5 417.5h1M4 419.5h1M1 420.5h1M4 420.5h1M2 422.5h1M5 422.5h1M1 423.5h1M4 423.5h1M2 424.5h1M5 424.5h1M4 425.5h1M1 426.5h1M5 427.5h1M0 431.5h1M2 431.5h1M4 432.5h1M5 434.5h1M0 436.5h1M4 436.5h1M3 437.5h1M0 439.5h2M4 442.5h1M1 443.5h3M2 444.5h1M1 447.5h1M3 447.5h1M1 448.5h1M5 448.5h1M2 449.5h1M4 450.5h2M3 454.5h1M2 455.5h1M5 455.5h1M2 456.5h1M1 457.5h2M1 458.5h2M0 459.5h1M5 459.5h1M3 460.5h1M1 462.5h1M1 463.5h4M1 466.5h1M0 468.5h1M4 468.5h1M1 469.5h1M0 471.5h1M1 472.5h2M2 473.5h1M2 474.5h1M4 474.5h1M0 475.5h1M2 475.5h1M5 475.5h1M0 476.5h2M4 476.5h1M1 477.5h2M0 478.5h2M4 479.5h1M2 482.5h1M4 482.5h1M4 484.5h1M2 485.5h1M0 486.5h1M0 492.5h1M2 494.5h1M2 498.5h1M10 499.5h1M10 500.5h1M0 501.5h1M2 501.5h1M5 501.5h1M11 501.5h1M4 504.5h1M9 505.5h1M4 506.5h1M9 511.5h1M9 515.5h1"/>
<path stroke="#c4bfff" d="M6 1.5h1M7 16.5h1M7 22.5h1M8 23.5h1M7 25.5h1M7 27.5h1M6 28.5h1M6 32.5h1M11 38.5h1M10 39.5h1M8 43.5h1M8 44.5h1M8 45.5h1M8 48.5h1M8 49.5h1M10 50.5h2M10 52.5h2M10 55.5h2M9 59.5h1M11 60.5h1M9 62.5h2M11 63.5h1M9 64.5h2M6 65.5h1M10 66.5h1M10 68.5h1M10 71.5h1M10 72.5h1M7 76.5h1M11 82.5h1M7 84.5h1M11 88.5h1M8 90.5h2M10 92.5h1M8 93.5h1M10 96.5h1M11 99.5h1M8 100.5h1M7 102.5h1M9 105.5h1M7 106.5h1M6 108.5h1M6 110.5h1M10 111.5h1M8 112.5h1M10 112.5h1M10 116.5h1M6 117.5h1M8 117.5h1M8 119.5h1M8 121.5h1M8 124.5h3M8 135.5h1M6 136.5h1M5 140.5h1M1 141.5h1M6 143.5h1M1 151.5h1M1 154.5h1M7 157.5h1M5 158.5h1M1 159.5h2M4 159.5h1M7 159.5h1M2 160.5h1M2 161.5h1M7 161.5h1M1 164.5h1M4 164.5h1M1 165.5h2M0 168.5h3M8 169.5h1M0 170.5h1M1 172.5h1M0 173.5h2M0 181.5h1M4 181.5h1M1 182.5h1M3 182.5h1M0 184.5h1M4 184.5h1M0 186.5h2M8 191.5h1M1 192.5h1M5 193.5h1M5 195.5h1M0 196.5h1M8 196.5h1M5 199.5h1M2 200.5h1M4 200.5h1M4 201.5h1M1 203.5h1M4 203.5h1M0 204.5h1M4 206.5h1M8 207.5h1M7 209.5h2M7 212.5h1M8 216.5h1M3 217.5h1M2 218.5h1M1 219.5h1M2 220.5h1M8 222.5h1M4 223.5h1M4 224.5h1M4 227.5h1M6 227.5h1M1 228.5h1M7 228.5h1M0 230.5h1M4 230.5h1M1 233.5h1M8 234.5h1M5 235.5h1M8 235.5h1M8 237.5h1M5 238.5h1M0 239.5h1M8 239.5h1M5 240.5h1M8 240.5h1M4 241.5h1M8 241.5h1M0 242.5h1M1 243.5h2M5 243.5h1M4 244.5h1M0 247.5h1M8 249.5h1M2 250.5h1M4 252.5h1M2 253.5h1M1 254.5h1M0 256.5h1M8 256.5h1M3 257.5h1M7 257.5h2M7 260.5h1M4 261.5h1M1 263.5h2M4 263.5h1M7 264.5h2M2 265.5h1M3 266.5h1M0 267.5h1M3 267.5h1M8 268.5h1M1 269.5h1M3 269.5h1M7 269.5h1M0 270.5h1M8 270.5h1M7 271.5h1M0 272.5h1M4 272.5h1M7 273.5h1M8 274.5h1M5 277.5h1M7 278.5h1M0 279.5h1M3 280.5h1M7 280.5h1M4 282.5h1M1 284.5h1M3 285.5h1M5 287.5h1M3 288.5h1M5 288.5h1M5 292.5h1M0 294.5h1M5 295.5h1M5 296.5h1M0 297.5h1M3 300.5h3M3 303.5h1M2 305.5h1M4 305.5h1M8 305.5h1M8 307.5h1M6 308.5h1M6 312.5h1M5 313.5h1M1 316.5h2M3 317.5h2M5 318.5h1M0 320.5h2M0 321.5h1M2 322.5h1M2 324.5h1M5 324.5h1M2 325.5h1M4 325.5h1M2 326.5h1M5 329.5h1M7 329.5h1M8 331.5h1M2 332.5h1M0 338.5h1M7 339.5h1M3 341.5h1M2 342.5h1M2 343.5h1M1 344.5h1M3 344.5h1M8 344.5h1M2 345.5h1M6 345.5h1M7 346.5h1M4 347.5h1M1 348.5h1M6 348.5h1M1 350.5h1M7 350.5h1M4 351.5h1M8 351.5h1M3 352.5h1M6 353.5h1M7 354.5h1M6 356.5h2M8 357.5h1M8 359.5h1M3 360.5h1M3 361.5h1M2 362.5h1M2 363.5h1M2 365.5h2M4 367.5h1M2 368.5h1M6 368.5h1M5 369.5h1M5 370.5h1M7 370.5h1M1 371.5h1M0 372.5h1M1 374.5h1M4 374.5h1M7 377.5h1M2 379.5h1M2 380.5h1M5 380.5h1M0 384.5h1M5 384.5h1M0 385.5h1M2 386.5h1M8 386.5h1M9 389.5h1M5 393.5h1M5 396.5h1M5 397.5h1M2 399.5h1M7 405.5h1M4 409.5h1M5 411.5h1M0 412.5h1M0 413.5h1M4 413.5h1M4 416.5h1M2 417.5h1M3 419.5h1M5 420.5h1M0 422.5h1M0 423.5h1M0 424.5h2M3 425.5h1M0 428.5h1M0 429.5h1M4 430.5h1M4 431.5h1M2 433.5h2M5 433.5h1M0 434.5h1M3 434.5h1M3 435.5h1M5 435.5h1M1 438.5h1M1 440.5h3M1 441.5h1M3 442.5h1M2 445.5h1M3 446.5h2M4 448.5h1M1 449.5h1M0 452.5h1M1 453.5h1M0 454.5h1M4 454.5h2M1 456.5h1M0 457.5h1M3 457.5h1M1 464.5h1M3 464.5h3M1 465.5h1M2 466.5h1M1 467.5h1M1 468.5h1M3 468.5h1M0 469.5h1M2 469.5h2M5 469.5h1M1 470.5h1M1 471.5h1M3 474.5h1M3 475.5h1M3 477.5h3M1 480.5h1M3 481.5h1M5 489.5h1M5 490.5h1M4 491.5h2M2 493.5h1M11 493.5h1M4 494.5h1M0 495.5h1M2 496.5h1M10 497.5h1M10 498.5h2M4 499.5h1M9 499.5h1M11 500.5h1M5 502.5h1M0 503.5h1M10 504.5h1M2 505.5h1M5 505.5h1M11 505.5h1M5 506.5h1M10 506.5h2M0 508.5h1M2 508.5h1M11 508.5h1M4 509.5h1M5 511.5h1M2 512.5h1M9 512.5h1M2 514.5h1M9 516.5h1M11 517.5h1"/>
<path stroke="#d0ccff" d="M6 2.5h1M7 9.5h1M7 17.5h1M7 19.5h1M8 25.5h1M10 28.5h1M7 32.5h1M6 34.5h1M10 37.5h1M8 38.5h1M6 39.5h1M11 42.5h1M11 56.5h1M11 59.5h1M9 60.5h1M9 63.5h1M9 68.5h1M11 73.5h1M10 76.5h1M6 77.5h1M11 79.5h1M7 80.5h1M11 84.5h1M7 85.5h1M9 86.5h1M7 87.5h1M8 89.5h1M11 91.5h1M10 95.5h1M11 96.5h1M6 97.5h1M7 101.5h1M6 103.5h1M9 104.5h1M6 107.5h1M11 107.5h1M9 109.5h1M11 110.5h1M7 111.5h1M9 112.5h1M6 115.5h1M11 116.5h1M11 118.5h1M11 119.5h1M8 120.5h1M11 120.5h1M10 126.5h1M10 132.5h1M1 135.5h1M6 135.5h2M1 138.5h1M1 139.5h1M1 140.5h1M3 140.5h1M6 141.5h1M1 142.5h1M0 145.5h1M5 149.5h1M4 152.5h1M1 155.5h1M4 155.5h1M5 157.5h1M0 163.5h1M2 163.5h1M5 163.5h1M7 163.5h1M2 164.5h1M5 166.5h1M1 167.5h2M3 168.5h1M0 174.5h1M0 176.5h1M7 177.5h1M6 178.5h1M6 179.5h1M6 180.5h2M7 181.5h1M3 183.5h1M3 184.5h1M6 184.5h1M0 185.5h1M4 185.5h1M6 185.5h1M1 187.5h1M7 188.5h1M0 189.5h1M1 190.5h1M8 190.5h1M1 191.5h1M3 192.5h1M0 193.5h1M2 193.5h1M0 194.5h1M2 196.5h1M1 198.5h2M4 199.5h1M8 200.5h1M8 201.5h1M1 202.5h1M2 203.5h1M2 205.5h1M5 206.5h1M8 206.5h1M5 207.5h1M5 208.5h1M8 208.5h1M2 209.5h3M4 210.5h1M5 212.5h1M1 213.5h1M4 215.5h2M7 215.5h1M1 216.5h1M0 217.5h1M2 217.5h1M5 217.5h1M5 218.5h1M2 219.5h1M0 220.5h1M2 221.5h1M6 221.5h1M2 222.5h2M6 223.5h2M6 224.5h1M7 226.5h1M0 227.5h2M7 227.5h1M5 228.5h2M1 229.5h1M8 230.5h1M7 233.5h2M0 234.5h1M7 234.5h1M7 235.5h1M0 238.5h1M7 240.5h1M0 243.5h1M1 244.5h1M5 245.5h1M8 245.5h1M4 246.5h2M2 248.5h1M2 249.5h1M7 250.5h1M1 251.5h2M7 251.5h1M0 252.5h1M1 253.5h1M7 253.5h1M1 255.5h1M2 258.5h1M7 258.5h2M0 260.5h1M0 261.5h1M1 262.5h1M3 262.5h1M3 263.5h1M8 263.5h1M0 264.5h1M2 264.5h1M5 266.5h1M0 268.5h1M0 271.5h1M5 273.5h1M2 276.5h1M5 276.5h1M7 276.5h1M3 279.5h1M5 279.5h1M1 280.5h1M5 280.5h1M0 282.5h1M2 282.5h1M2 283.5h1M3 284.5h1M2 285.5h1M4 285.5h1M7 287.5h1M8 289.5h1M1 290.5h3M4 291.5h1M0 293.5h1M2 294.5h1M3 297.5h1M5 298.5h1M0 300.5h1M2 300.5h1M3 301.5h1M5 302.5h1M4 303.5h1M8 303.5h1M0 305.5h1M6 305.5h2M0 306.5h1M8 306.5h1M4 308.5h2M7 311.5h1M2 312.5h1M6 313.5h1M1 314.5h1M6 314.5h1M6 315.5h1M6 316.5h1M2 317.5h1M5 317.5h1M0 319.5h1M2 319.5h1M4 319.5h1M5 320.5h1M2 321.5h1M0 322.5h1M5 322.5h1M2 323.5h1M2 327.5h1M5 327.5h1M0 328.5h1M0 329.5h1M4 329.5h1M2 330.5h1M0 332.5h2M0 333.5h1M2 333.5h1M0 334.5h3M4 334.5h1M0 336.5h1M7 337.5h2M3 338.5h1M3 343.5h1M2 344.5h1M1 346.5h1M3 346.5h1M2 347.5h1M4 348.5h1M1 351.5h1M7 351.5h1M7 352.5h1M6 354.5h1M7 355.5h1M7 357.5h1M3 358.5h1M2 359.5h1M0 360.5h1M7 361.5h1M6 362.5h1M8 362.5h1M0 363.5h1M7 363.5h1M2 364.5h1M6 364.5h1M0 365.5h1M0 366.5h1M3 366.5h1M8 366.5h1M0 369.5h2M4 369.5h1M7 369.5h1M6 370.5h1M6 372.5h1M8 372.5h1M7 373.5h2M0 374.5h1M1 376.5h1M7 376.5h1M2 378.5h1M4 379.5h1M5 381.5h1M6 382.5h1M7 383.5h1M4 386.5h1M7 386.5h1M9 388.5h1M2 390.5h1M2 392.5h1M5 395.5h1M0 396.5h1M1 398.5h1M2 400.5h1M2 401.5h1M0 403.5h1M5 403.5h1M8 404.5h1M5 407.5h1M3 409.5h1M1 410.5h1M3 410.5h1M0 411.5h2M4 411.5h1M1 412.5h1M3 412.5h1M0 417.5h1M3 418.5h1M1 419.5h1M0 420.5h1M3 421.5h1M3 422.5h1M3 423.5h1M0 425.5h1M0 426.5h1M8 427.5h1M2 428.5h1M2 430.5h1M5 431.5h1M8 431.5h1M2 435.5h1M1 436.5h1M3 436.5h1M2 437.5h1M3 441.5h1M2 442.5h1M5 444.5h1M0 445.5h1M4 445.5h1M2 447.5h1M2 448.5h2M3 449.5h1M2 450.5h1M7 451.5h1M0 453.5h1M3 456.5h1M2 459.5h1M4 459.5h1M1 460.5h1M4 462.5h1M0 465.5h1M4 465.5h1M4 466.5h1M2 467.5h1M2 468.5h1M3 470.5h1M0 473.5h1M4 473.5h1M1 474.5h1M4 475.5h1M3 478.5h1M3 479.5h1M3 484.5h1M5 485.5h1M8 485.5h1M1 486.5h3M5 486.5h1M0 487.5h1M5 488.5h1M8 492.5h1M9 493.5h1M1 494.5h1M4 496.5h1M10 496.5h1M0 497.5h1M4 497.5h1M11 499.5h1M0 500.5h1M9 500.5h1M2 502.5h1M9 502.5h1M1 504.5h1M5 504.5h1M11 504.5h1M0 505.5h2M10 505.5h1M0 507.5h3M4 507.5h1M4 508.5h1M5 510.5h1M2 511.5h1M4 513.5h1M11 513.5h1M5 514.5h1M9 514.5h1M2 515.5h1M5 515.5h1M11 515.5h1"/>
<path stroke="#dcd9ff" d="M8 4.5h1M8 8.5h1M7 10.5h1M3 15.5h1M8 15.5h1M7 21.5h1M7 23.5h1M6 26.5h1M7 30.5h1M6 31.5h1M7 33.5h1M6 36.5h1M8 36.5h1M10 36.5h1M6 38.5h1M10 40.5h1M10 41.5h1M6 46.5h1M9 57.5h1M10 69.5h1M9 73.5h1M11 81.5h1M7 82.5h1M11 83.5h1M6 85.5h1M9 85.5h1M8 87.5h1M11 87.5h1M6 88.5h1M6 92.5h1M8 95.5h1M8 96.5h1M11 98.5h1M8 99.5h1M8 101.5h1M11 103.5h1M7 105.5h2M9 106.5h1M11 106.5h1M8 108.5h1M6 111.5h1M9 113.5h1M8 115.5h1M11 117.5h1M8 118.5h1M6 119.5h1M6 120.5h1M11 122.5h1M6 129.5h1M6 130.5h1M9 130.5h1M10 131.5h1M1 136.5h1M1 137.5h1M0 142.5h1M1 143.5h1M7 143.5h1M1 145.5h1M1 146.5h1M1 147.5h1M3 147.5h1M5 147.5h1M1 149.5h1M5 150.5h1M5 151.5h1M2 152.5h1M5 153.5h1M5 154.5h1M0 156.5h1M0 158.5h1M2 158.5h1M8 158.5h1M8 160.5h1M4 161.5h1M5 164.5h1M7 165.5h1M2 166.5h2M7 167.5h1M0 169.5h1M0 171.5h2M3 173.5h1M6 173.5h1M6 175.5h1M3 176.5h1M6 176.5h2M3 177.5h1M7 178.5h1M3 181.5h1M6 181.5h1M8 181.5h1M0 182.5h1M8 184.5h1M8 185.5h1M5 187.5h1M8 187.5h1M0 188.5h1M5 188.5h1M8 188.5h1M0 190.5h1M7 190.5h1M0 191.5h1M5 191.5h1M1 193.5h1M3 193.5h1M7 193.5h1M4 194.5h1M2 195.5h1M4 196.5h1M0 197.5h1M0 199.5h1M0 200.5h1M5 200.5h1M5 202.5h1M5 203.5h1M5 204.5h1M4 207.5h1M1 210.5h1M3 211.5h1M5 211.5h1M1 212.5h1M8 212.5h1M0 213.5h1M0 214.5h1M3 214.5h1M7 214.5h1M0 215.5h2M8 215.5h1M2 216.5h1M4 217.5h1M1 218.5h1M3 219.5h1M3 220.5h1M3 221.5h1M0 222.5h1M7 222.5h1M0 223.5h1M8 223.5h1M7 224.5h2M1 225.5h1M7 225.5h1M0 226.5h1M3 227.5h1M8 227.5h1M6 229.5h1M8 229.5h1M4 231.5h1M8 231.5h1M0 233.5h1M1 236.5h1M8 236.5h1M1 237.5h2M2 239.5h1M2 240.5h1M7 242.5h2M8 243.5h1M5 244.5h1M3 247.5h1M1 249.5h1M3 249.5h1M0 251.5h1M3 253.5h1M8 255.5h1M4 257.5h1M4 258.5h1M2 259.5h1M4 259.5h1M8 259.5h1M8 261.5h1M2 262.5h1M4 264.5h1M3 265.5h1M7 265.5h1M8 267.5h1M0 269.5h1M3 270.5h1M4 271.5h1M8 271.5h1M3 272.5h1M7 272.5h2M0 273.5h1M4 274.5h2M2 275.5h1M5 275.5h1M8 275.5h1M1 276.5h1M0 278.5h1M4 280.5h1M8 280.5h1M4 281.5h1M7 281.5h2M8 282.5h1M1 283.5h1M5 284.5h1M5 285.5h1M7 285.5h1M1 287.5h1M0 288.5h1M2 288.5h1M0 289.5h1M2 289.5h1M8 291.5h1M0 292.5h1M3 292.5h1M7 296.5h1M4 297.5h1M8 297.5h1M2 298.5h1M6 299.5h1M0 301.5h2M4 301.5h1M6 301.5h1M1 302.5h1M4 302.5h1M2 304.5h1M8 304.5h1M4 306.5h1M0 308.5h1M5 309.5h1M3 311.5h1M6 311.5h1M1 312.5h1M1 313.5h1M0 318.5h1M3 320.5h1M4 321.5h1M3 322.5h1M0 325.5h1M5 328.5h1M2 329.5h1M1 331.5h1M4 332.5h1M1 333.5h1M1 335.5h1M2 336.5h1M7 336.5h1M1 337.5h1M3 337.5h1M3 339.5h1M2 340.5h1M6 340.5h1M6 344.5h1M0 345.5h1M2 346.5h1M7 347.5h1M3 348.5h1M6 350.5h1M2 351.5h1M1 354.5h1M1 355.5h1M2 356.5h1M2 357.5h2M7 358.5h1M0 359.5h1M7 359.5h1M2 360.5h1M4 361.5h1M6 361.5h1M7 362.5h1M1 363.5h1M3 363.5h1M1 365.5h1M1 367.5h2M8 367.5h1M7 368.5h1M8 369.5h1M0 370.5h1M5 371.5h2M6 374.5h2M2 375.5h1M7 375.5h1M0 377.5h1M4 377.5h1M8 377.5h1M4 378.5h1M7 378.5h2M7 379.5h2M8 381.5h1M7 382.5h2M1 383.5h1M2 384.5h2M8 385.5h1M5 388.5h1M9 390.5h1M2 391.5h1M9 392.5h1M1 395.5h1M4 396.5h1M0 397.5h1M6 398.5h1M5 399.5h1M10 400.5h1M0 402.5h1M5 402.5h2M1 403.5h1M4 403.5h1M0 404.5h1M5 404.5h1M1 405.5h1M5 405.5h1M1 406.5h1M5 406.5h1M3 408.5h2M0 409.5h1M1 414.5h1M1 415.5h1M3 415.5h1M5 415.5h1M3 416.5h1M7 418.5h1M3 420.5h1M0 421.5h1M2 426.5h1M3 427.5h1M3 428.5h1M0 430.5h2M7 431.5h1M2 434.5h1M1 435.5h1M4 437.5h1M7 442.5h1M4 444.5h1M7 448.5h1M1 450.5h1M3 450.5h1M7 450.5h1M3 451.5h1M4 453.5h1M4 456.5h1M4 460.5h1M3 461.5h1M5 462.5h1M3 466.5h1M4 469.5h1M3 471.5h1M3 473.5h1M4 478.5h1M8 482.5h1M1 483.5h1M3 483.5h1M5 483.5h1M2 484.5h1M8 486.5h1M0 488.5h1M3 488.5h1M8 488.5h1M0 489.5h2M4 492.5h1M10 493.5h1M10 494.5h1M10 495.5h2M11 496.5h1M9 497.5h1M11 497.5h1M0 499.5h1M4 500.5h1M1 502.5h1M5 503.5h1M11 503.5h1M0 504.5h1M5 507.5h1M10 507.5h2M10 508.5h1M0 509.5h1M10 509.5h1M11 511.5h1M1 512.5h1M1 513.5h1M5 513.5h1M4 515.5h1M10 515.5h1M1 516.5h1M0 517.5h2"/>
<path stroke="#e8e6ff" d="M8 3.5h1M3 7.5h1M8 7.5h1M6 11.5h1M6 13.5h1M7 18.5h1M7 20.5h1M7 24.5h1M8 26.5h1M2 28.5h1M8 28.5h1M6 29.5h1M8 32.5h1M2 33.5h1M8 33.5h1M10 35.5h1M10 38.5h1M8 39.5h1M8 46.5h1M10 77.5h1M9 82.5h2M10 83.5h1M11 85.5h1M11 86.5h1M6 87.5h1M8 88.5h1M11 89.5h1M6 91.5h1M8 92.5h1M11 93.5h1M8 94.5h1M10 94.5h1M11 95.5h1M8 97.5h1M6 100.5h1M6 101.5h1M9 102.5h1M6 105.5h1M8 106.5h1M11 108.5h1M8 109.5h1M11 109.5h1M10 110.5h1M11 113.5h1M6 125.5h1M10 127.5h1M9 128.5h2M9 131.5h1M10 133.5h1M10 134.5h1M0 135.5h1M0 137.5h1M0 139.5h1M3 139.5h1M0 140.5h1M5 142.5h1M5 143.5h1M2 145.5h1M0 146.5h1M0 148.5h2M4 148.5h2M0 149.5h1M1 150.5h1M3 150.5h1M6 152.5h1M8 156.5h1M3 160.5h1M8 161.5h1M3 162.5h1M6 162.5h1M8 162.5h1M6 163.5h1M8 163.5h1M0 164.5h1M6 164.5h1M8 164.5h1M3 165.5h1M3 167.5h1M2 169.5h1M6 169.5h1M7 171.5h2M8 173.5h1M1 174.5h1M3 174.5h1M6 174.5h1M3 175.5h1M7 175.5h2M0 178.5h1M3 178.5h1M3 179.5h1M7 179.5h1M4 182.5h1M6 182.5h1M0 183.5h2M3 185.5h1M3 186.5h1M8 186.5h1M7 187.5h1M3 189.5h1M7 191.5h1M4 192.5h1M4 193.5h1M5 196.5h1M4 197.5h1M0 198.5h1M5 198.5h1M0 201.5h1M4 205.5h2M8 205.5h1M0 206.5h1M0 207.5h1M0 208.5h1M4 208.5h1M6 208.5h1M0 210.5h1M3 210.5h1M7 210.5h2M0 211.5h1M3 212.5h2M1 214.5h1M4 214.5h1M2 215.5h1M5 216.5h1M1 217.5h1M6 217.5h3M0 218.5h1M3 218.5h2M6 218.5h1M8 218.5h1M0 219.5h1M7 219.5h2M8 220.5h1M1 221.5h1M4 221.5h1M7 221.5h1M6 222.5h1M0 224.5h1M0 225.5h1M4 225.5h1M6 225.5h1M6 226.5h1M4 228.5h1M0 229.5h1M7 229.5h1M1 230.5h1M1 231.5h1M8 232.5h1M0 235.5h1M0 236.5h1M7 236.5h1M7 237.5h1M7 239.5h1M3 243.5h1M7 243.5h1M2 244.5h1M2 245.5h1M7 245.5h1M2 246.5h1M0 248.5h1M3 248.5h1M5 248.5h1M4 250.5h1M7 252.5h1M3 254.5h1M7 254.5h1M4 255.5h1M4 256.5h1M7 256.5h1M4 262.5h1M10 263.5h1M10 264.5h1M4 266.5h1M7 266.5h2M4 267.5h2M7 267.5h1M4 273.5h1M0 276.5h1M4 279.5h1M6 280.5h1M5 281.5h1M7 282.5h1M8 283.5h1M4 284.5h1M1 285.5h1M1 286.5h1M8 286.5h1M8 287.5h1M7 288.5h1M7 289.5h1M1 292.5h1M1 293.5h1M7 293.5h1M0 295.5h1M7 295.5h1M0 296.5h1M6 296.5h1M4 298.5h1M4 299.5h1M5 301.5h1M3 302.5h1M2 303.5h1M6 303.5h2M5 304.5h1M5 305.5h1M5 306.5h1M2 307.5h1M5 307.5h1M1 308.5h1M2 309.5h1M4 309.5h1M3 310.5h1M1 311.5h1M5 311.5h1M1 315.5h1M5 315.5h1M5 323.5h1M0 324.5h1M5 325.5h1M3 327.5h1M3 328.5h1M2 331.5h1M3 333.5h1M0 335.5h1M3 335.5h1M6 335.5h1M1 336.5h1M8 336.5h1M6 338.5h1M1 339.5h1M4 339.5h1M6 339.5h1M1 340.5h1M4 340.5h1M6 341.5h1M6 343.5h1M0 344.5h1M0 346.5h1M6 347.5h1M2 348.5h1M2 349.5h1M4 352.5h1M6 352.5h1M0 353.5h1M0 355.5h1M3 355.5h1M1 356.5h1M1 357.5h1M1 360.5h1M1 362.5h1M3 364.5h1M6 365.5h1M2 366.5h1M6 366.5h2M0 367.5h1M6 367.5h1M5 368.5h1M8 370.5h1M8 371.5h1M7 372.5h1M0 373.5h1M2 374.5h1M4 375.5h1M4 380.5h1M7 381.5h1M0 383.5h1M5 383.5h1M7 384.5h1M6 385.5h1M0 387.5h1M2 389.5h1M4 394.5h2M7 397.5h1M5 398.5h1M10 398.5h1M0 399.5h1M4 399.5h1M0 400.5h1M6 400.5h1M4 401.5h1M10 401.5h1M7 404.5h1M10 404.5h1M0 405.5h1M0 406.5h1M0 407.5h1M7 407.5h1M5 410.5h1M1 416.5h1M1 418.5h1M7 420.5h2M1 421.5h1M2 423.5h1M2 425.5h1M1 427.5h2M3 429.5h1M3 430.5h1M1 431.5h1M1 433.5h1M1 434.5h1M7 438.5h1M7 445.5h1M0 446.5h1M0 449.5h1M0 450.5h1M2 453.5h2M1 454.5h2M7 456.5h1M3 459.5h1M7 459.5h1M5 463.5h1M3 465.5h1M4 472.5h1M1 479.5h1M4 481.5h1M4 483.5h1M3 485.5h1M4 487.5h1M1 488.5h1M4 488.5h1M8 489.5h1M0 490.5h1M8 491.5h1M5 492.5h1M11 494.5h1M5 497.5h1M4 498.5h1M2 499.5h1M5 499.5h1M2 500.5h1M5 500.5h1M4 501.5h1M0 502.5h1M10 502.5h2M11 509.5h1M1 510.5h2M4 510.5h1M10 510.5h1M3 511.5h2M10 511.5h1M4 512.5h1M11 512.5h1M0 513.5h1M10 513.5h1M1 514.5h1M11 514.5h1M0 515.5h1M0 516.5h1M2 516.5h1M10 517.5h1"/>
<path stroke="#f3f2ff" d="M6 3.5h1M3 6.5h1M8 6.5h1M6 7.5h1M3 8.5h1M8 9.5h1M3 10.5h1M8 11.5h1M8 12.5h1M8 14.5h1M6 22.5h1M2 26.5h1M7 26.5h1M8 29.5h1M6 30.5h1M7 34.5h1M2 35.5h1M5 41.5h1M10 81.5h1M9 83.5h1M6 93.5h1M11 94.5h1M6 98.5h1M9 108.5h1M6 109.5h1M8 110.5h2M4 111.5h1M6 118.5h1M11 121.5h1M9 123.5h1M11 123.5h1M11 124.5h1M10 125.5h1M6 126.5h1M6 127.5h1M10 129.5h1M1 132.5h1M9 133.5h1M9 134.5h1M0 138.5h1M4 139.5h1M4 140.5h1M0 141.5h1M3 142.5h1M0 143.5h1M0 144.5h1M3 145.5h1M5 146.5h1M0 147.5h1M3 148.5h1M6 148.5h1M2 149.5h3M6 149.5h1M2 151.5h1M0 152.5h1M1 153.5h2M6 154.5h1M0 155.5h1M3 155.5h1M5 155.5h2M8 159.5h1M3 163.5h1M8 165.5h1M6 166.5h1M8 167.5h1M1 169.5h1M7 170.5h2M6 171.5h1M3 172.5h1M8 174.5h1M8 176.5h1M0 177.5h1M8 178.5h1M7 182.5h1M5 186.5h1M0 187.5h1M3 188.5h1M3 190.5h1M3 191.5h1M0 192.5h1M7 192.5h1M5 194.5h1M4 195.5h1M3 196.5h1M4 198.5h1M3 199.5h1M3 202.5h1M7 204.5h1M0 205.5h1M6 213.5h1M8 214.5h1M3 215.5h1M7 216.5h1M4 220.5h1M6 220.5h2M0 221.5h1M8 225.5h1M8 226.5h1M3 228.5h1M8 228.5h1M3 229.5h2M7 230.5h1M0 231.5h1M0 232.5h1M3 232.5h1M3 234.5h1M6 234.5h1M3 235.5h1M3 236.5h1M0 237.5h1M3 237.5h1M3 239.5h1M1 240.5h1M7 241.5h1M1 245.5h1M3 245.5h1M3 246.5h1M8 246.5h1M0 249.5h1M5 252.5h1M0 253.5h1M0 254.5h1M0 255.5h1M1 256.5h1M1 257.5h1M1 258.5h1M1 259.5h1M7 259.5h1M10 260.5h1M7 261.5h1M10 261.5h1M8 262.5h1M10 262.5h1M0 265.5h1M4 265.5h2M6 268.5h2M8 269.5h1M6 270.5h1M8 273.5h1M7 274.5h1M8 276.5h1M4 277.5h1M7 277.5h1M8 278.5h1M0 280.5h1M4 283.5h2M7 283.5h1M8 285.5h1M8 288.5h1M3 289.5h1M7 290.5h1M3 291.5h1M7 291.5h1M7 292.5h1M1 294.5h1M7 294.5h2M1 295.5h1M1 296.5h1M6 297.5h1M3 298.5h1M6 300.5h1M8 302.5h1M0 303.5h2M5 303.5h1M0 304.5h2M7 304.5h1M1 306.5h1M3 307.5h2M3 308.5h1M0 309.5h1M3 309.5h1M1 310.5h1M5 310.5h1M2 311.5h1M3 312.5h2M3 313.5h1M2 314.5h1M4 314.5h1M2 315.5h2M0 316.5h1M1 317.5h1M3 318.5h1M1 319.5h1M5 319.5h1M3 323.5h1M0 326.5h1M3 326.5h1M0 327.5h1M4 330.5h1M0 331.5h1M3 331.5h2M4 337.5h1M1 338.5h1M4 338.5h1M3 340.5h1M7 340.5h1M1 341.5h1M3 342.5h1M6 342.5h2M7 343.5h1M7 345.5h1M6 346.5h1M0 349.5h1M4 349.5h1M4 350.5h1M0 354.5h1M4 354.5h1M6 355.5h1M4 356.5h1M1 358.5h1M1 359.5h1M6 360.5h1M0 361.5h3M0 362.5h1M4 362.5h1M6 363.5h1M7 367.5h1M0 368.5h1M8 368.5h1M4 370.5h1M4 371.5h1M4 372.5h1M8 374.5h1M0 375.5h1M8 375.5h1M4 376.5h1M8 376.5h1M8 380.5h1M2 383.5h1M3 386.5h1M10 391.5h1M4 393.5h1M10 394.5h1M0 395.5h1M10 395.5h1M10 396.5h1M10 397.5h1M4 398.5h1M1 400.5h1M0 401.5h2M6 401.5h1M1 404.5h1M4 404.5h1M4 405.5h1M6 405.5h1M10 406.5h1M1 408.5h1M3 411.5h1M4 412.5h2M1 413.5h1M3 413.5h1M7 414.5h1M4 415.5h1M7 415.5h1M1 417.5h1M2 418.5h1M8 418.5h1M7 421.5h1M8 423.5h1M8 424.5h1M1 425.5h1M0 427.5h1M1 428.5h1M7 428.5h1M1 432.5h2M5 437.5h1M7 437.5h1M7 441.5h1M3 444.5h1M3 445.5h1M7 447.5h1M3 452.5h1M7 458.5h1M8 461.5h1M4 470.5h1M4 471.5h1M1 481.5h1M7 481.5h1M1 482.5h1M1 484.5h1M8 484.5h1M8 490.5h1M1 492.5h1M0 493.5h1M4 493.5h1M5 494.5h1M4 495.5h2M9 495.5h1M9 496.5h1M5 498.5h1M3 499.5h1M3 501.5h1M4 502.5h1M3 505.5h1M5 508.5h1M5 509.5h1M0 510.5h1M3 510.5h1M11 510.5h1M0 511.5h1M5 512.5h1M10 512.5h1M3 513.5h1M0 514.5h1M3 514.5h1M10 514.5h1M3 515.5h1M4 516.5h1M2 517.5h1M4 517.5h2"/>
<path stroke="#ffffff" d="M8 2.5h1M6 4.5h1M8 5.5h1M6 6.5h1M5 8.5h1M8 10.5h1M3 11.5h1M3 13.5h1M6 15.5h1M6 16.5h1M6 19.5h1M2 20.5h1M2 23.5h1M2 27.5h1M8 30.5h1M8 31.5h1M8 34.5h1M2 37.5h1M5 39.5h1M5 43.5h1M2 44.5h1M2 49.5h1M2 52.5h1M2 53.5h1M2 55.5h1M9 65.5h1M10 74.5h1M10 75.5h1M10 79.5h1M10 80.5h1M9 84.5h2M6 89.5h1M6 94.5h1M6 102.5h1M8 102.5h1M9 103.5h1M6 104.5h1M1 108.5h1M11 111.5h1M11 114.5h1M6 124.5h1M9 129.5h1M11 131.5h1M6 132.5h1M9 132.5h1M1 134.5h1M4 135.5h1M0 136.5h1M3 136.5h1M5 139.5h1M2 141.5h1M3 143.5h1M5 144.5h1M5 145.5h1M3 146.5h1M2 147.5h1M6 147.5h1M2 148.5h1M4 150.5h1M3 151.5h1M3 153.5h1M0 154.5h1M3 158.5h1M6 168.5h1M3 169.5h1M6 172.5h1M8 172.5h1M7 173.5h1M7 174.5h1M8 177.5h1M8 179.5h1M3 180.5h1M8 180.5h1M8 182.5h1M6 183.5h1M7 184.5h1M7 185.5h1M7 186.5h1M3 187.5h1M8 189.5h1M0 195.5h1M3 197.5h1M7 199.5h1M0 202.5h1M3 203.5h1M7 203.5h1M3 204.5h1M7 205.5h1M6 206.5h1M0 209.5h1M0 212.5h1M6 215.5h1M6 216.5h1M6 219.5h1M8 221.5h1M4 222.5h1M4 226.5h1M10 230.5h1M6 231.5h1M10 231.5h1M6 232.5h1M3 233.5h1M6 235.5h1M10 236.5h1M7 238.5h1M0 240.5h1M3 240.5h1M6 242.5h1M3 244.5h1M1 246.5h1M7 247.5h1M7 248.5h1M7 249.5h1M3 250.5h1M3 251.5h1M0 262.5h1M7 262.5h1M0 263.5h1M7 263.5h1M8 265.5h1M10 266.5h1M6 269.5h1M6 275.5h1M10 276.5h1M8 277.5h1M10 277.5h1M8 279.5h1M6 283.5h1M5 291.5h1M8 293.5h1M7 297.5h1M7 301.5h1M6 302.5h2M6 304.5h1M1 309.5h1M2 310.5h1M4 310.5h1M4 311.5h1M5 312.5h1M4 313.5h1M3 314.5h1M5 314.5h1M5 316.5h1M0 317.5h1M3 324.5h1M3 325.5h1M6 327.5h1M3 330.5h1M6 333.5h1M3 334.5h1M8 335.5h1M4 336.5h1M6 337.5h1M7 338.5h1M4 341.5h1M7 341.5h1M0 343.5h1M4 343.5h1M7 344.5h1M6 349.5h1M4 353.5h1M0 357.5h1M6 357.5h1M0 358.5h1M6 358.5h1M4 359.5h1M4 363.5h1M4 365.5h1M1 366.5h1M4 366.5h1M6 369.5h1M7 380.5h1M8 383.5h1M5 387.5h1M0 388.5h1M5 389.5h1M10 389.5h1M0 393.5h1M0 394.5h1M4 397.5h1M0 398.5h1M10 399.5h1M1 402.5h1M6 403.5h1M6 404.5h1M5 409.5h1M8 409.5h1M8 410.5h1M7 411.5h1M6 415.5h1M8 416.5h1M8 417.5h1M0 418.5h1M2 429.5h1M3 432.5h1M7 434.5h1M7 440.5h1M7 446.5h1M0 447.5h1M0 448.5h1M7 449.5h1M7 454.5h2M7 455.5h1M11 455.5h1M8 456.5h1M8 458.5h1M7 460.5h1M11 464.5h1M7 465.5h1M11 466.5h1M8 479.5h1M8 480.5h1M4 485.5h1M4 486.5h1M1 487.5h1M8 487.5h1M1 490.5h1M3 490.5h1M3 491.5h1M3 492.5h1M1 493.5h1M3 493.5h1M0 494.5h1M3 494.5h1M9 494.5h1M3 498.5h1M9 498.5h1M3 504.5h1M3 506.5h1M3 507.5h1M3 509.5h1M0 512.5h1M3 512.5h1M1 515.5h1M3 516.5h1M9 517.5h1"/>
<path stroke="#fff4f3" d="M0 5.5h1M6 10.5h1M6 12.5h1M8 13.5h1M6 14.5h1M6 17.5h1M6 18.5h1M6 21.5h1M2 36.5h1M2 40.5h1M5 40.5h1M5 42.5h1M2 43.5h1M5 44.5h1M2 46.5h1M2 56.5h1M11 90.5h1M11 92.5h1M6 96.5h1M6 99.5h1M8 103.5h1M8 104.5h1M9 111.5h1M11 112.5h1M1 113.5h1M4 114.5h1M3 116.5h1M9 125.5h1M9 126.5h1M9 127.5h1M6 128.5h1M10 130.5h1M6 131.5h1M1 133.5h1M4 133.5h1M4 134.5h1M3 135.5h1M4 137.5h1M4 138.5h1M3 141.5h1M5 141.5h1M2 142.5h1M1 144.5h4M6 146.5h1M9 147.5h1M6 150.5h1M0 151.5h1M6 151.5h1M0 153.5h1M4 154.5h1M3 156.5h1M3 157.5h1M8 157.5h1M3 159.5h1M3 161.5h1M6 165.5h1M6 167.5h1M3 170.5h1M3 171.5h1M10 188.5h1M7 189.5h1M4 191.5h1M6 191.5h1M7 195.5h1M3 198.5h1M3 200.5h1M5 201.5h1M7 201.5h1M7 202.5h1M0 203.5h1M6 204.5h1M10 204.5h1M3 208.5h1M6 210.5h1M6 212.5h1M3 216.5h1M4 219.5h1M3 223.5h1M3 226.5h1M3 230.5h1M6 230.5h1M7 231.5h1M10 232.5h1M6 233.5h1M6 236.5h1M3 238.5h1M3 241.5h1M6 244.5h1M7 246.5h1M5 250.5h1M3 252.5h1M7 255.5h1M0 259.5h1M6 267.5h1M4 278.5h1M8 284.5h1M7 286.5h1M10 287.5h1M1 288.5h1M6 288.5h1M1 289.5h1M6 289.5h1M1 291.5h1M8 292.5h1M6 293.5h1M6 295.5h1M0 298.5h1M7 298.5h1M7 299.5h1M7 300.5h1M0 312.5h1M0 314.5h1M6 318.5h1M3 319.5h1M6 319.5h1M3 321.5h1M10 323.5h1M5 326.5h1M3 329.5h1M6 331.5h1M3 332.5h1M6 332.5h1M1 342.5h1M4 342.5h1M0 347.5h1M0 348.5h1M0 356.5h1M7 360.5h1M0 371.5h1M3 383.5h1M8 384.5h1M6 386.5h1M3 387.5h1M3 388.5h1M10 393.5h1M4 395.5h1M4 400.5h2M4 402.5h1M10 402.5h1M10 403.5h1M4 406.5h1M1 407.5h1M4 407.5h1M6 408.5h1M7 409.5h1M8 411.5h1M6 412.5h1M6 414.5h1M6 416.5h1M6 420.5h1M8 421.5h1M7 422.5h2M7 424.5h1M8 425.5h1M3 426.5h1M7 426.5h2M8 430.5h1M3 431.5h1M11 431.5h1M7 432.5h1M7 433.5h1M7 435.5h1M7 436.5h1M7 443.5h1M7 452.5h1M7 453.5h1M11 453.5h1M8 455.5h1M8 457.5h1M11 459.5h1M8 462.5h1M11 465.5h1M8 468.5h1M11 482.5h1M8 483.5h1M1 485.5h1M1 491.5h1M11 491.5h1M5 493.5h1M3 495.5h1M3 496.5h1M5 496.5h1M3 497.5h1M3 500.5h1M3 502.5h1M3 503.5h1M3 508.5h1M5 516.5h1"/>
<path stroke="#ffe8e8" d="M6 0.5h1M8 0.5h1M5 3.5h1M0 10.5h1M3 12.5h1M3 14.5h1M2 18.5h1M0 20.5h1M6 20.5h1M5 21.5h1M2 24.5h1M2 25.5h1M5 25.5h1M8 27.5h1M2 34.5h1M5 38.5h1M2 39.5h1M2 48.5h1M2 51.5h1M3 52.5h1M2 54.5h1M4 70.5h1M1 77.5h1M10 78.5h1M1 80.5h1M6 90.5h1M6 95.5h1M4 96.5h1M4 106.5h1M1 112.5h1M1 114.5h1M11 115.5h1M4 116.5h1M2 125.5h1M4 125.5h1M11 126.5h1M2 128.5h1M5 128.5h1M2 129.5h1M11 129.5h1M1 131.5h1M4 131.5h2M2 132.5h1M11 132.5h1M11 133.5h1M11 134.5h1M4 136.5h1M2 137.5h2M5 137.5h1M2 139.5h1M4 141.5h1M4 142.5h1M2 143.5h1M4 143.5h1M9 145.5h1M2 146.5h1M4 147.5h1M4 151.5h1M4 153.5h1M6 153.5h1M3 154.5h1M6 160.5h1M6 161.5h1M3 164.5h1M7 172.5h1M7 183.5h2M7 194.5h1M6 199.5h1M3 201.5h1M6 203.5h1M10 205.5h1M7 206.5h1M10 206.5h1M3 207.5h1M7 207.5h1M10 207.5h1M10 209.5h1M6 211.5h1M6 214.5h1M3 231.5h1M6 240.5h1M3 242.5h1M0 244.5h1M0 245.5h1M0 246.5h1M6 248.5h1M6 250.5h1M6 251.5h1M6 252.5h1M0 257.5h1M6 264.5h1M10 265.5h1M6 266.5h1M10 267.5h1M7 270.5h1M6 271.5h1M10 271.5h1M6 272.5h1M6 274.5h1M6 276.5h1M10 278.5h1M7 279.5h1M6 282.5h1M6 286.5h1M6 290.5h1M6 291.5h1M6 294.5h1M6 298.5h1M1 305.5h1M0 307.5h1M0 313.5h1M3 316.5h1M10 316.5h1M6 317.5h1M1 318.5h1M6 320.5h1M10 322.5h1M6 326.5h1M10 326.5h1M10 329.5h1M6 334.5h1M4 344.5h1M4 345.5h1M0 350.5h1M0 351.5h1M6 351.5h1M0 352.5h1M4 358.5h1M6 359.5h1M4 360.5h1M4 364.5h1M6 375.5h1M6 377.5h1M10 387.5h2M2 388.5h1M3 389.5h1M0 390.5h1M5 390.5h1M10 390.5h1M0 391.5h1M3 391.5h1M5 391.5h1M10 392.5h1M7 408.5h2M6 409.5h1M7 410.5h1M6 411.5h1M7 413.5h1M6 418.5h1M6 419.5h2M7 425.5h1M11 425.5h1M8 428.5h1M8 429.5h1M7 430.5h1M8 432.5h1M11 434.5h1M7 439.5h1M11 443.5h1M11 447.5h1M11 452.5h1M11 456.5h1M7 457.5h1M11 458.5h1M8 459.5h1M8 460.5h1M11 461.5h1M7 462.5h1M7 464.5h2M11 467.5h1M8 471.5h1M7 472.5h1M11 473.5h1M7 474.5h1M7 478.5h2M7 480.5h1M11 488.5h1M11 492.5h1M4 514.5h1M7 514.5h1M7 515.5h1"/>
<path stroke="#ffdddc" d="M3 1.5h1M8 1.5h1M5 2.5h1M3 4.5h1M6 5.5h1M5 7.5h1M0 8.5h1M0 9.5h1M3 9.5h2M5 13.5h1M8 19.5h1M2 22.5h1M2 32.5h1M3 35.5h1M2 41.5h1M3 44.5h1M3 51.5h1M5 52.5h1M1 61.5h1M0 62.5h1M0 65.5h1M2 66.5h1M4 88.5h1M1 89.5h1M4 89.5h1M0 97.5h1M2 104.5h1M4 104.5h1M0 107.5h2M1 110.5h1M4 110.5h1M1 111.5h1M4 113.5h1M3 114.5h1M4 118.5h1M2 126.5h1M5 126.5h1M4 127.5h2M1 128.5h1M4 128.5h1M1 129.5h1M5 129.5h1M2 130.5h1M4 130.5h1M11 130.5h1M5 135.5h1M2 136.5h1M9 140.5h1M9 141.5h1M0 150.5h1M2 150.5h1M9 150.5h1M9 152.5h1M6 156.5h1M6 170.5h1M6 186.5h1M6 188.5h1M6 190.5h1M6 192.5h1M3 194.5h1M3 195.5h1M6 195.5h1M6 197.5h2M7 198.5h1M7 200.5h1M9 206.5h1M6 207.5h1M6 209.5h1M9 222.5h1M10 233.5h1M10 234.5h1M10 237.5h1M10 238.5h1M6 239.5h1M6 249.5h1M6 253.5h1M6 265.5h1M10 268.5h1M10 270.5h1M6 278.5h1M6 284.5h2M10 284.5h1M6 287.5h1M8 290.5h1M6 292.5h1M10 292.5h1M10 295.5h1M10 303.5h1M10 304.5h1M0 310.5h1M10 318.5h1M5 321.5h1M10 324.5h1M6 328.5h1M10 328.5h1M6 329.5h1M6 330.5h1M10 332.5h1M4 357.5h1M6 376.5h1M6 380.5h1M2 387.5h1M11 389.5h1M0 392.5h1M5 392.5h1M11 392.5h1M11 395.5h1M6 399.5h1M6 406.5h1M10 407.5h1M6 410.5h1M8 413.5h1M8 414.5h1M8 415.5h1M7 416.5h1M10 417.5h1M8 419.5h1M6 423.5h2M7 427.5h1M1 429.5h1M7 429.5h1M8 437.5h1M8 438.5h1M8 440.5h1M8 441.5h1M8 442.5h1M7 444.5h2M8 445.5h1M8 446.5h1M8 447.5h1M8 449.5h1M8 450.5h1M11 451.5h1M8 452.5h1M8 453.5h1M11 463.5h1M6 464.5h1M11 468.5h1M7 470.5h1M11 472.5h1M7 473.5h2M8 475.5h1M11 476.5h1M7 477.5h2M11 477.5h1M11 478.5h1M11 480.5h1M8 481.5h1M11 483.5h1M11 485.5h1M11 486.5h1M11 489.5h1M0 491.5h1M1 500.5h1M1 501.5h1M7 516.5h1M3 517.5h1"/>
<path stroke="#ffd2d0" d="M4 0.5h1M0 2.5h2M4 2.5h1M0 3.5h1M5 4.5h1M0 6.5h2M5 9.5h1M5 10.5h1M4 11.5h1M2 13.5h1M4 14.5h1M4 16.5h1M8 16.5h1M0 17.5h1M8 17.5h1M5 20.5h1M2 21.5h1M0 23.5h1M5 35.5h1M3 37.5h1M2 38.5h2M0 39.5h1M3 41.5h1M0 42.5h1M2 42.5h1M0 44.5h1M0 45.5h1M2 45.5h1M2 50.5h1M4 61.5h1M0 66.5h1M4 67.5h1M0 71.5h1M0 72.5h1M4 76.5h1M1 79.5h1M1 86.5h1M1 88.5h1M3 90.5h1M4 91.5h1M1 95.5h1M4 98.5h1M0 99.5h1M2 101.5h2M1 102.5h1M4 105.5h1M1 109.5h1M4 109.5h1M0 112.5h1M2 112.5h1M5 114.5h1M4 115.5h1M3 117.5h1M3 118.5h1M1 125.5h1M11 125.5h1M1 126.5h1M4 126.5h1M2 127.5h1M11 127.5h1M4 132.5h1M2 135.5h1M9 137.5h1M2 138.5h2M5 138.5h1M9 151.5h1M9 153.5h1M6 159.5h1M7 196.5h1M10 197.5h1M6 198.5h1M6 201.5h1M6 202.5h1M10 211.5h1M9 212.5h2M10 213.5h1M9 224.5h1M10 229.5h1M6 237.5h1M6 241.5h1M11 247.5h1M10 249.5h1M10 258.5h1M6 273.5h1M6 281.5h1M10 282.5h1M10 283.5h1M11 284.5h1M6 285.5h1M10 286.5h1M10 296.5h1M10 306.5h1M0 315.5h1M10 315.5h1M10 319.5h1M10 320.5h1M6 321.5h1M6 325.5h1M10 325.5h1M10 327.5h1M10 334.5h1M4 355.5h1M6 378.5h1M6 381.5h1M6 384.5h1M11 390.5h1M11 393.5h1M3 404.5h1M10 405.5h1M10 408.5h1M8 412.5h1M6 417.5h2M6 422.5h1M6 424.5h1M11 427.5h1M8 435.5h1M8 436.5h1M11 436.5h1M8 448.5h1M11 448.5h1M11 449.5h1M11 454.5h1M11 460.5h1M7 461.5h1M11 462.5h1M8 463.5h1M6 465.5h1M7 466.5h1M7 467.5h2M7 468.5h1M11 469.5h1M6 471.5h2M6 474.5h1M8 474.5h1M7 475.5h1M11 475.5h1M8 500.5h1M7 510.5h1M7 512.5h1M7 517.5h1"/>
<path stroke="#ffc7c4" d="M0 0.5h1M5 0.5h1M4 1.5h2M1 5.5h3M5 5.5h1M6 8.5h1M4 10.5h1M2 11.5h1M5 11.5h1M0 12.5h1M5 14.5h1M4 15.5h2M4 17.5h1M0 18.5h1M5 18.5h1M8 18.5h1M2 19.5h1M4 19.5h1M3 22.5h1M0 26.5h1M3 27.5h1M0 31.5h1M3 34.5h1M5 34.5h1M3 36.5h1M3 42.5h1M0 43.5h1M3 45.5h1M0 46.5h1M3 49.5h1M3 50.5h1M3 55.5h1M0 58.5h1M5 59.5h1M4 60.5h1M2 61.5h1M2 64.5h1M2 65.5h1M4 65.5h1M0 68.5h1M4 68.5h1M0 70.5h1M5 70.5h1M4 71.5h1M4 73.5h1M4 74.5h1M5 75.5h1M1 76.5h1M5 76.5h1M1 81.5h1M3 86.5h1M0 89.5h1M5 91.5h1M1 92.5h1M4 94.5h1M2 95.5h3M3 97.5h1M3 98.5h1M1 106.5h1M4 107.5h1M0 108.5h1M3 112.5h1M5 113.5h1M3 115.5h1M1 117.5h2M4 117.5h1M1 119.5h1M4 121.5h1M4 123.5h1M2 124.5h1M4 124.5h2M11 128.5h1M4 129.5h1M5 130.5h1M2 133.5h1M2 134.5h1M5 136.5h1M10 138.5h1M2 140.5h1M9 143.5h1M4 145.5h1M4 146.5h1M9 146.5h1M9 149.5h1M9 154.5h1M9 155.5h1M6 157.5h1M6 158.5h1M10 164.5h1M10 173.5h1M10 183.5h1M10 193.5h1M6 194.5h1M10 199.5h1M6 205.5h1M3 206.5h1M9 207.5h1M10 208.5h1M9 217.5h1M3 224.5h1M3 225.5h1M10 228.5h1M9 229.5h1M10 235.5h1M11 238.5h1M11 240.5h1M10 242.5h1M6 243.5h1M10 243.5h2M11 244.5h1M6 245.5h1M6 247.5h1M10 257.5h1M6 260.5h1M10 269.5h1M11 276.5h1M6 277.5h1M10 281.5h2M11 283.5h1M10 291.5h1M10 293.5h1M10 294.5h1M10 297.5h1M10 300.5h1M10 302.5h1M0 311.5h1M10 311.5h1M10 317.5h1M10 321.5h1M6 324.5h1M10 335.5h1M6 379.5h1M6 383.5h1M10 388.5h2M0 389.5h1M11 394.5h1M6 396.5h1M11 404.5h1M3 406.5h1M10 409.5h1M7 412.5h1M9 412.5h1M6 413.5h1M9 414.5h2M9 416.5h2M10 419.5h1M6 421.5h1M10 424.5h1M11 429.5h1M11 433.5h1M8 434.5h1M11 437.5h1M11 438.5h1M6 442.5h1M11 442.5h1M10 446.5h2M8 451.5h1M10 452.5h1M6 456.5h1M11 457.5h1M6 462.5h1M7 463.5h1M8 465.5h1M10 465.5h1M6 466.5h1M8 466.5h1M10 466.5h1M10 468.5h1M11 471.5h1M6 472.5h1M8 472.5h1M11 474.5h1M7 476.5h2M6 477.5h1M7 479.5h1M11 481.5h1M7 484.5h1M10 486.5h1M11 487.5h1M7 488.5h1M7 490.5h1M7 491.5h1M7 492.5h1M1 499.5h1"/>
<path stroke="#ffbcb8" d="M0 1.5h3M3 2.5h1M1 3.5h1M3 3.5h1M5 6.5h1M0 7.5h1M1 8.5h1M4 8.5h1M1 10.5h1M1 11.5h1M4 12.5h2M0 13.5h1M4 13.5h1M0 15.5h1M0 16.5h1M5 16.5h1M2 17.5h1M5 17.5h1M0 19.5h1M5 19.5h1M8 20.5h1M0 22.5h1M8 22.5h1M0 24.5h1M0 28.5h1M2 30.5h2M0 34.5h1M0 35.5h1M0 36.5h1M5 36.5h1M5 37.5h1M3 39.5h1M0 40.5h1M3 43.5h1M5 45.5h1M1 46.5h1M0 47.5h1M3 47.5h1M0 48.5h1M5 48.5h1M0 49.5h1M5 49.5h1M3 53.5h1M2 57.5h1M2 58.5h1M4 58.5h1M4 59.5h1M0 60.5h1M0 61.5h1M4 62.5h1M4 63.5h1M0 64.5h1M1 66.5h1M4 66.5h1M2 68.5h2M0 69.5h2M4 69.5h1M1 70.5h1M1 71.5h2M5 74.5h1M1 75.5h1M4 77.5h1M4 78.5h1M5 80.5h1M1 82.5h1M3 83.5h2M1 84.5h1M3 84.5h1M5 86.5h1M3 88.5h1M5 88.5h1M1 91.5h1M3 93.5h2M0 95.5h1M5 95.5h1M0 96.5h1M1 97.5h1M0 98.5h2M3 99.5h1M0 101.5h2M2 102.5h1M2 103.5h1M2 105.5h1M3 111.5h1M5 112.5h1M3 113.5h1M2 114.5h1M0 115.5h1M2 115.5h1M5 115.5h1M5 116.5h1M5 117.5h1M1 118.5h1M5 118.5h1M3 119.5h2M3 120.5h1M5 120.5h1M1 121.5h1M5 121.5h1M1 122.5h1M2 123.5h1M5 125.5h1M1 127.5h1M1 130.5h1M2 131.5h1M0 133.5h1M9 135.5h1M9 138.5h1M9 139.5h1M9 142.5h1M9 144.5h1M10 145.5h1M9 148.5h1M10 158.5h1M10 160.5h1M10 163.5h1M10 168.5h1M10 186.5h1M6 187.5h1M6 189.5h1M10 190.5h1M10 192.5h1M10 194.5h1M10 196.5h1M10 200.5h1M10 201.5h1M10 202.5h1M3 205.5h1M9 205.5h1M9 211.5h1M10 215.5h1M10 217.5h1M9 218.5h2M10 221.5h1M9 225.5h1M9 226.5h1M9 227.5h1M9 228.5h1M9 233.5h1M9 235.5h1M11 239.5h1M10 240.5h1M10 241.5h2M6 246.5h1M11 248.5h1M10 252.5h1M10 256.5h1M6 261.5h1M10 272.5h1M10 274.5h1M10 275.5h1M11 277.5h1M6 279.5h1M10 279.5h1M10 280.5h1M10 289.5h1M10 301.5h1M6 323.5h1M10 333.5h1M3 390.5h1M11 391.5h1M3 393.5h1M6 393.5h1M6 394.5h1M3 399.5h1M11 400.5h1M3 405.5h1M3 407.5h1M9 408.5h1M9 411.5h1M10 412.5h1M9 413.5h2M9 417.5h1M9 418.5h1M10 421.5h1M11 426.5h1M11 428.5h1M11 430.5h1M11 432.5h1M6 435.5h1M11 435.5h1M6 438.5h1M10 438.5h1M11 439.5h1M6 441.5h1M8 443.5h1M10 455.5h1M10 456.5h1M6 457.5h1M10 459.5h1M10 464.5h1M6 468.5h1M6 469.5h1M9 469.5h2M8 470.5h1M10 472.5h1M10 473.5h1M6 478.5h1M6 479.5h1M7 482.5h1M7 485.5h1M7 486.5h1M8 495.5h1M8 498.5h1M7 505.5h1M7 513.5h1"/>
<path stroke="#ffb0ad" d="M1 0.5h1M3 0.5h1M0 4.5h1M2 6.5h1M2 7.5h1M4 7.5h1M2 8.5h1M0 11.5h1M2 12.5h1M3 16.5h1M4 20.5h1M0 21.5h1M4 21.5h1M8 21.5h1M5 22.5h1M5 23.5h1M5 28.5h1M0 29.5h3M4 30.5h1M2 31.5h1M5 31.5h1M3 33.5h1M0 41.5h1M1 43.5h1M1 45.5h1M3 46.5h1M5 46.5h1M2 47.5h1M3 48.5h1M5 50.5h1M5 53.5h1M4 57.5h1M5 58.5h1M0 59.5h1M1 62.5h1M0 63.5h1M1 64.5h1M1 65.5h1M0 67.5h1M1 68.5h1M5 71.5h1M1 72.5h1M5 72.5h1M1 74.5h1M2 75.5h1M4 75.5h1M1 78.5h1M5 78.5h1M4 79.5h1M0 80.5h1M3 80.5h1M3 81.5h1M3 82.5h1M1 83.5h1M4 84.5h2M4 86.5h1M0 87.5h2M3 87.5h1M5 89.5h1M2 91.5h1M1 93.5h1M5 94.5h1M1 96.5h1M3 96.5h1M5 96.5h1M1 99.5h1M0 100.5h1M3 100.5h1M4 101.5h1M0 102.5h1M1 103.5h1M4 103.5h1M0 106.5h1M2 106.5h1M2 108.5h1M4 108.5h1M4 112.5h1M1 115.5h1M0 117.5h1M0 119.5h1M5 122.5h1M9 136.5h1M10 139.5h1M10 141.5h1M10 142.5h1M10 156.5h1M10 161.5h1M10 167.5h1M10 170.5h1M10 180.5h1M10 181.5h1M10 185.5h1M10 191.5h1M6 193.5h1M10 195.5h1M10 198.5h1M6 200.5h1M10 203.5h1M9 204.5h1M9 210.5h2M10 222.5h1M10 224.5h1M10 226.5h1M9 230.5h1M9 231.5h1M9 232.5h1M9 236.5h1M6 238.5h1M10 244.5h1M10 253.5h1M10 254.5h1M11 258.5h1M10 259.5h1M11 262.5h1M11 278.5h1M11 279.5h1M11 280.5h1M10 285.5h2M10 288.5h1M10 290.5h1M10 305.5h1M10 308.5h1M10 309.5h1M6 322.5h1M11 329.5h1M10 330.5h1M10 331.5h1M10 354.5h1M11 376.5h1M11 379.5h1M11 380.5h1M1 387.5h1M4 391.5h1M6 395.5h1M3 397.5h1M11 397.5h1M11 399.5h1M3 403.5h1M11 405.5h1M6 407.5h1M9 410.5h2M10 411.5h1M11 412.5h1M9 415.5h2M10 418.5h1M9 419.5h1M10 422.5h1M10 423.5h1M6 432.5h1M6 436.5h1M8 439.5h1M6 440.5h1M11 440.5h1M11 441.5h1M10 442.5h1M10 443.5h1M11 444.5h1M10 445.5h2M11 450.5h1M10 453.5h1M6 455.5h1M6 458.5h1M10 458.5h1M6 460.5h1M10 460.5h1M6 461.5h1M10 461.5h1M6 463.5h1M10 463.5h1M10 467.5h1M7 469.5h2M6 473.5h1M11 484.5h1M10 485.5h1M7 487.5h1M11 490.5h1M10 491.5h1M8 493.5h1M7 496.5h1M8 497.5h1M8 501.5h1M7 502.5h1M7 503.5h1M8 505.5h1M7 511.5h1M8 514.5h1"/>
<path stroke="#ffa5a1" d="M1 4.5h1M4 4.5h1M1 7.5h1M1 9.5h2M6 9.5h1M2 10.5h1M1 13.5h1M2 15.5h1M3 17.5h1M1 18.5h1M3 18.5h2M3 19.5h1M3 20.5h1M3 21.5h1M3 24.5h1M0 27.5h1M5 27.5h1M1 28.5h1M3 28.5h1M5 30.5h1M3 32.5h1M5 32.5h1M0 33.5h1M1 35.5h1M1 38.5h1M3 40.5h1M5 47.5h1M0 50.5h1M0 51.5h1M5 51.5h1M0 52.5h1M0 53.5h1M3 54.5h1M5 54.5h1M4 55.5h1M0 56.5h1M5 56.5h1M1 57.5h1M5 57.5h1M1 58.5h1M2 60.5h1M5 60.5h1M2 62.5h1M1 63.5h1M4 64.5h1M1 67.5h1M5 68.5h1M5 69.5h1M2 70.5h2M2 72.5h1M4 72.5h1M2 73.5h1M5 77.5h1M5 79.5h1M4 80.5h1M0 81.5h1M4 81.5h1M5 82.5h1M0 83.5h1M5 83.5h1M3 89.5h1M1 90.5h1M3 91.5h1M2 92.5h2M5 92.5h1M5 93.5h1M1 94.5h2M1 100.5h1M4 100.5h1M0 103.5h1M3 103.5h1M0 104.5h1M3 104.5h1M2 107.5h1M0 109.5h1M2 111.5h1M0 114.5h1M0 116.5h1M2 116.5h1M4 120.5h1M0 121.5h1M0 123.5h1M5 123.5h1M10 136.5h1M10 144.5h1M10 146.5h1M10 147.5h1M10 151.5h1M10 165.5h1M10 172.5h1M10 174.5h1M10 176.5h1M10 187.5h1M6 196.5h1M9 202.5h1M9 208.5h1M9 209.5h1M9 213.5h1M10 214.5h1M9 219.5h2M10 220.5h1M9 221.5h1M10 223.5h1M10 225.5h1M9 234.5h1M10 239.5h1M11 242.5h1M10 246.5h1M10 247.5h1M10 248.5h1M11 249.5h1M6 254.5h1M6 262.5h1M6 263.5h1M11 269.5h1M10 273.5h1M11 274.5h1M11 292.5h1M10 298.5h1M10 299.5h2M10 310.5h1M10 312.5h1M10 313.5h1M9 339.5h1M11 349.5h1M11 354.5h1M11 361.5h1M4 387.5h1M4 388.5h1M1 391.5h1M1 392.5h1M3 392.5h1M6 397.5h1M11 406.5h1M9 409.5h1M9 424.5h1M9 427.5h1M6 433.5h1M8 433.5h1M10 436.5h1M6 437.5h1M6 447.5h1M10 447.5h1M10 448.5h1M6 449.5h1M10 449.5h1M6 451.5h1M10 454.5h1M9 456.5h1M10 462.5h1M6 467.5h1M9 468.5h1M10 471.5h1M6 475.5h1M7 483.5h1M7 489.5h1M10 489.5h1M8 496.5h1M7 497.5h1M7 498.5h1M8 503.5h1M7 504.5h1M7 507.5h2M8 515.5h1"/>
<path stroke="#ff9a95" d="M2 2.5h1M4 5.5h1M1 12.5h1M0 14.5h1M2 14.5h1M1 15.5h1M2 16.5h1M5 24.5h1M3 29.5h1M1 31.5h1M3 31.5h1M5 33.5h1M0 37.5h1M0 38.5h1M1 39.5h1M1 40.5h1M4 46.5h1M0 54.5h1M5 55.5h1M3 56.5h1M0 57.5h1M1 59.5h1M3 59.5h1M5 61.5h1M5 63.5h1M2 67.5h1M5 67.5h1M2 69.5h1M3 71.5h1M5 73.5h1M2 74.5h1M3 76.5h1M3 77.5h1M3 78.5h1M0 79.5h1M0 84.5h1M3 85.5h1M0 86.5h1M5 87.5h1M0 90.5h1M2 90.5h1M4 90.5h1M4 92.5h1M0 93.5h1M2 93.5h1M3 94.5h1M2 97.5h1M4 97.5h1M2 99.5h1M3 102.5h1M1 104.5h1M0 105.5h2M3 106.5h1M0 110.5h1M3 110.5h1M2 113.5h1M1 116.5h1M0 118.5h1M5 119.5h1M1 120.5h1M0 122.5h1M4 122.5h1M1 123.5h1M0 124.5h2M0 125.5h1M0 126.5h1M0 129.5h1M0 132.5h1M5 132.5h1M5 133.5h1M5 134.5h1M10 137.5h1M10 143.5h1M10 149.5h1M10 150.5h1M10 152.5h1M10 157.5h1M10 159.5h1M10 162.5h1M10 166.5h1M10 171.5h1M9 175.5h1M10 178.5h1M9 180.5h1M10 182.5h1M9 214.5h1M10 216.5h1M10 227.5h1M11 237.5h1M10 245.5h2M11 246.5h1M10 250.5h1M10 251.5h1M6 256.5h1M11 256.5h1M6 257.5h1M6 258.5h1M6 259.5h1M11 264.5h1M11 293.5h1M10 307.5h1M9 337.5h1M11 346.5h1M11 355.5h1M9 356.5h2M10 358.5h1M10 362.5h1M9 363.5h1M11 363.5h1M11 365.5h1M11 366.5h1M11 372.5h1M11 377.5h1M11 383.5h1M11 386.5h1M4 389.5h1M1 390.5h1M4 390.5h1M11 396.5h1M11 398.5h1M11 401.5h1M11 402.5h1M11 407.5h1M9 420.5h2M9 422.5h1M9 429.5h2M10 431.5h1M10 433.5h1M10 434.5h1M10 439.5h1M10 450.5h1M10 451.5h1M9 455.5h1M6 459.5h1M9 459.5h1M9 463.5h1M9 464.5h1M9 465.5h1M9 466.5h1M6 470.5h1M10 474.5h1M9 475.5h1M11 479.5h1M6 480.5h1M10 482.5h1M10 487.5h1M10 490.5h1M9 491.5h1M7 495.5h1M7 500.5h1M8 502.5h1"/>
<path stroke="#ff8e8a" d="M2 3.5h1M4 3.5h1M1 14.5h1M1 17.5h1M4 22.5h1M3 23.5h1M3 25.5h1M4 27.5h1M4 29.5h1M1 34.5h1M1 37.5h1M1 42.5h1M1 52.5h1M1 54.5h1M0 55.5h1M2 59.5h1M1 60.5h1M3 60.5h1M2 63.5h1M3 64.5h1M5 64.5h1M3 67.5h1M3 69.5h1M0 78.5h1M5 81.5h1M0 85.5h1M2 89.5h1M2 98.5h1M4 102.5h1M3 105.5h1M2 109.5h1M2 110.5h1M0 111.5h1M0 113.5h1M0 120.5h1M3 122.5h1M0 127.5h1M0 134.5h1M10 140.5h1M9 158.5h1M10 175.5h1M10 177.5h1M10 179.5h1M10 184.5h1M10 189.5h1M9 196.5h1M9 197.5h1M9 220.5h1M9 223.5h1M11 252.5h1M11 254.5h1M6 255.5h1M10 255.5h1M11 259.5h1M11 260.5h1M11 267.5h1M11 270.5h1M11 272.5h1M11 273.5h1M11 275.5h1M11 282.5h1M11 286.5h1M11 287.5h1M11 288.5h1M11 291.5h1M11 295.5h1M11 296.5h1M11 298.5h1M11 300.5h1M9 309.5h1M11 320.5h1M11 323.5h1M11 327.5h1M9 330.5h1M9 340.5h1M10 353.5h1M10 355.5h1M11 356.5h1M10 357.5h1M11 358.5h1M10 361.5h1M9 362.5h1M10 363.5h1M11 364.5h1M9 365.5h1M11 370.5h1M11 371.5h1M9 376.5h2M9 377.5h1M10 378.5h2M11 381.5h1M9 383.5h1M11 384.5h1M3 396.5h1M3 401.5h1M9 401.5h1M3 402.5h1M11 414.5h1M11 417.5h1M11 422.5h1M9 423.5h1M6 425.5h1M10 425.5h1M6 426.5h1M6 429.5h1M6 431.5h1M6 434.5h1M6 445.5h1M6 446.5h1M6 454.5h1M10 470.5h1M6 476.5h1M9 476.5h1M6 482.5h1M6 485.5h1M6 486.5h1M10 488.5h1M10 492.5h1M7 494.5h2M8 499.5h1M7 501.5h1M8 504.5h1M7 508.5h1M7 509.5h1M8 513.5h1M8 516.5h1"/>
<path stroke="#ff837e" d="M2 0.5h1M2 4.5h1M4 6.5h1M1 19.5h1M1 20.5h1M0 25.5h1M5 26.5h1M4 28.5h1M5 29.5h1M1 41.5h1M1 44.5h1M4 45.5h1M1 48.5h1M4 52.5h1M3 57.5h1M3 58.5h1M5 66.5h1M3 72.5h1M1 73.5h1M3 73.5h1M0 75.5h1M2 76.5h1M3 79.5h1M2 80.5h1M2 81.5h1M2 84.5h1M1 85.5h1M4 85.5h1M2 86.5h1M4 87.5h1M0 88.5h1M2 88.5h1M0 91.5h1M0 92.5h1M0 94.5h1M2 100.5h1M3 107.5h1M5 111.5h1M3 134.5h1M10 135.5h1M10 148.5h1M10 154.5h1M9 168.5h1M10 169.5h1M9 173.5h1M9 181.5h1M9 182.5h1M9 183.5h1M9 189.5h1M9 191.5h1M9 194.5h1M11 251.5h1M11 263.5h1M11 266.5h1M11 271.5h1M11 290.5h1M11 297.5h1M11 301.5h1M9 311.5h1M11 316.5h1M11 324.5h1M9 331.5h1M9 333.5h1M9 341.5h1M11 348.5h1M10 352.5h2M11 353.5h1M11 357.5h1M11 362.5h1M9 364.5h1M9 367.5h1M10 371.5h1M10 372.5h1M11 373.5h1M10 377.5h1M9 378.5h1M10 380.5h1M11 382.5h1M1 388.5h1M1 389.5h1M3 395.5h1M3 398.5h1M9 398.5h1M11 403.5h1M9 404.5h1M11 415.5h1M11 416.5h1M11 419.5h1M9 421.5h1M9 425.5h1M6 428.5h1M10 432.5h1M6 439.5h1M6 443.5h1M9 443.5h1M6 444.5h1M9 444.5h2M9 445.5h1M9 446.5h1M6 450.5h1M6 453.5h1M9 457.5h1M9 461.5h1M9 462.5h1M11 470.5h1M10 476.5h1M10 477.5h1M10 478.5h1M10 480.5h1M10 484.5h1M9 486.5h1M6 488.5h1M6 489.5h1M6 491.5h1M7 499.5h1M8 506.5h1M8 508.5h1M8 509.5h1"/>
<path stroke="#ff7872" d="M1 16.5h1M1 21.5h1M3 26.5h1M1 27.5h1M0 32.5h1M4 34.5h1M1 36.5h1M4 38.5h1M4 44.5h1M1 49.5h1M4 49.5h1M4 51.5h1M3 62.5h1M5 62.5h1M3 65.5h1M5 65.5h1M3 66.5h1M3 74.5h1M3 75.5h1M0 77.5h1M2 77.5h1M2 79.5h1M0 82.5h1M2 82.5h1M4 82.5h1M2 83.5h1M5 85.5h1M5 90.5h1M2 96.5h1M5 97.5h1M4 99.5h2M5 103.5h1M5 104.5h1M3 108.5h1M5 108.5h1M3 109.5h1M5 109.5h1M0 130.5h1M0 131.5h1M9 166.5h1M9 167.5h1M9 170.5h1M9 179.5h1M9 187.5h1M9 188.5h1M9 192.5h1M9 201.5h1M9 215.5h1M9 216.5h1M11 250.5h1M11 253.5h1M11 255.5h1M11 261.5h1M9 282.5h1M9 284.5h1M9 292.5h1M11 294.5h1M9 307.5h1M11 312.5h1M10 314.5h1M11 318.5h1M9 324.5h1M11 325.5h1M11 326.5h1M11 328.5h1M9 332.5h1M9 334.5h1M9 335.5h1M9 336.5h1M10 343.5h1M10 346.5h1M11 347.5h1M9 349.5h1M9 358.5h1M9 360.5h1M11 360.5h1M10 364.5h1M10 367.5h2M10 370.5h1M9 371.5h1M9 372.5h1M10 373.5h1M11 375.5h1M10 379.5h1M9 382.5h1M11 385.5h1M9 386.5h1M3 394.5h1M3 400.5h1M10 426.5h1M6 427.5h1M10 427.5h1M9 431.5h1M10 435.5h1M9 436.5h1M10 437.5h1M9 438.5h1M10 440.5h1M10 441.5h1M6 448.5h1M9 451.5h1M6 452.5h1M9 452.5h1M10 457.5h1M9 458.5h1M9 460.5h1M9 471.5h1M10 475.5h1M9 477.5h1M9 478.5h1M10 479.5h1M6 481.5h1M6 483.5h1M10 483.5h1M6 484.5h1M6 487.5h1M9 488.5h1M6 490.5h1M6 492.5h1M7 506.5h1M8 512.5h1"/>
<path stroke="#ff6d66" d="M4 25.5h1M0 30.5h1M1 32.5h1M1 33.5h1M4 37.5h1M4 41.5h1M4 42.5h1M4 47.5h1M1 50.5h1M4 50.5h1M1 56.5h1M3 61.5h1M0 74.5h1M2 85.5h1M5 98.5h1M5 106.5h1M3 121.5h1M2 122.5h1M3 123.5h1M0 128.5h1M3 133.5h1M11 151.5h1M9 160.5h1M9 165.5h1M9 171.5h1M9 172.5h1M9 174.5h1M9 185.5h1M9 186.5h1M9 193.5h1M9 195.5h1M9 198.5h1M9 203.5h1M11 257.5h1M11 268.5h1M9 281.5h1M11 289.5h1M11 304.5h1M11 306.5h1M11 311.5h1M9 312.5h1M11 315.5h1M9 319.5h1M11 322.5h1M9 326.5h1M11 337.5h1M9 338.5h1M9 343.5h1M11 343.5h1M9 345.5h3M9 346.5h1M9 347.5h1M9 348.5h1M10 349.5h1M11 350.5h1M11 351.5h1M10 359.5h1M10 360.5h1M9 361.5h1M10 365.5h1M9 369.5h3M9 375.5h2M9 381.5h1M10 384.5h1M9 395.5h1M9 397.5h1M9 399.5h1M9 400.5h1M9 402.5h1M9 406.5h1M11 411.5h1M11 421.5h1M11 423.5h1M11 424.5h1M9 426.5h1M10 428.5h1M10 430.5h1M9 442.5h1M9 447.5h1M9 449.5h1M9 450.5h1M9 467.5h1M9 474.5h1M9 479.5h1M9 483.5h1M9 485.5h1M9 489.5h1M9 490.5h1M7 493.5h1M8 510.5h1M8 517.5h1"/>
<path stroke="#ff615a" d="M1 23.5h1M4 23.5h1M4 24.5h1M4 35.5h1M1 47.5h1M4 48.5h1M4 54.5h1M1 55.5h1M4 56.5h1M3 63.5h1M0 76.5h1M2 78.5h1M2 87.5h1M5 100.5h1M5 102.5h1M5 105.5h1M5 107.5h1M2 118.5h1M2 119.5h1M2 120.5h1M3 124.5h1M10 153.5h1M10 155.5h1M11 158.5h1M9 159.5h1M9 161.5h1M9 164.5h1M11 173.5h1M9 176.5h1M9 177.5h1M9 178.5h1M9 184.5h1M11 191.5h1M9 200.5h1M11 236.5h1M9 239.5h1M9 249.5h1M9 283.5h1M9 285.5h1M9 287.5h1M9 300.5h1M11 302.5h1M11 317.5h1M9 318.5h1M9 321.5h1M9 325.5h1M11 331.5h1M10 336.5h1M10 337.5h1M11 339.5h1M10 344.5h2M10 347.5h1M9 354.5h1M9 355.5h1M9 359.5h1M9 368.5h1M9 373.5h1M9 380.5h1M10 382.5h1M4 392.5h1M9 403.5h1M11 408.5h1M11 409.5h1M11 410.5h1M11 413.5h1M11 418.5h1M11 420.5h1M9 428.5h1M6 430.5h1M9 432.5h1M9 439.5h1M9 441.5h1M9 448.5h1M9 453.5h1M9 454.5h1M9 470.5h1M9 481.5h2M9 482.5h1M9 484.5h1M9 487.5h1M9 492.5h1M6 503.5h1"/>
<path stroke="#ff564f" d="M1 22.5h1M4 26.5h1M1 30.5h1M4 31.5h1M4 32.5h1M4 33.5h1M4 39.5h1M4 40.5h1M4 43.5h1M1 51.5h1M1 53.5h1M4 53.5h1M5 110.5h1M2 121.5h1M3 128.5h1M11 135.5h1M9 156.5h1M9 157.5h1M11 164.5h1M11 168.5h1M11 171.5h1M11 172.5h1M9 190.5h1M11 196.5h1M9 199.5h1M11 200.5h1M9 243.5h1M9 247.5h1M11 265.5h1M9 267.5h1M9 275.5h1M9 290.5h1M9 297.5h1M9 299.5h1M11 303.5h1M9 304.5h1M9 305.5h1M11 309.5h1M9 310.5h1M9 315.5h1M11 321.5h1M9 323.5h1M11 332.5h1M11 334.5h1M10 339.5h1M10 340.5h1M9 342.5h2M10 348.5h1M9 350.5h2M9 352.5h1M9 353.5h1M9 357.5h1M10 366.5h1M11 368.5h1M9 370.5h1M10 374.5h2M9 379.5h1M10 381.5h1M10 383.5h1M9 396.5h1M9 405.5h1M9 430.5h1M9 433.5h1M9 434.5h1M9 437.5h1M9 473.5h1M6 497.5h1M8 511.5h1M6 512.5h1"/>
<path stroke="#ff4b43" d="M1 25.5h1M1 26.5h1M4 36.5h1M5 101.5h1M3 125.5h1M3 130.5h1M3 131.5h1M11 145.5h1M11 150.5h1M9 162.5h1M9 163.5h1M11 178.5h1M11 192.5h1M11 197.5h1M11 198.5h1M11 202.5h1M11 230.5h1M9 248.5h1M9 265.5h1M9 266.5h1M9 270.5h1M9 277.5h1M9 294.5h1M9 302.5h1M9 303.5h1M11 305.5h1M9 306.5h1M9 308.5h1M11 310.5h1M9 313.5h1M9 314.5h1M11 314.5h1M11 319.5h1M9 320.5h1M9 328.5h1M9 329.5h1M10 338.5h1M10 341.5h2M11 342.5h1M11 359.5h1M9 366.5h1M9 374.5h1M9 384.5h1M9 385.5h1M10 386.5h1M9 393.5h1M9 394.5h1M9 407.5h1M9 440.5h1M6 493.5h1M6 500.5h1M6 505.5h1M6 509.5h1M6 510.5h1"/>
<path stroke="#ff4037" d="M1 24.5h1M0 73.5h1M3 126.5h1M3 127.5h1M3 129.5h1M3 132.5h1M11 141.5h1M11 154.5h1M11 156.5h1M11 157.5h1M11 159.5h1M11 161.5h1M11 166.5h1M11 167.5h1M9 169.5h1M11 169.5h1M11 170.5h1M11 179.5h1M11 181.5h1M11 182.5h1M11 187.5h1M11 189.5h1M11 193.5h1M11 194.5h1M11 201.5h1M11 211.5h1M11 225.5h1M11 228.5h1M11 231.5h1M11 232.5h1M9 238.5h1M9 240.5h1M9 268.5h1M9 286.5h1M9 291.5h1M9 293.5h1M9 298.5h1M11 307.5h1M11 313.5h1M9 316.5h1M11 330.5h1M11 335.5h1M11 336.5h1M11 340.5h1M9 351.5h2M9 435.5h1M9 472.5h1M9 480.5h1M6 499.5h1M6 502.5h1M6 513.5h1M6 514.5h1M6 515.5h1"/>
<path stroke="#ff352c" d="M11 138.5h1M11 143.5h1M11 144.5h1M11 152.5h1M11 155.5h1M11 175.5h1M11 190.5h1M11 199.5h1M11 205.5h1M11 214.5h1M11 218.5h1M11 229.5h1M11 233.5h1M9 237.5h1M9 241.5h1M9 244.5h1M9 250.5h1M9 269.5h1M9 271.5h1M9 272.5h1M9 274.5h1M9 276.5h1M9 295.5h1M9 296.5h1M9 301.5h1M11 308.5h1M9 317.5h1M9 322.5h1M9 327.5h1M11 333.5h1M11 338.5h1M9 344.5h1M6 496.5h1M6 498.5h1M6 501.5h1M6 504.5h1M6 507.5h1M6 508.5h1M6 516.5h1M6 517.5h1"/>
<path stroke="#ff2920" d="M11 136.5h1M11 139.5h1M11 146.5h1M11 148.5h1M11 160.5h1M11 162.5h1M11 180.5h1M11 183.5h1M11 184.5h1M11 188.5h1M11 195.5h1M11 212.5h1M11 213.5h1M11 215.5h1M11 216.5h1M11 217.5h1M11 221.5h1M11 222.5h1M11 226.5h1M11 234.5h1M11 235.5h1M9 242.5h1M9 251.5h1M9 252.5h1M9 273.5h1M9 278.5h1M9 288.5h1M10 368.5h1M6 506.5h1"/>
<path stroke="#ff1e14" d="M11 137.5h1M11 140.5h1M11 142.5h1M11 147.5h1M11 149.5h1M11 153.5h1M11 163.5h1M11 165.5h1M11 174.5h1M11 176.5h1M11 177.5h1M11 185.5h1M11 186.5h1M11 203.5h1M11 204.5h1M11 206.5h1M11 207.5h1M11 208.5h1M11 209.5h1M11 210.5h1M11 219.5h1M11 220.5h1M11 223.5h1M11 224.5h1M11 227.5h1M9 245.5h1M9 246.5h1M9 253.5h1M9 254.5h1M9 255.5h1M9 256.5h1M9 257.5h1M9 258.5h1M9 259.5h1M9 260.5h1M9 261.5h1M9 262.5h1M9 263.5h1M9 264.5h1M9 279.5h1M9 280.5h1M9 289.5h1M10 385.5h1M6 494.5h1M6 495.5h1M6 511.5h1"/>
</g>
<rect x="40.3" y="555.2" width="127.9" height="15.3" fill="#9edc2b"/>
<rect x="167.9" y="555.2" width="127.9" height="15.3" fill="#f08a86"/>
<rect x="295.6" y="555.2" width="127.9" height="15.3" fill="#6ff9e8"/>
<rect x="423.2" y="555.2" width="127.6" height="15.3" fill="#dd97f8"/>
<text transform="translate(296.1 542.7) scale(0.830 1.000)" font-size="21" font-weight="bold" text-anchor="middle">Heatmap</text>
<text transform="translate(555.8 567.5)" font-size="12.6" font-weight="bold">Day</text>
<defs><linearGradient id="hmg" x1="0" y1="0" x2="0" y2="1"><stop offset="0" stop-color="#ff1e14"/><stop offset="0.5" stop-color="#ffffff"/><stop offset="1" stop-color="#1400ff"/></linearGradient></defs>
<rect x="557.9" y="575.2" width="13.7" height="229.3" fill="url(#hmg)"/>
<text transform="translate(576.5 582.3)" font-size="13.4">3</text>
<text transform="translate(576.5 619.8)" font-size="13.4">2</text>
<text transform="translate(576.5 657.3)" font-size="13.4">1</text>
<text transform="translate(576.5 694.7)" font-size="13.4">0</text>
<text transform="translate(576.5 732.2)" font-size="13.4">−1</text>
<text transform="translate(576.5 769.7)" font-size="13.4">−2</text>
<text transform="translate(576.5 807.2)" font-size="13.4">−3</text>
<text transform="translate(67.6 1104) rotate(-49)" font-size="14.7" text-anchor="end">Ctrl_1</text>
<text transform="translate(110.1 1104) rotate(-49)" font-size="14.7" text-anchor="end">Ctrl_2</text>
<text transform="translate(152.7 1104) rotate(-49)" font-size="14.7" text-anchor="end">Ctrl_3</text>
<text transform="translate(195.2 1104) rotate(-49)" font-size="14.7" text-anchor="end">Ctrl_co_1</text>
<text transform="translate(237.8 1104) rotate(-49)" font-size="14.7" text-anchor="end">Ctrl_co_2</text>
<text transform="translate(280.3 1104) rotate(-49)" font-size="14.7" text-anchor="end">Ctrl_co_3</text>
<text transform="translate(322.9 1104) rotate(-49)" font-size="14.7" text-anchor="end">NTP_6h_1</text>
<text transform="translate(365.4 1104) rotate(-49)" font-size="14.7" text-anchor="end">NTP_6h_2</text>
<text transform="translate(408 1104) rotate(-49)" font-size="14.7" text-anchor="end">NTP_6h_3</text>
<text transform="translate(450.5 1104) rotate(-49)" font-size="14.7" text-anchor="end">NTP_co_6h_1</text>
<text transform="translate(493.1 1104) rotate(-49)" font-size="14.7" text-anchor="end">NTP_co_6h_2</text>
<text transform="translate(535.6 1104) rotate(-49)" font-size="14.7" text-anchor="end">NTP_co_6h_3</text>
<path d="M877.5 540.3L877.5 1140.2" stroke="#f2f2f2" stroke-width="0.6"/>
<path d="M928.7 540.3L928.7 1140.2" stroke="#f2f2f2" stroke-width="0.6"/>
<path d="M980 540.3L980 1140.2" stroke="#f2f2f2" stroke-width="0.6"/>
<path d="M1031.3 540.3L1031.3 1140.2" stroke="#f2f2f2" stroke-width="0.6"/>
<path d="M1082.5 540.3L1082.5 1140.2" stroke="#f2f2f2" stroke-width="0.6"/>
<path d="M903.1 540.3L903.1 1140.2" stroke="#ebebeb" stroke-width="1.1"/>
<path d="M954.4 540.3L954.4 1140.2" stroke="#ebebeb" stroke-width="1.1"/>
<path d="M1005.6 540.3L1005.6 1140.2" stroke="#ebebeb" stroke-width="1.1"/>
<path d="M1056.9 540.3L1056.9 1140.2" stroke="#ebebeb" stroke-width="1.1"/>
<path d="M1108.2 540.3L1108.2 1140.2" stroke="#ebebeb" stroke-width="1.1"/>
<path d="M868.3 558L1119.3 558" stroke="#ebebeb" stroke-width="1.1"/>
<path d="M868.3 587.7L1119.3 587.7" stroke="#ebebeb" stroke-width="1.1"/>
<path d="M868.3 617.5L1119.3 617.5" stroke="#ebebeb" stroke-width="1.1"/>
<path d="M868.3 647.2L1119.3 647.2" stroke="#ebebeb" stroke-width="1.1"/>
<path d="M868.3 676.9L1119.3 676.9" stroke="#ebebeb" stroke-width="1.1"/>
<path d="M868.3 706.6L1119.3 706.6" stroke="#ebebeb" stroke-width="1.1"/>
<path d="M868.3 736.4L1119.3 736.4" stroke="#ebebeb" stroke-width="1.1"/>
<path d="M868.3 766.1L1119.3 766.1" stroke="#ebebeb" stroke-width="1.1"/>
<path d="M868.3 795.8L1119.3 795.8" stroke="#ebebeb" stroke-width="1.1"/>
<path d="M868.3 825.6L1119.3 825.6" stroke="#ebebeb" stroke-width="1.1"/>
<path d="M868.3 855.3L1119.3 855.3" stroke="#ebebeb" stroke-width="1.1"/>
<path d="M868.3 885L1119.3 885" stroke="#ebebeb" stroke-width="1.1"/>
<path d="M868.3 914.8L1119.3 914.8" stroke="#ebebeb" stroke-width="1.1"/>
<path d="M868.3 944.5L1119.3 944.5" stroke="#ebebeb" stroke-width="1.1"/>
<path d="M868.3 974.2L1119.3 974.2" stroke="#ebebeb" stroke-width="1.1"/>
<path d="M868.3 1004L1119.3 1004" stroke="#ebebeb" stroke-width="1.1"/>
<path d="M868.3 1033.7L1119.3 1033.7" stroke="#ebebeb" stroke-width="1.1"/>
<path d="M868.3 1063.4L1119.3 1063.4" stroke="#ebebeb" stroke-width="1.1"/>
<path d="M868.3 1093.1L1119.3 1093.1" stroke="#ebebeb" stroke-width="1.1"/>
<path d="M868.3 1122.9L1119.3 1122.9" stroke="#ebebeb" stroke-width="1.1"/>
<circle cx="879.4" cy="558" r="9.6" fill="#2203fe"/>
<circle cx="938.9" cy="587.7" r="7.5" fill="#e2235e"/>
<circle cx="913.4" cy="617.5" r="7.4" fill="#b325c1"/>
<circle cx="891.9" cy="647.2" r="7.3" fill="#2b05fd"/>
<circle cx="1009.3" cy="676.9" r="7.2" fill="#fd1b16"/>
<circle cx="926.1" cy="706.6" r="7.1" fill="#b124c5"/>
<circle cx="984.5" cy="736.4" r="6.6" fill="#df2465"/>
<circle cx="971.1" cy="766.1" r="6.6" fill="#d4257f"/>
<circle cx="963.7" cy="795.8" r="6.6" fill="#cd268e"/>
<circle cx="957.3" cy="825.6" r="6.7" fill="#cd268e"/>
<circle cx="965.7" cy="855.3" r="6.1" fill="#b625bd"/>
<circle cx="914.4" cy="885" r="6.2" fill="#3d09fc"/>
<circle cx="1108" cy="914.8" r="5.4" fill="#d82574"/>
<circle cx="1065" cy="944.5" r="5.5" fill="#ca2796"/>
<circle cx="1049" cy="974.2" r="5.4" fill="#c328a5"/>
<circle cx="979.8" cy="1004" r="5.4" fill="#9f20e5"/>
<circle cx="968.4" cy="1033.7" r="5.4" fill="#981ef1"/>
<circle cx="954.3" cy="1063.4" r="5.4" fill="#841af6"/>
<circle cx="988.5" cy="1093.1" r="4.6" fill="#4f0efa"/>
<circle cx="1108" cy="1122.9" r="2.7" fill="#2b05fd"/>
<rect x="868.3" y="540.3" width="251" height="599.9" fill="none" stroke="#333333" stroke-width="1.1"/>
<path d="M864 558L868.3 558" stroke="#333333" stroke-width="1.1"/>
<text transform="translate(860.3 562.8)" font-size="13.6" text-anchor="end" fill="#4d4d4d">cytokine−mediated signaling pathway</text>
<path d="M864 587.7L868.3 587.7" stroke="#333333" stroke-width="1.1"/>
<text transform="translate(860.3 592.5)" font-size="13.6" text-anchor="end" fill="#4d4d4d">response to unfolded protein</text>
<path d="M864 617.5L868.3 617.5" stroke="#333333" stroke-width="1.1"/>
<text transform="translate(860.3 622.3)" font-size="13.6" text-anchor="end" fill="#4d4d4d">response to endoplasmic reticulum stress</text>
<path d="M864 647.2L868.3 647.2" stroke="#333333" stroke-width="1.1"/>
<text transform="translate(860.3 652)" font-size="13.6" text-anchor="end" fill="#4d4d4d">unfolded protein binding</text>
<path d="M864 676.9L868.3 676.9" stroke="#333333" stroke-width="1.1"/>
<text transform="translate(860.3 681.7)" font-size="13.6" text-anchor="end" fill="#4d4d4d">cellular response to unfolded protein</text>
<path d="M864 706.6L868.3 706.6" stroke="#333333" stroke-width="1.1"/>
<text transform="translate(860.3 711.4)" font-size="13.6" text-anchor="end" fill="#4d4d4d">cellular response to heat</text>
<path d="M864 736.4L868.3 736.4" stroke="#333333" stroke-width="1.1"/>
<text transform="translate(860.3 741.2)" font-size="13.6" text-anchor="end" fill="#4d4d4d">misfolded protein binding</text>
<path d="M864 766.1L868.3 766.1" stroke="#333333" stroke-width="1.1"/>
<text transform="translate(860.3 770.9)" font-size="13.6" text-anchor="end" fill="#4d4d4d">mitogen−activated protein kinase binding</text>
<path d="M864 795.8L868.3 795.8" stroke="#333333" stroke-width="1.1"/>
<text transform="translate(860.3 793.3)" font-size="13.6" text-anchor="end" fill="#4d4d4d">chaperone cofactor−dependent protein</text>
<text transform="translate(860.3 808)" font-size="13.6" text-anchor="end" fill="#4d4d4d">refolding</text>
<path d="M864 825.6L868.3 825.6" stroke="#333333" stroke-width="1.1"/>
<text transform="translate(860.3 823)" font-size="13.6" text-anchor="end" fill="#4d4d4d">intrinsic apoptotic signaling pathway in</text>
<text transform="translate(860.3 837.7)" font-size="13.6" text-anchor="end" fill="#4d4d4d">response to endoplasmic reticulum stress</text>
<path d="M864 855.3L868.3 855.3" stroke="#333333" stroke-width="1.1"/>
<text transform="translate(860.3 860.1)" font-size="13.6" text-anchor="end" fill="#4d4d4d">protein folding chaperone</text>
<path d="M864 885L868.3 885" stroke="#333333" stroke-width="1.1"/>
<text transform="translate(860.3 882.5)" font-size="13.6" text-anchor="end" fill="#4d4d4d">endoplasmic reticulum unfolded protein</text>
<text transform="translate(860.3 897.2)" font-size="13.6" text-anchor="end" fill="#4d4d4d">response</text>
<path d="M864 914.8L868.3 914.8" stroke="#333333" stroke-width="1.1"/>
<text transform="translate(860.3 912.2)" font-size="13.6" text-anchor="end" fill="#4d4d4d">protein tyrosine/threonine phosphatase</text>
<text transform="translate(860.3 926.9)" font-size="13.6" text-anchor="end" fill="#4d4d4d">activity</text>
<path d="M864 944.5L868.3 944.5" stroke="#333333" stroke-width="1.1"/>
<text transform="translate(860.3 949.3)" font-size="13.6" text-anchor="end" fill="#4d4d4d">PERK−mediated unfolded protein response</text>
<path d="M864 974.2L868.3 974.2" stroke="#333333" stroke-width="1.1"/>
<text transform="translate(860.3 971.7)" font-size="13.6" text-anchor="end" fill="#4d4d4d">MAP kinase tyrosine/serine/threonine</text>
<text transform="translate(860.3 986.4)" font-size="13.6" text-anchor="end" fill="#4d4d4d">phosphatase activity</text>
<path d="M864 1004L868.3 1004" stroke="#333333" stroke-width="1.1"/>
<text transform="translate(860.3 1008.8)" font-size="13.6" text-anchor="end" fill="#4d4d4d">protein refolding</text>
<path d="M864 1033.7L868.3 1033.7" stroke="#333333" stroke-width="1.1"/>
<text transform="translate(860.3 1038.5)" font-size="13.6" text-anchor="end" fill="#4d4d4d">peptidyl−threonine dephosphorylation</text>
<path d="M864 1063.4L868.3 1063.4" stroke="#333333" stroke-width="1.1"/>
<text transform="translate(860.3 1068.2)" font-size="13.6" text-anchor="end" fill="#4d4d4d">inactivation of MAPK activity</text>
<path d="M864 1093.1L868.3 1093.1" stroke="#333333" stroke-width="1.1"/>
<text transform="translate(860.3 1097.9)" font-size="13.6" text-anchor="end" fill="#4d4d4d">glucocorticoid receptor binding</text>
<path d="M864 1122.9L868.3 1122.9" stroke="#333333" stroke-width="1.1"/>
<text transform="translate(860.3 1127.7)" font-size="13.6" text-anchor="end" fill="#4d4d4d">cellular heat acclimation</text>
<path d="M903.1 1140.2L903.1 1143.7" stroke="#333333" stroke-width="1.1"/>
<text transform="translate(903.1 1156.5)" font-size="12.6" text-anchor="middle" fill="#4d4d4d">0.1</text>
<path d="M954.4 1140.2L954.4 1143.7" stroke="#333333" stroke-width="1.1"/>
<text transform="translate(954.4 1156.5)" font-size="12.6" text-anchor="middle" fill="#4d4d4d">0.2</text>
<path d="M1005.6 1140.2L1005.6 1143.7" stroke="#333333" stroke-width="1.1"/>
<text transform="translate(1005.6 1156.5)" font-size="12.6" text-anchor="middle" fill="#4d4d4d">0.3</text>
<path d="M1056.9 1140.2L1056.9 1143.7" stroke="#333333" stroke-width="1.1"/>
<text transform="translate(1056.9 1156.5)" font-size="12.6" text-anchor="middle" fill="#4d4d4d">0.4</text>
<path d="M1108.2 1140.2L1108.2 1143.7" stroke="#333333" stroke-width="1.1"/>
<text transform="translate(1108.2 1156.5)" font-size="12.6" text-anchor="middle" fill="#4d4d4d">0.5</text>
<text transform="translate(993.7 1175.2) scale(1.040 1.000)" font-size="15.3" text-anchor="middle">GeneRatio</text>
<text transform="translate(993.4 529.3)" font-size="19.3" font-weight="bold" text-anchor="middle">NTP−Coculture/NTP  GO_anaysis</text>
<defs><linearGradient id="dpg" x1="0" y1="0" x2="0" y2="1"><stop offset="0.00" stop-color="#ff1a10"/><stop offset="0.10" stop-color="#f31e30"/><stop offset="0.20" stop-color="#e82250"/><stop offset="0.30" stop-color="#dc246c"/><stop offset="0.40" stop-color="#d02687"/><stop offset="0.50" stop-color="#c528a2"/><stop offset="0.60" stop-color="#b525be"/><stop offset="0.70" stop-color="#a521da"/><stop offset="0.80" stop-color="#921df5"/><stop offset="0.90" stop-color="#530ffa"/><stop offset="1.00" stop-color="#1400ff"/></linearGradient></defs>
<text transform="translate(1142.3 698.8)" font-size="13.7">−log10(P_Value)</text>
<rect x="1142" y="711.9" width="24" height="116.1" fill="url(#dpg)"/>
<path d="M1142 738.7L1146.5 738.7" stroke="#ffffff" stroke-width="0.8" stroke-opacity="0.6"/>
<path d="M1161.5 738.7L1166 738.7" stroke="#ffffff" stroke-width="0.8" stroke-opacity="0.6"/>
<text transform="translate(1173.3 743.5)" font-size="13.4">6</text>
<path d="M1142 771.5L1146.5 771.5" stroke="#ffffff" stroke-width="0.8" stroke-opacity="0.6"/>
<path d="M1161.5 771.5L1166 771.5" stroke="#ffffff" stroke-width="0.8" stroke-opacity="0.6"/>
<text transform="translate(1173.3 776.3)" font-size="13.4">5</text>
<path d="M1142 804.2L1146.5 804.2" stroke="#ffffff" stroke-width="0.8" stroke-opacity="0.6"/>
<path d="M1161.5 804.2L1166 804.2" stroke="#ffffff" stroke-width="0.8" stroke-opacity="0.6"/>
<text transform="translate(1173.3 809)" font-size="13.4">4</text>
<text transform="translate(1142.3 870)" font-size="13.9">Count</text>
<circle cx="1154" cy="891.8" r="2.4"/>
<text transform="translate(1173.3 896.6)" font-size="13.4">3</text>
<circle cx="1154" cy="915" r="6"/>
<text transform="translate(1173.3 919.8)" font-size="13.4">6</text>
<circle cx="1154" cy="938.3" r="7.7"/>
<text transform="translate(1173.3 943.1)" font-size="13.4">9</text>
<circle cx="1154" cy="961.7" r="8.9"/>
<text transform="translate(1173.3 966.5)" font-size="13.4">12</text>
<circle cx="1154" cy="985.1" r="9.9"/>
<text transform="translate(1173.3 989.9)" font-size="13.4">15</text>
<clipPath id="cp10"><rect x="154.2" y="1281.4" width="322.4" height="62.8"/></clipPath>
<g clip-path="url(#cp10)">
<rect x="154.2" y="1281.4" width="322.4" height="62.8" fill="#969696"/>
<linearGradient id="sg10" x1="0" y1="0" x2="1" y2="0"><stop offset="0.000" stop-color="#8b8b8b"/><stop offset="0.042" stop-color="#949494"/><stop offset="0.083" stop-color="#949494"/><stop offset="0.125" stop-color="#979797"/><stop offset="0.167" stop-color="#959595"/><stop offset="0.208" stop-color="#969696"/><stop offset="0.250" stop-color="#989898"/><stop offset="0.292" stop-color="#989898"/><stop offset="0.333" stop-color="#979797"/><stop offset="0.375" stop-color="#959595"/><stop offset="0.417" stop-color="#949494"/><stop offset="0.458" stop-color="#949494"/><stop offset="0.500" stop-color="#959595"/><stop offset="0.542" stop-color="#969696"/><stop offset="0.583" stop-color="#949494"/><stop offset="0.625" stop-color="#939393"/><stop offset="0.667" stop-color="#979797"/><stop offset="0.708" stop-color="#919191"/><stop offset="0.750" stop-color="#969696"/><stop offset="0.792" stop-color="#979797"/><stop offset="0.833" stop-color="#949494"/><stop offset="0.875" stop-color="#939393"/><stop offset="0.917" stop-color="#949494"/><stop offset="0.958" stop-color="#989898"/><stop offset="1.000" stop-color="#8e8e8e"/></linearGradient>
<rect x="154.2" y="1281.4" width="322.4" height="62.8" fill="url(#sg10)"/>
<defs><filter id="bl15" x="-20%" y="-60%" width="140%" height="220%"><feGaussianBlur stdDeviation="1.5"/></filter></defs>
<g filter="url(#bl15)"><path d="M169.4 1309.5 C169.4 1304 171.6 1304 176 1304 C186 1304 189.2 1305.3 195.4 1305.3 C201.6 1305.3 204.8 1304 214.8 1304 C219.2 1304 221.4 1304 221.4 1309.5 C221.4 1315 219.2 1315 214.8 1315 C204.8 1315 201.6 1313.7 195.4 1313.7 C189.2 1313.7 186 1315 176 1315 C171.6 1315 169.4 1315 169.4 1309.5 Z" fill="#000" fill-opacity="1.00"/><path d="M247 1310.7 C247 1305.2 249.2 1305.2 253.6 1305.2 C264.6 1305.2 267.9 1306.2 274.5 1306.2 C281.1 1306.2 284.4 1305.2 295.4 1305.2 C299.8 1305.2 302 1305.2 302 1310.7 C302 1316.2 299.8 1316.2 295.4 1316.2 C284.4 1316.2 281.1 1315.2 274.5 1315.2 C267.9 1315.2 264.6 1316.2 253.6 1316.2 C249.2 1316.2 247 1316.2 247 1310.7 Z" fill="#000" fill-opacity="1.00"/><path d="M323.2 1310.3 C323.2 1303.8 325.8 1303.8 331 1303.8 C340.8 1303.8 344.1 1304.7 350.7 1304.7 C357.3 1304.7 360.6 1303.8 370.4 1303.8 C375.6 1303.8 378.2 1303.8 378.2 1310.3 C378.2 1316.8 375.6 1316.8 370.4 1316.8 C360.6 1316.8 357.3 1315.9 350.7 1315.9 C344.1 1315.9 340.8 1316.8 331 1316.8 C325.8 1316.8 323.2 1316.8 323.2 1310.3 Z" fill="#000" fill-opacity="1.00"/><path d="M404 1310.7 C404 1305 406.3 1305 410.9 1305 C421.9 1305 425.3 1306 432 1306 C438.7 1306 442.1 1305 453.1 1305 C457.7 1305 460 1305 460 1310.7 C460 1316.5 457.7 1316.5 453.1 1316.5 C442.1 1316.5 438.7 1315.4 432 1315.4 C425.3 1315.4 421.9 1316.5 410.9 1316.5 C406.3 1316.5 404 1316.5 404 1310.7 Z" fill="#000" fill-opacity="1.00"/></g>
</g>
<rect x="154.2" y="1281.4" width="322.4" height="62.8" fill="none" stroke="#111" stroke-width="1.3"/>
<clipPath id="cp11"><rect x="154.2" y="1351.4" width="322.4" height="74"/></clipPath>
<g clip-path="url(#cp11)">
<rect x="154.2" y="1351.4" width="322.4" height="74" fill="#d0d0d0"/>
<linearGradient id="sg11" x1="0" y1="0" x2="1" y2="0"><stop offset="0.000" stop-color="#c8c8c8"/><stop offset="0.042" stop-color="#d3d3d3"/><stop offset="0.083" stop-color="#d3d3d3"/><stop offset="0.125" stop-color="#cfcfcf"/><stop offset="0.167" stop-color="#cfcfcf"/><stop offset="0.208" stop-color="#cfcfcf"/><stop offset="0.250" stop-color="#d1d1d1"/><stop offset="0.292" stop-color="#d0d0d0"/><stop offset="0.333" stop-color="#d2d2d2"/><stop offset="0.375" stop-color="#cbcbcb"/><stop offset="0.417" stop-color="#d4d4d4"/><stop offset="0.458" stop-color="#d0d0d0"/><stop offset="0.500" stop-color="#d2d2d2"/><stop offset="0.542" stop-color="#d0d0d0"/><stop offset="0.583" stop-color="#cfcfcf"/><stop offset="0.625" stop-color="#d1d1d1"/><stop offset="0.667" stop-color="#d2d2d2"/><stop offset="0.708" stop-color="#cfcfcf"/><stop offset="0.750" stop-color="#d0d0d0"/><stop offset="0.792" stop-color="#d2d2d2"/><stop offset="0.833" stop-color="#cecece"/><stop offset="0.875" stop-color="#cccccc"/><stop offset="0.917" stop-color="#d1d1d1"/><stop offset="0.958" stop-color="#cecece"/><stop offset="1.000" stop-color="#c3c3c3"/></linearGradient>
<rect x="154.2" y="1351.4" width="322.4" height="74" fill="url(#sg11)"/>
<g filter="url(#bl15)"><path d="M172.7 1379.6 C172.7 1376.6 173.9 1376.6 176.3 1376.6 C187.7 1376.6 190.6 1377.6 196.2 1377.6 C201.8 1377.6 204.7 1376.6 216.1 1376.6 C218.5 1376.6 219.7 1376.6 219.7 1379.6 C219.7 1382.6 218.5 1382.6 216.1 1382.6 C204.7 1382.6 201.8 1381.5 196.2 1381.5 C190.6 1381.5 187.7 1382.6 176.3 1382.6 C173.9 1382.6 172.7 1382.6 172.7 1379.6 Z" fill="#000" fill-opacity="0.35"/><path d="M248.5 1379.6 C248.5 1376.6 249.7 1376.6 252.1 1376.6 C263.9 1376.6 266.7 1377.6 272.5 1377.6 C278.3 1377.6 281.1 1376.6 292.9 1376.6 C295.3 1376.6 296.5 1376.6 296.5 1379.6 C296.5 1382.6 295.3 1382.6 292.9 1382.6 C281.1 1382.6 278.3 1381.5 272.5 1381.5 C266.7 1381.5 263.9 1382.6 252.1 1382.6 C249.7 1382.6 248.5 1382.6 248.5 1379.6 Z" fill="#000" fill-opacity="0.30"/><path d="M322 1379.4 C322 1374.9 323.8 1374.9 327.4 1374.9 C338 1374.9 341 1376.2 347 1376.2 C353 1376.2 356 1374.9 366.6 1374.9 C370.2 1374.9 372 1374.9 372 1379.4 C372 1383.9 370.2 1383.9 366.6 1383.9 C356 1383.9 353 1382.6 347 1382.6 C341 1382.6 338 1383.9 327.4 1383.9 C323.8 1383.9 322 1383.9 322 1379.4 Z" fill="#000" fill-opacity="0.95"/><path d="M398.6 1378.2 C398.6 1374.5 400.1 1374.5 403.1 1374.5 C414.6 1374.5 417.6 1375.9 423.6 1375.9 C429.6 1375.9 432.6 1374.5 444.1 1374.5 C447.1 1374.5 448.6 1374.5 448.6 1378.2 C448.6 1382 447.1 1382 444.1 1382 C432.6 1382 429.6 1380.5 423.6 1380.5 C417.6 1380.5 414.6 1382 403.1 1382 C400.1 1382 398.6 1382 398.6 1378.2 Z" fill="#000" fill-opacity="0.80"/><path d="M171.3 1403.5 C171.3 1398.5 173.3 1398.5 177.3 1398.5 C187.9 1398.5 191.1 1399.7 197.3 1399.7 C203.5 1399.7 206.7 1398.5 217.3 1398.5 C221.3 1398.5 223.3 1398.5 223.3 1403.5 C223.3 1408.5 221.3 1408.5 217.3 1408.5 C206.7 1408.5 203.5 1407.3 197.3 1407.3 C191.1 1407.3 187.9 1408.5 177.3 1408.5 C173.3 1408.5 171.3 1408.5 171.3 1403.5 Z" fill="#000" fill-opacity="1.00"/><path d="M247 1403.5 C247 1399 248.8 1399 252.4 1399 C263.3 1399 266.4 1400.6 272.5 1400.6 C278.6 1400.6 281.7 1399 292.6 1399 C296.2 1399 298 1399 298 1403.5 C298 1408 296.2 1408 292.6 1408 C281.7 1408 278.6 1406.4 272.5 1406.4 C266.4 1406.4 263.3 1408 252.4 1408 C248.8 1408 247 1408 247 1403.5 Z" fill="#000" fill-opacity="0.95"/><path d="M319.9 1402.6 C319.9 1396.6 322.3 1396.6 327.1 1396.6 C337.5 1396.6 340.8 1397.9 347.4 1397.9 C354 1397.9 357.3 1396.6 367.7 1396.6 C372.5 1396.6 374.9 1396.6 374.9 1402.6 C374.9 1408.6 372.5 1408.6 367.7 1408.6 C357.3 1408.6 354 1407.3 347.4 1407.3 C340.8 1407.3 337.5 1408.6 327.1 1408.6 C322.3 1408.6 319.9 1408.6 319.9 1402.6 Z" fill="#000" fill-opacity="1.00"/><path d="M395.6 1400.8 C395.6 1396 397.5 1396 401.3 1396 C413.5 1396 416.9 1397.5 423.6 1397.5 C430.3 1397.5 433.7 1396 445.9 1396 C449.7 1396 451.6 1396 451.6 1400.8 C451.6 1405.5 449.7 1405.5 445.9 1405.5 C433.7 1405.5 430.3 1404.1 423.6 1404.1 C416.9 1404.1 413.5 1405.5 401.3 1405.5 C397.5 1405.5 395.6 1405.5 395.6 1400.8 Z" fill="#000" fill-opacity="1.00"/></g>
</g>
<rect x="154.2" y="1351.4" width="322.4" height="74" fill="none" stroke="#111" stroke-width="1.3"/>
<clipPath id="cp12"><rect x="154.2" y="1432.6" width="322.4" height="62.8"/></clipPath>
<g clip-path="url(#cp12)">
<rect x="154.2" y="1432.6" width="322.4" height="62.8" fill="#b2b2b2"/>
<linearGradient id="sg12" x1="0" y1="0" x2="1" y2="0"><stop offset="0.000" stop-color="#aaaaaa"/><stop offset="0.042" stop-color="#b5b5b5"/><stop offset="0.083" stop-color="#b4b4b4"/><stop offset="0.125" stop-color="#b4b4b4"/><stop offset="0.167" stop-color="#b6b6b6"/><stop offset="0.208" stop-color="#afafaf"/><stop offset="0.250" stop-color="#b0b0b0"/><stop offset="0.292" stop-color="#afafaf"/><stop offset="0.333" stop-color="#b2b2b2"/><stop offset="0.375" stop-color="#b4b4b4"/><stop offset="0.417" stop-color="#b2b2b2"/><stop offset="0.458" stop-color="#b3b3b3"/><stop offset="0.500" stop-color="#adadad"/><stop offset="0.542" stop-color="#b2b2b2"/><stop offset="0.583" stop-color="#b0b0b0"/><stop offset="0.625" stop-color="#b6b6b6"/><stop offset="0.667" stop-color="#b4b4b4"/><stop offset="0.708" stop-color="#b4b4b4"/><stop offset="0.750" stop-color="#b2b2b2"/><stop offset="0.792" stop-color="#b4b4b4"/><stop offset="0.833" stop-color="#b4b4b4"/><stop offset="0.875" stop-color="#b1b1b1"/><stop offset="0.917" stop-color="#b1b1b1"/><stop offset="0.958" stop-color="#b2b2b2"/><stop offset="1.000" stop-color="#a8a8a8"/></linearGradient>
<rect x="154.2" y="1432.6" width="322.4" height="62.8" fill="url(#sg12)"/>
<g filter="url(#bl15)"><path d="M177 1464.8 C177 1459.3 179.2 1459.3 183.6 1459.3 C194.9 1459.3 198.3 1460.3 205 1460.3 C211.7 1460.3 215.1 1459.3 226.4 1459.3 C230.8 1459.3 233 1459.3 233 1464.8 C233 1470.3 230.8 1470.3 226.4 1470.3 C215.1 1470.3 211.7 1469.3 205 1469.3 C198.3 1469.3 194.9 1470.3 183.6 1470.3 C179.2 1470.3 177 1470.3 177 1464.8 Z" fill="#000" fill-opacity="1.00"/><path d="M249.5 1464.8 C249.5 1459.3 251.7 1459.3 256.1 1459.3 C267.7 1459.3 271.2 1460.3 278 1460.3 C284.8 1460.3 288.3 1459.3 299.9 1459.3 C304.3 1459.3 306.5 1459.3 306.5 1464.8 C306.5 1470.3 304.3 1470.3 299.9 1470.3 C288.3 1470.3 284.8 1469.3 278 1469.3 C271.2 1469.3 267.7 1470.3 256.1 1470.3 C251.7 1470.3 249.5 1470.3 249.5 1464.8 Z" fill="#000" fill-opacity="1.00"/><path d="M321.7 1464.8 C321.7 1459.3 323.9 1459.3 328.3 1459.3 C340.3 1459.3 343.7 1460.4 350.7 1460.4 C357.7 1460.4 361.1 1459.3 373.1 1459.3 C377.5 1459.3 379.7 1459.3 379.7 1464.8 C379.7 1470.3 377.5 1470.3 373.1 1470.3 C361.1 1470.3 357.7 1469.2 350.7 1469.2 C343.7 1469.2 340.3 1470.3 328.3 1470.3 C323.9 1470.3 321.7 1470.3 321.7 1464.8 Z" fill="#000" fill-opacity="1.00"/><path d="M394.5 1464.8 C394.5 1458.8 396.9 1458.8 401.7 1458.8 C414 1458.8 417.7 1459.6 425 1459.6 C432.3 1459.6 436 1458.8 448.3 1458.8 C453.1 1458.8 455.5 1458.8 455.5 1464.8 C455.5 1470.8 453.1 1470.8 448.3 1470.8 C436 1470.8 432.3 1470 425 1470 C417.7 1470 414 1470.8 401.7 1470.8 C396.9 1470.8 394.5 1470.8 394.5 1464.8 Z" fill="#000" fill-opacity="1.00"/></g>
</g>
<rect x="154.2" y="1432.6" width="322.4" height="62.8" fill="none" stroke="#111" stroke-width="1.3"/>
<clipPath id="cp13"><rect x="154.2" y="1502.6" width="322.4" height="62.9"/></clipPath>
<g clip-path="url(#cp13)">
<rect x="154.2" y="1502.6" width="322.4" height="62.9" fill="#cecece"/>
<linearGradient id="sg13" x1="0" y1="0" x2="1" y2="0"><stop offset="0.000" stop-color="#cbcbcb"/><stop offset="0.042" stop-color="#c6c6c6"/><stop offset="0.083" stop-color="#d0d0d0"/><stop offset="0.125" stop-color="#cecece"/><stop offset="0.167" stop-color="#d1d1d1"/><stop offset="0.208" stop-color="#cfcfcf"/><stop offset="0.250" stop-color="#d3d3d3"/><stop offset="0.292" stop-color="#cecece"/><stop offset="0.333" stop-color="#cdcdcd"/><stop offset="0.375" stop-color="#cfcfcf"/><stop offset="0.417" stop-color="#cfcfcf"/><stop offset="0.458" stop-color="#cdcdcd"/><stop offset="0.500" stop-color="#cdcdcd"/><stop offset="0.542" stop-color="#d0d0d0"/><stop offset="0.583" stop-color="#d0d0d0"/><stop offset="0.625" stop-color="#cdcdcd"/><stop offset="0.667" stop-color="#cdcdcd"/><stop offset="0.708" stop-color="#c9c9c9"/><stop offset="0.750" stop-color="#d2d2d2"/><stop offset="0.792" stop-color="#cdcdcd"/><stop offset="0.833" stop-color="#d1d1d1"/><stop offset="0.875" stop-color="#cfcfcf"/><stop offset="0.917" stop-color="#d3d3d3"/><stop offset="0.958" stop-color="#d2d2d2"/><stop offset="1.000" stop-color="#c7c7c7"/></linearGradient>
<rect x="154.2" y="1502.6" width="322.4" height="62.9" fill="url(#sg13)"/>
<g filter="url(#bl15)"><path d="M168.5 1534.5 C168.5 1531 169.9 1531 172.7 1531 C185.5 1531 188.6 1532.1 195 1532.1 C201.4 1532.1 204.5 1531 217.3 1531 C220.1 1531 221.5 1531 221.5 1534.5 C221.5 1538 220.1 1538 217.3 1538 C204.5 1538 201.4 1536.9 195 1536.9 C188.6 1536.9 185.5 1538 172.7 1538 C169.9 1538 168.5 1538 168.5 1534.5 Z" fill="#000" fill-opacity="0.40"/><path d="M243 1534.5 C243 1531 244.4 1531 247.2 1531 C260 1531 263.1 1532.1 269.5 1532.1 C275.9 1532.1 279 1531 291.8 1531 C294.6 1531 296 1531 296 1534.5 C296 1538 294.6 1538 291.8 1538 C279 1538 275.9 1536.9 269.5 1536.9 C263.1 1536.9 260 1538 247.2 1538 C244.4 1538 243 1538 243 1534.5 Z" fill="#000" fill-opacity="0.38"/><path d="M316.9 1534.2 C316.9 1527.5 319.6 1527.5 325 1527.5 C335.8 1527.5 339.3 1527.9 346.4 1527.9 C353.5 1527.9 357 1527.5 367.8 1527.5 C373.2 1527.5 375.9 1527.5 375.9 1534.2 C375.9 1541 373.2 1541 367.8 1541 C357 1541 353.5 1540.5 346.4 1540.5 C339.3 1540.5 335.8 1541 325 1541 C319.6 1541 316.9 1541 316.9 1534.2 Z" fill="#000" fill-opacity="1.00"/><path d="M393.6 1533.8 C393.6 1529 395.5 1529 399.3 1529 C412.2 1529 415.6 1530.5 422.6 1530.5 C429.6 1530.5 433 1529 445.9 1529 C449.7 1529 451.6 1529 451.6 1533.8 C451.6 1538.5 449.7 1538.5 445.9 1538.5 C433 1538.5 429.6 1537.1 422.6 1537.1 C415.6 1537.1 412.2 1538.5 399.3 1538.5 C395.5 1538.5 393.6 1538.5 393.6 1533.8 Z" fill="#000" fill-opacity="0.95"/></g>
</g>
<rect x="154.2" y="1502.6" width="322.4" height="62.9" fill="none" stroke="#111" stroke-width="1.3"/>
<clipPath id="cp14"><rect x="154.2" y="1572.9" width="322.4" height="63.1"/></clipPath>
<g clip-path="url(#cp14)">
<rect x="154.2" y="1572.9" width="322.4" height="63.1" fill="#c4c4c4"/>
<linearGradient id="sg14" x1="0" y1="0" x2="1" y2="0"><stop offset="0.000" stop-color="#bebebe"/><stop offset="0.042" stop-color="#c2c2c2"/><stop offset="0.083" stop-color="#c0c0c0"/><stop offset="0.125" stop-color="#bdbdbd"/><stop offset="0.167" stop-color="#c3c3c3"/><stop offset="0.208" stop-color="#c7c7c7"/><stop offset="0.250" stop-color="#c4c4c4"/><stop offset="0.292" stop-color="#c5c5c5"/><stop offset="0.333" stop-color="#c7c7c7"/><stop offset="0.375" stop-color="#c2c2c2"/><stop offset="0.417" stop-color="#cbcbcb"/><stop offset="0.458" stop-color="#c2c2c2"/><stop offset="0.500" stop-color="#c5c5c5"/><stop offset="0.542" stop-color="#cbcbcb"/><stop offset="0.583" stop-color="#c4c4c4"/><stop offset="0.625" stop-color="#c4c4c4"/><stop offset="0.667" stop-color="#c3c3c3"/><stop offset="0.708" stop-color="#c5c5c5"/><stop offset="0.750" stop-color="#bfbfbf"/><stop offset="0.792" stop-color="#c2c2c2"/><stop offset="0.833" stop-color="#c8c8c8"/><stop offset="0.875" stop-color="#c5c5c5"/><stop offset="0.917" stop-color="#c3c3c3"/><stop offset="0.958" stop-color="#c5c5c5"/><stop offset="1.000" stop-color="#bdbdbd"/></linearGradient>
<rect x="154.2" y="1572.9" width="322.4" height="63.1" fill="url(#sg14)"/>
<g filter="url(#bl15)"><path d="M168 1605.9 C168 1600.9 170 1600.9 174 1600.9 C187.2 1600.9 190.8 1601.6 198 1601.6 C205.2 1601.6 208.8 1600.9 222 1600.9 C226 1600.9 228 1600.9 228 1605.9 C228 1610.9 226 1610.9 222 1610.9 C208.8 1610.9 205.2 1610.2 198 1610.2 C190.8 1610.2 187.2 1610.9 174 1610.9 C170 1610.9 168 1610.9 168 1605.9 Z" fill="#000" fill-opacity="1.00"/><path d="M241.5 1605.9 C241.5 1600.9 243.5 1600.9 247.5 1600.9 C261 1600.9 264.7 1601.6 272 1601.6 C279.3 1601.6 283 1600.9 296.5 1600.9 C300.5 1600.9 302.5 1600.9 302.5 1605.9 C302.5 1610.9 300.5 1610.9 296.5 1610.9 C283 1610.9 279.3 1610.2 272 1610.2 C264.7 1610.2 261 1610.9 247.5 1610.9 C243.5 1610.9 241.5 1610.9 241.5 1605.9 Z" fill="#000" fill-opacity="1.00"/><path d="M315.5 1605.9 C315.5 1600.9 317.5 1600.9 321.5 1600.9 C334.7 1600.9 338.3 1601.6 345.5 1601.6 C352.7 1601.6 356.3 1600.9 369.5 1600.9 C373.5 1600.9 375.5 1600.9 375.5 1605.9 C375.5 1610.9 373.5 1610.9 369.5 1610.9 C356.3 1610.9 352.7 1610.2 345.5 1610.2 C338.3 1610.2 334.7 1610.9 321.5 1610.9 C317.5 1610.9 315.5 1610.9 315.5 1605.9 Z" fill="#000" fill-opacity="1.00"/><path d="M388.2 1604.8 C388.2 1599.8 390.2 1599.8 394.2 1599.8 C409 1599.8 412.9 1600.5 420.7 1600.5 C428.5 1600.5 432.4 1599.8 447.2 1599.8 C451.2 1599.8 453.2 1599.8 453.2 1604.8 C453.2 1609.8 451.2 1609.8 447.2 1609.8 C432.4 1609.8 428.5 1609.1 420.7 1609.1 C412.9 1609.1 409 1609.8 394.2 1609.8 C390.2 1609.8 388.2 1609.8 388.2 1604.8 Z" fill="#000" fill-opacity="1.00"/></g>
</g>
<rect x="154.2" y="1572.9" width="322.4" height="63.1" fill="none" stroke="#111" stroke-width="1.3"/>
<text transform="translate(145.3 1316.3) scale(0.970 1.000)" font-size="29.5" font-weight="bold" text-anchor="end">PERK</text>
<text transform="translate(145.3 1389.3) scale(0.970 1.000)" font-size="29.5" font-weight="bold" text-anchor="end">p-PERK</text>
<text transform="translate(145.3 1472.8) scale(0.970 1.000)" font-size="29.5" font-weight="bold" text-anchor="end">eIF2α</text>
<text transform="translate(145.3 1542) scale(0.970 1.000)" font-size="29.5" font-weight="bold" text-anchor="end">p-eIF2α</text>
<text transform="translate(145.3 1610.2) scale(0.970 1.000)" font-size="29.5" font-weight="bold" text-anchor="end">Actin</text>
<rect x="479" y="1306.6" width="15.6" height="3.4" fill="#000"/>
<text transform="translate(502 1316.7) scale(0.945 1.000)" font-size="25.5" font-weight="bold">140 KD</text>
<rect x="479" y="1376.2" width="15.6" height="3.4" fill="#000"/>
<text transform="translate(502 1386.3) scale(0.945 1.000)" font-size="25.5" font-weight="bold">140 KD</text>
<rect x="479" y="1457.3" width="15.6" height="3.4" fill="#000"/>
<text transform="translate(502 1467.4) scale(0.945 1.000)" font-size="25.5" font-weight="bold">36 KD</text>
<rect x="479" y="1527.7" width="15.6" height="3.4" fill="#000"/>
<text transform="translate(502 1537.8) scale(0.945 1.000)" font-size="25.5" font-weight="bold">36 KD</text>
<rect x="479" y="1601.7" width="15.6" height="3.4" fill="#000"/>
<text transform="translate(502 1611.8) scale(0.945 1.000)" font-size="25.5" font-weight="bold">42 KD</text>
<text transform="translate(1.3 1267.9) scale(0.980 1.000)" font-size="29" font-weight="bold">Co-culture</text>
<text transform="translate(390.8 1223.6)" font-size="28" font-weight="bold" text-anchor="middle">CAP</text>
<rect x="344.8" y="1231.3" width="101.6" height="2.8" fill="#000"/>
<rect x="191.4" y="1261" width="8.9" height="4.6" fill="#000"/>
<rect x="268.5" y="1257.7" width="16.2" height="4.2" fill="#000"/>
<rect x="274.7" y="1251.4" width="3.8" height="16.8" fill="#000"/>
<rect x="349.4" y="1261" width="8.9" height="4.6" fill="#000"/>
<rect x="426.9" y="1257.7" width="16.2" height="4.2" fill="#000"/>
<rect x="433.1" y="1251.4" width="3.8" height="16.8" fill="#000"/>
<clipPath id="cp20"><rect x="792.4" y="1282.9" width="322.6" height="67.5"/></clipPath>
<g clip-path="url(#cp20)">
<rect x="792.4" y="1282.9" width="322.6" height="67.5" fill="#989898"/>
<linearGradient id="sg20" x1="0" y1="0" x2="1" y2="0"><stop offset="0.000" stop-color="#8f8f8f"/><stop offset="0.042" stop-color="#9b9b9b"/><stop offset="0.083" stop-color="#9b9b9b"/><stop offset="0.125" stop-color="#999999"/><stop offset="0.167" stop-color="#999999"/><stop offset="0.208" stop-color="#979797"/><stop offset="0.250" stop-color="#969696"/><stop offset="0.292" stop-color="#969696"/><stop offset="0.333" stop-color="#969696"/><stop offset="0.375" stop-color="#9a9a9a"/><stop offset="0.417" stop-color="#989898"/><stop offset="0.458" stop-color="#989898"/><stop offset="0.500" stop-color="#969696"/><stop offset="0.542" stop-color="#959595"/><stop offset="0.583" stop-color="#959595"/><stop offset="0.625" stop-color="#969696"/><stop offset="0.667" stop-color="#999999"/><stop offset="0.708" stop-color="#989898"/><stop offset="0.750" stop-color="#979797"/><stop offset="0.792" stop-color="#979797"/><stop offset="0.833" stop-color="#949494"/><stop offset="0.875" stop-color="#9b9b9b"/><stop offset="0.917" stop-color="#959595"/><stop offset="0.958" stop-color="#989898"/><stop offset="1.000" stop-color="#959595"/></linearGradient>
<rect x="792.4" y="1282.9" width="322.6" height="67.5" fill="url(#sg20)"/>
<g filter="url(#bl15)"><path d="M805.9 1314.6 C805.9 1307.1 808.9 1307.1 814.9 1307.1 C824.8 1307.1 828.3 1307.9 835.4 1307.9 C842.5 1307.9 846 1307.1 855.9 1307.1 C861.9 1307.1 864.9 1307.1 864.9 1314.6 C864.9 1322.1 861.9 1322.1 855.9 1322.1 C846 1322.1 842.5 1321.3 835.4 1321.3 C828.3 1321.3 824.8 1322.1 814.9 1322.1 C808.9 1322.1 805.9 1322.1 805.9 1314.6 Z" fill="#000" fill-opacity="1.00"/><path d="M887.4 1314.6 C887.4 1307.1 890.4 1307.1 896.4 1307.1 C906 1307.1 909.4 1307.9 916.4 1307.9 C923.4 1307.9 926.8 1307.1 936.4 1307.1 C942.4 1307.1 945.4 1307.1 945.4 1314.6 C945.4 1322.1 942.4 1322.1 936.4 1322.1 C926.8 1322.1 923.4 1321.3 916.4 1321.3 C909.4 1321.3 906 1322.1 896.4 1322.1 C890.4 1322.1 887.4 1322.1 887.4 1314.6 Z" fill="#000" fill-opacity="1.00"/><path d="M964.2 1314.6 C964.2 1307.1 967.2 1307.1 973.2 1307.1 C982.8 1307.1 986.2 1307.9 993.2 1307.9 C1000.2 1307.9 1003.6 1307.1 1013.2 1307.1 C1019.2 1307.1 1022.2 1307.1 1022.2 1314.6 C1022.2 1322.1 1019.2 1322.1 1013.2 1322.1 C1003.6 1322.1 1000.2 1321.3 993.2 1321.3 C986.2 1321.3 982.8 1322.1 973.2 1322.1 C967.2 1322.1 964.2 1322.1 964.2 1314.6 Z" fill="#000" fill-opacity="1.00"/><path d="M1043.3 1314.6 C1043.3 1308.1 1045.9 1308.1 1051.1 1308.1 C1061.5 1308.1 1065 1309.9 1071.8 1309.9 C1078.6 1309.9 1082.1 1308.1 1092.5 1308.1 C1097.7 1308.1 1100.3 1308.1 1100.3 1314.6 C1100.3 1321.1 1097.7 1321.1 1092.5 1321.1 C1082.1 1321.1 1078.6 1319.3 1071.8 1319.3 C1065 1319.3 1061.5 1321.1 1051.1 1321.1 C1045.9 1321.1 1043.3 1321.1 1043.3 1314.6 Z" fill="#000" fill-opacity="1.00"/></g>
</g>
<rect x="792.4" y="1282.9" width="322.6" height="67.5" fill="none" stroke="#111" stroke-width="1.3"/>
<clipPath id="cp21"><rect x="792.4" y="1353.6" width="322.6" height="68.2"/></clipPath>
<g clip-path="url(#cp21)">
<rect x="792.4" y="1353.6" width="322.6" height="68.2" fill="#828282"/>
<linearGradient id="sg21" x1="0" y1="0" x2="1" y2="0"><stop offset="0.000" stop-color="#7b7b7b"/><stop offset="0.042" stop-color="#868686"/><stop offset="0.083" stop-color="#7e7e7e"/><stop offset="0.125" stop-color="#868686"/><stop offset="0.167" stop-color="#828282"/><stop offset="0.208" stop-color="#808080"/><stop offset="0.250" stop-color="#808080"/><stop offset="0.292" stop-color="#7f7f7f"/><stop offset="0.333" stop-color="#818181"/><stop offset="0.375" stop-color="#848484"/><stop offset="0.417" stop-color="#838383"/><stop offset="0.458" stop-color="#848484"/><stop offset="0.500" stop-color="#7e7e7e"/><stop offset="0.542" stop-color="#7e7e7e"/><stop offset="0.583" stop-color="#868686"/><stop offset="0.625" stop-color="#848484"/><stop offset="0.667" stop-color="#878787"/><stop offset="0.708" stop-color="#858585"/><stop offset="0.750" stop-color="#7f7f7f"/><stop offset="0.792" stop-color="#858585"/><stop offset="0.833" stop-color="#848484"/><stop offset="0.875" stop-color="#838383"/><stop offset="0.917" stop-color="#808080"/><stop offset="0.958" stop-color="#828282"/><stop offset="1.000" stop-color="#7a7a7a"/></linearGradient>
<rect x="792.4" y="1353.6" width="322.6" height="68.2" fill="url(#sg21)"/>
<g filter="url(#bl15)"><path d="M809.4 1377 C809.4 1373.8 810.7 1373.8 813.3 1373.8 C826 1373.8 829.2 1374.7 835.4 1374.7 C841.6 1374.7 844.8 1373.8 857.5 1373.8 C860.1 1373.8 861.4 1373.8 861.4 1377 C861.4 1380.2 860.1 1380.2 857.5 1380.2 C844.8 1380.2 841.6 1379.3 835.4 1379.3 C829.2 1379.3 826 1380.2 813.3 1380.2 C810.7 1380.2 809.4 1380.2 809.4 1377 Z" fill="#000" fill-opacity="0.85"/><path d="M888.9 1377 C888.9 1374 890.1 1374 892.5 1374 C906.5 1374 909.8 1374.9 916.4 1374.9 C923 1374.9 926.3 1374 940.3 1374 C942.7 1374 943.9 1374 943.9 1377 C943.9 1380 942.7 1380 940.3 1380 C926.3 1380 923 1379.1 916.4 1379.1 C909.8 1379.1 906.5 1380 892.5 1380 C890.1 1380 888.9 1380 888.9 1377 Z" fill="#000" fill-opacity="0.70"/><path d="M968.2 1377 C968.2 1373 969.8 1373 973 1373 C984.2 1373 987.2 1373.8 993.2 1373.8 C999.2 1373.8 1002.2 1373 1013.4 1373 C1016.6 1373 1018.2 1373 1018.2 1377 C1018.2 1381 1016.6 1381 1013.4 1381 C1002.2 1381 999.2 1380.2 993.2 1380.2 C987.2 1380.2 984.2 1381 973 1381 C969.8 1381 968.2 1381 968.2 1377 Z" fill="#000" fill-opacity="1.00"/><path d="M1046.3 1377 C1046.3 1374.2 1047.4 1374.2 1049.6 1374.2 C1062.6 1374.2 1065.7 1375.2 1071.8 1375.2 C1077.9 1375.2 1081 1374.2 1094 1374.2 C1096.2 1374.2 1097.3 1374.2 1097.3 1377 C1097.3 1379.8 1096.2 1379.8 1094 1379.8 C1081 1379.8 1077.9 1378.8 1071.8 1378.8 C1065.7 1378.8 1062.6 1379.8 1049.6 1379.8 C1047.4 1379.8 1046.3 1379.8 1046.3 1377 Z" fill="#000" fill-opacity="0.45"/><path d="M809.4 1400.4 C809.4 1396.9 810.8 1396.9 813.6 1396.9 C826 1396.9 829.2 1397.9 835.4 1397.9 C841.6 1397.9 844.8 1396.9 857.2 1396.9 C860 1396.9 861.4 1396.9 861.4 1400.4 C861.4 1403.9 860 1403.9 857.2 1403.9 C844.8 1403.9 841.6 1402.9 835.4 1402.9 C829.2 1402.9 826 1403.9 813.6 1403.9 C810.8 1403.9 809.4 1403.9 809.4 1400.4 Z" fill="#000" fill-opacity="0.95"/><path d="M888.9 1400.4 C888.9 1396.9 890.3 1396.9 893.1 1396.9 C906.5 1396.9 909.8 1397.9 916.4 1397.9 C923 1397.9 926.3 1396.9 939.7 1396.9 C942.5 1396.9 943.9 1396.9 943.9 1400.4 C943.9 1403.9 942.5 1403.9 939.7 1403.9 C926.3 1403.9 923 1402.9 916.4 1402.9 C909.8 1402.9 906.5 1403.9 893.1 1403.9 C890.3 1403.9 888.9 1403.9 888.9 1400.4 Z" fill="#000" fill-opacity="0.85"/><path d="M968.2 1400.4 C968.2 1396.4 969.8 1396.4 973 1396.4 C984.2 1396.4 987.2 1397.2 993.2 1397.2 C999.2 1397.2 1002.2 1396.4 1013.4 1396.4 C1016.6 1396.4 1018.2 1396.4 1018.2 1400.4 C1018.2 1404.4 1016.6 1404.4 1013.4 1404.4 C1002.2 1404.4 999.2 1403.6 993.2 1403.6 C987.2 1403.6 984.2 1404.4 973 1404.4 C969.8 1404.4 968.2 1404.4 968.2 1400.4 Z" fill="#000" fill-opacity="1.00"/><path d="M1046.3 1400.4 C1046.3 1397.7 1047.4 1397.7 1049.6 1397.7 C1062.6 1397.7 1065.7 1398.6 1071.8 1398.6 C1077.9 1398.6 1081 1397.7 1094 1397.7 C1096.2 1397.7 1097.3 1397.7 1097.3 1400.4 C1097.3 1403.2 1096.2 1403.2 1094 1403.2 C1081 1403.2 1077.9 1402.2 1071.8 1402.2 C1065.7 1402.2 1062.6 1403.2 1049.6 1403.2 C1047.4 1403.2 1046.3 1403.2 1046.3 1400.4 Z" fill="#000" fill-opacity="0.40"/></g>
</g>
<rect x="792.4" y="1353.6" width="322.6" height="68.2" fill="none" stroke="#111" stroke-width="1.3"/>
<clipPath id="cp22"><rect x="792.4" y="1424.6" width="322.6" height="67.9"/></clipPath>
<g clip-path="url(#cp22)">
<rect x="792.4" y="1424.6" width="322.6" height="67.9" fill="#949494"/>
<linearGradient id="sg22" x1="0" y1="0" x2="1" y2="0"><stop offset="0.000" stop-color="#898989"/><stop offset="0.042" stop-color="#919191"/><stop offset="0.083" stop-color="#919191"/><stop offset="0.125" stop-color="#929292"/><stop offset="0.167" stop-color="#989898"/><stop offset="0.208" stop-color="#909090"/><stop offset="0.250" stop-color="#969696"/><stop offset="0.292" stop-color="#979797"/><stop offset="0.333" stop-color="#939393"/><stop offset="0.375" stop-color="#929292"/><stop offset="0.417" stop-color="#959595"/><stop offset="0.458" stop-color="#979797"/><stop offset="0.500" stop-color="#999999"/><stop offset="0.542" stop-color="#969696"/><stop offset="0.583" stop-color="#989898"/><stop offset="0.625" stop-color="#939393"/><stop offset="0.667" stop-color="#929292"/><stop offset="0.708" stop-color="#909090"/><stop offset="0.750" stop-color="#919191"/><stop offset="0.792" stop-color="#939393"/><stop offset="0.833" stop-color="#949494"/><stop offset="0.875" stop-color="#919191"/><stop offset="0.917" stop-color="#969696"/><stop offset="0.958" stop-color="#949494"/><stop offset="1.000" stop-color="#8a8a8a"/></linearGradient>
<rect x="792.4" y="1424.6" width="322.6" height="67.9" fill="url(#sg22)"/>
<g filter="url(#bl15)"><path d="M802.5 1457.5 C802.5 1448.5 806.1 1448.5 813.3 1448.5 C824.6 1448.5 828.7 1449.4 837 1449.4 C845.3 1449.4 849.4 1448.5 860.7 1448.5 C867.9 1448.5 871.5 1448.5 871.5 1457.5 C871.5 1466.5 867.9 1466.5 860.7 1466.5 C849.4 1466.5 845.3 1465.6 837 1465.6 C828.7 1465.6 824.6 1466.5 813.3 1466.5 C806.1 1466.5 802.5 1466.5 802.5 1457.5 Z" fill="#000" fill-opacity="1.00"/><path d="M879.1 1457.5 C879.1 1449 882.5 1449 889.3 1449 C901.2 1449 905.3 1449.9 913.6 1449.9 C921.9 1449.9 926 1449 937.9 1449 C944.7 1449 948.1 1449 948.1 1457.5 C948.1 1466 944.7 1466 937.9 1466 C926 1466 921.9 1465.1 913.6 1465.1 C905.3 1465.1 901.2 1466 889.3 1466 C882.5 1466 879.1 1466 879.1 1457.5 Z" fill="#000" fill-opacity="1.00"/><path d="M955 1457.5 C955 1449 958.4 1449 965.2 1449 C976.8 1449 980.8 1449.9 989 1449.9 C997.2 1449.9 1001.2 1449 1012.8 1449 C1019.6 1449 1023 1449 1023 1457.5 C1023 1466 1019.6 1466 1012.8 1466 C1001.2 1466 997.2 1465.1 989 1465.1 C980.8 1465.1 976.8 1466 965.2 1466 C958.4 1466 955 1466 955 1457.5 Z" fill="#000" fill-opacity="1.00"/><path d="M1032.8 1458 C1032.8 1450.5 1035.8 1450.5 1041.8 1450.5 C1054.6 1450.5 1058.6 1451.8 1066.8 1451.8 C1075 1451.8 1079 1450.5 1091.8 1450.5 C1097.8 1450.5 1100.8 1450.5 1100.8 1458 C1100.8 1465.5 1097.8 1465.5 1091.8 1465.5 C1079 1465.5 1075 1464.2 1066.8 1464.2 C1058.6 1464.2 1054.6 1465.5 1041.8 1465.5 C1035.8 1465.5 1032.8 1465.5 1032.8 1458 Z" fill="#000" fill-opacity="1.00"/></g>
</g>
<rect x="792.4" y="1424.6" width="322.6" height="67.9" fill="none" stroke="#111" stroke-width="1.3"/>
<clipPath id="cp23"><rect x="792.4" y="1496" width="322.6" height="68.6"/></clipPath>
<g clip-path="url(#cp23)">
<rect x="792.4" y="1496" width="322.6" height="68.6" fill="#bebebe"/>
<linearGradient id="sg23" x1="0" y1="0" x2="1" y2="0"><stop offset="0.000" stop-color="#b7b7b7"/><stop offset="0.042" stop-color="#bfbfbf"/><stop offset="0.083" stop-color="#bebebe"/><stop offset="0.125" stop-color="#b8b8b8"/><stop offset="0.167" stop-color="#bfbfbf"/><stop offset="0.208" stop-color="#b9b9b9"/><stop offset="0.250" stop-color="#c0c0c0"/><stop offset="0.292" stop-color="#c0c0c0"/><stop offset="0.333" stop-color="#c0c0c0"/><stop offset="0.375" stop-color="#c0c0c0"/><stop offset="0.417" stop-color="#bfbfbf"/><stop offset="0.458" stop-color="#bdbdbd"/><stop offset="0.500" stop-color="#bdbdbd"/><stop offset="0.542" stop-color="#c2c2c2"/><stop offset="0.583" stop-color="#bdbdbd"/><stop offset="0.625" stop-color="#bdbdbd"/><stop offset="0.667" stop-color="#bcbcbc"/><stop offset="0.708" stop-color="#bdbdbd"/><stop offset="0.750" stop-color="#bdbdbd"/><stop offset="0.792" stop-color="#bfbfbf"/><stop offset="0.833" stop-color="#bdbdbd"/><stop offset="0.875" stop-color="#bdbdbd"/><stop offset="0.917" stop-color="#bcbcbc"/><stop offset="0.958" stop-color="#bebebe"/><stop offset="1.000" stop-color="#b3b3b3"/></linearGradient>
<rect x="792.4" y="1496" width="322.6" height="68.6" fill="url(#sg23)"/>
<g filter="url(#bl15)"><path d="M806.9 1532.5 C806.9 1528.2 808.6 1528.2 812 1528.2 C825.1 1528.2 828.6 1529.1 835.4 1529.1 C842.2 1529.1 845.7 1528.2 858.8 1528.2 C862.2 1528.2 863.9 1528.2 863.9 1532.5 C863.9 1536.8 862.2 1536.8 858.8 1536.8 C845.7 1536.8 842.2 1535.9 835.4 1535.9 C828.6 1535.9 825.1 1536.8 812 1536.8 C808.6 1536.8 806.9 1536.8 806.9 1532.5 Z" fill="#000" fill-opacity="0.60"/><path d="M888.4 1532.5 C888.4 1528.5 890 1528.5 893.2 1528.5 C906.3 1528.5 909.7 1529.6 916.4 1529.6 C923.1 1529.6 926.5 1528.5 939.6 1528.5 C942.8 1528.5 944.4 1528.5 944.4 1532.5 C944.4 1536.5 942.8 1536.5 939.6 1536.5 C926.5 1536.5 923.1 1535.4 916.4 1535.4 C909.7 1535.4 906.3 1536.5 893.2 1536.5 C890 1536.5 888.4 1536.5 888.4 1532.5 Z" fill="#000" fill-opacity="0.50"/><path d="M964.7 1532.5 C964.7 1528 966.5 1528 970.1 1528 C982.9 1528 986.4 1528.9 993.2 1528.9 C1000 1528.9 1003.5 1528 1016.3 1528 C1019.9 1528 1021.7 1528 1021.7 1532.5 C1021.7 1537 1019.9 1537 1016.3 1537 C1003.5 1537 1000 1536.1 993.2 1536.1 C986.4 1536.1 982.9 1537 970.1 1537 C966.5 1537 964.7 1537 964.7 1532.5 Z" fill="#000" fill-opacity="0.85"/><path d="M1044.3 1532.5 C1044.3 1529 1045.7 1529 1048.5 1529 C1061.9 1529 1065.2 1530 1071.8 1530 C1078.4 1530 1081.7 1529 1095.1 1529 C1097.9 1529 1099.3 1529 1099.3 1532.5 C1099.3 1536 1097.9 1536 1095.1 1536 C1081.7 1536 1078.4 1535 1071.8 1535 C1065.2 1535 1061.9 1536 1048.5 1536 C1045.7 1536 1044.3 1536 1044.3 1532.5 Z" fill="#000" fill-opacity="0.40"/></g>
</g>
<rect x="792.4" y="1496" width="322.6" height="68.6" fill="none" stroke="#111" stroke-width="1.3"/>
<clipPath id="cp24"><rect x="792.4" y="1567" width="322.6" height="68.4"/></clipPath>
<g clip-path="url(#cp24)">
<rect x="792.4" y="1567" width="322.6" height="68.4" fill="#acacac"/>
<linearGradient id="sg24" x1="0" y1="0" x2="1" y2="0"><stop offset="0.000" stop-color="#a7a7a7"/><stop offset="0.042" stop-color="#adadad"/><stop offset="0.083" stop-color="#a9a9a9"/><stop offset="0.125" stop-color="#acacac"/><stop offset="0.167" stop-color="#ababab"/><stop offset="0.208" stop-color="#ababab"/><stop offset="0.250" stop-color="#adadad"/><stop offset="0.292" stop-color="#a9a9a9"/><stop offset="0.333" stop-color="#aeaeae"/><stop offset="0.375" stop-color="#a9a9a9"/><stop offset="0.417" stop-color="#acacac"/><stop offset="0.458" stop-color="#aeaeae"/><stop offset="0.500" stop-color="#aeaeae"/><stop offset="0.542" stop-color="#aaaaaa"/><stop offset="0.583" stop-color="#b0b0b0"/><stop offset="0.625" stop-color="#adadad"/><stop offset="0.667" stop-color="#aaaaaa"/><stop offset="0.708" stop-color="#acacac"/><stop offset="0.750" stop-color="#aaaaaa"/><stop offset="0.792" stop-color="#adadad"/><stop offset="0.833" stop-color="#a9a9a9"/><stop offset="0.875" stop-color="#adadad"/><stop offset="0.917" stop-color="#a8a8a8"/><stop offset="0.958" stop-color="#afafaf"/><stop offset="1.000" stop-color="#a5a5a5"/></linearGradient>
<rect x="792.4" y="1567" width="322.6" height="68.4" fill="url(#sg24)"/>
<g filter="url(#bl15)"><path d="M805.4 1605.7 C805.4 1598.2 808.4 1598.2 814.4 1598.2 C824.6 1598.2 828.2 1599 835.4 1599 C842.6 1599 846.2 1598.2 856.4 1598.2 C862.4 1598.2 865.4 1598.2 865.4 1605.7 C865.4 1613.2 862.4 1613.2 856.4 1613.2 C846.2 1613.2 842.6 1612.4 835.4 1612.4 C828.2 1612.4 824.6 1613.2 814.4 1613.2 C808.4 1613.2 805.4 1613.2 805.4 1605.7 Z" fill="#000" fill-opacity="1.00"/><path d="M885.9 1605.7 C885.9 1598.2 888.9 1598.2 894.9 1598.2 C905.4 1598.2 909.1 1599 916.4 1599 C923.7 1599 927.4 1598.2 937.9 1598.2 C943.9 1598.2 946.9 1598.2 946.9 1605.7 C946.9 1613.2 943.9 1613.2 937.9 1613.2 C927.4 1613.2 923.7 1612.4 916.4 1612.4 C909.1 1612.4 905.4 1613.2 894.9 1613.2 C888.9 1613.2 885.9 1613.2 885.9 1605.7 Z" fill="#000" fill-opacity="1.00"/><path d="M962.7 1605.7 C962.7 1598.7 965.5 1598.7 971.1 1598.7 C982.2 1598.7 985.9 1599.4 993.2 1599.4 C1000.5 1599.4 1004.2 1598.7 1015.3 1598.7 C1020.9 1598.7 1023.7 1598.7 1023.7 1605.7 C1023.7 1612.7 1020.9 1612.7 1015.3 1612.7 C1004.2 1612.7 1000.5 1612 993.2 1612 C985.9 1612 982.2 1612.7 971.1 1612.7 C965.5 1612.7 962.7 1612.7 962.7 1605.7 Z" fill="#000" fill-opacity="1.00"/><path d="M1042.3 1605.7 C1042.3 1598.7 1045.1 1598.7 1050.7 1598.7 C1061.2 1598.7 1064.7 1599.7 1071.8 1599.7 C1078.9 1599.7 1082.4 1598.7 1092.9 1598.7 C1098.5 1598.7 1101.3 1598.7 1101.3 1605.7 C1101.3 1612.7 1098.5 1612.7 1092.9 1612.7 C1082.4 1612.7 1078.9 1611.7 1071.8 1611.7 C1064.7 1611.7 1061.2 1612.7 1050.7 1612.7 C1045.1 1612.7 1042.3 1612.7 1042.3 1605.7 Z" fill="#000" fill-opacity="1.00"/></g>
</g>
<rect x="792.4" y="1567" width="322.6" height="68.4" fill="none" stroke="#111" stroke-width="1.3"/>
<text transform="translate(784.3 1323) scale(0.880 1.000)" font-size="32" font-weight="bold" text-anchor="end">PERK</text>
<text transform="translate(784.3 1388.6) scale(0.880 1.000)" font-size="32" font-weight="bold" text-anchor="end">p-PERK</text>
<text transform="translate(784.3 1466.4) scale(0.880 1.000)" font-size="32" font-weight="bold" text-anchor="end">eIF2α</text>
<text transform="translate(784.3 1537.9) scale(0.880 1.000)" font-size="32" font-weight="bold" text-anchor="end">p-eIF2α</text>
<text transform="translate(784.3 1616.4) scale(0.880 1.000)" font-size="32" font-weight="bold" text-anchor="end">Actin</text>
<rect x="1117" y="1314.7" width="15.5" height="3.4" fill="#000"/>
<text transform="translate(1139.6 1325.9) scale(0.870 1.000)" font-size="28" font-weight="bold">140 KD</text>
<rect x="1117" y="1374.7" width="15.5" height="3.4" fill="#000"/>
<text transform="translate(1139.6 1385.9) scale(0.870 1.000)" font-size="28" font-weight="bold">140 KD</text>
<rect x="1117" y="1456.9" width="15.5" height="3.4" fill="#000"/>
<text transform="translate(1139.6 1468.1) scale(0.870 1.000)" font-size="28" font-weight="bold">36 KD</text>
<rect x="1117" y="1528.3" width="15.5" height="3.4" fill="#000"/>
<text transform="translate(1139.6 1539.5) scale(0.870 1.000)" font-size="28" font-weight="bold">36 KD</text>
<rect x="1117" y="1602.9" width="15.5" height="3.4" fill="#000"/>
<text transform="translate(1139.6 1614.1) scale(0.870 1.000)" font-size="28" font-weight="bold">42 KD</text>
<text transform="translate(629.8 1209) scale(0.875 1.000)" font-size="32.5" font-weight="bold">(Individual)</text>
<text transform="translate(783.2 1274.2) scale(0.885 1.000)" font-size="32.4" font-weight="bold" text-anchor="end">4-PBA</text>
<text transform="translate(1039.1 1222.9) scale(0.900 1.000)" font-size="31" font-weight="bold" text-anchor="middle">CAP</text>
<rect x="978.9" y="1232.2" width="101.8" height="2.8" fill="#000"/>
<rect x="833.5" y="1261.2" width="8.8" height="4.5" fill="#000"/>
<rect x="907.7" y="1257.3" width="16" height="4.4" fill="#000"/>
<rect x="913.7" y="1250.3" width="4" height="18.3" fill="#000"/>
<rect x="987" y="1261.2" width="8.8" height="4.5" fill="#000"/>
<rect x="1063" y="1257.3" width="16" height="4.4" fill="#000"/>
<rect x="1069" y="1250.3" width="4" height="18.3" fill="#000"/>
<clipPath id="cp30"><rect x="1440.3" y="1288.7" width="337.2" height="66.7"/></clipPath>
<g clip-path="url(#cp30)">
<rect x="1440.3" y="1288.7" width="337.2" height="66.7" fill="#808080"/>
<linearGradient id="sg30" x1="0" y1="0" x2="1" y2="0"><stop offset="0.000" stop-color="#7c7c7c"/><stop offset="0.042" stop-color="#828282"/><stop offset="0.083" stop-color="#7e7e7e"/><stop offset="0.125" stop-color="#7f7f7f"/><stop offset="0.167" stop-color="#7f7f7f"/><stop offset="0.208" stop-color="#868686"/><stop offset="0.250" stop-color="#7e7e7e"/><stop offset="0.292" stop-color="#838383"/><stop offset="0.333" stop-color="#808080"/><stop offset="0.375" stop-color="#838383"/><stop offset="0.417" stop-color="#808080"/><stop offset="0.458" stop-color="#818181"/><stop offset="0.500" stop-color="#818181"/><stop offset="0.542" stop-color="#808080"/><stop offset="0.583" stop-color="#828282"/><stop offset="0.625" stop-color="#818181"/><stop offset="0.667" stop-color="#838383"/><stop offset="0.708" stop-color="#858585"/><stop offset="0.750" stop-color="#808080"/><stop offset="0.792" stop-color="#808080"/><stop offset="0.833" stop-color="#818181"/><stop offset="0.875" stop-color="#7c7c7c"/><stop offset="0.917" stop-color="#818181"/><stop offset="0.958" stop-color="#7f7f7f"/><stop offset="1.000" stop-color="#767676"/></linearGradient>
<rect x="1440.3" y="1288.7" width="337.2" height="66.7" fill="url(#sg30)"/>
<g filter="url(#bl15)"><path d="M1454.3 1319.7 C1454.3 1313.2 1456.9 1313.2 1462.1 1313.2 C1473.5 1313.2 1477.1 1314.3 1484.3 1314.3 C1491.5 1314.3 1495.1 1313.2 1506.5 1313.2 C1511.7 1313.2 1514.3 1313.2 1514.3 1319.7 C1514.3 1326.2 1511.7 1326.2 1506.5 1326.2 C1495.1 1326.2 1491.5 1325.1 1484.3 1325.1 C1477.1 1325.1 1473.5 1326.2 1462.1 1326.2 C1456.9 1326.2 1454.3 1326.2 1454.3 1319.7 Z" fill="#000" fill-opacity="1.00"/><path d="M1538.5 1319.7 C1538.5 1313.7 1540.9 1313.7 1545.7 1313.7 C1556.7 1313.7 1560.2 1314.8 1567 1314.8 C1573.8 1314.8 1577.3 1313.7 1588.3 1313.7 C1593.1 1313.7 1595.5 1313.7 1595.5 1319.7 C1595.5 1325.7 1593.1 1325.7 1588.3 1325.7 C1577.3 1325.7 1573.8 1324.7 1567 1324.7 C1560.2 1324.7 1556.7 1325.7 1545.7 1325.7 C1540.9 1325.7 1538.5 1325.7 1538.5 1319.7 Z" fill="#000" fill-opacity="1.00"/><path d="M1619.4 1319.7 C1619.4 1313.2 1622 1313.2 1627.2 1313.2 C1637.6 1313.2 1641.1 1314.3 1647.9 1314.3 C1654.7 1314.3 1658.2 1313.2 1668.6 1313.2 C1673.8 1313.2 1676.4 1313.2 1676.4 1319.7 C1676.4 1326.2 1673.8 1326.2 1668.6 1326.2 C1658.2 1326.2 1654.7 1325.1 1647.9 1325.1 C1641.1 1325.1 1637.6 1326.2 1627.2 1326.2 C1622 1326.2 1619.4 1326.2 1619.4 1319.7 Z" fill="#000" fill-opacity="1.00"/><path d="M1697.7 1319.7 C1697.7 1312.7 1700.5 1312.7 1706.1 1312.7 C1717.9 1312.7 1721.6 1313.7 1729.2 1313.7 C1736.8 1313.7 1740.5 1312.7 1752.3 1312.7 C1757.9 1312.7 1760.7 1312.7 1760.7 1319.7 C1760.7 1326.7 1757.9 1326.7 1752.3 1326.7 C1740.5 1326.7 1736.8 1325.7 1729.2 1325.7 C1721.6 1325.7 1717.9 1326.7 1706.1 1326.7 C1700.5 1326.7 1697.7 1326.7 1697.7 1319.7 Z" fill="#000" fill-opacity="1.00"/></g>
</g>
<rect x="1440.3" y="1288.7" width="337.2" height="66.7" fill="none" stroke="#111" stroke-width="1.3"/>
<clipPath id="cp31"><rect x="1440.3" y="1360" width="337.2" height="66.2"/></clipPath>
<g clip-path="url(#cp31)">
<rect x="1440.3" y="1360" width="337.2" height="66.2" fill="#d6d6d6"/>
<linearGradient id="sg31" x1="0" y1="0" x2="1" y2="0"><stop offset="0.000" stop-color="#cdcdcd"/><stop offset="0.042" stop-color="#d7d7d7"/><stop offset="0.083" stop-color="#d8d8d8"/><stop offset="0.125" stop-color="#d4d4d4"/><stop offset="0.167" stop-color="#d8d8d8"/><stop offset="0.208" stop-color="#d7d7d7"/><stop offset="0.250" stop-color="#d8d8d8"/><stop offset="0.292" stop-color="#d7d7d7"/><stop offset="0.333" stop-color="#d9d9d9"/><stop offset="0.375" stop-color="#d4d4d4"/><stop offset="0.417" stop-color="#dadada"/><stop offset="0.458" stop-color="#d9d9d9"/><stop offset="0.500" stop-color="#d5d5d5"/><stop offset="0.542" stop-color="#d8d8d8"/><stop offset="0.583" stop-color="#d7d7d7"/><stop offset="0.625" stop-color="#d2d2d2"/><stop offset="0.667" stop-color="#d7d7d7"/><stop offset="0.708" stop-color="#d5d5d5"/><stop offset="0.750" stop-color="#d5d5d5"/><stop offset="0.792" stop-color="#d4d4d4"/><stop offset="0.833" stop-color="#d5d5d5"/><stop offset="0.875" stop-color="#d6d6d6"/><stop offset="0.917" stop-color="#d6d6d6"/><stop offset="0.958" stop-color="#d2d2d2"/><stop offset="1.000" stop-color="#cdcdcd"/></linearGradient>
<rect x="1440.3" y="1360" width="337.2" height="66.2" fill="url(#sg31)"/>
<g filter="url(#bl15)"><path d="M1456.3 1389 C1456.3 1385.5 1457.7 1385.5 1460.5 1385.5 C1474.2 1385.5 1477.6 1386.5 1484.3 1386.5 C1491 1386.5 1494.4 1385.5 1508.1 1385.5 C1510.9 1385.5 1512.3 1385.5 1512.3 1389 C1512.3 1392.5 1510.9 1392.5 1508.1 1392.5 C1494.4 1392.5 1491 1391.5 1484.3 1391.5 C1477.6 1391.5 1474.2 1392.5 1460.5 1392.5 C1457.7 1392.5 1456.3 1392.5 1456.3 1389 Z" fill="#000" fill-opacity="0.85"/><path d="M1538.5 1389 C1538.5 1385.5 1539.9 1385.5 1542.7 1385.5 C1556.7 1385.5 1560.2 1386.5 1567 1386.5 C1573.8 1386.5 1577.3 1385.5 1591.3 1385.5 C1594.1 1385.5 1595.5 1385.5 1595.5 1389 C1595.5 1392.5 1594.1 1392.5 1591.3 1392.5 C1577.3 1392.5 1573.8 1391.5 1567 1391.5 C1560.2 1391.5 1556.7 1392.5 1542.7 1392.5 C1539.9 1392.5 1538.5 1392.5 1538.5 1389 Z" fill="#000" fill-opacity="0.85"/><path d="M1618.9 1386.5 C1618.9 1382.5 1620.5 1382.5 1623.7 1382.5 C1637.5 1382.5 1640.9 1383.5 1647.9 1383.5 C1654.9 1383.5 1658.3 1382.5 1672.1 1382.5 C1675.3 1382.5 1676.9 1382.5 1676.9 1386.5 C1676.9 1390.5 1675.3 1390.5 1672.1 1390.5 C1658.3 1390.5 1654.9 1389.5 1647.9 1389.5 C1640.9 1389.5 1637.5 1390.5 1623.7 1390.5 C1620.5 1390.5 1618.9 1390.5 1618.9 1386.5 Z" fill="#000" fill-opacity="0.95"/><path d="M1699.7 1386 C1699.7 1382 1701.3 1382 1704.5 1382 C1718.6 1382 1722.1 1383 1729.2 1383 C1736.3 1383 1739.8 1382 1753.9 1382 C1757.1 1382 1758.7 1382 1758.7 1386 C1758.7 1390 1757.1 1390 1753.9 1390 C1739.8 1390 1736.3 1389 1729.2 1389 C1722.1 1389 1718.6 1390 1704.5 1390 C1701.3 1390 1699.7 1390 1699.7 1386 Z" fill="#000" fill-opacity="1.00"/><path d="M1456.3 1410 C1456.3 1406 1457.9 1406 1461.1 1406 C1474.2 1406 1477.6 1407.1 1484.3 1407.1 C1491 1407.1 1494.4 1406 1507.5 1406 C1510.7 1406 1512.3 1406 1512.3 1410 C1512.3 1414 1510.7 1414 1507.5 1414 C1494.4 1414 1491 1412.9 1484.3 1412.9 C1477.6 1412.9 1474.2 1414 1461.1 1414 C1457.9 1414 1456.3 1414 1456.3 1410 Z" fill="#000" fill-opacity="0.95"/><path d="M1538.5 1409 C1538.5 1405 1540.1 1405 1543.3 1405 C1556.7 1405 1560.2 1406.1 1567 1406.1 C1573.8 1406.1 1577.3 1405 1590.7 1405 C1593.9 1405 1595.5 1405 1595.5 1409 C1595.5 1413 1593.9 1413 1590.7 1413 C1577.3 1413 1573.8 1411.9 1567 1411.9 C1560.2 1411.9 1556.7 1413 1543.3 1413 C1540.1 1413 1538.5 1413 1538.5 1409 Z" fill="#000" fill-opacity="0.95"/><path d="M1618.9 1406 C1618.9 1401.5 1620.7 1401.5 1624.3 1401.5 C1637.5 1401.5 1640.9 1402.6 1647.9 1402.6 C1654.9 1402.6 1658.3 1401.5 1671.5 1401.5 C1675.1 1401.5 1676.9 1401.5 1676.9 1406 C1676.9 1410.5 1675.1 1410.5 1671.5 1410.5 C1658.3 1410.5 1654.9 1409.4 1647.9 1409.4 C1640.9 1409.4 1637.5 1410.5 1624.3 1410.5 C1620.7 1410.5 1618.9 1410.5 1618.9 1406 Z" fill="#000" fill-opacity="1.00"/><path d="M1699.7 1405 C1699.7 1400.2 1701.6 1400.2 1705.4 1400.2 C1718.6 1400.2 1722.1 1401.2 1729.2 1401.2 C1736.3 1401.2 1739.8 1400.2 1753 1400.2 C1756.8 1400.2 1758.7 1400.2 1758.7 1405 C1758.7 1409.8 1756.8 1409.8 1753 1409.8 C1739.8 1409.8 1736.3 1408.8 1729.2 1408.8 C1722.1 1408.8 1718.6 1409.8 1705.4 1409.8 C1701.6 1409.8 1699.7 1409.8 1699.7 1405 Z" fill="#000" fill-opacity="1.00"/></g>
</g>
<rect x="1440.3" y="1360" width="337.2" height="66.2" fill="none" stroke="#111" stroke-width="1.3"/>
<clipPath id="cp32"><rect x="1440.3" y="1429.2" width="337.2" height="66.2"/></clipPath>
<g clip-path="url(#cp32)">
<rect x="1440.3" y="1429.2" width="337.2" height="66.2" fill="#bcbcbc"/>
<linearGradient id="sg32" x1="0" y1="0" x2="1" y2="0"><stop offset="0.000" stop-color="#b6b6b6"/><stop offset="0.042" stop-color="#bebebe"/><stop offset="0.083" stop-color="#bcbcbc"/><stop offset="0.125" stop-color="#bebebe"/><stop offset="0.167" stop-color="#bababa"/><stop offset="0.208" stop-color="#b7b7b7"/><stop offset="0.250" stop-color="#c0c0c0"/><stop offset="0.292" stop-color="#bdbdbd"/><stop offset="0.333" stop-color="#b7b7b7"/><stop offset="0.375" stop-color="#b9b9b9"/><stop offset="0.417" stop-color="#bababa"/><stop offset="0.458" stop-color="#bdbdbd"/><stop offset="0.500" stop-color="#bfbfbf"/><stop offset="0.542" stop-color="#bdbdbd"/><stop offset="0.583" stop-color="#bbbbbb"/><stop offset="0.625" stop-color="#bdbdbd"/><stop offset="0.667" stop-color="#bbbbbb"/><stop offset="0.708" stop-color="#bcbcbc"/><stop offset="0.750" stop-color="#bababa"/><stop offset="0.792" stop-color="#b9b9b9"/><stop offset="0.833" stop-color="#bfbfbf"/><stop offset="0.875" stop-color="#bbbbbb"/><stop offset="0.917" stop-color="#bcbcbc"/><stop offset="0.958" stop-color="#bababa"/><stop offset="1.000" stop-color="#b3b3b3"/></linearGradient>
<rect x="1440.3" y="1429.2" width="337.2" height="66.2" fill="url(#sg32)"/>
<g filter="url(#bl15)"><path d="M1452.8 1463.6 C1452.8 1454.6 1456.4 1454.6 1463.6 1454.6 C1473 1454.6 1476.7 1455.9 1484.3 1455.9 C1491.9 1455.9 1495.6 1454.6 1505 1454.6 C1512.2 1454.6 1515.8 1454.6 1515.8 1463.6 C1515.8 1472.6 1512.2 1472.6 1505 1472.6 C1495.6 1472.6 1491.9 1471.3 1484.3 1471.3 C1476.7 1471.3 1473 1472.6 1463.6 1472.6 C1456.4 1472.6 1452.8 1472.6 1452.8 1463.6 Z" fill="#000" fill-opacity="1.00"/><path d="M1533.5 1463.6 C1533.5 1455.1 1536.9 1455.1 1543.7 1455.1 C1554.9 1455.1 1559 1456.6 1567 1456.6 C1575 1456.6 1579.1 1455.1 1590.3 1455.1 C1597.1 1455.1 1600.5 1455.1 1600.5 1463.6 C1600.5 1472.1 1597.1 1472.1 1590.3 1472.1 C1579.1 1472.1 1575 1470.6 1567 1470.6 C1559 1470.6 1554.9 1472.1 1543.7 1472.1 C1536.9 1472.1 1533.5 1472.1 1533.5 1463.6 Z" fill="#000" fill-opacity="1.00"/><path d="M1615.9 1463.6 C1615.9 1454.6 1619.5 1454.6 1626.7 1454.6 C1636.4 1454.6 1640.2 1456.2 1647.9 1456.2 C1655.6 1456.2 1659.4 1454.6 1669.1 1454.6 C1676.3 1454.6 1679.9 1454.6 1679.9 1463.6 C1679.9 1472.6 1676.3 1472.6 1669.1 1472.6 C1659.4 1472.6 1655.6 1471 1647.9 1471 C1640.2 1471 1636.4 1472.6 1626.7 1472.6 C1619.5 1472.6 1615.9 1472.6 1615.9 1463.6 Z" fill="#000" fill-opacity="1.00"/><path d="M1698.7 1463.6 C1698.7 1453.1 1702.9 1453.1 1711.3 1453.1 C1718.2 1453.1 1721.9 1454.6 1729.2 1454.6 C1736.5 1454.6 1740.2 1453.1 1747.1 1453.1 C1755.5 1453.1 1759.7 1453.1 1759.7 1463.6 C1759.7 1474.1 1755.5 1474.1 1747.1 1474.1 C1740.2 1474.1 1736.5 1472.6 1729.2 1472.6 C1721.9 1472.6 1718.2 1474.1 1711.3 1474.1 C1702.9 1474.1 1698.7 1474.1 1698.7 1463.6 Z" fill="#000" fill-opacity="1.00"/></g>
</g>
<rect x="1440.3" y="1429.2" width="337.2" height="66.2" fill="none" stroke="#111" stroke-width="1.3"/>
<clipPath id="cp33"><rect x="1440.3" y="1499.2" width="337.2" height="66.3"/></clipPath>
<g clip-path="url(#cp33)">
<rect x="1440.3" y="1499.2" width="337.2" height="66.3" fill="#989898"/>
<linearGradient id="sg33" x1="0" y1="0" x2="1" y2="0"><stop offset="0.000" stop-color="#919191"/><stop offset="0.042" stop-color="#979797"/><stop offset="0.083" stop-color="#999999"/><stop offset="0.125" stop-color="#989898"/><stop offset="0.167" stop-color="#949494"/><stop offset="0.208" stop-color="#9b9b9b"/><stop offset="0.250" stop-color="#989898"/><stop offset="0.292" stop-color="#9a9a9a"/><stop offset="0.333" stop-color="#9d9d9d"/><stop offset="0.375" stop-color="#999999"/><stop offset="0.417" stop-color="#959595"/><stop offset="0.458" stop-color="#969696"/><stop offset="0.500" stop-color="#9b9b9b"/><stop offset="0.542" stop-color="#949494"/><stop offset="0.583" stop-color="#999999"/><stop offset="0.625" stop-color="#999999"/><stop offset="0.667" stop-color="#959595"/><stop offset="0.708" stop-color="#989898"/><stop offset="0.750" stop-color="#999999"/><stop offset="0.792" stop-color="#969696"/><stop offset="0.833" stop-color="#979797"/><stop offset="0.875" stop-color="#999999"/><stop offset="0.917" stop-color="#959595"/><stop offset="0.958" stop-color="#969696"/><stop offset="1.000" stop-color="#929292"/></linearGradient>
<rect x="1440.3" y="1499.2" width="337.2" height="66.3" fill="url(#sg33)"/>
<g filter="url(#bl15)"><path d="M1453.8 1534 C1453.8 1529.5 1455.6 1529.5 1459.2 1529.5 C1473.3 1529.5 1477 1530.4 1484.3 1530.4 C1491.6 1530.4 1495.3 1529.5 1509.4 1529.5 C1513 1529.5 1514.8 1529.5 1514.8 1534 C1514.8 1538.5 1513 1538.5 1509.4 1538.5 C1495.3 1538.5 1491.6 1537.6 1484.3 1537.6 C1477 1537.6 1473.3 1538.5 1459.2 1538.5 C1455.6 1538.5 1453.8 1538.5 1453.8 1534 Z" fill="#000" fill-opacity="0.50"/><path d="M1538.5 1534 C1538.5 1529.8 1540.2 1529.8 1543.6 1529.8 C1556.7 1529.8 1560.2 1530.6 1567 1530.6 C1573.8 1530.6 1577.3 1529.8 1590.4 1529.8 C1593.8 1529.8 1595.5 1529.8 1595.5 1534 C1595.5 1538.2 1593.8 1538.2 1590.4 1538.2 C1577.3 1538.2 1573.8 1537.4 1567 1537.4 C1560.2 1537.4 1556.7 1538.2 1543.6 1538.2 C1540.2 1538.2 1538.5 1538.2 1538.5 1534 Z" fill="#000" fill-opacity="0.45"/><path d="M1619.4 1534 C1619.4 1529.8 1621.1 1529.8 1624.5 1529.8 C1637.6 1529.8 1641.1 1530.6 1647.9 1530.6 C1654.7 1530.6 1658.2 1529.8 1671.3 1529.8 C1674.7 1529.8 1676.4 1529.8 1676.4 1534 C1676.4 1538.2 1674.7 1538.2 1671.3 1538.2 C1658.2 1538.2 1654.7 1537.4 1647.9 1537.4 C1641.1 1537.4 1637.6 1538.2 1624.5 1538.2 C1621.1 1538.2 1619.4 1538.2 1619.4 1534 Z" fill="#000" fill-opacity="0.38"/><path d="M1697.7 1534 C1697.7 1526.5 1700.7 1526.5 1706.7 1526.5 C1717.9 1526.5 1721.6 1527.8 1729.2 1527.8 C1736.8 1527.8 1740.5 1526.5 1751.7 1526.5 C1757.7 1526.5 1760.7 1526.5 1760.7 1534 C1760.7 1541.5 1757.7 1541.5 1751.7 1541.5 C1740.5 1541.5 1736.8 1540.2 1729.2 1540.2 C1721.6 1540.2 1717.9 1541.5 1706.7 1541.5 C1700.7 1541.5 1697.7 1541.5 1697.7 1534 Z" fill="#000" fill-opacity="1.00"/></g>
</g>
<rect x="1440.3" y="1499.2" width="337.2" height="66.3" fill="none" stroke="#111" stroke-width="1.3"/>
<clipPath id="cp34"><rect x="1440.3" y="1569.2" width="337.2" height="66.3"/></clipPath>
<g clip-path="url(#cp34)">
<rect x="1440.3" y="1569.2" width="337.2" height="66.3" fill="#c8c8c8"/>
<linearGradient id="sg34" x1="0" y1="0" x2="1" y2="0"><stop offset="0.000" stop-color="#c0c0c0"/><stop offset="0.042" stop-color="#c5c5c5"/><stop offset="0.083" stop-color="#cecece"/><stop offset="0.125" stop-color="#c9c9c9"/><stop offset="0.167" stop-color="#cacaca"/><stop offset="0.208" stop-color="#c7c7c7"/><stop offset="0.250" stop-color="#c8c8c8"/><stop offset="0.292" stop-color="#c9c9c9"/><stop offset="0.333" stop-color="#c8c8c8"/><stop offset="0.375" stop-color="#c6c6c6"/><stop offset="0.417" stop-color="#cacaca"/><stop offset="0.458" stop-color="#c9c9c9"/><stop offset="0.500" stop-color="#c8c8c8"/><stop offset="0.542" stop-color="#c6c6c6"/><stop offset="0.583" stop-color="#c6c6c6"/><stop offset="0.625" stop-color="#c5c5c5"/><stop offset="0.667" stop-color="#c9c9c9"/><stop offset="0.708" stop-color="#c7c7c7"/><stop offset="0.750" stop-color="#cacaca"/><stop offset="0.792" stop-color="#c6c6c6"/><stop offset="0.833" stop-color="#cacaca"/><stop offset="0.875" stop-color="#c8c8c8"/><stop offset="0.917" stop-color="#c7c7c7"/><stop offset="0.958" stop-color="#cbcbcb"/><stop offset="1.000" stop-color="#c0c0c0"/></linearGradient>
<rect x="1440.3" y="1569.2" width="337.2" height="66.3" fill="url(#sg34)"/>
<g filter="url(#bl15)"><path d="M1449.8 1598.6 C1449.8 1593.1 1452 1593.1 1456.4 1593.1 C1471.9 1593.1 1476 1593.9 1484.3 1593.9 C1492.6 1593.9 1496.7 1593.1 1512.2 1593.1 C1516.6 1593.1 1518.8 1593.1 1518.8 1598.6 C1518.8 1604.1 1516.6 1604.1 1512.2 1604.1 C1496.7 1604.1 1492.6 1603.3 1484.3 1603.3 C1476 1603.3 1471.9 1604.1 1456.4 1604.1 C1452 1604.1 1449.8 1604.1 1449.8 1598.6 Z" fill="#000" fill-opacity="1.00"/><path d="M1533.5 1598.6 C1533.5 1593.1 1535.7 1593.1 1540.1 1593.1 C1554.9 1593.1 1559 1593.9 1567 1593.9 C1575 1593.9 1579.1 1593.1 1593.9 1593.1 C1598.3 1593.1 1600.5 1593.1 1600.5 1598.6 C1600.5 1604.1 1598.3 1604.1 1593.9 1604.1 C1579.1 1604.1 1575 1603.3 1567 1603.3 C1559 1603.3 1554.9 1604.1 1540.1 1604.1 C1535.7 1604.1 1533.5 1604.1 1533.5 1598.6 Z" fill="#000" fill-opacity="1.00"/><path d="M1614.4 1598.6 C1614.4 1593.1 1616.6 1593.1 1621 1593.1 C1635.8 1593.1 1639.9 1593.9 1647.9 1593.9 C1655.9 1593.9 1660 1593.1 1674.8 1593.1 C1679.2 1593.1 1681.4 1593.1 1681.4 1598.6 C1681.4 1604.1 1679.2 1604.1 1674.8 1604.1 C1660 1604.1 1655.9 1603.3 1647.9 1603.3 C1639.9 1603.3 1635.8 1604.1 1621 1604.1 C1616.6 1604.1 1614.4 1604.1 1614.4 1598.6 Z" fill="#000" fill-opacity="1.00"/><path d="M1696.2 1598.6 C1696.2 1592.8 1698.5 1592.8 1703.1 1592.8 C1717.3 1592.8 1721.3 1593.7 1729.2 1593.7 C1737.1 1593.7 1741.1 1592.8 1755.3 1592.8 C1759.9 1592.8 1762.2 1592.8 1762.2 1598.6 C1762.2 1604.3 1759.9 1604.3 1755.3 1604.3 C1741.1 1604.3 1737.1 1603.5 1729.2 1603.5 C1721.3 1603.5 1717.3 1604.3 1703.1 1604.3 C1698.5 1604.3 1696.2 1604.3 1696.2 1598.6 Z" fill="#000" fill-opacity="1.00"/></g>
</g>
<rect x="1440.3" y="1569.2" width="337.2" height="66.3" fill="none" stroke="#111" stroke-width="1.3"/>
<text transform="translate(1430.9 1333.2) scale(0.920 1.000)" font-size="32" font-weight="bold" text-anchor="end">PERK</text>
<text transform="translate(1430.9 1401.9) scale(0.920 1.000)" font-size="32" font-weight="bold" text-anchor="end">p-PERK</text>
<text transform="translate(1430.9 1471.1) scale(0.920 1.000)" font-size="32" font-weight="bold" text-anchor="end">eIF2α</text>
<text transform="translate(1430.9 1542.4) scale(0.920 1.000)" font-size="32" font-weight="bold" text-anchor="end">p-eIF2α</text>
<text transform="translate(1430.9 1609.5) scale(0.920 1.000)" font-size="32" font-weight="bold" text-anchor="end">Actin</text>
<rect x="1782.9" y="1318" width="14.7" height="3.4" fill="#000"/>
<text transform="translate(1803.9 1329.2) scale(0.900 1.000)" font-size="28" font-weight="bold">140 KD</text>
<rect x="1782.9" y="1380.9" width="14.7" height="3.4" fill="#000"/>
<text transform="translate(1803.9 1392.1) scale(0.900 1.000)" font-size="28" font-weight="bold">140 KD</text>
<rect x="1782.9" y="1461.9" width="14.7" height="3.4" fill="#000"/>
<text transform="translate(1803.9 1473.1) scale(0.900 1.000)" font-size="28" font-weight="bold">36 KD</text>
<rect x="1782.9" y="1533.2" width="14.7" height="3.4" fill="#000"/>
<text transform="translate(1803.9 1544.4) scale(0.900 1.000)" font-size="28" font-weight="bold">36 KD</text>
<rect x="1782.9" y="1594.8" width="14.7" height="3.4" fill="#000"/>
<text transform="translate(1803.9 1606) scale(0.900 1.000)" font-size="28" font-weight="bold">42 KD</text>
<text transform="translate(1267.3 1223.1) scale(0.930 1.000)" font-size="32" font-weight="bold">(Individual)</text>
<text transform="translate(1425.1 1280.6) scale(0.890 1.000)" font-size="32.7" font-weight="bold" text-anchor="end">TM</text>
<text transform="translate(1695.1 1230) scale(0.940 1.000)" font-size="31" font-weight="bold" text-anchor="middle">CAP</text>
<rect x="1632" y="1238.2" width="106.9" height="2.8" fill="#000"/>
<rect x="1479.9" y="1267.8" width="8.8" height="4.5" fill="#000"/>
<rect x="1557.8" y="1264.2" width="16.5" height="4.4" fill="#000"/>
<rect x="1564.1" y="1257.4" width="4" height="18" fill="#000"/>
<rect x="1641" y="1267.8" width="8.8" height="4.5" fill="#000"/>
<rect x="1719.3" y="1264.2" width="16.5" height="4.4" fill="#000"/>
<rect x="1725.6" y="1257.4" width="4" height="18" fill="#000"/>
<clipPath id="cp40"><rect x="806.5" y="1784.5" width="322" height="68.3"/></clipPath>
<g clip-path="url(#cp40)">
<rect x="806.5" y="1784.5" width="322" height="68.3" fill="#a5a5a5"/>
<linearGradient id="sg40" x1="0" y1="0" x2="1" y2="0"><stop offset="0.000" stop-color="#9a9a9a"/><stop offset="0.042" stop-color="#a2a2a2"/><stop offset="0.083" stop-color="#a3a3a3"/><stop offset="0.125" stop-color="#a7a7a7"/><stop offset="0.167" stop-color="#a2a2a2"/><stop offset="0.208" stop-color="#a2a2a2"/><stop offset="0.250" stop-color="#a4a4a4"/><stop offset="0.292" stop-color="#a8a8a8"/><stop offset="0.333" stop-color="#a3a3a3"/><stop offset="0.375" stop-color="#a3a3a3"/><stop offset="0.417" stop-color="#a5a5a5"/><stop offset="0.458" stop-color="#a5a5a5"/><stop offset="0.500" stop-color="#a6a6a6"/><stop offset="0.542" stop-color="#a4a4a4"/><stop offset="0.583" stop-color="#a3a3a3"/><stop offset="0.625" stop-color="#a2a2a2"/><stop offset="0.667" stop-color="#a6a6a6"/><stop offset="0.708" stop-color="#a4a4a4"/><stop offset="0.750" stop-color="#a6a6a6"/><stop offset="0.792" stop-color="#a5a5a5"/><stop offset="0.833" stop-color="#a8a8a8"/><stop offset="0.875" stop-color="#a6a6a6"/><stop offset="0.917" stop-color="#a5a5a5"/><stop offset="0.958" stop-color="#a5a5a5"/><stop offset="1.000" stop-color="#9c9c9c"/></linearGradient>
<rect x="806.5" y="1784.5" width="322" height="68.3" fill="url(#sg40)"/>
<g filter="url(#bl15)"><path d="M815 1821.1 C815 1814.1 817.8 1814.1 823.4 1814.1 C832.3 1814.1 835.5 1815.1 842 1815.1 C848.5 1815.1 851.7 1814.1 860.6 1814.1 C866.2 1814.1 869 1814.1 869 1821.1 C869 1828.1 866.2 1828.1 860.6 1828.1 C851.7 1828.1 848.5 1827.1 842 1827.1 C835.5 1827.1 832.3 1828.1 823.4 1828.1 C817.8 1828.1 815 1828.1 815 1821.1 Z" fill="#000" fill-opacity="1.00"/><path d="M894 1821.1 C894 1813.6 897 1813.6 903 1813.6 C912.6 1813.6 916 1814.4 923 1814.4 C930 1814.4 933.4 1813.6 943 1813.6 C949 1813.6 952 1813.6 952 1821.1 C952 1828.6 949 1828.6 943 1828.6 C933.4 1828.6 930 1827.8 923 1827.8 C916 1827.8 912.6 1828.6 903 1828.6 C897 1828.6 894 1828.6 894 1821.1 Z" fill="#000" fill-opacity="1.00"/><path d="M977.3 1821.1 C977.3 1813.1 980.5 1813.1 986.9 1813.1 C994.3 1813.1 997.4 1814.2 1003.8 1814.2 C1010.2 1814.2 1013.3 1813.1 1020.7 1813.1 C1027.1 1813.1 1030.3 1813.1 1030.3 1821.1 C1030.3 1829.1 1027.1 1829.1 1020.7 1829.1 C1013.3 1829.1 1010.2 1828 1003.8 1828 C997.4 1828 994.3 1829.1 986.9 1829.1 C980.5 1829.1 977.3 1829.1 977.3 1821.1 Z" fill="#000" fill-opacity="1.00"/><path d="M1056.8 1820.5 C1056.8 1811.5 1060.4 1811.5 1067.6 1811.5 C1075.4 1811.5 1078.8 1812.8 1085.8 1812.8 C1092.8 1812.8 1096.2 1811.5 1104 1811.5 C1111.2 1811.5 1114.8 1811.5 1114.8 1820.5 C1114.8 1829.5 1111.2 1829.5 1104 1829.5 C1096.2 1829.5 1092.8 1828.2 1085.8 1828.2 C1078.8 1828.2 1075.4 1829.5 1067.6 1829.5 C1060.4 1829.5 1056.8 1829.5 1056.8 1820.5 Z" fill="#000" fill-opacity="1.00"/></g>
</g>
<rect x="806.5" y="1784.5" width="322" height="68.3" fill="none" stroke="#111" stroke-width="1.3"/>
<clipPath id="cp41"><rect x="806.5" y="1856" width="322" height="67.5"/></clipPath>
<g clip-path="url(#cp41)">
<rect x="806.5" y="1856" width="322" height="67.5" fill="#b0b0b0"/>
<linearGradient id="sg41" x1="0" y1="0" x2="1" y2="0"><stop offset="0.000" stop-color="#a5a5a5"/><stop offset="0.042" stop-color="#b1b1b1"/><stop offset="0.083" stop-color="#b0b0b0"/><stop offset="0.125" stop-color="#b1b1b1"/><stop offset="0.167" stop-color="#adadad"/><stop offset="0.208" stop-color="#b3b3b3"/><stop offset="0.250" stop-color="#b0b0b0"/><stop offset="0.292" stop-color="#adadad"/><stop offset="0.333" stop-color="#adadad"/><stop offset="0.375" stop-color="#adadad"/><stop offset="0.417" stop-color="#aeaeae"/><stop offset="0.458" stop-color="#b3b3b3"/><stop offset="0.500" stop-color="#b2b2b2"/><stop offset="0.542" stop-color="#afafaf"/><stop offset="0.583" stop-color="#afafaf"/><stop offset="0.625" stop-color="#b5b5b5"/><stop offset="0.667" stop-color="#b2b2b2"/><stop offset="0.708" stop-color="#aeaeae"/><stop offset="0.750" stop-color="#b0b0b0"/><stop offset="0.792" stop-color="#afafaf"/><stop offset="0.833" stop-color="#b0b0b0"/><stop offset="0.875" stop-color="#b2b2b2"/><stop offset="0.917" stop-color="#afafaf"/><stop offset="0.958" stop-color="#b1b1b1"/><stop offset="1.000" stop-color="#a9a9a9"/></linearGradient>
<rect x="806.5" y="1856" width="322" height="67.5" fill="url(#sg41)"/>
<g filter="url(#bl15)"><path d="M815.5 1882 C815.5 1878.8 816.8 1878.8 819.4 1878.8 C832.5 1878.8 835.6 1879.4 842 1879.4 C848.4 1879.4 851.5 1878.8 864.6 1878.8 C867.2 1878.8 868.5 1878.8 868.5 1882 C868.5 1885.2 867.2 1885.2 864.6 1885.2 C851.5 1885.2 848.4 1884.6 842 1884.6 C835.6 1884.6 832.5 1885.2 819.4 1885.2 C816.8 1885.2 815.5 1885.2 815.5 1882 Z" fill="#000" fill-opacity="0.80"/><path d="M895.5 1882 C895.5 1878.8 896.8 1878.8 899.4 1878.8 C913.1 1878.8 916.4 1879.4 923 1879.4 C929.6 1879.4 932.9 1878.8 946.6 1878.8 C949.2 1878.8 950.5 1878.8 950.5 1882 C950.5 1885.2 949.2 1885.2 946.6 1885.2 C932.9 1885.2 929.6 1884.6 923 1884.6 C916.4 1884.6 913.1 1885.2 899.4 1885.2 C896.8 1885.2 895.5 1885.2 895.5 1882 Z" fill="#000" fill-opacity="0.80"/><path d="M975.8 1882 C975.8 1878.5 977.2 1878.5 980 1878.5 C993.7 1878.5 997.1 1879.2 1003.8 1879.2 C1010.5 1879.2 1013.9 1878.5 1027.6 1878.5 C1030.4 1878.5 1031.8 1878.5 1031.8 1882 C1031.8 1885.5 1030.4 1885.5 1027.6 1885.5 C1013.9 1885.5 1010.5 1884.8 1003.8 1884.8 C997.1 1884.8 993.7 1885.5 980 1885.5 C977.2 1885.5 975.8 1885.5 975.8 1882 Z" fill="#000" fill-opacity="0.85"/><path d="M1057.8 1882 C1057.8 1878.8 1059.1 1878.8 1061.7 1878.8 C1075.7 1878.8 1079.1 1879.4 1085.8 1879.4 C1092.5 1879.4 1095.9 1878.8 1109.9 1878.8 C1112.5 1878.8 1113.8 1878.8 1113.8 1882 C1113.8 1885.2 1112.5 1885.2 1109.9 1885.2 C1095.9 1885.2 1092.5 1884.6 1085.8 1884.6 C1079.1 1884.6 1075.7 1885.2 1061.7 1885.2 C1059.1 1885.2 1057.8 1885.2 1057.8 1882 Z" fill="#000" fill-opacity="0.80"/><path d="M815 1902 C815 1898.5 816.4 1898.5 819.2 1898.5 C832.3 1898.5 835.5 1899.2 842 1899.2 C848.5 1899.2 851.7 1898.5 864.8 1898.5 C867.6 1898.5 869 1898.5 869 1902 C869 1905.5 867.6 1905.5 864.8 1905.5 C851.7 1905.5 848.5 1904.8 842 1904.8 C835.5 1904.8 832.3 1905.5 819.2 1905.5 C816.4 1905.5 815 1905.5 815 1902 Z" fill="#000" fill-opacity="0.90"/><path d="M895.5 1902 C895.5 1898.5 896.9 1898.5 899.7 1898.5 C913.1 1898.5 916.4 1899.2 923 1899.2 C929.6 1899.2 932.9 1898.5 946.3 1898.5 C949.1 1898.5 950.5 1898.5 950.5 1902 C950.5 1905.5 949.1 1905.5 946.3 1905.5 C932.9 1905.5 929.6 1904.8 923 1904.8 C916.4 1904.8 913.1 1905.5 899.7 1905.5 C896.9 1905.5 895.5 1905.5 895.5 1902 Z" fill="#000" fill-opacity="0.90"/><path d="M975.8 1902 C975.8 1898.5 977.2 1898.5 980 1898.5 C993.7 1898.5 997.1 1899.2 1003.8 1899.2 C1010.5 1899.2 1013.9 1898.5 1027.6 1898.5 C1030.4 1898.5 1031.8 1898.5 1031.8 1902 C1031.8 1905.5 1030.4 1905.5 1027.6 1905.5 C1013.9 1905.5 1010.5 1904.8 1003.8 1904.8 C997.1 1904.8 993.7 1905.5 980 1905.5 C977.2 1905.5 975.8 1905.5 975.8 1902 Z" fill="#000" fill-opacity="0.90"/><path d="M1057.8 1902 C1057.8 1898.5 1059.2 1898.5 1062 1898.5 C1075.7 1898.5 1079.1 1899.2 1085.8 1899.2 C1092.5 1899.2 1095.9 1898.5 1109.6 1898.5 C1112.4 1898.5 1113.8 1898.5 1113.8 1902 C1113.8 1905.5 1112.4 1905.5 1109.6 1905.5 C1095.9 1905.5 1092.5 1904.8 1085.8 1904.8 C1079.1 1904.8 1075.7 1905.5 1062 1905.5 C1059.2 1905.5 1057.8 1905.5 1057.8 1902 Z" fill="#000" fill-opacity="0.85"/></g>
</g>
<rect x="806.5" y="1856" width="322" height="67.5" fill="none" stroke="#111" stroke-width="1.3"/>
<clipPath id="cp42"><rect x="806.5" y="1927.7" width="322" height="68.3"/></clipPath>
<g clip-path="url(#cp42)">
<rect x="806.5" y="1927.7" width="322" height="68.3" fill="#a2a2a2"/>
<linearGradient id="sg42" x1="0" y1="0" x2="1" y2="0"><stop offset="0.000" stop-color="#9b9b9b"/><stop offset="0.042" stop-color="#9f9f9f"/><stop offset="0.083" stop-color="#a4a4a4"/><stop offset="0.125" stop-color="#a4a4a4"/><stop offset="0.167" stop-color="#9d9d9d"/><stop offset="0.208" stop-color="#9f9f9f"/><stop offset="0.250" stop-color="#a2a2a2"/><stop offset="0.292" stop-color="#a1a1a1"/><stop offset="0.333" stop-color="#a2a2a2"/><stop offset="0.375" stop-color="#a0a0a0"/><stop offset="0.417" stop-color="#a4a4a4"/><stop offset="0.458" stop-color="#a4a4a4"/><stop offset="0.500" stop-color="#a2a2a2"/><stop offset="0.542" stop-color="#a5a5a5"/><stop offset="0.583" stop-color="#a3a3a3"/><stop offset="0.625" stop-color="#a0a0a0"/><stop offset="0.667" stop-color="#a3a3a3"/><stop offset="0.708" stop-color="#a0a0a0"/><stop offset="0.750" stop-color="#a4a4a4"/><stop offset="0.792" stop-color="#a2a2a2"/><stop offset="0.833" stop-color="#a2a2a2"/><stop offset="0.875" stop-color="#a0a0a0"/><stop offset="0.917" stop-color="#a5a5a5"/><stop offset="0.958" stop-color="#a2a2a2"/><stop offset="1.000" stop-color="#999999"/></linearGradient>
<rect x="806.5" y="1927.7" width="322" height="68.3" fill="url(#sg42)"/>
<g filter="url(#bl15)"><path d="M814 1959.4 C814 1951.9 817 1951.9 823 1951.9 C831.9 1951.9 835.3 1953 842 1953 C848.7 1953 852.1 1951.9 861 1951.9 C867 1951.9 870 1951.9 870 1959.4 C870 1966.9 867 1966.9 861 1966.9 C852.1 1966.9 848.7 1965.9 842 1965.9 C835.3 1965.9 831.9 1966.9 823 1966.9 C817 1966.9 814 1966.9 814 1959.4 Z" fill="#000" fill-opacity="1.00"/><path d="M895 1959.4 C895 1952.4 897.8 1952.4 903.4 1952.4 C912.9 1952.4 916.3 1953.9 923 1953.9 C929.7 1953.9 933.1 1952.4 942.6 1952.4 C948.2 1952.4 951 1952.4 951 1959.4 C951 1966.4 948.2 1966.4 942.6 1966.4 C933.1 1966.4 929.7 1964.9 923 1964.9 C916.3 1964.9 912.9 1966.4 903.4 1966.4 C897.8 1966.4 895 1966.4 895 1959.4 Z" fill="#000" fill-opacity="1.00"/><path d="M974.8 1959.4 C974.8 1951.9 977.8 1951.9 983.8 1951.9 C993.4 1951.9 996.8 1953 1003.8 1953 C1010.8 1953 1014.2 1951.9 1023.8 1951.9 C1029.8 1951.9 1032.8 1951.9 1032.8 1959.4 C1032.8 1966.9 1029.8 1966.9 1023.8 1966.9 C1014.2 1966.9 1010.8 1965.9 1003.8 1965.9 C996.8 1965.9 993.4 1966.9 983.8 1966.9 C977.8 1966.9 974.8 1966.9 974.8 1959.4 Z" fill="#000" fill-opacity="1.00"/><path d="M1057.8 1959 C1057.8 1950.5 1061.2 1950.5 1068 1950.5 C1075.7 1950.5 1079.1 1951.7 1085.8 1951.7 C1092.5 1951.7 1095.9 1950.5 1103.6 1950.5 C1110.4 1950.5 1113.8 1950.5 1113.8 1959 C1113.8 1967.5 1110.4 1967.5 1103.6 1967.5 C1095.9 1967.5 1092.5 1966.3 1085.8 1966.3 C1079.1 1966.3 1075.7 1967.5 1068 1967.5 C1061.2 1967.5 1057.8 1967.5 1057.8 1959 Z" fill="#000" fill-opacity="1.00"/></g>
</g>
<rect x="806.5" y="1927.7" width="322" height="68.3" fill="none" stroke="#111" stroke-width="1.3"/>
<clipPath id="cp43"><rect x="806.5" y="1999.5" width="322" height="68.2"/></clipPath>
<g clip-path="url(#cp43)">
<rect x="806.5" y="1999.5" width="322" height="68.2" fill="#a8a8a8"/>
<linearGradient id="sg43" x1="0" y1="0" x2="1" y2="0"><stop offset="0.000" stop-color="#a1a1a1"/><stop offset="0.042" stop-color="#aaaaaa"/><stop offset="0.083" stop-color="#a7a7a7"/><stop offset="0.125" stop-color="#a6a6a6"/><stop offset="0.167" stop-color="#a3a3a3"/><stop offset="0.208" stop-color="#aaaaaa"/><stop offset="0.250" stop-color="#a8a8a8"/><stop offset="0.292" stop-color="#a9a9a9"/><stop offset="0.333" stop-color="#a6a6a6"/><stop offset="0.375" stop-color="#ababab"/><stop offset="0.417" stop-color="#aaaaaa"/><stop offset="0.458" stop-color="#a8a8a8"/><stop offset="0.500" stop-color="#a7a7a7"/><stop offset="0.542" stop-color="#a7a7a7"/><stop offset="0.583" stop-color="#a6a6a6"/><stop offset="0.625" stop-color="#a8a8a8"/><stop offset="0.667" stop-color="#a6a6a6"/><stop offset="0.708" stop-color="#a9a9a9"/><stop offset="0.750" stop-color="#a7a7a7"/><stop offset="0.792" stop-color="#a7a7a7"/><stop offset="0.833" stop-color="#acacac"/><stop offset="0.875" stop-color="#a6a6a6"/><stop offset="0.917" stop-color="#a4a4a4"/><stop offset="0.958" stop-color="#a9a9a9"/><stop offset="1.000" stop-color="#9b9b9b"/></linearGradient>
<rect x="806.5" y="1999.5" width="322" height="68.2" fill="url(#sg43)"/>
<g filter="url(#bl15)"><path d="M813 2037.5 C813 2034 814.4 2034 817.2 2034 C831.6 2034 835 2034.7 842 2034.7 C849 2034.7 852.4 2034 866.8 2034 C869.6 2034 871 2034 871 2037.5 C871 2041 869.6 2041 866.8 2041 C852.4 2041 849 2040.3 842 2040.3 C835 2040.3 831.6 2041 817.2 2041 C814.4 2041 813 2041 813 2037.5 Z" fill="#000" fill-opacity="0.45"/><path d="M895 2037.5 C895 2034 896.4 2034 899.2 2034 C912.9 2034 916.3 2034.7 923 2034.7 C929.7 2034.7 933.1 2034 946.8 2034 C949.6 2034 951 2034 951 2037.5 C951 2041 949.6 2041 946.8 2041 C933.1 2041 929.7 2040.3 923 2040.3 C916.3 2040.3 912.9 2041 899.2 2041 C896.4 2041 895 2041 895 2037.5 Z" fill="#000" fill-opacity="0.45"/><path d="M976.8 2037.5 C976.8 2033.8 978.3 2033.8 981.3 2033.8 C994.1 2033.8 997.3 2034.5 1003.8 2034.5 C1010.3 2034.5 1013.5 2033.8 1026.3 2033.8 C1029.3 2033.8 1030.8 2033.8 1030.8 2037.5 C1030.8 2041.2 1029.3 2041.2 1026.3 2041.2 C1013.5 2041.2 1010.3 2040.5 1003.8 2040.5 C997.3 2040.5 994.1 2041.2 981.3 2041.2 C978.3 2041.2 976.8 2041.2 976.8 2037.5 Z" fill="#000" fill-opacity="0.60"/><path d="M1058.8 2037.5 C1058.8 2034 1060.2 2034 1063 2034 C1076.1 2034 1079.3 2034.7 1085.8 2034.7 C1092.3 2034.7 1095.5 2034 1108.6 2034 C1111.4 2034 1112.8 2034 1112.8 2037.5 C1112.8 2041 1111.4 2041 1108.6 2041 C1095.5 2041 1092.3 2040.3 1085.8 2040.3 C1079.3 2040.3 1076.1 2041 1063 2041 C1060.2 2041 1058.8 2041 1058.8 2037.5 Z" fill="#000" fill-opacity="0.50"/></g>
</g>
<rect x="806.5" y="1999.5" width="322" height="68.2" fill="none" stroke="#111" stroke-width="1.3"/>
<clipPath id="cp44"><rect x="806.5" y="2072" width="322" height="68.2"/></clipPath>
<g clip-path="url(#cp44)">
<rect x="806.5" y="2072" width="322" height="68.2" fill="#a8a8a8"/>
<linearGradient id="sg44" x1="0" y1="0" x2="1" y2="0"><stop offset="0.000" stop-color="#a4a4a4"/><stop offset="0.042" stop-color="#a8a8a8"/><stop offset="0.083" stop-color="#a9a9a9"/><stop offset="0.125" stop-color="#ababab"/><stop offset="0.167" stop-color="#aaaaaa"/><stop offset="0.208" stop-color="#a9a9a9"/><stop offset="0.250" stop-color="#a7a7a7"/><stop offset="0.292" stop-color="#a5a5a5"/><stop offset="0.333" stop-color="#a9a9a9"/><stop offset="0.375" stop-color="#a7a7a7"/><stop offset="0.417" stop-color="#aaaaaa"/><stop offset="0.458" stop-color="#a9a9a9"/><stop offset="0.500" stop-color="#a6a6a6"/><stop offset="0.542" stop-color="#a9a9a9"/><stop offset="0.583" stop-color="#aaaaaa"/><stop offset="0.625" stop-color="#a8a8a8"/><stop offset="0.667" stop-color="#a6a6a6"/><stop offset="0.708" stop-color="#a9a9a9"/><stop offset="0.750" stop-color="#a9a9a9"/><stop offset="0.792" stop-color="#aaaaaa"/><stop offset="0.833" stop-color="#aaaaaa"/><stop offset="0.875" stop-color="#a6a6a6"/><stop offset="0.917" stop-color="#a7a7a7"/><stop offset="0.958" stop-color="#aaaaaa"/><stop offset="1.000" stop-color="#9c9c9c"/></linearGradient>
<rect x="806.5" y="2072" width="322" height="68.2" fill="url(#sg44)"/>
<g filter="url(#bl15)"><path d="M815 2110.6 C815 2104.1 817.6 2104.1 822.8 2104.1 C837.4 2104.1 841.6 2104.8 850 2104.8 C858.4 2104.8 862.6 2104.1 877.2 2104.1 C882.4 2104.1 885 2104.1 885 2110.6 C885 2117.1 882.4 2117.1 877.2 2117.1 C862.6 2117.1 858.4 2116.4 850 2116.4 C841.6 2116.4 837.4 2117.1 822.8 2117.1 C817.6 2117.1 815 2117.1 815 2110.6 Z" fill="#000" fill-opacity="1.00"/><path d="M900.3 2110.6 C900.3 2104.1 902.9 2104.1 908.1 2104.1 C919.8 2104.1 923.5 2104.8 930.8 2104.8 C938.1 2104.8 941.8 2104.1 953.5 2104.1 C958.7 2104.1 961.3 2104.1 961.3 2110.6 C961.3 2117.1 958.7 2117.1 953.5 2117.1 C941.8 2117.1 938.1 2116.4 930.8 2116.4 C923.5 2116.4 919.8 2117.1 908.1 2117.1 C902.9 2117.1 900.3 2117.1 900.3 2110.6 Z" fill="#000" fill-opacity="1.00"/><path d="M976 2110.6 C976 2104.1 978.6 2104.1 983.8 2104.1 C995.5 2104.1 999.2 2104.8 1006.5 2104.8 C1013.8 2104.8 1017.5 2104.1 1029.2 2104.1 C1034.4 2104.1 1037 2104.1 1037 2110.6 C1037 2117.1 1034.4 2117.1 1029.2 2117.1 C1017.5 2117.1 1013.8 2116.4 1006.5 2116.4 C999.2 2116.4 995.5 2117.1 983.8 2117.1 C978.6 2117.1 976 2117.1 976 2110.6 Z" fill="#000" fill-opacity="1.00"/><path d="M1051.2 2110 C1051.2 2103 1054 2103 1059.6 2103 C1070.4 2103 1074 2103.7 1081.2 2103.7 C1088.4 2103.7 1092 2103 1102.8 2103 C1108.4 2103 1111.2 2103 1111.2 2110 C1111.2 2117 1108.4 2117 1102.8 2117 C1092 2117 1088.4 2116.3 1081.2 2116.3 C1074 2116.3 1070.4 2117 1059.6 2117 C1054 2117 1051.2 2117 1051.2 2110 Z" fill="#000" fill-opacity="1.00"/></g>
</g>
<rect x="806.5" y="2072" width="322" height="68.2" fill="none" stroke="#111" stroke-width="1.3"/>
<text transform="translate(798.5 1827.1) scale(0.880 1.000)" font-size="32" font-weight="bold" text-anchor="end">PERK</text>
<text transform="translate(798.5 1894) scale(0.880 1.000)" font-size="32" font-weight="bold" text-anchor="end">p-PERK</text>
<text transform="translate(798.5 1968.9) scale(0.880 1.000)" font-size="32" font-weight="bold" text-anchor="end">eIF2α</text>
<text transform="translate(798.5 2044.5) scale(0.880 1.000)" font-size="32" font-weight="bold" text-anchor="end">p-eIF2α</text>
<text transform="translate(798.5 2117.3) scale(0.880 1.000)" font-size="32" font-weight="bold" text-anchor="end">Actin</text>
<rect x="1131.7" y="1814.5" width="16.2" height="3.4" fill="#000"/>
<text transform="translate(1155.4 1825.1) scale(0.855 1.000)" font-size="28.2" font-weight="bold">140 KD</text>
<rect x="1131.7" y="1879.9" width="16.2" height="3.4" fill="#000"/>
<text transform="translate(1155.4 1890.5) scale(0.855 1.000)" font-size="28.2" font-weight="bold">140 KD</text>
<rect x="1131.7" y="1954.2" width="16.2" height="3.4" fill="#000"/>
<text transform="translate(1155.4 1964.8) scale(0.855 1.000)" font-size="28.2" font-weight="bold">36 KD</text>
<rect x="1131.7" y="2031.5" width="16.2" height="3.4" fill="#000"/>
<text transform="translate(1155.4 2042.1) scale(0.855 1.000)" font-size="28.2" font-weight="bold">36 KD</text>
<rect x="1131.7" y="2106.1" width="16.2" height="3.4" fill="#000"/>
<text transform="translate(1155.4 2116.7) scale(0.855 1.000)" font-size="28.2" font-weight="bold">42 KD</text>
<text transform="translate(644.4 1716.8) scale(0.880 1.000)" font-size="32.4" font-weight="bold">(Individual)</text>
<text transform="translate(797.8 1771.6) scale(0.860 1.000)" font-size="32.3" font-weight="bold" text-anchor="end">IL-10</text>
<text transform="translate(1044.3 1717.4) scale(0.880 1.000)" font-size="31" font-weight="bold" text-anchor="middle">CAP</text>
<rect x="990.8" y="1727.6" width="102" height="2.8" fill="#000"/>
<rect x="834.1" y="1759.2" width="8.8" height="4.5" fill="#000"/>
<rect x="914.9" y="1755.3" width="16" height="4.4" fill="#000"/>
<rect x="920.9" y="1748.5" width="4" height="18" fill="#000"/>
<rect x="995.2" y="1759.2" width="8.8" height="4.5" fill="#000"/>
<rect x="1079.6" y="1755.3" width="16" height="4.4" fill="#000"/>
<rect x="1085.6" y="1748.5" width="4" height="18" fill="#000"/>
<clipPath id="cp50"><rect x="1435.7" y="1798.5" width="340.1" height="67.1"/></clipPath>
<g clip-path="url(#cp50)">
<rect x="1435.7" y="1798.5" width="340.1" height="67.1" fill="#cacaca"/>
<linearGradient id="sg50" x1="0" y1="0" x2="1" y2="0"><stop offset="0.000" stop-color="#c3c3c3"/><stop offset="0.042" stop-color="#c9c9c9"/><stop offset="0.083" stop-color="#cccccc"/><stop offset="0.125" stop-color="#c7c7c7"/><stop offset="0.167" stop-color="#cecece"/><stop offset="0.208" stop-color="#cacaca"/><stop offset="0.250" stop-color="#cbcbcb"/><stop offset="0.292" stop-color="#cccccc"/><stop offset="0.333" stop-color="#cbcbcb"/><stop offset="0.375" stop-color="#cacaca"/><stop offset="0.417" stop-color="#c7c7c7"/><stop offset="0.458" stop-color="#cacaca"/><stop offset="0.500" stop-color="#c9c9c9"/><stop offset="0.542" stop-color="#cacaca"/><stop offset="0.583" stop-color="#c3c3c3"/><stop offset="0.625" stop-color="#c6c6c6"/><stop offset="0.667" stop-color="#c9c9c9"/><stop offset="0.708" stop-color="#cbcbcb"/><stop offset="0.750" stop-color="#c9c9c9"/><stop offset="0.792" stop-color="#c7c7c7"/><stop offset="0.833" stop-color="#c9c9c9"/><stop offset="0.875" stop-color="#c9c9c9"/><stop offset="0.917" stop-color="#c2c2c2"/><stop offset="0.958" stop-color="#c8c8c8"/><stop offset="1.000" stop-color="#c0c0c0"/></linearGradient>
<rect x="1435.7" y="1798.5" width="340.1" height="67.1" fill="url(#sg50)"/>
<defs><filter id="bl16" x="-20%" y="-60%" width="140%" height="220%"><feGaussianBlur stdDeviation="1.6"/></filter></defs>
<g filter="url(#bl16)"><path d="M1452.6 1814 C1452.6 1807 1455.4 1807 1461 1807 C1465.4 1807 1467.8 1807 1472.6 1807 C1477.4 1807 1479.8 1807 1484.2 1807 C1489.8 1807 1492.6 1807 1492.6 1814 C1492.6 1821 1489.8 1821 1484.2 1821 C1479.8 1821 1477.4 1821 1472.6 1821 C1467.8 1821 1465.4 1821 1461 1821 C1455.4 1821 1452.6 1821 1452.6 1814 Z" fill="#000" fill-opacity="0.35"/><path d="M1507.1 1814 C1507.1 1807 1509.9 1807 1515.5 1807 C1519.9 1807 1522.3 1807 1527.1 1807 C1531.9 1807 1534.3 1807 1538.7 1807 C1544.3 1807 1547.1 1807 1547.1 1814 C1547.1 1821 1544.3 1821 1538.7 1821 C1534.3 1821 1531.9 1821 1527.1 1821 C1522.3 1821 1519.9 1821 1515.5 1821 C1509.9 1821 1507.1 1821 1507.1 1814 Z" fill="#000" fill-opacity="0.35"/><path d="M1559.5 1814 C1559.5 1807 1562.3 1807 1567.9 1807 C1572.3 1807 1574.7 1807 1579.5 1807 C1584.3 1807 1586.7 1807 1591.1 1807 C1596.7 1807 1599.5 1807 1599.5 1814 C1599.5 1821 1596.7 1821 1591.1 1821 C1586.7 1821 1584.3 1821 1579.5 1821 C1574.7 1821 1572.3 1821 1567.9 1821 C1562.3 1821 1559.5 1821 1559.5 1814 Z" fill="#000" fill-opacity="0.35"/><path d="M1613.2 1814 C1613.2 1807 1616 1807 1621.6 1807 C1626 1807 1628.4 1807 1633.2 1807 C1638 1807 1640.4 1807 1644.8 1807 C1650.4 1807 1653.2 1807 1653.2 1814 C1653.2 1821 1650.4 1821 1644.8 1821 C1640.4 1821 1638 1821 1633.2 1821 C1628.4 1821 1626 1821 1621.6 1821 C1616 1821 1613.2 1821 1613.2 1814 Z" fill="#000" fill-opacity="0.35"/><path d="M1667.3 1814 C1667.3 1807 1670.1 1807 1675.7 1807 C1680.1 1807 1682.5 1807 1687.3 1807 C1692.1 1807 1694.5 1807 1698.9 1807 C1704.5 1807 1707.3 1807 1707.3 1814 C1707.3 1821 1704.5 1821 1698.9 1821 C1694.5 1821 1692.1 1821 1687.3 1821 C1682.5 1821 1680.1 1821 1675.7 1821 C1670.1 1821 1667.3 1821 1667.3 1814 Z" fill="#000" fill-opacity="0.35"/><path d="M1721 1814 C1721 1807 1723.8 1807 1729.4 1807 C1733.8 1807 1736.2 1807 1741 1807 C1745.8 1807 1748.2 1807 1752.6 1807 C1758.2 1807 1761 1807 1761 1814 C1761 1821 1758.2 1821 1752.6 1821 C1748.2 1821 1745.8 1821 1741 1821 C1736.2 1821 1733.8 1821 1729.4 1821 C1723.8 1821 1721 1821 1721 1814 Z" fill="#000" fill-opacity="0.35"/><path d="M1452.1 1825.5 C1452.1 1815 1456.2 1815 1464.4 1815 C1465.2 1815 1467.7 1815.4 1472.6 1815.4 C1477.5 1815.4 1480 1815 1480.8 1815 C1489 1815 1493.1 1815 1493.1 1825.5 C1493.1 1836 1489 1836 1480.8 1836 C1480 1836 1477.5 1835.6 1472.6 1835.6 C1467.7 1835.6 1465.2 1836 1464.4 1836 C1456.2 1836 1452.1 1836 1452.1 1825.5 Z" fill="#000" fill-opacity="1.00"/><path d="M1506.6 1825.5 C1506.6 1815 1510.7 1815 1518.9 1815 C1519.7 1815 1522.2 1815.4 1527.1 1815.4 C1532 1815.4 1534.5 1815 1535.3 1815 C1543.5 1815 1547.6 1815 1547.6 1825.5 C1547.6 1836 1543.5 1836 1535.3 1836 C1534.5 1836 1532 1835.6 1527.1 1835.6 C1522.2 1835.6 1519.7 1836 1518.9 1836 C1510.7 1836 1506.6 1836 1506.6 1825.5 Z" fill="#000" fill-opacity="1.00"/><path d="M1559 1825.5 C1559 1815 1563.1 1815 1571.3 1815 C1572.1 1815 1574.6 1815.4 1579.5 1815.4 C1584.4 1815.4 1586.9 1815 1587.7 1815 C1595.9 1815 1600 1815 1600 1825.5 C1600 1836 1595.9 1836 1587.7 1836 C1586.9 1836 1584.4 1835.6 1579.5 1835.6 C1574.6 1835.6 1572.1 1836 1571.3 1836 C1563.1 1836 1559 1836 1559 1825.5 Z" fill="#000" fill-opacity="1.00"/><path d="M1612.7 1825.5 C1612.7 1815 1616.8 1815 1625 1815 C1625.8 1815 1628.3 1815.4 1633.2 1815.4 C1638.1 1815.4 1640.6 1815 1641.4 1815 C1649.6 1815 1653.7 1815 1653.7 1825.5 C1653.7 1836 1649.6 1836 1641.4 1836 C1640.6 1836 1638.1 1835.6 1633.2 1835.6 C1628.3 1835.6 1625.8 1836 1625 1836 C1616.8 1836 1612.7 1836 1612.7 1825.5 Z" fill="#000" fill-opacity="1.00"/><path d="M1666.8 1825.5 C1666.8 1815 1670.9 1815 1679.1 1815 C1679.9 1815 1682.4 1815.4 1687.3 1815.4 C1692.2 1815.4 1694.7 1815 1695.5 1815 C1703.7 1815 1707.8 1815 1707.8 1825.5 C1707.8 1836 1703.7 1836 1695.5 1836 C1694.7 1836 1692.2 1835.6 1687.3 1835.6 C1682.4 1835.6 1679.9 1836 1679.1 1836 C1670.9 1836 1666.8 1836 1666.8 1825.5 Z" fill="#000" fill-opacity="1.00"/><path d="M1720.5 1825.5 C1720.5 1815 1724.6 1815 1732.8 1815 C1733.6 1815 1736.1 1815.4 1741 1815.4 C1745.9 1815.4 1748.4 1815 1749.2 1815 C1757.4 1815 1761.5 1815 1761.5 1825.5 C1761.5 1836 1757.4 1836 1749.2 1836 C1748.4 1836 1745.9 1835.6 1741 1835.6 C1736.1 1835.6 1733.6 1836 1732.8 1836 C1724.6 1836 1720.5 1836 1720.5 1825.5 Z" fill="#000" fill-opacity="1.00"/></g>
</g>
<rect x="1435.7" y="1798.5" width="340.1" height="67.1" fill="none" stroke="#111" stroke-width="1.3"/>
<clipPath id="cp51"><rect x="1435.7" y="1870.7" width="340.1" height="55.7"/></clipPath>
<g clip-path="url(#cp51)">
<rect x="1435.7" y="1870.7" width="340.1" height="55.7" fill="#a4a4a4"/>
<linearGradient id="sg51" x1="0" y1="0" x2="1" y2="0"><stop offset="0.000" stop-color="#9b9b9b"/><stop offset="0.042" stop-color="#a2a2a2"/><stop offset="0.083" stop-color="#a4a4a4"/><stop offset="0.125" stop-color="#a7a7a7"/><stop offset="0.167" stop-color="#a3a3a3"/><stop offset="0.208" stop-color="#a1a1a1"/><stop offset="0.250" stop-color="#a2a2a2"/><stop offset="0.292" stop-color="#a8a8a8"/><stop offset="0.333" stop-color="#a3a3a3"/><stop offset="0.375" stop-color="#a1a1a1"/><stop offset="0.417" stop-color="#a3a3a3"/><stop offset="0.458" stop-color="#a5a5a5"/><stop offset="0.500" stop-color="#a5a5a5"/><stop offset="0.542" stop-color="#a9a9a9"/><stop offset="0.583" stop-color="#a4a4a4"/><stop offset="0.625" stop-color="#a0a0a0"/><stop offset="0.667" stop-color="#a8a8a8"/><stop offset="0.708" stop-color="#a5a5a5"/><stop offset="0.750" stop-color="#a5a5a5"/><stop offset="0.792" stop-color="#a2a2a2"/><stop offset="0.833" stop-color="#a1a1a1"/><stop offset="0.875" stop-color="#a8a8a8"/><stop offset="0.917" stop-color="#a0a0a0"/><stop offset="0.958" stop-color="#a2a2a2"/><stop offset="1.000" stop-color="#999999"/></linearGradient>
<rect x="1435.7" y="1870.7" width="340.1" height="55.7" fill="url(#sg51)"/>
<g filter="url(#bl16)"><path d="M1454.6 1892.5 C1454.6 1889.8 1455.7 1889.8 1457.9 1889.8 C1466.1 1889.8 1468.3 1890.3 1472.6 1890.3 C1476.9 1890.3 1479.1 1889.8 1487.3 1889.8 C1489.5 1889.8 1490.6 1889.8 1490.6 1892.5 C1490.6 1895.2 1489.5 1895.2 1487.3 1895.2 C1479.1 1895.2 1476.9 1894.7 1472.6 1894.7 C1468.3 1894.7 1466.1 1895.2 1457.9 1895.2 C1455.7 1895.2 1454.6 1895.2 1454.6 1892.5 Z" fill="#000" fill-opacity="0.90"/><path d="M1509.1 1892.5 C1509.1 1889.8 1510.2 1889.8 1512.4 1889.8 C1520.6 1889.8 1522.8 1890.3 1527.1 1890.3 C1531.4 1890.3 1533.6 1889.8 1541.8 1889.8 C1544 1889.8 1545.1 1889.8 1545.1 1892.5 C1545.1 1895.2 1544 1895.2 1541.8 1895.2 C1533.6 1895.2 1531.4 1894.7 1527.1 1894.7 C1522.8 1894.7 1520.6 1895.2 1512.4 1895.2 C1510.2 1895.2 1509.1 1895.2 1509.1 1892.5 Z" fill="#000" fill-opacity="0.85"/><path d="M1561.5 1892.5 C1561.5 1889.8 1562.6 1889.8 1564.8 1889.8 C1573 1889.8 1575.2 1890.3 1579.5 1890.3 C1583.8 1890.3 1586 1889.8 1594.2 1889.8 C1596.4 1889.8 1597.5 1889.8 1597.5 1892.5 C1597.5 1895.2 1596.4 1895.2 1594.2 1895.2 C1586 1895.2 1583.8 1894.7 1579.5 1894.7 C1575.2 1894.7 1573 1895.2 1564.8 1895.2 C1562.6 1895.2 1561.5 1895.2 1561.5 1892.5 Z" fill="#000" fill-opacity="0.85"/><path d="M1614.7 1892.5 C1614.7 1890 1615.7 1890 1617.7 1890 C1626.5 1890 1628.8 1890.5 1633.2 1890.5 C1637.6 1890.5 1639.9 1890 1648.7 1890 C1650.7 1890 1651.7 1890 1651.7 1892.5 C1651.7 1895 1650.7 1895 1648.7 1895 C1639.9 1895 1637.6 1894.5 1633.2 1894.5 C1628.8 1894.5 1626.5 1895 1617.7 1895 C1615.7 1895 1614.7 1895 1614.7 1892.5 Z" fill="#000" fill-opacity="0.80"/><path d="M1667.3 1892 C1667.3 1888.2 1668.8 1888.2 1671.8 1888.2 C1680.1 1888.2 1682.5 1888.8 1687.3 1888.8 C1692.1 1888.8 1694.5 1888.2 1702.8 1888.2 C1705.8 1888.2 1707.3 1888.2 1707.3 1892 C1707.3 1895.8 1705.8 1895.8 1702.8 1895.8 C1694.5 1895.8 1692.1 1895.2 1687.3 1895.2 C1682.5 1895.2 1680.1 1895.8 1671.8 1895.8 C1668.8 1895.8 1667.3 1895.8 1667.3 1892 Z" fill="#000" fill-opacity="1.00"/><path d="M1723 1892 C1723 1889 1724.2 1889 1726.6 1889 C1734.5 1889 1736.7 1889.6 1741 1889.6 C1745.3 1889.6 1747.5 1889 1755.4 1889 C1757.8 1889 1759 1889 1759 1892 C1759 1895 1757.8 1895 1755.4 1895 C1747.5 1895 1745.3 1894.4 1741 1894.4 C1736.7 1894.4 1734.5 1895 1726.6 1895 C1724.2 1895 1723 1895 1723 1892 Z" fill="#000" fill-opacity="0.95"/><path d="M1453.6 1909.2 C1453.6 1906.2 1454.8 1906.2 1457.2 1906.2 C1465.8 1906.2 1468 1906.8 1472.6 1906.8 C1477.2 1906.8 1479.4 1906.2 1488 1906.2 C1490.4 1906.2 1491.6 1906.2 1491.6 1909.2 C1491.6 1912.2 1490.4 1912.2 1488 1912.2 C1479.4 1912.2 1477.2 1911.6 1472.6 1911.6 C1468 1911.6 1465.8 1912.2 1457.2 1912.2 C1454.8 1912.2 1453.6 1912.2 1453.6 1909.2 Z" fill="#000" fill-opacity="0.95"/><path d="M1509.1 1908.5 C1509.1 1905.5 1510.3 1905.5 1512.7 1905.5 C1520.6 1905.5 1522.8 1906.1 1527.1 1906.1 C1531.4 1906.1 1533.6 1905.5 1541.5 1905.5 C1543.9 1905.5 1545.1 1905.5 1545.1 1908.5 C1545.1 1911.5 1543.9 1911.5 1541.5 1911.5 C1533.6 1911.5 1531.4 1910.9 1527.1 1910.9 C1522.8 1910.9 1520.6 1911.5 1512.7 1911.5 C1510.3 1911.5 1509.1 1911.5 1509.1 1908.5 Z" fill="#000" fill-opacity="0.90"/><path d="M1560.5 1908.5 C1560.5 1905.2 1561.8 1905.2 1564.4 1905.2 C1572.7 1905.2 1574.9 1905.9 1579.5 1905.9 C1584.1 1905.9 1586.3 1905.2 1594.6 1905.2 C1597.2 1905.2 1598.5 1905.2 1598.5 1908.5 C1598.5 1911.8 1597.2 1911.8 1594.6 1911.8 C1586.3 1911.8 1584.1 1911.1 1579.5 1911.1 C1574.9 1911.1 1572.7 1911.8 1564.4 1911.8 C1561.8 1911.8 1560.5 1911.8 1560.5 1908.5 Z" fill="#000" fill-opacity="0.90"/><path d="M1614.2 1908.5 C1614.2 1905.8 1615.3 1905.8 1617.5 1905.8 C1626.4 1905.8 1628.6 1906.3 1633.2 1906.3 C1637.8 1906.3 1640 1905.8 1648.9 1905.8 C1651.1 1905.8 1652.2 1905.8 1652.2 1908.5 C1652.2 1911.2 1651.1 1911.2 1648.9 1911.2 C1640 1911.2 1637.8 1910.7 1633.2 1910.7 C1628.6 1910.7 1626.4 1911.2 1617.5 1911.2 C1615.3 1911.2 1614.2 1911.2 1614.2 1908.5 Z" fill="#000" fill-opacity="0.80"/><path d="M1667.3 1907.5 C1667.3 1904 1668.7 1904 1671.5 1904 C1680.1 1904 1682.5 1904.5 1687.3 1904.5 C1692.1 1904.5 1694.5 1904 1703.1 1904 C1705.9 1904 1707.3 1904 1707.3 1907.5 C1707.3 1911 1705.9 1911 1703.1 1911 C1694.5 1911 1692.1 1910.5 1687.3 1910.5 C1682.5 1910.5 1680.1 1911 1671.5 1911 C1668.7 1911 1667.3 1911 1667.3 1907.5 Z" fill="#000" fill-opacity="0.95"/><path d="M1723 1907.5 C1723 1904.5 1724.2 1904.5 1726.6 1904.5 C1734.5 1904.5 1736.7 1905.1 1741 1905.1 C1745.3 1905.1 1747.5 1904.5 1755.4 1904.5 C1757.8 1904.5 1759 1904.5 1759 1907.5 C1759 1910.5 1757.8 1910.5 1755.4 1910.5 C1747.5 1910.5 1745.3 1909.9 1741 1909.9 C1736.7 1909.9 1734.5 1910.5 1726.6 1910.5 C1724.2 1910.5 1723 1910.5 1723 1907.5 Z" fill="#000" fill-opacity="0.90"/></g>
</g>
<rect x="1435.7" y="1870.7" width="340.1" height="55.7" fill="none" stroke="#111" stroke-width="1.3"/>
<clipPath id="cp52"><rect x="1435.7" y="1930.6" width="340.1" height="67.1"/></clipPath>
<g clip-path="url(#cp52)">
<rect x="1435.7" y="1930.6" width="340.1" height="67.1" fill="#d2d2d2"/>
<linearGradient id="sg52" x1="0" y1="0" x2="1" y2="0"><stop offset="0.000" stop-color="#c8c8c8"/><stop offset="0.042" stop-color="#d3d3d3"/><stop offset="0.083" stop-color="#d2d2d2"/><stop offset="0.125" stop-color="#d2d2d2"/><stop offset="0.167" stop-color="#d3d3d3"/><stop offset="0.208" stop-color="#d4d4d4"/><stop offset="0.250" stop-color="#d2d2d2"/><stop offset="0.292" stop-color="#d2d2d2"/><stop offset="0.333" stop-color="#cfcfcf"/><stop offset="0.375" stop-color="#d3d3d3"/><stop offset="0.417" stop-color="#d1d1d1"/><stop offset="0.458" stop-color="#d4d4d4"/><stop offset="0.500" stop-color="#d5d5d5"/><stop offset="0.542" stop-color="#cecece"/><stop offset="0.583" stop-color="#d5d5d5"/><stop offset="0.625" stop-color="#d0d0d0"/><stop offset="0.667" stop-color="#cfcfcf"/><stop offset="0.708" stop-color="#d1d1d1"/><stop offset="0.750" stop-color="#d3d3d3"/><stop offset="0.792" stop-color="#d5d5d5"/><stop offset="0.833" stop-color="#d9d9d9"/><stop offset="0.875" stop-color="#cecece"/><stop offset="0.917" stop-color="#d1d1d1"/><stop offset="0.958" stop-color="#d3d3d3"/><stop offset="1.000" stop-color="#c9c9c9"/></linearGradient>
<rect x="1435.7" y="1930.6" width="340.1" height="67.1" fill="url(#sg52)"/>
<g filter="url(#bl16)"><path d="M1453.6 1968.4 C1453.6 1962.9 1455.8 1962.9 1460.2 1962.9 C1465.8 1962.9 1468 1963.7 1472.6 1963.7 C1477.2 1963.7 1479.4 1962.9 1485 1962.9 C1489.4 1962.9 1491.6 1962.9 1491.6 1968.4 C1491.6 1973.9 1489.4 1973.9 1485 1973.9 C1479.4 1973.9 1477.2 1973.1 1472.6 1973.1 C1468 1973.1 1465.8 1973.9 1460.2 1973.9 C1455.8 1973.9 1453.6 1973.9 1453.6 1968.4 Z" fill="#000" fill-opacity="1.00"/><path d="M1508.1 1968.4 C1508.1 1962.9 1510.3 1962.9 1514.7 1962.9 C1520.3 1962.9 1522.5 1963.7 1527.1 1963.7 C1531.7 1963.7 1533.9 1962.9 1539.5 1962.9 C1543.9 1962.9 1546.1 1962.9 1546.1 1968.4 C1546.1 1973.9 1543.9 1973.9 1539.5 1973.9 C1533.9 1973.9 1531.7 1973.1 1527.1 1973.1 C1522.5 1973.1 1520.3 1973.9 1514.7 1973.9 C1510.3 1973.9 1508.1 1973.9 1508.1 1968.4 Z" fill="#000" fill-opacity="1.00"/><path d="M1559.5 1968.4 C1559.5 1962.4 1561.9 1962.4 1566.7 1962.4 C1572.3 1962.4 1574.7 1963.2 1579.5 1963.2 C1584.3 1963.2 1586.7 1962.4 1592.3 1962.4 C1597.1 1962.4 1599.5 1962.4 1599.5 1968.4 C1599.5 1974.4 1597.1 1974.4 1592.3 1974.4 C1586.7 1974.4 1584.3 1973.6 1579.5 1973.6 C1574.7 1973.6 1572.3 1974.4 1566.7 1974.4 C1561.9 1974.4 1559.5 1974.4 1559.5 1968.4 Z" fill="#000" fill-opacity="1.00"/><path d="M1614.2 1968.4 C1614.2 1962.9 1616.4 1962.9 1620.8 1962.9 C1626.4 1962.9 1628.6 1963.7 1633.2 1963.7 C1637.8 1963.7 1640 1962.9 1645.6 1962.9 C1650 1962.9 1652.2 1962.9 1652.2 1968.4 C1652.2 1973.9 1650 1973.9 1645.6 1973.9 C1640 1973.9 1637.8 1973.1 1633.2 1973.1 C1628.6 1973.1 1626.4 1973.9 1620.8 1973.9 C1616.4 1973.9 1614.2 1973.9 1614.2 1968.4 Z" fill="#000" fill-opacity="1.00"/><path d="M1667.3 1968.4 C1667.3 1962.4 1669.7 1962.4 1674.5 1962.4 C1680.1 1962.4 1682.5 1963.2 1687.3 1963.2 C1692.1 1963.2 1694.5 1962.4 1700.1 1962.4 C1704.9 1962.4 1707.3 1962.4 1707.3 1968.4 C1707.3 1974.4 1704.9 1974.4 1700.1 1974.4 C1694.5 1974.4 1692.1 1973.6 1687.3 1973.6 C1682.5 1973.6 1680.1 1974.4 1674.5 1974.4 C1669.7 1974.4 1667.3 1974.4 1667.3 1968.4 Z" fill="#000" fill-opacity="1.00"/><path d="M1720.5 1967.5 C1720.5 1961 1723.1 1961 1728.3 1961 C1733.6 1961 1736.1 1961.9 1741 1961.9 C1745.9 1961.9 1748.4 1961 1753.7 1961 C1758.9 1961 1761.5 1961 1761.5 1967.5 C1761.5 1974 1758.9 1974 1753.7 1974 C1748.4 1974 1745.9 1973.1 1741 1973.1 C1736.1 1973.1 1733.6 1974 1728.3 1974 C1723.1 1974 1720.5 1974 1720.5 1967.5 Z" fill="#000" fill-opacity="1.00"/></g>
</g>
<rect x="1435.7" y="1930.6" width="340.1" height="67.1" fill="none" stroke="#111" stroke-width="1.3"/>
<clipPath id="cp53"><rect x="1435.7" y="2001.5" width="340.1" height="66.3"/></clipPath>
<g clip-path="url(#cp53)">
<rect x="1435.7" y="2001.5" width="340.1" height="66.3" fill="#c6c6c6"/>
<linearGradient id="sg53" x1="0" y1="0" x2="1" y2="0"><stop offset="0.000" stop-color="#bebebe"/><stop offset="0.042" stop-color="#c4c4c4"/><stop offset="0.083" stop-color="#c8c8c8"/><stop offset="0.125" stop-color="#c4c4c4"/><stop offset="0.167" stop-color="#c3c3c3"/><stop offset="0.208" stop-color="#c7c7c7"/><stop offset="0.250" stop-color="#c9c9c9"/><stop offset="0.292" stop-color="#c9c9c9"/><stop offset="0.333" stop-color="#c9c9c9"/><stop offset="0.375" stop-color="#c7c7c7"/><stop offset="0.417" stop-color="#c5c5c5"/><stop offset="0.458" stop-color="#c7c7c7"/><stop offset="0.500" stop-color="#c7c7c7"/><stop offset="0.542" stop-color="#c6c6c6"/><stop offset="0.583" stop-color="#c4c4c4"/><stop offset="0.625" stop-color="#c6c6c6"/><stop offset="0.667" stop-color="#c7c7c7"/><stop offset="0.708" stop-color="#c3c3c3"/><stop offset="0.750" stop-color="#c5c5c5"/><stop offset="0.792" stop-color="#c3c3c3"/><stop offset="0.833" stop-color="#cacaca"/><stop offset="0.875" stop-color="#c8c8c8"/><stop offset="0.917" stop-color="#c6c6c6"/><stop offset="0.958" stop-color="#c8c8c8"/><stop offset="1.000" stop-color="#bebebe"/></linearGradient>
<rect x="1435.7" y="2001.5" width="340.1" height="66.3" fill="url(#sg53)"/>
<g filter="url(#bl16)"><path d="M1454.6 2037.6 C1454.6 2034.3 1455.9 2034.3 1458.5 2034.3 C1466.1 2034.3 1468.3 2035 1472.6 2035 C1476.9 2035 1479.1 2034.3 1486.7 2034.3 C1489.3 2034.3 1490.6 2034.3 1490.6 2037.6 C1490.6 2040.8 1489.3 2040.8 1486.7 2040.8 C1479.1 2040.8 1476.9 2040.2 1472.6 2040.2 C1468.3 2040.2 1466.1 2040.8 1458.5 2040.8 C1455.9 2040.8 1454.6 2040.8 1454.6 2037.6 Z" fill="#000" fill-opacity="0.55"/><path d="M1509.1 2037.6 C1509.1 2034.3 1510.4 2034.3 1513 2034.3 C1520.6 2034.3 1522.8 2035 1527.1 2035 C1531.4 2035 1533.6 2034.3 1541.2 2034.3 C1543.8 2034.3 1545.1 2034.3 1545.1 2037.6 C1545.1 2040.8 1543.8 2040.8 1541.2 2040.8 C1533.6 2040.8 1531.4 2040.2 1527.1 2040.2 C1522.8 2040.2 1520.6 2040.8 1513 2040.8 C1510.4 2040.8 1509.1 2040.8 1509.1 2037.6 Z" fill="#000" fill-opacity="0.50"/><path d="M1561.5 2037.6 C1561.5 2034.3 1562.8 2034.3 1565.4 2034.3 C1573 2034.3 1575.2 2035 1579.5 2035 C1583.8 2035 1586 2034.3 1593.6 2034.3 C1596.2 2034.3 1597.5 2034.3 1597.5 2037.6 C1597.5 2040.8 1596.2 2040.8 1593.6 2040.8 C1586 2040.8 1583.8 2040.2 1579.5 2040.2 C1575.2 2040.2 1573 2040.8 1565.4 2040.8 C1562.8 2040.8 1561.5 2040.8 1561.5 2037.6 Z" fill="#000" fill-opacity="0.45"/><path d="M1615.2 2037.6 C1615.2 2034.3 1616.5 2034.3 1619.1 2034.3 C1626.7 2034.3 1628.9 2035 1633.2 2035 C1637.5 2035 1639.7 2034.3 1647.3 2034.3 C1649.9 2034.3 1651.2 2034.3 1651.2 2037.6 C1651.2 2040.8 1649.9 2040.8 1647.3 2040.8 C1639.7 2040.8 1637.5 2040.2 1633.2 2040.2 C1628.9 2040.2 1626.7 2040.8 1619.1 2040.8 C1616.5 2040.8 1615.2 2040.8 1615.2 2037.6 Z" fill="#000" fill-opacity="0.45"/><path d="M1668.3 2037.6 C1668.3 2033.8 1669.8 2033.8 1672.8 2033.8 C1680.5 2033.8 1682.7 2034.5 1687.3 2034.5 C1691.9 2034.5 1694.1 2033.8 1701.8 2033.8 C1704.8 2033.8 1706.3 2033.8 1706.3 2037.6 C1706.3 2041.3 1704.8 2041.3 1701.8 2041.3 C1694.1 2041.3 1691.9 2040.7 1687.3 2040.7 C1682.7 2040.7 1680.5 2041.3 1672.8 2041.3 C1669.8 2041.3 1668.3 2041.3 1668.3 2037.6 Z" fill="#000" fill-opacity="0.90"/><path d="M1722 2037.6 C1722 2033.6 1723.6 2033.6 1726.8 2033.6 C1734.2 2033.6 1736.4 2034.3 1741 2034.3 C1745.6 2034.3 1747.8 2033.6 1755.2 2033.6 C1758.4 2033.6 1760 2033.6 1760 2037.6 C1760 2041.6 1758.4 2041.6 1755.2 2041.6 C1747.8 2041.6 1745.6 2040.9 1741 2040.9 C1736.4 2040.9 1734.2 2041.6 1726.8 2041.6 C1723.6 2041.6 1722 2041.6 1722 2037.6 Z" fill="#000" fill-opacity="0.95"/></g>
</g>
<rect x="1435.7" y="2001.5" width="340.1" height="66.3" fill="none" stroke="#111" stroke-width="1.3"/>
<clipPath id="cp54"><rect x="1435.7" y="2073.2" width="340.1" height="66.7"/></clipPath>
<g clip-path="url(#cp54)">
<rect x="1435.7" y="2073.2" width="340.1" height="66.7" fill="#989898"/>
<linearGradient id="sg54" x1="0" y1="0" x2="1" y2="0"><stop offset="0.000" stop-color="#8e8e8e"/><stop offset="0.042" stop-color="#989898"/><stop offset="0.083" stop-color="#9b9b9b"/><stop offset="0.125" stop-color="#9c9c9c"/><stop offset="0.167" stop-color="#979797"/><stop offset="0.208" stop-color="#9b9b9b"/><stop offset="0.250" stop-color="#979797"/><stop offset="0.292" stop-color="#989898"/><stop offset="0.333" stop-color="#9b9b9b"/><stop offset="0.375" stop-color="#979797"/><stop offset="0.417" stop-color="#9e9e9e"/><stop offset="0.458" stop-color="#929292"/><stop offset="0.500" stop-color="#979797"/><stop offset="0.542" stop-color="#969696"/><stop offset="0.583" stop-color="#979797"/><stop offset="0.625" stop-color="#989898"/><stop offset="0.667" stop-color="#949494"/><stop offset="0.708" stop-color="#9b9b9b"/><stop offset="0.750" stop-color="#959595"/><stop offset="0.792" stop-color="#999999"/><stop offset="0.833" stop-color="#9a9a9a"/><stop offset="0.875" stop-color="#959595"/><stop offset="0.917" stop-color="#9b9b9b"/><stop offset="0.958" stop-color="#999999"/><stop offset="1.000" stop-color="#8f8f8f"/></linearGradient>
<rect x="1435.7" y="2073.2" width="340.1" height="66.7" fill="url(#sg54)"/>
<g filter="url(#bl16)"><path d="M1452.6 2113.9 C1452.6 2109.9 1454.2 2109.9 1457.4 2109.9 C1465.4 2109.9 1467.8 2110.5 1472.6 2110.5 C1477.4 2110.5 1479.8 2109.9 1487.8 2109.9 C1491 2109.9 1492.6 2109.9 1492.6 2113.9 C1492.6 2117.9 1491 2117.9 1487.8 2117.9 C1479.8 2117.9 1477.4 2117.3 1472.6 2117.3 C1467.8 2117.3 1465.4 2117.9 1457.4 2117.9 C1454.2 2117.9 1452.6 2117.9 1452.6 2113.9 Z" fill="#000" fill-opacity="1.00"/><path d="M1507.1 2113.9 C1507.1 2109.9 1508.7 2109.9 1511.9 2109.9 C1519.9 2109.9 1522.3 2110.5 1527.1 2110.5 C1531.9 2110.5 1534.3 2109.9 1542.3 2109.9 C1545.5 2109.9 1547.1 2109.9 1547.1 2113.9 C1547.1 2117.9 1545.5 2117.9 1542.3 2117.9 C1534.3 2117.9 1531.9 2117.3 1527.1 2117.3 C1522.3 2117.3 1519.9 2117.9 1511.9 2117.9 C1508.7 2117.9 1507.1 2117.9 1507.1 2113.9 Z" fill="#000" fill-opacity="1.00"/><path d="M1558.5 2113.9 C1558.5 2109.4 1560.3 2109.4 1563.9 2109.4 C1571.9 2109.4 1574.5 2110 1579.5 2110 C1584.5 2110 1587.1 2109.4 1595.1 2109.4 C1598.7 2109.4 1600.5 2109.4 1600.5 2113.9 C1600.5 2118.4 1598.7 2118.4 1595.1 2118.4 C1587.1 2118.4 1584.5 2117.8 1579.5 2117.8 C1574.5 2117.8 1571.9 2118.4 1563.9 2118.4 C1560.3 2118.4 1558.5 2118.4 1558.5 2113.9 Z" fill="#000" fill-opacity="1.00"/><path d="M1613.2 2113.9 C1613.2 2109.9 1614.8 2109.9 1618 2109.9 C1626 2109.9 1628.4 2110.5 1633.2 2110.5 C1638 2110.5 1640.4 2109.9 1648.4 2109.9 C1651.6 2109.9 1653.2 2109.9 1653.2 2113.9 C1653.2 2117.9 1651.6 2117.9 1648.4 2117.9 C1640.4 2117.9 1638 2117.3 1633.2 2117.3 C1628.4 2117.3 1626 2117.9 1618 2117.9 C1614.8 2117.9 1613.2 2117.9 1613.2 2113.9 Z" fill="#000" fill-opacity="1.00"/><path d="M1667.3 2113.9 C1667.3 2109.9 1668.9 2109.9 1672.1 2109.9 C1680.1 2109.9 1682.5 2110.5 1687.3 2110.5 C1692.1 2110.5 1694.5 2109.9 1702.5 2109.9 C1705.7 2109.9 1707.3 2109.9 1707.3 2113.9 C1707.3 2117.9 1705.7 2117.9 1702.5 2117.9 C1694.5 2117.9 1692.1 2117.3 1687.3 2117.3 C1682.5 2117.3 1680.1 2117.9 1672.1 2117.9 C1668.9 2117.9 1667.3 2117.9 1667.3 2113.9 Z" fill="#000" fill-opacity="1.00"/><path d="M1720 2113.9 C1720 2109.4 1721.8 2109.4 1725.4 2109.4 C1733.4 2109.4 1736 2110 1741 2110 C1746 2110 1748.6 2109.4 1756.6 2109.4 C1760.2 2109.4 1762 2109.4 1762 2113.9 C1762 2118.4 1760.2 2118.4 1756.6 2118.4 C1748.6 2118.4 1746 2117.8 1741 2117.8 C1736 2117.8 1733.4 2118.4 1725.4 2118.4 C1721.8 2118.4 1720 2118.4 1720 2113.9 Z" fill="#000" fill-opacity="1.00"/></g>
</g>
<rect x="1435.7" y="2073.2" width="340.1" height="66.7" fill="none" stroke="#111" stroke-width="1.3"/>
<text transform="translate(1426.4 1840.1) scale(0.930 1.000)" font-size="32" font-weight="bold" text-anchor="end">PERK</text>
<text transform="translate(1426.4 1906.3) scale(0.930 1.000)" font-size="32" font-weight="bold" text-anchor="end">p-PERK</text>
<text transform="translate(1426.4 1977.6) scale(0.930 1.000)" font-size="32" font-weight="bold" text-anchor="end">eIF2α</text>
<text transform="translate(1426.4 2046) scale(0.930 1.000)" font-size="32" font-weight="bold" text-anchor="end">p-eIF2α</text>
<text transform="translate(1426.4 2121.4) scale(0.930 1.000)" font-size="32" font-weight="bold" text-anchor="end">Actin</text>
<rect x="1778.7" y="1822.8" width="16" height="3.4" fill="#000"/>
<text transform="translate(1802.6 1834) scale(0.910 1.000)" font-size="28" font-weight="bold">140 KD</text>
<rect x="1778.7" y="1887" width="16" height="3.4" fill="#000"/>
<text transform="translate(1802.6 1898.2) scale(0.910 1.000)" font-size="28" font-weight="bold">140 KD</text>
<rect x="1778.7" y="1967.5" width="16" height="3.4" fill="#000"/>
<text transform="translate(1802.6 1978.7) scale(0.910 1.000)" font-size="28" font-weight="bold">36 KD</text>
<rect x="1778.7" y="2039.6" width="16" height="3.4" fill="#000"/>
<text transform="translate(1802.6 2050.8) scale(0.910 1.000)" font-size="28" font-weight="bold">36 KD</text>
<rect x="1778.7" y="2103.8" width="16" height="3.4" fill="#000"/>
<text transform="translate(1802.6 2115) scale(0.910 1.000)" font-size="28" font-weight="bold">42 KD</text>
<text transform="translate(1255.7 1688.9) scale(0.940 1.000)" font-size="31.7" font-weight="bold">(Co-culture)</text>
<text transform="translate(1425.8 1741.4) scale(0.920 1.000)" font-size="32.4" font-weight="bold" text-anchor="end">Fludarabine</text>
<text transform="translate(1426.3 1784) scale(0.930 1.000)" font-size="32.3" font-weight="bold" text-anchor="end">Stattic</text>
<text transform="translate(1690.2 1688.2) scale(0.940 1.000)" font-size="31" font-weight="bold" text-anchor="middle">CAP</text>
<rect x="1617.3" y="1701.5" width="134.2" height="2.8" fill="#000"/>
<rect x="1468.2" y="1731.2" width="8.8" height="4.5" fill="#000"/>
<rect x="1518.8" y="1729.2" width="16.5" height="4.4" fill="#000"/>
<rect x="1525.1" y="1722.4" width="4" height="18" fill="#000"/>
<rect x="1571.8" y="1731.2" width="8.8" height="4.5" fill="#000"/>
<rect x="1628.8" y="1731.2" width="8.8" height="4.5" fill="#000"/>
<rect x="1677.3" y="1729.2" width="16.5" height="4.4" fill="#000"/>
<rect x="1683.6" y="1722.4" width="4" height="18" fill="#000"/>
<rect x="1736.6" y="1731.2" width="8.8" height="4.5" fill="#000"/>
<rect x="1468.2" y="1773.2" width="8.8" height="4.5" fill="#000"/>
<rect x="1522.7" y="1773.2" width="8.8" height="4.5" fill="#000"/>
<rect x="1568" y="1771.2" width="16.5" height="4.4" fill="#000"/>
<rect x="1574.2" y="1764.4" width="4" height="18" fill="#000"/>
<rect x="1628.8" y="1773.2" width="8.8" height="4.5" fill="#000"/>
<rect x="1681.2" y="1773.2" width="8.8" height="4.5" fill="#000"/>
<rect x="1732.8" y="1771.2" width="16.5" height="4.4" fill="#000"/>
<rect x="1739" y="1764.4" width="4" height="18" fill="#000"/>
<text transform="translate(20.2 35.2)" font-size="50" font-weight="bold">A</text>
<text transform="translate(624.9 35.3)" font-size="50" font-weight="bold">B</text>
<text transform="translate(19.4 490.5)" font-size="50" font-weight="bold">C</text>
<text transform="translate(623.5 490.5)" font-size="50" font-weight="bold">D</text>
<text transform="translate(1263.2 40.5)" font-size="50" font-weight="bold">E</text>
<text transform="translate(1260.8 490.2)" font-size="50" font-weight="bold">F</text>
<text transform="translate(1263.9 839.3)" font-size="50" font-weight="bold">I</text>
<text transform="translate(27.8 1213.3)" font-size="50" font-weight="bold">G</text>
<text transform="translate(580.4 1207.5)" font-size="50" font-weight="bold">H</text>
<text transform="translate(1211.6 1235)" font-size="50" font-weight="bold">J</text>
<text transform="translate(26.3 1716)" font-size="50" font-weight="bold">K</text>
<text transform="translate(589 1716)" font-size="50" font-weight="bold">L</text>
<text transform="translate(1198.9 1715)" font-size="50" font-weight="bold">M</text>
<path d="M1415.2 99.7L1415.2 392.1" stroke="#000" stroke-width="2.8"/>
<path d="M1403.3 390.6L1415.2 390.6" stroke="#000" stroke-width="2.6"/>
<text transform="translate(1400.5 398.7)" font-size="22.5" font-weight="bold" text-anchor="end">0.0</text>
<path d="M1403.3 332.8L1415.2 332.8" stroke="#000" stroke-width="2.6"/>
<text transform="translate(1400.5 340.9)" font-size="22.5" font-weight="bold" text-anchor="end">0.5</text>
<path d="M1403.3 274.9L1415.2 274.9" stroke="#000" stroke-width="2.6"/>
<text transform="translate(1400.5 283)" font-size="22.5" font-weight="bold" text-anchor="end">1.0</text>
<path d="M1403.3 217.1L1415.2 217.1" stroke="#000" stroke-width="2.6"/>
<text transform="translate(1400.5 225.2)" font-size="22.5" font-weight="bold" text-anchor="end">1.5</text>
<path d="M1403.3 159.2L1415.2 159.2" stroke="#000" stroke-width="2.6"/>
<text transform="translate(1400.5 167.3)" font-size="22.5" font-weight="bold" text-anchor="end">2.0</text>
<path d="M1403.3 101.4L1415.2 101.4" stroke="#000" stroke-width="2.6"/>
<text transform="translate(1400.5 109.5)" font-size="22.5" font-weight="bold" text-anchor="end">2.5</text>
<rect x="1434.9" y="276.8" width="53.3" height="113.8" fill="#fff" stroke="#000000" stroke-width="4"/>
<path d="M1461.6 276.8L1461.6 248.6" stroke="#000000" stroke-width="1.8"/>
<path d="M1447.1 248.6L1476.1 248.6" stroke="#000000" stroke-width="2"/>
<rect x="1503.4" y="218.4" width="54.4" height="172.2" fill="#fff" stroke="#3f8e9c" stroke-width="4"/>
<path d="M1530.6 218.4L1530.6 191.9" stroke="#3f8e9c" stroke-width="1.8"/>
<path d="M1516.1 191.9L1545.1 191.9" stroke="#3f8e9c" stroke-width="2"/>
<rect x="1574.1" y="185" width="53.3" height="205.6" fill="#fff" stroke="#47e22b" stroke-width="4"/>
<path d="M1600.8 185L1600.8 132.8" stroke="#47e22b" stroke-width="1.8"/>
<path d="M1586.2 132.8L1615.2 132.8" stroke="#47e22b" stroke-width="2"/>
<rect x="1643.7" y="333.2" width="53.3" height="57.4" fill="#fff" stroke="#f52a1c" stroke-width="4"/>
<path d="M1670.3 333.2L1670.3 286.8" stroke="#f52a1c" stroke-width="1.8"/>
<path d="M1655.8 286.8L1684.8 286.8" stroke="#f52a1c" stroke-width="2"/>
<path d="M1403.3 390.6L1729.5 390.6" stroke="#000" stroke-width="2.8"/>
<path d="M1600 124.5V116.5H1671.6V124.5" fill="none" stroke="#000" stroke-width="4.2"/>
<text transform="translate(1635.3 115.6)" font-size="37" font-weight="bold" text-anchor="middle">*</text>
<text transform="translate(1572.5 79.5)" font-size="39" font-weight="bold" text-anchor="middle">Calu-1</text>
<rect x="1730.4" y="175.8" width="24.6" height="13.5" fill="#fff" stroke="#000000" stroke-width="4"/>
<text transform="translate(1775 192)" font-size="27.1" font-weight="bold">Ctrl</text>
<rect x="1730.4" y="206.8" width="24.6" height="13.5" fill="#fff" stroke="#3f8e9c" stroke-width="4"/>
<text transform="translate(1775 223)" font-size="27.1" font-weight="bold">Ctrl-Co-culture</text>
<rect x="1730.4" y="238.2" width="24.6" height="13.5" fill="#fff" stroke="#47e22b" stroke-width="4"/>
<text transform="translate(1775 254.5)" font-size="27.1" font-weight="bold">CAP</text>
<rect x="1730.4" y="273.8" width="24.6" height="13.5" fill="#fff" stroke="#f52a1c" stroke-width="4"/>
<text transform="translate(1775 290)" font-size="27.1" font-weight="bold">CAP-Co-culture</text>
<text transform="translate(1325.5 244.5) rotate(-90)" font-size="27.2" font-weight="bold" text-anchor="middle">Relative PERK</text>
<text transform="translate(1358 244.5) rotate(-90)" font-size="27.2" font-weight="bold" text-anchor="middle">mRNA level</text>
<path d="M1407 493.1L1407 781.4" stroke="#000" stroke-width="2.8"/>
<path d="M1395.5 779.9L1407 779.9" stroke="#000" stroke-width="2.6"/>
<text transform="translate(1391.8 790)" font-size="28" font-weight="bold" text-anchor="end">0</text>
<path d="M1395.5 708.5L1407 708.5" stroke="#000" stroke-width="2.6"/>
<text transform="translate(1391.8 718.6)" font-size="28" font-weight="bold" text-anchor="end">1</text>
<path d="M1395.5 637.1L1407 637.1" stroke="#000" stroke-width="2.6"/>
<text transform="translate(1391.8 647.2)" font-size="28" font-weight="bold" text-anchor="end">2</text>
<path d="M1395.5 565.7L1407 565.7" stroke="#000" stroke-width="2.6"/>
<text transform="translate(1391.8 575.8)" font-size="28" font-weight="bold" text-anchor="end">3</text>
<path d="M1395.5 494.3L1407 494.3" stroke="#000" stroke-width="2.6"/>
<text transform="translate(1391.8 504.4)" font-size="28" font-weight="bold" text-anchor="end">4</text>
<rect x="1427.2" y="711.5" width="55" height="68.4" fill="#fff" stroke="#000000" stroke-width="4"/>
<path d="M1454.7 711.5L1454.7 693.6" stroke="#000000" stroke-width="1.8"/>
<path d="M1440.2 693.6L1469.2 693.6" stroke="#000000" stroke-width="2"/>
<rect x="1498.9" y="668.5" width="55.3" height="111.4" fill="#fff" stroke="#3f8e9c" stroke-width="4"/>
<path d="M1526.6 668.5L1526.6 607.3" stroke="#3f8e9c" stroke-width="1.8"/>
<path d="M1512.1 607.3L1541.1 607.3" stroke="#3f8e9c" stroke-width="2"/>
<rect x="1570.5" y="595" width="55.3" height="184.9" fill="#fff" stroke="#47e22b" stroke-width="4"/>
<path d="M1598.2 595L1598.2 524" stroke="#47e22b" stroke-width="1.8"/>
<path d="M1583.7 524L1612.7 524" stroke="#47e22b" stroke-width="2"/>
<rect x="1642.9" y="745.2" width="55.3" height="34.7" fill="#fff" stroke="#f52a1c" stroke-width="4"/>
<path d="M1670.6 745.2L1670.6 728.2" stroke="#f52a1c" stroke-width="1.8"/>
<path d="M1656.1 728.2L1685.1 728.2" stroke="#f52a1c" stroke-width="2"/>
<path d="M1395 779.9L1732 779.9" stroke="#000" stroke-width="2.8"/>
<path d="M1598 516.4V509.4H1671.6V516.4" fill="none" stroke="#000" stroke-width="4.2"/>
<text transform="translate(1634 510.9)" font-size="39" font-weight="bold" text-anchor="middle">*</text>
<text transform="translate(1564.2 475.6)" font-size="40" font-weight="bold" text-anchor="middle">Calu-1</text>
<rect x="1721.3" y="568" width="25" height="12.5" fill="#fff" stroke="#000000" stroke-width="4"/>
<text transform="translate(1767.8 584.1)" font-size="28" font-weight="bold">Ctrl</text>
<rect x="1721.3" y="597.5" width="25" height="12.5" fill="#fff" stroke="#3f8e9c" stroke-width="4"/>
<text transform="translate(1767.8 613.5)" font-size="28" font-weight="bold">Ctrl-Co-culture</text>
<rect x="1721.3" y="628.5" width="25" height="12.5" fill="#fff" stroke="#47e22b" stroke-width="4"/>
<text transform="translate(1767.8 644.5)" font-size="28" font-weight="bold">CAP</text>
<rect x="1721.3" y="656.4" width="25" height="12.5" fill="#fff" stroke="#f52a1c" stroke-width="4"/>
<text transform="translate(1767.8 672.4)" font-size="28" font-weight="bold">CAP-Co-culture</text>
<text transform="translate(1325.5 634.5) rotate(-90)" font-size="27.2" font-weight="bold" text-anchor="middle">Relative ATF4</text>
<text transform="translate(1360.5 634.5) rotate(-90)" font-size="27.2" font-weight="bold" text-anchor="middle">mRNA level</text>
<path d="M1413 854.5L1413 1153.5" stroke="#000" stroke-width="2.8"/>
<path d="M1400 1152L1413 1152" stroke="#000" stroke-width="2.6"/>
<text transform="translate(1395 1160.3) scale(1.080 1.000)" font-size="23" font-weight="bold" text-anchor="end">0</text>
<path d="M1400 1077.9L1413 1077.9" stroke="#000" stroke-width="2.6"/>
<text transform="translate(1395 1086.2) scale(1.080 1.000)" font-size="23" font-weight="bold" text-anchor="end">30</text>
<path d="M1400 1003.9L1413 1003.9" stroke="#000" stroke-width="2.6"/>
<text transform="translate(1395 1012.1) scale(1.080 1.000)" font-size="23" font-weight="bold" text-anchor="end">60</text>
<path d="M1400 929.8L1413 929.8" stroke="#000" stroke-width="2.6"/>
<text transform="translate(1395 938.1) scale(1.080 1.000)" font-size="23" font-weight="bold" text-anchor="end">90</text>
<path d="M1400 855.7L1413 855.7" stroke="#000" stroke-width="2.6"/>
<text transform="translate(1395 864) scale(1.080 1.000)" font-size="23" font-weight="bold" text-anchor="end">120</text>
<rect x="1432.2" y="907.8" width="52.4" height="244.2" fill="#fff" stroke="#000000" stroke-width="4"/>
<path d="M1458.4 907.8L1458.4 896.6" stroke="#000000" stroke-width="1.8"/>
<path d="M1443.9 896.6L1472.9 896.6" stroke="#000000" stroke-width="2"/>
<rect x="1501.7" y="906.6" width="52.5" height="245.4" fill="#fff" stroke="#3f8e9c" stroke-width="4"/>
<path d="M1528 906.6L1528 896.3" stroke="#3f8e9c" stroke-width="1.8"/>
<path d="M1513.5 896.3L1542.5 896.3" stroke="#3f8e9c" stroke-width="2"/>
<rect x="1571.2" y="1111.2" width="52.6" height="40.8" fill="#fff" stroke="#47e22b" stroke-width="4"/>
<path d="M1597.5 1111.2L1597.5 1108" stroke="#47e22b" stroke-width="1.8"/>
<path d="M1583 1108L1612 1108" stroke="#47e22b" stroke-width="2"/>
<rect x="1640.9" y="1035.1" width="52.5" height="116.9" fill="#fff" stroke="#f52a1c" stroke-width="4"/>
<path d="M1667.2 1035.1L1667.2 1027.5" stroke="#f52a1c" stroke-width="1.8"/>
<path d="M1652.7 1027.5L1681.7 1027.5" stroke="#f52a1c" stroke-width="2"/>
<path d="M1399 1152L1726 1152" stroke="#000" stroke-width="2.8"/>
<path d="M1596.8 1015.6V1009.6H1668.4V1015.6" fill="none" stroke="#000" stroke-width="4.2"/>
<text transform="translate(1620.9 1007.8) scale(1.150 1.000)" font-size="36" font-weight="bold" text-anchor="middle">*</text>
<text transform="translate(1642.1 1007.8) scale(1.150 1.000)" font-size="36" font-weight="bold" text-anchor="middle">*</text>
<text transform="translate(1593.6 853.7) scale(1.140 1.000)" font-size="40" font-weight="bold" text-anchor="middle">Calu-1</text>
<rect x="1744" y="963" width="29" height="13.5" fill="#fff" stroke="#000000" stroke-width="4"/>
<text transform="translate(1796.8 979.2) scale(1.175 1.000)" font-size="27" font-weight="bold">Ctrl</text>
<rect x="1744" y="998.9" width="29" height="13.5" fill="#fff" stroke="#3f8e9c" stroke-width="4"/>
<text transform="translate(1796.8 1015.1) scale(1.175 1.000)" font-size="27" font-weight="bold">Ctrl-4-PBA</text>
<rect x="1744" y="1033.8" width="29" height="13.5" fill="#fff" stroke="#47e22b" stroke-width="4"/>
<text transform="translate(1796.8 1050) scale(1.175 1.000)" font-size="27" font-weight="bold">CAP</text>
<rect x="1744" y="1068.8" width="29" height="13.5" fill="#fff" stroke="#f52a1c" stroke-width="4"/>
<text transform="translate(1796.8 1085) scale(1.175 1.000)" font-size="27" font-weight="bold">CAP-4-PBA</text>
<text transform="translate(1332.2 1003) rotate(-90)" font-size="30.1" font-weight="bold" text-anchor="middle">Cell viability (%)</text>
<path d="M150.9 1757.3L150.9 2107.7" stroke="#000" stroke-width="2.8"/>
<path d="M138 2106.2L150.9 2106.2" stroke="#000" stroke-width="2.6"/>
<text transform="translate(135.2 2115.9) scale(0.790 1.000)" font-size="27" font-weight="bold" text-anchor="end">0</text>
<path d="M138 2019.3L150.9 2019.3" stroke="#000" stroke-width="2.6"/>
<text transform="translate(135.2 2029) scale(0.790 1.000)" font-size="27" font-weight="bold" text-anchor="end">30</text>
<path d="M138 1932.3L150.9 1932.3" stroke="#000" stroke-width="2.6"/>
<text transform="translate(135.2 1942.1) scale(0.790 1.000)" font-size="27" font-weight="bold" text-anchor="end">60</text>
<path d="M138 1845.4L150.9 1845.4" stroke="#000" stroke-width="2.6"/>
<text transform="translate(135.2 1855.1) scale(0.790 1.000)" font-size="27" font-weight="bold" text-anchor="end">90</text>
<path d="M138 1758.5L150.9 1758.5" stroke="#000" stroke-width="2.6"/>
<text transform="translate(135.2 1768.2) scale(0.790 1.000)" font-size="27" font-weight="bold" text-anchor="end">120</text>
<rect x="171.2" y="1817.1" width="53.9" height="289.1" fill="#fff" stroke="#000000" stroke-width="4"/>
<path d="M198.2 1817.1L198.2 1806.7" stroke="#000000" stroke-width="1.8"/>
<path d="M183.7 1806.7L212.7 1806.7" stroke="#000000" stroke-width="2"/>
<rect x="242.2" y="1814.2" width="53.9" height="292" fill="#fff" stroke="#3f8e9c" stroke-width="4"/>
<path d="M269.1 1814.2L269.1 1800" stroke="#3f8e9c" stroke-width="1.8"/>
<path d="M254.6 1800L283.6 1800" stroke="#3f8e9c" stroke-width="2"/>
<rect x="313.2" y="1986.4" width="53.6" height="119.8" fill="#fff" stroke="#47e22b" stroke-width="4"/>
<path d="M340 1986.4L340 1964.9" stroke="#47e22b" stroke-width="1.8"/>
<path d="M325.5 1964.9L354.5 1964.9" stroke="#47e22b" stroke-width="2"/>
<rect x="383.9" y="2036.8" width="53.9" height="69.4" fill="#fff" stroke="#f52a1c" stroke-width="4"/>
<path d="M410.9 2036.8L410.9 2030" stroke="#f52a1c" stroke-width="1.8"/>
<path d="M396.4 2030L425.4 2030" stroke="#f52a1c" stroke-width="2"/>
<path d="M138 2106.2L471.7 2106.2" stroke="#000" stroke-width="2.8"/>
<path d="M358.8 1953.5V1942.5H419.5V1953.5" fill="none" stroke="#000" stroke-width="4.2"/>
<text transform="translate(389.2 1939.2) scale(0.850 1.000)" font-size="38.5" font-weight="bold" text-anchor="middle">*</text>
<text transform="translate(312.4 1748.6) scale(0.835 1.000)" font-size="47.4" font-weight="bold" text-anchor="middle">Calu-1</text>
<rect x="479.3" y="1862.2" width="24.7" height="17" fill="#fff" stroke="#000000" stroke-width="4"/>
<text transform="translate(525.5 1882.9) scale(0.810 1.000)" font-size="34.8" font-weight="bold">Ctrl</text>
<rect x="479.3" y="1905.6" width="24.7" height="17" fill="#fff" stroke="#3f8e9c" stroke-width="4"/>
<text transform="translate(525.5 1926.3) scale(0.810 1.000)" font-size="34.8" font-weight="bold">Ctrl-4-TM</text>
<rect x="479.3" y="1948.7" width="24.7" height="17" fill="#fff" stroke="#47e22b" stroke-width="4"/>
<text transform="translate(525.5 1969.4) scale(0.810 1.000)" font-size="34.8" font-weight="bold">CAP</text>
<rect x="479.3" y="1992.1" width="24.7" height="17" fill="#fff" stroke="#f52a1c" stroke-width="4"/>
<text transform="translate(525.5 2012.8) scale(0.810 1.000)" font-size="34.8" font-weight="bold">CAP-4-TM</text>
<text transform="translate(84.4 1931.6) rotate(-90)" font-size="35.3" font-weight="bold" text-anchor="middle">Cell viability (%)</text>
</svg>
</body></html>
